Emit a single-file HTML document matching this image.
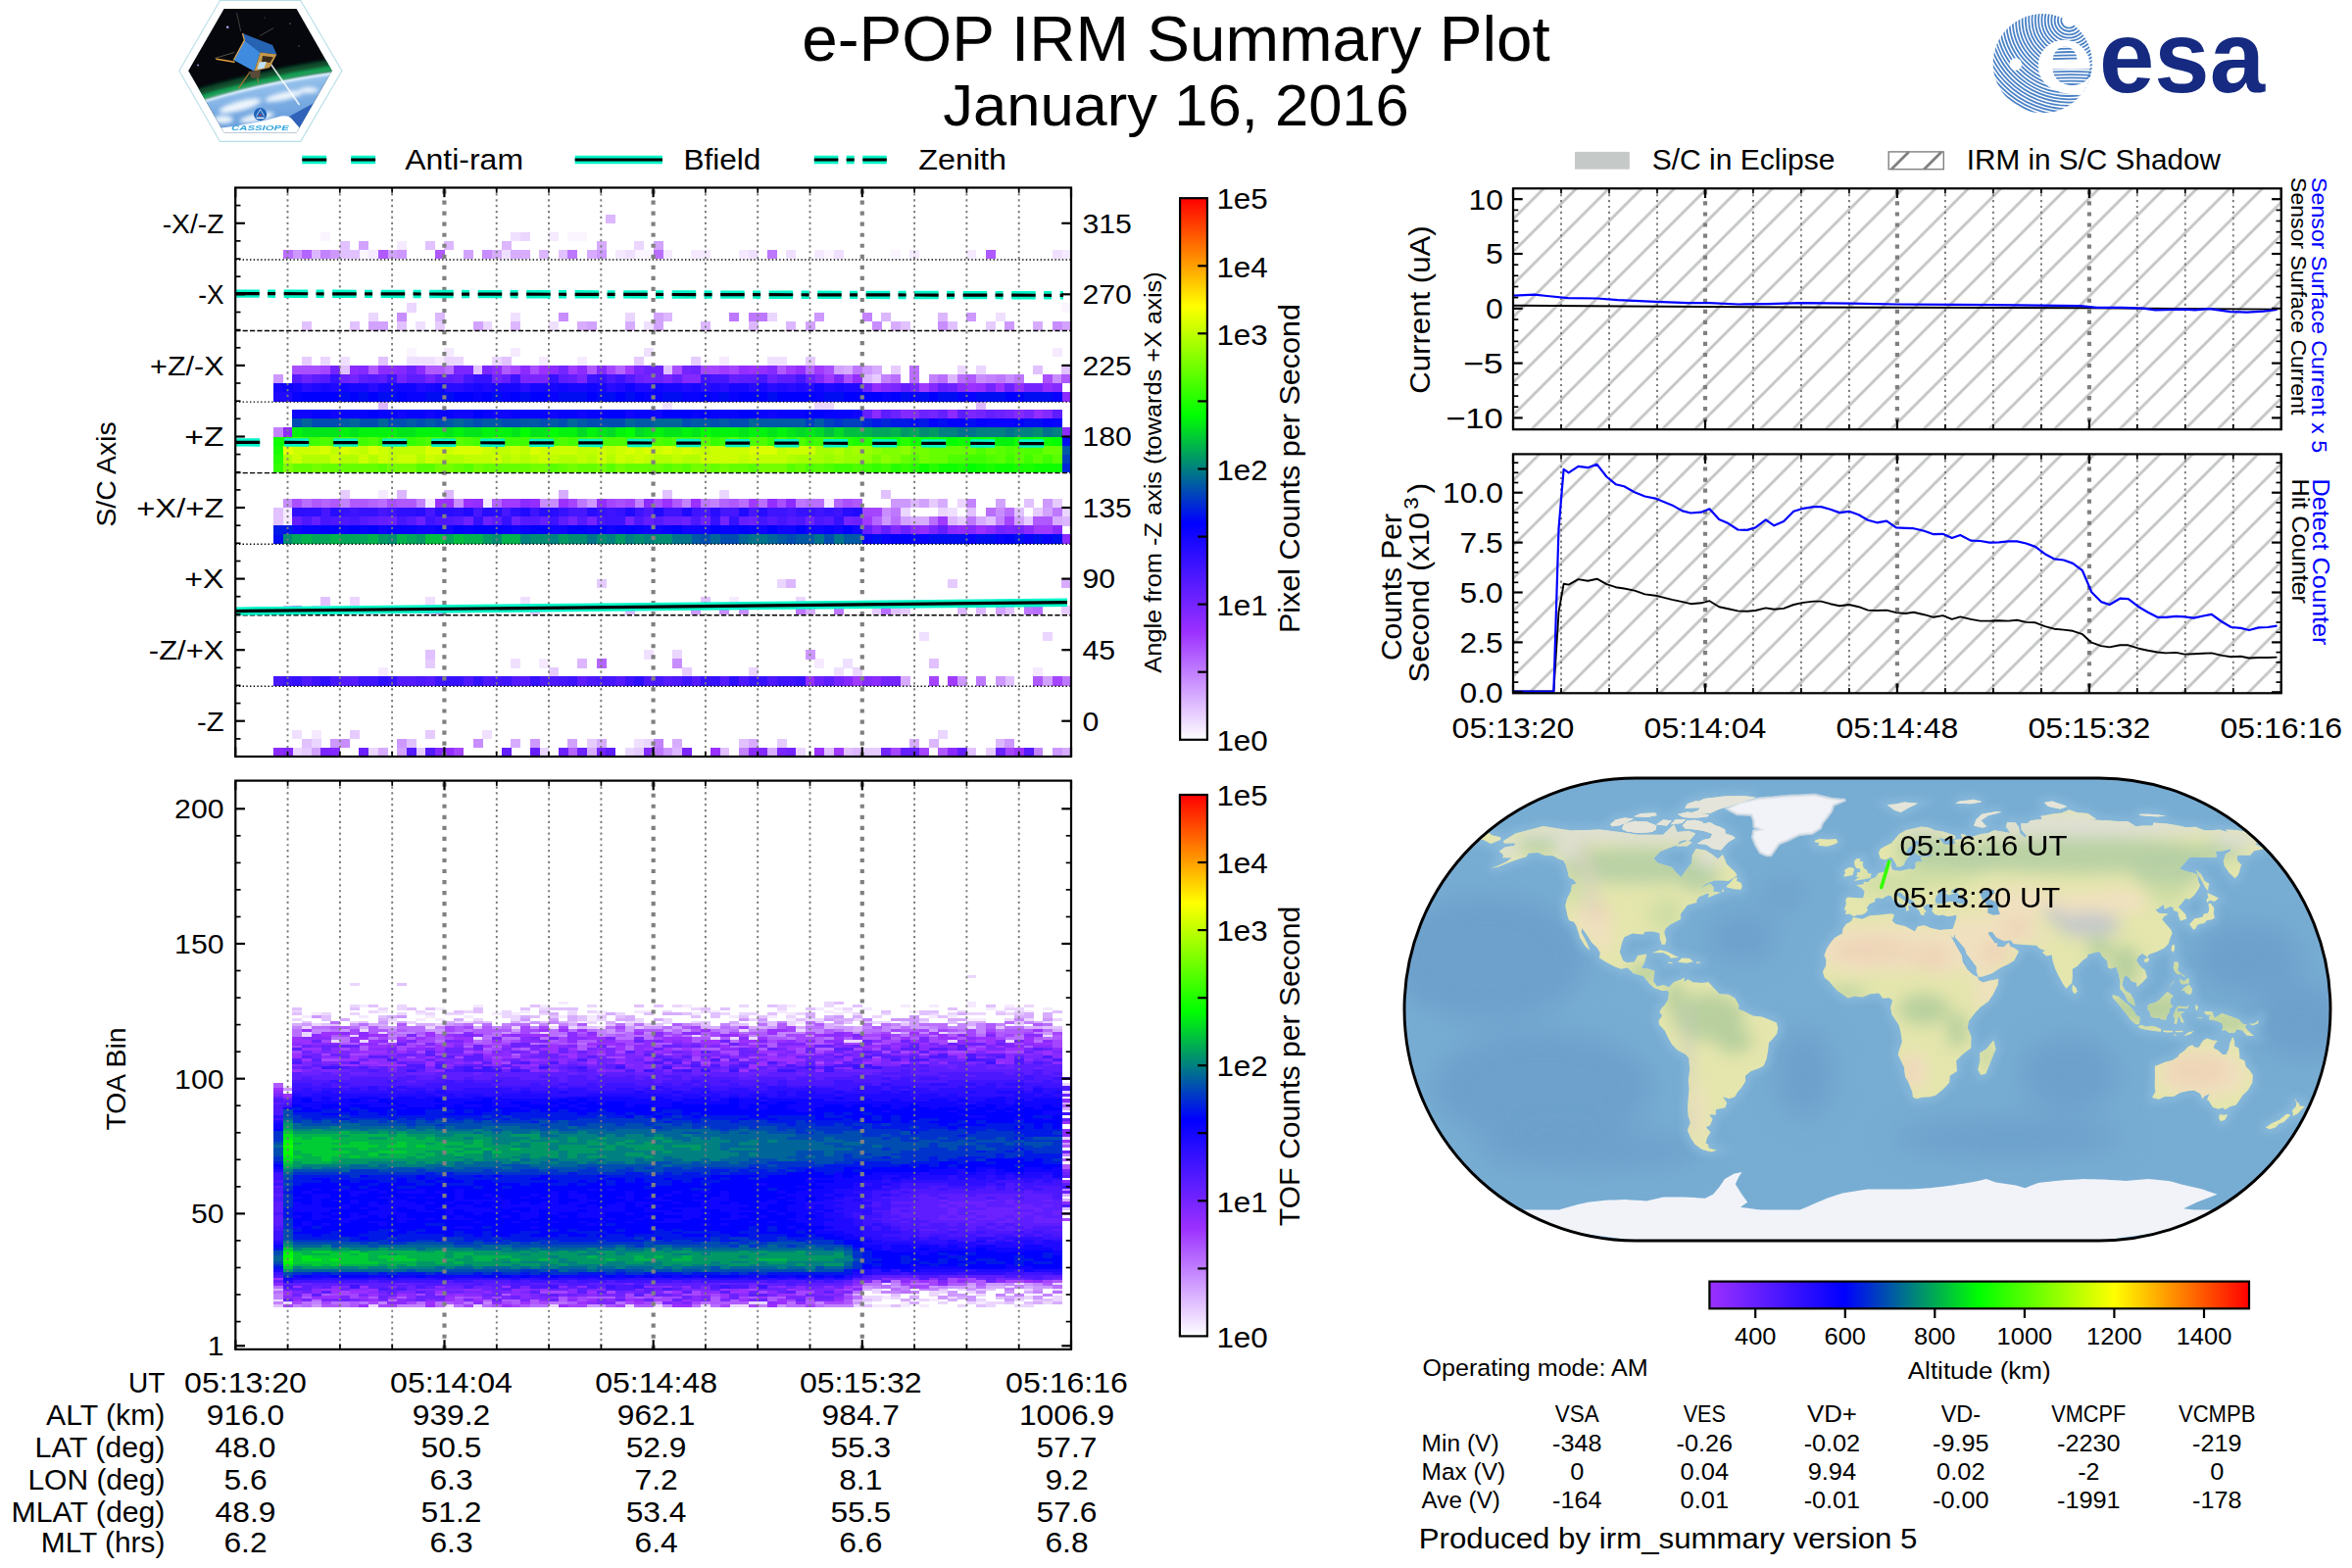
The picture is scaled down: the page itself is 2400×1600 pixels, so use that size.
<!DOCTYPE html>
<html><head><meta charset="utf-8"><title>e-POP IRM Summary Plot</title>
<style>html,body{margin:0;padding:0;background:#fff}svg{display:block}text{font-family:"Liberation Sans",sans-serif}</style>
</head><body>
<svg width="2400" height="1600" viewBox="0 0 2400 1600">
<rect width="2400" height="1600" fill="#fff"/>
<g shape-rendering="crispEdges"><path fill="#faf5ff" d="M414.6 354.8h10v9.4h-10zM1083.3 309.4h10v9.4h-10zM366.2 255h10v9.4h-10zM647.2 255h10v9.4h-10zM656.9 255h10v9.4h-10zM841 255h10v9.4h-10zM908.9 255h10v9.4h-10zM327.4 236.9h10v9.4h-10zM579.4 236.9h10v9.4h-10zM589.1 236.9h10v9.4h-10z"/><path fill="#f5eaff" d="M317.7 744.8h10v9.4h-10zM385.6 681.3h10v9.4h-10zM1054.2 681.3h10v9.4h-10zM550.3 672.2h10v9.4h-10zM831.3 672.2h10v9.4h-10zM744.1 608.7h10v9.4h-10zM288.7 527.1h10v9.4h-10zM288.7 518h10v9.4h-10zM434 509h10v9.4h-10zM492.2 509h10v9.4h-10zM841 509h10v9.4h-10zM385.6 499.9h10v9.4h-10zM443.7 363.8h10v9.4h-10zM550.3 363.8h10v9.4h-10zM589.1 363.8h10v9.4h-10zM734.4 363.8h10v9.4h-10zM453.4 354.8h10v9.4h-10zM521.2 354.8h10v9.4h-10zM1073.6 354.8h10v9.4h-10zM375.9 255h10v9.4h-10zM627.8 255h10v9.4h-10zM676.3 255h10v9.4h-10zM705.4 255h10v9.4h-10zM715.1 255h10v9.4h-10zM753.8 255h10v9.4h-10zM831.3 255h10v9.4h-10zM928.3 255h10v9.4h-10zM986.4 255h10v9.4h-10zM1083.3 255h10v9.4h-10zM404.9 245.9h10v9.4h-10zM560 236.9h10v9.4h-10z"/><path fill="#f0e0ff" d="M647.2 753.9h10v9.4h-10zM298.3 744.8h10v9.4h-10zM492.2 744.8h10v9.4h-10zM850.7 681.3h10v9.4h-10zM521.2 672.2h10v9.4h-10zM860.4 672.2h10v9.4h-10zM656.9 663.2h10v9.4h-10zM937.9 645h10v9.4h-10zM434 608.7h10v9.4h-10zM530.9 608.7h10v9.4h-10zM967 518h10v9.4h-10zM676.3 409.2h10v9.4h-10zM346.8 363.8h10v9.4h-10zM414.6 363.8h10v9.4h-10zM424.3 363.8h10v9.4h-10zM434 363.8h10v9.4h-10zM782.9 363.8h10v9.4h-10zM792.6 363.8h10v9.4h-10zM656.9 354.8h10v9.4h-10zM424.3 327.6h10v9.4h-10zM560 327.6h10v9.4h-10zM656.9 327.6h10v9.4h-10zM521.2 318.5h10v9.4h-10zM1015.5 318.5h10v9.4h-10zM511.5 255h10v9.4h-10zM637.5 255h10v9.4h-10zM763.5 255h10v9.4h-10zM802.3 255h10v9.4h-10zM850.7 255h10v9.4h-10zM1073.6 255h10v9.4h-10zM521.2 236.9h10v9.4h-10z"/><path fill="#ebd6ff" d="M298.3 762.9h10v9.4h-10zM375.9 762.9h10v9.4h-10zM550.3 762.9h10v9.4h-10zM637.5 762.9h10v9.4h-10zM812 762.9h10v9.4h-10zM317.7 753.9h10v9.4h-10zM656.9 753.9h10v9.4h-10zM957.3 744.8h10v9.4h-10zM763.5 681.3h10v9.4h-10zM870.1 681.3h10v9.4h-10zM686 663.2h10v9.4h-10zM1063.9 645h10v9.4h-10zM317.7 617.8h10v9.4h-10zM356.5 608.7h10v9.4h-10zM812 608.7h10v9.4h-10zM792.6 590.6h10v9.4h-10zM918.6 518h10v9.4h-10zM957.3 518h10v9.4h-10zM1083.3 518h10v9.4h-10zM976.7 509h10v9.4h-10zM734.4 499.9h10v9.4h-10zM831.3 409.2h10v9.4h-10zM841 409.2h10v9.4h-10zM976.7 372.9h10v9.4h-10zM996.1 372.9h10v9.4h-10zM327.4 363.8h10v9.4h-10zM453.4 363.8h10v9.4h-10zM463.1 363.8h10v9.4h-10zM501.9 363.8h10v9.4h-10zM492.2 327.6h10v9.4h-10zM375.9 318.5h10v9.4h-10zM637.5 318.5h10v9.4h-10zM782.9 318.5h10v9.4h-10zM414.6 309.4h10v9.4h-10zM647.2 245.9h10v9.4h-10zM530.9 236.9h10v9.4h-10z"/><path fill="#e6cbff" d="M308 762.9h10v9.4h-10zM424.3 762.9h10v9.4h-10zM647.2 762.9h10v9.4h-10zM879.8 762.9h10v9.4h-10zM889.5 762.9h10v9.4h-10zM1005.8 762.9h10v9.4h-10zM598.8 753.9h10v9.4h-10zM792.6 753.9h10v9.4h-10zM356.5 744.8h10v9.4h-10zM434 744.8h10v9.4h-10zM560 681.3h10v9.4h-10zM695.7 681.3h10v9.4h-10zM434 672.2h10v9.4h-10zM375.9 617.8h10v9.4h-10zM889.5 617.8h10v9.4h-10zM918.6 617.8h10v9.4h-10zM1083.3 617.8h10v9.4h-10zM608.5 590.6h10v9.4h-10zM967 590.6h10v9.4h-10zM976.7 527.1h10v9.4h-10zM1044.5 527.1h10v9.4h-10zM1054.2 518h10v9.4h-10zM947.6 509h10v9.4h-10zM1073.6 509h10v9.4h-10zM346.8 499.9h10v9.4h-10zM889.5 382h10v9.4h-10zM908.9 372.9h10v9.4h-10zM308 363.8h10v9.4h-10zM647.2 363.8h10v9.4h-10zM705.4 363.8h10v9.4h-10zM821.7 363.8h10v9.4h-10zM443.7 327.6h10v9.4h-10zM1005.8 327.6h10v9.4h-10z"/><path fill="#e1c1ff" d="M734.4 762.9h10v9.4h-10zM841 762.9h10v9.4h-10zM860.4 762.9h10v9.4h-10zM986.4 762.9h10v9.4h-10zM308 753.9h10v9.4h-10zM414.6 753.9h10v9.4h-10zM753.8 753.9h10v9.4h-10zM1025.2 690.4h10v9.4h-10zM947.6 672.2h10v9.4h-10zM434 663.2h10v9.4h-10zM434 617.8h10v9.4h-10zM540.6 617.8h10v9.4h-10zM908.9 617.8h10v9.4h-10zM1025.2 617.8h10v9.4h-10zM327.4 608.7h10v9.4h-10zM715.1 608.7h10v9.4h-10zM279 527.1h10v9.4h-10zM1005.8 527.1h10v9.4h-10zM279 518h10v9.4h-10zM986.4 518h10v9.4h-10zM1034.9 518h10v9.4h-10zM1044.5 509h10v9.4h-10zM676.3 499.9h10v9.4h-10zM899.2 499.9h10v9.4h-10zM346.8 372.9h10v9.4h-10zM482.5 372.9h10v9.4h-10zM676.3 372.9h10v9.4h-10zM1054.2 372.9h10v9.4h-10zM1083.3 372.9h10v9.4h-10zM385.6 363.8h10v9.4h-10zM511.5 363.8h10v9.4h-10zM308 327.6h10v9.4h-10zM356.5 327.6h10v9.4h-10zM404.9 327.6h10v9.4h-10zM918.6 327.6h10v9.4h-10zM967 327.6h10v9.4h-10zM346.8 255h10v9.4h-10zM356.5 255h10v9.4h-10zM569.7 255h10v9.4h-10zM346.8 245.9h10v9.4h-10zM434 245.9h10v9.4h-10z"/><path fill="#dcb7ff" d="M686 762.9h10v9.4h-10zM870.1 762.9h10v9.4h-10zM947.6 753.9h10v9.4h-10zM1015.5 753.9h10v9.4h-10zM589.1 672.2h10v9.4h-10zM288.7 617.8h10v9.4h-10zM637.5 617.8h10v9.4h-10zM976.7 617.8h10v9.4h-10zM996.1 617.8h10v9.4h-10zM802.3 590.6h10v9.4h-10zM967 527.1h10v9.4h-10zM1083.3 527.1h10v9.4h-10zM928.3 509h10v9.4h-10zM404.9 499.9h10v9.4h-10zM453.4 499.9h10v9.4h-10zM385.6 409.2h10v9.4h-10zM996.1 409.2h10v9.4h-10zM879.8 382h10v9.4h-10zM967 382h10v9.4h-10zM521.2 327.6h10v9.4h-10zM715.1 327.6h10v9.4h-10zM763.5 327.6h10v9.4h-10zM802.3 327.6h10v9.4h-10zM443.7 318.5h10v9.4h-10zM676.3 318.5h10v9.4h-10zM899.2 318.5h10v9.4h-10zM957.3 318.5h10v9.4h-10zM317.7 255h10v9.4h-10zM550.3 255h10v9.4h-10zM453.4 245.9h10v9.4h-10zM511.5 245.9h10v9.4h-10zM618.1 218.7h10v9.4h-10z"/><path fill="#d7acff" d="M385.6 762.9h10v9.4h-10zM598.8 762.9h10v9.4h-10zM782.9 762.9h10v9.4h-10zM1083.3 762.9h10v9.4h-10zM521.2 753.9h10v9.4h-10zM608.5 753.9h10v9.4h-10zM686 753.9h10v9.4h-10zM763.5 753.9h10v9.4h-10zM928.3 753.9h10v9.4h-10zM918.6 690.4h10v9.4h-10zM821.7 617.8h10v9.4h-10zM1083.3 590.6h10v9.4h-10zM928.3 527.1h10v9.4h-10zM937.9 527.1h10v9.4h-10zM996.1 527.1h10v9.4h-10zM1073.6 527.1h10v9.4h-10zM957.3 509h10v9.4h-10zM569.7 499.9h10v9.4h-10zM860.4 372.9h10v9.4h-10zM889.5 372.9h10v9.4h-10zM589.1 327.6h10v9.4h-10zM637.5 327.6h10v9.4h-10zM908.9 327.6h10v9.4h-10zM1054.2 327.6h10v9.4h-10zM501.9 255h10v9.4h-10zM521.2 255h10v9.4h-10zM530.9 255h10v9.4h-10zM598.8 255h10v9.4h-10zM608.5 245.9h10v9.4h-10z"/><path fill="#d2a2ff" d="M317.7 762.9h10v9.4h-10zM404.9 762.9h10v9.4h-10zM579.4 753.9h10v9.4h-10zM1063.9 690.4h10v9.4h-10zM1015.5 617.8h10v9.4h-10zM918.6 527.1h10v9.4h-10zM1034.9 527.1h10v9.4h-10zM1063.9 518h10v9.4h-10zM937.9 509h10v9.4h-10zM1015.5 509h10v9.4h-10zM850.7 372.9h10v9.4h-10zM375.9 327.6h10v9.4h-10zM385.6 327.6h10v9.4h-10zM482.5 327.6h10v9.4h-10zM598.8 327.6h10v9.4h-10zM666.6 327.6h10v9.4h-10zM821.7 327.6h10v9.4h-10zM1083.3 327.6h10v9.4h-10zM666.6 318.5h10v9.4h-10zM395.3 255h10v9.4h-10zM472.8 255h10v9.4h-10zM366.2 245.9h10v9.4h-10zM666.6 245.9h10v9.4h-10z"/><path fill="#cd98ff" d="M676.3 762.9h10v9.4h-10zM1073.6 762.9h10v9.4h-10zM337.1 753.9h10v9.4h-10zM404.9 753.9h10v9.4h-10zM540.6 753.9h10v9.4h-10zM1025.2 753.9h10v9.4h-10zM976.7 690.4h10v9.4h-10zM1015.5 690.4h10v9.4h-10zM821.7 663.2h10v9.4h-10zM443.7 617.8h10v9.4h-10zM705.4 617.8h10v9.4h-10zM899.2 527.1h10v9.4h-10zM598.8 509h10v9.4h-10zM908.9 509h10v9.4h-10zM918.6 509h10v9.4h-10zM1063.9 509h10v9.4h-10zM279 382h10v9.4h-10zM879.8 372.9h10v9.4h-10zM1025.2 327.6h10v9.4h-10zM831.3 318.5h10v9.4h-10zM986.4 318.5h10v9.4h-10zM298.3 255h10v9.4h-10zM337.1 255h10v9.4h-10zM404.9 255h10v9.4h-10zM608.5 255h10v9.4h-10z"/><path fill="#c88dff" d="M346.8 753.9h10v9.4h-10zM482.5 753.9h10v9.4h-10zM686 672.2h10v9.4h-10zM734.4 617.8h10v9.4h-10zM753.8 617.8h10v9.4h-10zM899.2 518h10v9.4h-10zM1015.5 518h10v9.4h-10zM288.7 509h10v9.4h-10zM463.1 509h10v9.4h-10zM550.3 509h10v9.4h-10zM560 509h10v9.4h-10zM996.1 382h10v9.4h-10zM1025.2 382h10v9.4h-10zM1073.6 382h10v9.4h-10zM889.5 327.6h10v9.4h-10zM957.3 327.6h10v9.4h-10zM1073.6 327.6h10v9.4h-10zM404.9 318.5h10v9.4h-10zM569.7 318.5h10v9.4h-10zM492.2 255h10v9.4h-10z"/><path fill="#c383ff" d="M753.8 762.9h10v9.4h-10zM1054.2 762.9h10v9.4h-10zM666.6 753.9h10v9.4h-10zM298.3 617.8h10v9.4h-10zM1015.5 527.1h10v9.4h-10zM346.8 509h10v9.4h-10zM424.3 509h10v9.4h-10zM647.2 509h10v9.4h-10zM695.7 509h10v9.4h-10zM724.7 509h10v9.4h-10zM986.4 509h10v9.4h-10zM279 436.4h10v9.4h-10zM899.2 382h10v9.4h-10zM947.6 382h10v9.4h-10zM1005.8 382h10v9.4h-10zM879.8 318.5h10v9.4h-10zM327.4 255h10v9.4h-10z"/><path fill="#be78ff" d="M666.6 762.9h10v9.4h-10zM996.1 690.4h10v9.4h-10zM1083.3 690.4h10v9.4h-10zM812 617.8h10v9.4h-10zM850.7 617.8h10v9.4h-10zM1044.5 617.8h10v9.4h-10zM986.4 527.1h10v9.4h-10zM908.9 518h10v9.4h-10zM1073.6 518h10v9.4h-10zM589.1 509h10v9.4h-10zM715.1 509h10v9.4h-10zM812 509h10v9.4h-10zM1015.5 382h10v9.4h-10zM1034.9 382h10v9.4h-10zM870.1 372.9h10v9.4h-10zM744.1 318.5h10v9.4h-10zM763.5 318.5h10v9.4h-10zM773.2 318.5h10v9.4h-10zM579.4 255h10v9.4h-10zM782.9 255h10v9.4h-10z"/><path fill="#b96eff" d="M899.2 617.8h10v9.4h-10zM1054.2 617.8h10v9.4h-10zM908.9 527.1h10v9.4h-10zM947.6 527.1h10v9.4h-10zM1005.8 518h10v9.4h-10zM1025.2 518h10v9.4h-10zM308 509h10v9.4h-10zM385.6 509h10v9.4h-10zM753.8 509h10v9.4h-10zM773.2 509h10v9.4h-10zM821.7 509h10v9.4h-10zM831.3 509h10v9.4h-10zM908.9 382h10v9.4h-10zM928.3 382h10v9.4h-10zM957.3 382h10v9.4h-10zM976.7 382h10v9.4h-10zM453.4 372.9h10v9.4h-10zM928.3 372.9h10v9.4h-10zM288.7 255h10v9.4h-10zM666.6 255h10v9.4h-10z"/><path fill="#b464ff" d="M579.4 762.9h10v9.4h-10zM608.5 672.2h10v9.4h-10zM889.5 527.1h10v9.4h-10zM327.4 509h10v9.4h-10zM375.9 509h10v9.4h-10zM501.9 509h10v9.4h-10zM734.4 509h10v9.4h-10zM850.7 509h10v9.4h-10zM627.8 372.9h10v9.4h-10zM821.7 372.9h10v9.4h-10zM308 255h10v9.4h-10z"/><path fill="#af59ff" d="M957.3 762.9h10v9.4h-10zM1054.2 690.4h10v9.4h-10zM1054.2 527.1h10v9.4h-10zM1063.9 527.1h10v9.4h-10zM317.7 509h10v9.4h-10zM337.1 509h10v9.4h-10zM356.5 509h10v9.4h-10zM366.2 509h10v9.4h-10zM404.9 509h10v9.4h-10zM414.6 509h10v9.4h-10zM686 509h10v9.4h-10zM744.1 509h10v9.4h-10zM870.1 509h10v9.4h-10zM986.4 382h10v9.4h-10zM1083.3 382h10v9.4h-10zM375.9 372.9h10v9.4h-10zM434 372.9h10v9.4h-10zM443.7 372.9h10v9.4h-10zM511.5 372.9h10v9.4h-10zM598.8 372.9h10v9.4h-10zM792.6 372.9h10v9.4h-10zM385.6 255h10v9.4h-10zM443.7 255h10v9.4h-10zM1005.8 255h10v9.4h-10z"/><path fill="#aa4fff" d="M298.3 509h10v9.4h-10zM395.3 509h10v9.4h-10zM627.8 509h10v9.4h-10zM666.6 509h10v9.4h-10zM792.6 509h10v9.4h-10zM860.4 509h10v9.4h-10zM860.4 382h10v9.4h-10zM1063.9 382h10v9.4h-10zM298.3 372.9h10v9.4h-10zM308 372.9h10v9.4h-10zM317.7 372.9h10v9.4h-10zM540.6 372.9h10v9.4h-10zM686 372.9h10v9.4h-10zM841 372.9h10v9.4h-10z"/><path fill="#a545ff" d="M463.1 762.9h10v9.4h-10zM908.9 762.9h10v9.4h-10zM937.9 762.9h10v9.4h-10zM1025.2 762.9h10v9.4h-10zM947.6 690.4h10v9.4h-10zM1073.6 690.4h10v9.4h-10zM1025.2 527.1h10v9.4h-10zM879.8 518h10v9.4h-10zM889.5 518h10v9.4h-10zM579.4 509h10v9.4h-10zM618.1 509h10v9.4h-10zM637.5 509h10v9.4h-10zM327.4 372.9h10v9.4h-10zM521.2 372.9h10v9.4h-10zM618.1 372.9h10v9.4h-10zM715.1 372.9h10v9.4h-10zM724.7 372.9h10v9.4h-10zM744.1 372.9h10v9.4h-10z"/><path fill="#a03aff" d="M850.7 762.9h10v9.4h-10zM870.1 690.4h10v9.4h-10zM967 690.4h10v9.4h-10zM1054.2 536.2h10v9.4h-10zM1063.9 536.2h10v9.4h-10zM879.8 527.1h10v9.4h-10zM957.3 527.1h10v9.4h-10zM511.5 509h10v9.4h-10zM521.2 509h10v9.4h-10zM763.5 509h10v9.4h-10zM937.9 391h10v9.4h-10zM841 382h10v9.4h-10zM579.4 372.9h10v9.4h-10zM637.5 372.9h10v9.4h-10zM734.4 372.9h10v9.4h-10zM802.3 372.9h10v9.4h-10zM831.3 372.9h10v9.4h-10z"/><path fill="#9b30ff" d="M724.7 762.9h10v9.4h-10zM831.3 762.9h10v9.4h-10zM1034.9 762.9h10v9.4h-10zM996.1 536.2h10v9.4h-10zM443.7 509h10v9.4h-10zM453.4 509h10v9.4h-10zM472.8 509h10v9.4h-10zM569.7 509h10v9.4h-10zM676.3 509h10v9.4h-10zM705.4 509h10v9.4h-10zM986.4 391h10v9.4h-10zM1015.5 391h10v9.4h-10zM550.3 372.9h10v9.4h-10zM763.5 372.9h10v9.4h-10z"/><path fill="#932eff" d="M453.4 762.9h10v9.4h-10zM821.7 690.4h10v9.4h-10zM937.9 536.2h10v9.4h-10zM976.7 536.2h10v9.4h-10zM482.5 509h10v9.4h-10zM540.6 509h10v9.4h-10zM608.5 509h10v9.4h-10zM782.9 509h10v9.4h-10zM1054.2 418.3h10v9.4h-10zM889.5 391h10v9.4h-10zM996.1 391h10v9.4h-10zM1034.9 391h10v9.4h-10zM1063.9 391h10v9.4h-10zM870.1 382h10v9.4h-10zM753.8 372.9h10v9.4h-10zM773.2 372.9h10v9.4h-10zM812 372.9h10v9.4h-10z"/><path fill="#8c2bff" d="M279 762.9h10v9.4h-10zM763.5 762.9h10v9.4h-10zM967 762.9h10v9.4h-10zM889.5 690.4h10v9.4h-10zM1083.3 545.2h10v9.4h-10zM928.3 536.2h10v9.4h-10zM967 536.2h10v9.4h-10zM1005.8 536.2h10v9.4h-10zM1044.5 536.2h10v9.4h-10zM1073.6 536.2h10v9.4h-10zM530.9 509h10v9.4h-10zM656.9 509h10v9.4h-10zM802.3 509h10v9.4h-10zM288.7 436.4h10v9.4h-10zM1083.3 436.4h10v9.4h-10zM889.5 418.3h10v9.4h-10zM967 418.3h10v9.4h-10zM1083.3 400.1h10v9.4h-10zM976.7 391h10v9.4h-10zM356.5 372.9h10v9.4h-10zM385.6 372.9h10v9.4h-10zM395.3 372.9h10v9.4h-10zM424.3 372.9h10v9.4h-10zM501.9 372.9h10v9.4h-10zM530.9 372.9h10v9.4h-10zM560 372.9h10v9.4h-10zM589.1 372.9h10v9.4h-10z"/><path fill="#8429ff" d="M288.7 762.9h10v9.4h-10zM337.1 762.9h10v9.4h-10zM443.7 762.9h10v9.4h-10zM656.9 762.9h10v9.4h-10zM773.2 762.9h10v9.4h-10zM860.4 690.4h10v9.4h-10zM879.8 690.4h10v9.4h-10zM889.5 536.2h10v9.4h-10zM908.9 536.2h10v9.4h-10zM986.4 536.2h10v9.4h-10zM918.6 418.3h10v9.4h-10zM928.3 418.3h10v9.4h-10zM1034.9 418.3h10v9.4h-10zM1063.9 418.3h10v9.4h-10zM899.2 391h10v9.4h-10zM947.6 391h10v9.4h-10zM1073.6 391h10v9.4h-10zM695.7 382h10v9.4h-10zM705.4 382h10v9.4h-10zM831.3 382h10v9.4h-10zM366.2 372.9h10v9.4h-10zM404.9 372.9h10v9.4h-10zM608.5 372.9h10v9.4h-10zM782.9 372.9h10v9.4h-10z"/><path fill="#7c26ff" d="M327.4 762.9h10v9.4h-10zM695.7 762.9h10v9.4h-10zM792.6 762.9h10v9.4h-10zM947.6 536.2h10v9.4h-10zM1025.2 536.2h10v9.4h-10zM986.4 418.3h10v9.4h-10zM908.9 391h10v9.4h-10zM530.9 382h10v9.4h-10zM540.6 382h10v9.4h-10zM550.3 382h10v9.4h-10zM589.1 382h10v9.4h-10zM676.3 382h10v9.4h-10zM850.7 382h10v9.4h-10zM463.1 372.9h10v9.4h-10zM472.8 372.9h10v9.4h-10zM492.2 372.9h10v9.4h-10zM647.2 372.9h10v9.4h-10z"/><path fill="#7424ff" d="M608.5 762.9h10v9.4h-10zM802.3 762.9h10v9.4h-10zM899.2 762.9h10v9.4h-10zM850.7 690.4h10v9.4h-10zM899.2 690.4h10v9.4h-10zM908.9 690.4h10v9.4h-10zM1015.5 536.2h10v9.4h-10zM1034.9 536.2h10v9.4h-10zM579.4 527.1h10v9.4h-10zM598.8 527.1h10v9.4h-10zM637.5 527.1h10v9.4h-10zM734.4 527.1h10v9.4h-10zM860.4 527.1h10v9.4h-10zM947.6 418.3h10v9.4h-10zM996.1 418.3h10v9.4h-10zM1025.2 418.3h10v9.4h-10zM1044.5 418.3h10v9.4h-10zM928.3 391h10v9.4h-10zM1005.8 391h10v9.4h-10zM1044.5 391h10v9.4h-10zM1054.2 391h10v9.4h-10zM356.5 382h10v9.4h-10zM404.9 382h10v9.4h-10zM434 382h10v9.4h-10zM501.9 382h10v9.4h-10zM656.9 382h10v9.4h-10zM337.1 372.9h10v9.4h-10zM569.7 372.9h10v9.4h-10zM695.7 372.9h10v9.4h-10z"/><path fill="#6c22ff" d="M366.2 762.9h10v9.4h-10zM569.7 762.9h10v9.4h-10zM589.1 762.9h10v9.4h-10zM1015.5 762.9h10v9.4h-10zM831.3 690.4h10v9.4h-10zM918.6 536.2h10v9.4h-10zM395.3 527.1h10v9.4h-10zM424.3 527.1h10v9.4h-10zM472.8 527.1h10v9.4h-10zM492.2 527.1h10v9.4h-10zM521.2 527.1h10v9.4h-10zM695.7 527.1h10v9.4h-10zM715.1 527.1h10v9.4h-10zM763.5 527.1h10v9.4h-10zM821.7 527.1h10v9.4h-10zM870.1 527.1h10v9.4h-10zM908.9 418.3h10v9.4h-10zM937.9 418.3h10v9.4h-10zM1015.5 418.3h10v9.4h-10zM879.8 391h10v9.4h-10zM967 391h10v9.4h-10zM1025.2 391h10v9.4h-10zM308 382h10v9.4h-10zM346.8 382h10v9.4h-10zM647.2 382h10v9.4h-10zM666.6 382h10v9.4h-10zM782.9 382h10v9.4h-10zM821.7 382h10v9.4h-10zM414.6 372.9h10v9.4h-10zM656.9 372.9h10v9.4h-10zM666.6 372.9h10v9.4h-10zM705.4 372.9h10v9.4h-10z"/><path fill="#651fff" d="M511.5 762.9h10v9.4h-10zM540.6 762.9h10v9.4h-10zM918.6 762.9h10v9.4h-10zM928.3 762.9h10v9.4h-10zM976.7 762.9h10v9.4h-10zM879.8 536.2h10v9.4h-10zM899.2 536.2h10v9.4h-10zM957.3 536.2h10v9.4h-10zM298.3 527.1h10v9.4h-10zM317.7 527.1h10v9.4h-10zM385.6 527.1h10v9.4h-10zM550.3 527.1h10v9.4h-10zM656.9 527.1h10v9.4h-10zM676.3 527.1h10v9.4h-10zM686 527.1h10v9.4h-10zM753.8 527.1h10v9.4h-10zM879.8 418.3h10v9.4h-10zM957.3 418.3h10v9.4h-10zM1005.8 418.3h10v9.4h-10zM918.6 391h10v9.4h-10zM957.3 391h10v9.4h-10zM463.1 382h10v9.4h-10zM511.5 382h10v9.4h-10zM579.4 382h10v9.4h-10zM686 382h10v9.4h-10zM744.1 382h10v9.4h-10z"/><path fill="#5d1dff" d="M618.1 762.9h10v9.4h-10zM589.1 690.4h10v9.4h-10zM841 690.4h10v9.4h-10zM375.9 527.1h10v9.4h-10zM501.9 527.1h10v9.4h-10zM569.7 527.1h10v9.4h-10zM899.2 418.3h10v9.4h-10zM976.7 418.3h10v9.4h-10zM1073.6 418.3h10v9.4h-10zM317.7 382h10v9.4h-10zM366.2 382h10v9.4h-10zM385.6 382h10v9.4h-10zM414.6 382h10v9.4h-10zM424.3 382h10v9.4h-10zM443.7 382h10v9.4h-10zM453.4 382h10v9.4h-10zM569.7 382h10v9.4h-10zM753.8 382h10v9.4h-10zM763.5 382h10v9.4h-10zM792.6 382h10v9.4h-10zM802.3 382h10v9.4h-10z"/><path fill="#551aff" d="M414.6 762.9h10v9.4h-10zM434 762.9h10v9.4h-10zM1044.5 762.9h10v9.4h-10zM346.8 690.4h10v9.4h-10zM356.5 690.4h10v9.4h-10zM404.9 690.4h10v9.4h-10zM414.6 690.4h10v9.4h-10zM434 690.4h10v9.4h-10zM521.2 690.4h10v9.4h-10zM530.9 690.4h10v9.4h-10zM627.8 690.4h10v9.4h-10zM676.3 690.4h10v9.4h-10zM705.4 690.4h10v9.4h-10zM734.4 690.4h10v9.4h-10zM366.2 527.1h10v9.4h-10zM414.6 527.1h10v9.4h-10zM463.1 527.1h10v9.4h-10zM530.9 527.1h10v9.4h-10zM540.6 527.1h10v9.4h-10zM589.1 527.1h10v9.4h-10zM666.6 527.1h10v9.4h-10zM782.9 527.1h10v9.4h-10zM802.3 527.1h10v9.4h-10zM841 527.1h10v9.4h-10zM298.3 382h10v9.4h-10zM327.4 382h10v9.4h-10zM375.9 382h10v9.4h-10zM637.5 382h10v9.4h-10z"/><path fill="#4e18ff" d="M308 690.4h10v9.4h-10zM424.3 690.4h10v9.4h-10zM472.8 690.4h10v9.4h-10zM492.2 690.4h10v9.4h-10zM550.3 690.4h10v9.4h-10zM560 690.4h10v9.4h-10zM598.8 690.4h10v9.4h-10zM656.9 690.4h10v9.4h-10zM686 690.4h10v9.4h-10zM753.8 690.4h10v9.4h-10zM782.9 690.4h10v9.4h-10zM308 527.1h10v9.4h-10zM337.1 527.1h10v9.4h-10zM346.8 527.1h10v9.4h-10zM443.7 527.1h10v9.4h-10zM453.4 527.1h10v9.4h-10zM647.2 527.1h10v9.4h-10zM705.4 527.1h10v9.4h-10zM812 527.1h10v9.4h-10zM831.3 527.1h10v9.4h-10zM656.9 518h10v9.4h-10zM618.1 382h10v9.4h-10z"/><path fill="#4616ff" d="M279 690.4h10v9.4h-10zM337.1 690.4h10v9.4h-10zM501.9 690.4h10v9.4h-10zM569.7 690.4h10v9.4h-10zM608.5 690.4h10v9.4h-10zM618.1 690.4h10v9.4h-10zM666.6 690.4h10v9.4h-10zM327.4 527.1h10v9.4h-10zM356.5 527.1h10v9.4h-10zM404.9 527.1h10v9.4h-10zM608.5 527.1h10v9.4h-10zM773.2 527.1h10v9.4h-10zM792.6 527.1h10v9.4h-10zM327.4 518h10v9.4h-10zM385.6 518h10v9.4h-10zM434 518h10v9.4h-10zM482.5 518h10v9.4h-10zM511.5 518h10v9.4h-10zM579.4 518h10v9.4h-10zM589.1 518h10v9.4h-10zM715.1 518h10v9.4h-10zM734.4 518h10v9.4h-10zM744.1 518h10v9.4h-10zM763.5 518h10v9.4h-10zM802.3 518h10v9.4h-10zM472.8 382h10v9.4h-10zM724.7 382h10v9.4h-10zM734.4 382h10v9.4h-10zM773.2 382h10v9.4h-10zM812 382h10v9.4h-10z"/><path fill="#3e13ff" d="M288.7 690.4h10v9.4h-10zM317.7 690.4h10v9.4h-10zM366.2 690.4h10v9.4h-10zM375.9 690.4h10v9.4h-10zM443.7 690.4h10v9.4h-10zM511.5 690.4h10v9.4h-10zM579.4 690.4h10v9.4h-10zM637.5 690.4h10v9.4h-10zM695.7 690.4h10v9.4h-10zM792.6 690.4h10v9.4h-10zM802.3 690.4h10v9.4h-10zM434 527.1h10v9.4h-10zM560 527.1h10v9.4h-10zM618.1 527.1h10v9.4h-10zM627.8 527.1h10v9.4h-10zM356.5 518h10v9.4h-10zM395.3 518h10v9.4h-10zM540.6 518h10v9.4h-10zM618.1 518h10v9.4h-10zM647.2 518h10v9.4h-10zM676.3 518h10v9.4h-10zM686 518h10v9.4h-10zM705.4 518h10v9.4h-10zM782.9 518h10v9.4h-10zM792.6 518h10v9.4h-10zM831.3 518h10v9.4h-10zM850.7 518h10v9.4h-10zM395.3 382h10v9.4h-10zM521.2 382h10v9.4h-10zM598.8 382h10v9.4h-10zM627.8 382h10v9.4h-10zM715.1 382h10v9.4h-10z"/><path fill="#3611ff" d="M298.3 690.4h10v9.4h-10zM395.3 690.4h10v9.4h-10zM453.4 690.4h10v9.4h-10zM463.1 690.4h10v9.4h-10zM482.5 690.4h10v9.4h-10zM540.6 690.4h10v9.4h-10zM715.1 690.4h10v9.4h-10zM724.7 690.4h10v9.4h-10zM763.5 690.4h10v9.4h-10zM773.2 690.4h10v9.4h-10zM812 690.4h10v9.4h-10zM482.5 527.1h10v9.4h-10zM511.5 527.1h10v9.4h-10zM724.7 527.1h10v9.4h-10zM744.1 527.1h10v9.4h-10zM850.7 527.1h10v9.4h-10zM346.8 518h10v9.4h-10zM366.2 518h10v9.4h-10zM375.9 518h10v9.4h-10zM569.7 518h10v9.4h-10zM608.5 518h10v9.4h-10zM627.8 518h10v9.4h-10zM812 518h10v9.4h-10zM821.7 518h10v9.4h-10zM841 518h10v9.4h-10zM337.1 382h10v9.4h-10zM482.5 382h10v9.4h-10zM492.2 382h10v9.4h-10zM560 382h10v9.4h-10zM608.5 382h10v9.4h-10z"/><path fill="#2e0eff" d="M327.4 690.4h10v9.4h-10zM385.6 690.4h10v9.4h-10zM647.2 690.4h10v9.4h-10zM744.1 690.4h10v9.4h-10zM298.3 518h10v9.4h-10zM308 518h10v9.4h-10zM317.7 518h10v9.4h-10zM404.9 518h10v9.4h-10zM414.6 518h10v9.4h-10zM463.1 518h10v9.4h-10zM521.2 518h10v9.4h-10z"/><path fill="#270cff" d="M337.1 518h10v9.4h-10zM424.3 518h10v9.4h-10zM443.7 518h10v9.4h-10zM453.4 518h10v9.4h-10zM492.2 518h10v9.4h-10zM501.9 518h10v9.4h-10zM550.3 518h10v9.4h-10zM560 518h10v9.4h-10zM598.8 518h10v9.4h-10zM724.7 518h10v9.4h-10zM773.2 518h10v9.4h-10zM860.4 518h10v9.4h-10zM308 391h10v9.4h-10zM375.9 391h10v9.4h-10zM453.4 391h10v9.4h-10zM463.1 391h10v9.4h-10zM530.9 391h10v9.4h-10zM618.1 391h10v9.4h-10zM715.1 391h10v9.4h-10zM734.4 391h10v9.4h-10zM763.5 391h10v9.4h-10zM782.9 391h10v9.4h-10zM802.3 391h10v9.4h-10zM821.7 391h10v9.4h-10z"/><path fill="#1f0aff" d="M472.8 518h10v9.4h-10zM530.9 518h10v9.4h-10zM637.5 518h10v9.4h-10zM666.6 518h10v9.4h-10zM695.7 518h10v9.4h-10zM753.8 518h10v9.4h-10zM870.1 518h10v9.4h-10zM279 400.1h10v9.4h-10zM288.7 400.1h10v9.4h-10zM317.7 391h10v9.4h-10zM337.1 391h10v9.4h-10zM424.3 391h10v9.4h-10zM472.8 391h10v9.4h-10zM492.2 391h10v9.4h-10zM627.8 391h10v9.4h-10zM647.2 391h10v9.4h-10zM656.9 391h10v9.4h-10zM695.7 391h10v9.4h-10zM724.7 391h10v9.4h-10zM792.6 391h10v9.4h-10zM812 391h10v9.4h-10zM841 391h10v9.4h-10zM860.4 391h10v9.4h-10zM870.1 391h10v9.4h-10z"/><path fill="#1707ff" d="M279 391h10v9.4h-10zM298.3 391h10v9.4h-10zM327.4 391h10v9.4h-10zM356.5 391h10v9.4h-10zM366.2 391h10v9.4h-10zM385.6 391h10v9.4h-10zM395.3 391h10v9.4h-10zM434 391h10v9.4h-10zM482.5 391h10v9.4h-10zM501.9 391h10v9.4h-10zM511.5 391h10v9.4h-10zM521.2 391h10v9.4h-10zM540.6 391h10v9.4h-10zM550.3 391h10v9.4h-10zM560 391h10v9.4h-10zM579.4 391h10v9.4h-10zM589.1 391h10v9.4h-10zM608.5 391h10v9.4h-10zM676.3 391h10v9.4h-10zM686 391h10v9.4h-10zM705.4 391h10v9.4h-10zM744.1 391h10v9.4h-10zM753.8 391h10v9.4h-10zM773.2 391h10v9.4h-10zM850.7 391h10v9.4h-10z"/><path fill="#1005ff" d="M298.3 536.2h10v9.4h-10zM385.6 536.2h10v9.4h-10zM424.3 536.2h10v9.4h-10zM434 536.2h10v9.4h-10zM453.4 536.2h10v9.4h-10zM521.2 536.2h10v9.4h-10zM560 536.2h10v9.4h-10zM569.7 536.2h10v9.4h-10zM618.1 536.2h10v9.4h-10zM656.9 536.2h10v9.4h-10zM666.6 536.2h10v9.4h-10zM695.7 536.2h10v9.4h-10zM705.4 536.2h10v9.4h-10zM715.1 536.2h10v9.4h-10zM773.2 536.2h10v9.4h-10zM792.6 536.2h10v9.4h-10zM802.3 536.2h10v9.4h-10zM821.7 536.2h10v9.4h-10zM831.3 536.2h10v9.4h-10zM850.7 536.2h10v9.4h-10zM870.1 536.2h10v9.4h-10zM298.3 418.3h10v9.4h-10zM308 418.3h10v9.4h-10zM337.1 418.3h10v9.4h-10zM404.9 418.3h10v9.4h-10zM434 418.3h10v9.4h-10zM463.1 418.3h10v9.4h-10zM472.8 418.3h10v9.4h-10zM501.9 418.3h10v9.4h-10zM511.5 418.3h10v9.4h-10zM560 418.3h10v9.4h-10zM589.1 418.3h10v9.4h-10zM637.5 418.3h10v9.4h-10zM666.6 418.3h10v9.4h-10zM782.9 418.3h10v9.4h-10zM870.1 418.3h10v9.4h-10zM288.7 391h10v9.4h-10zM346.8 391h10v9.4h-10zM404.9 391h10v9.4h-10zM414.6 391h10v9.4h-10zM443.7 391h10v9.4h-10zM569.7 391h10v9.4h-10zM598.8 391h10v9.4h-10zM637.5 391h10v9.4h-10zM666.6 391h10v9.4h-10zM831.3 391h10v9.4h-10z"/><path fill="#0802ff" d="M879.8 545.2h10v9.4h-10zM899.2 545.2h10v9.4h-10zM928.3 545.2h10v9.4h-10zM937.9 545.2h10v9.4h-10zM986.4 545.2h10v9.4h-10zM1015.5 545.2h10v9.4h-10zM1044.5 545.2h10v9.4h-10zM1063.9 545.2h10v9.4h-10zM308 536.2h10v9.4h-10zM317.7 536.2h10v9.4h-10zM346.8 536.2h10v9.4h-10zM366.2 536.2h10v9.4h-10zM395.3 536.2h10v9.4h-10zM404.9 536.2h10v9.4h-10zM414.6 536.2h10v9.4h-10zM443.7 536.2h10v9.4h-10zM472.8 536.2h10v9.4h-10zM511.5 536.2h10v9.4h-10zM530.9 536.2h10v9.4h-10zM598.8 536.2h10v9.4h-10zM627.8 536.2h10v9.4h-10zM647.2 536.2h10v9.4h-10zM676.3 536.2h10v9.4h-10zM734.4 536.2h10v9.4h-10zM744.1 536.2h10v9.4h-10zM763.5 536.2h10v9.4h-10zM841 536.2h10v9.4h-10zM1005.8 427.3h10v9.4h-10zM1015.5 427.3h10v9.4h-10zM1025.2 427.3h10v9.4h-10zM1073.6 427.3h10v9.4h-10zM317.7 418.3h10v9.4h-10zM327.4 418.3h10v9.4h-10zM346.8 418.3h10v9.4h-10zM356.5 418.3h10v9.4h-10zM366.2 418.3h10v9.4h-10zM385.6 418.3h10v9.4h-10zM395.3 418.3h10v9.4h-10zM414.6 418.3h10v9.4h-10zM424.3 418.3h10v9.4h-10zM443.7 418.3h10v9.4h-10zM453.4 418.3h10v9.4h-10zM492.2 418.3h10v9.4h-10zM521.2 418.3h10v9.4h-10zM530.9 418.3h10v9.4h-10zM540.6 418.3h10v9.4h-10zM550.3 418.3h10v9.4h-10zM569.7 418.3h10v9.4h-10zM579.4 418.3h10v9.4h-10zM598.8 418.3h10v9.4h-10zM608.5 418.3h10v9.4h-10zM647.2 418.3h10v9.4h-10zM656.9 418.3h10v9.4h-10zM705.4 418.3h10v9.4h-10zM724.7 418.3h10v9.4h-10zM734.4 418.3h10v9.4h-10zM744.1 418.3h10v9.4h-10zM773.2 418.3h10v9.4h-10zM792.6 418.3h10v9.4h-10zM802.3 418.3h10v9.4h-10zM812 418.3h10v9.4h-10zM841 418.3h10v9.4h-10zM850.7 418.3h10v9.4h-10zM860.4 418.3h10v9.4h-10zM298.3 400.1h10v9.4h-10zM414.6 400.1h10v9.4h-10zM424.3 400.1h10v9.4h-10zM482.5 400.1h10v9.4h-10zM511.5 400.1h10v9.4h-10zM560 400.1h10v9.4h-10zM656.9 400.1h10v9.4h-10zM666.6 400.1h10v9.4h-10zM695.7 400.1h10v9.4h-10zM705.4 400.1h10v9.4h-10zM724.7 400.1h10v9.4h-10zM744.1 400.1h10v9.4h-10zM831.3 400.1h10v9.4h-10zM899.2 400.1h10v9.4h-10zM928.3 400.1h10v9.4h-10zM976.7 400.1h10v9.4h-10zM986.4 400.1h10v9.4h-10zM1073.6 400.1h10v9.4h-10z"/><path fill="#0000ff" d="M908.9 545.2h10v9.4h-10zM918.6 545.2h10v9.4h-10zM1025.2 545.2h10v9.4h-10zM327.4 536.2h10v9.4h-10zM337.1 536.2h10v9.4h-10zM356.5 536.2h10v9.4h-10zM375.9 536.2h10v9.4h-10zM463.1 536.2h10v9.4h-10zM482.5 536.2h10v9.4h-10zM492.2 536.2h10v9.4h-10zM501.9 536.2h10v9.4h-10zM540.6 536.2h10v9.4h-10zM550.3 536.2h10v9.4h-10zM579.4 536.2h10v9.4h-10zM589.1 536.2h10v9.4h-10zM608.5 536.2h10v9.4h-10zM637.5 536.2h10v9.4h-10zM686 536.2h10v9.4h-10zM724.7 536.2h10v9.4h-10zM753.8 536.2h10v9.4h-10zM782.9 536.2h10v9.4h-10zM812 536.2h10v9.4h-10zM860.4 536.2h10v9.4h-10zM947.6 427.3h10v9.4h-10zM967 427.3h10v9.4h-10zM976.7 427.3h10v9.4h-10zM996.1 427.3h10v9.4h-10zM1034.9 427.3h10v9.4h-10zM1063.9 427.3h10v9.4h-10zM375.9 418.3h10v9.4h-10zM482.5 418.3h10v9.4h-10zM618.1 418.3h10v9.4h-10zM627.8 418.3h10v9.4h-10zM676.3 418.3h10v9.4h-10zM686 418.3h10v9.4h-10zM695.7 418.3h10v9.4h-10zM715.1 418.3h10v9.4h-10zM753.8 418.3h10v9.4h-10zM763.5 418.3h10v9.4h-10zM821.7 418.3h10v9.4h-10zM831.3 418.3h10v9.4h-10zM308 400.1h10v9.4h-10zM317.7 400.1h10v9.4h-10zM327.4 400.1h10v9.4h-10zM337.1 400.1h10v9.4h-10zM356.5 400.1h10v9.4h-10zM375.9 400.1h10v9.4h-10zM404.9 400.1h10v9.4h-10zM463.1 400.1h10v9.4h-10zM472.8 400.1h10v9.4h-10zM492.2 400.1h10v9.4h-10zM521.2 400.1h10v9.4h-10zM540.6 400.1h10v9.4h-10zM550.3 400.1h10v9.4h-10zM598.8 400.1h10v9.4h-10zM627.8 400.1h10v9.4h-10zM647.2 400.1h10v9.4h-10zM715.1 400.1h10v9.4h-10zM753.8 400.1h10v9.4h-10zM763.5 400.1h10v9.4h-10zM773.2 400.1h10v9.4h-10zM792.6 400.1h10v9.4h-10zM802.3 400.1h10v9.4h-10zM812 400.1h10v9.4h-10zM821.7 400.1h10v9.4h-10zM860.4 400.1h10v9.4h-10zM870.1 400.1h10v9.4h-10zM879.8 400.1h10v9.4h-10zM889.5 400.1h10v9.4h-10zM908.9 400.1h10v9.4h-10zM947.6 400.1h10v9.4h-10zM1025.2 400.1h10v9.4h-10zM1034.9 400.1h10v9.4h-10z"/><path fill="#000df2" d="M279 545.2h10v9.4h-10zM889.5 545.2h10v9.4h-10zM947.6 545.2h10v9.4h-10zM957.3 545.2h10v9.4h-10zM967 545.2h10v9.4h-10zM976.7 545.2h10v9.4h-10zM996.1 545.2h10v9.4h-10zM1005.8 545.2h10v9.4h-10zM1034.9 545.2h10v9.4h-10zM1054.2 545.2h10v9.4h-10zM1073.6 545.2h10v9.4h-10zM1083.3 445.5h10v9.4h-10zM928.3 427.3h10v9.4h-10zM957.3 427.3h10v9.4h-10zM986.4 427.3h10v9.4h-10zM1044.5 427.3h10v9.4h-10zM1054.2 427.3h10v9.4h-10zM346.8 400.1h10v9.4h-10zM366.2 400.1h10v9.4h-10zM385.6 400.1h10v9.4h-10zM395.3 400.1h10v9.4h-10zM434 400.1h10v9.4h-10zM443.7 400.1h10v9.4h-10zM453.4 400.1h10v9.4h-10zM501.9 400.1h10v9.4h-10zM530.9 400.1h10v9.4h-10zM569.7 400.1h10v9.4h-10zM579.4 400.1h10v9.4h-10zM589.1 400.1h10v9.4h-10zM608.5 400.1h10v9.4h-10zM618.1 400.1h10v9.4h-10zM637.5 400.1h10v9.4h-10zM676.3 400.1h10v9.4h-10zM686 400.1h10v9.4h-10zM734.4 400.1h10v9.4h-10zM782.9 400.1h10v9.4h-10zM841 400.1h10v9.4h-10zM850.7 400.1h10v9.4h-10zM918.6 400.1h10v9.4h-10zM937.9 400.1h10v9.4h-10zM957.3 400.1h10v9.4h-10zM967 400.1h10v9.4h-10zM996.1 400.1h10v9.4h-10zM1005.8 400.1h10v9.4h-10zM1015.5 400.1h10v9.4h-10zM1044.5 400.1h10v9.4h-10zM1054.2 400.1h10v9.4h-10zM1063.9 400.1h10v9.4h-10z"/><path fill="#0019e6" d="M279 536.2h10v9.4h-10zM288.7 536.2h10v9.4h-10zM889.5 427.3h10v9.4h-10zM908.9 427.3h10v9.4h-10zM918.6 427.3h10v9.4h-10zM937.9 427.3h10v9.4h-10z"/><path fill="#0026d9" d="M1083.3 472.7h10v9.4h-10zM879.8 427.3h10v9.4h-10zM899.2 427.3h10v9.4h-10z"/><path fill="#0033cc" d="M850.7 427.3h10v9.4h-10z"/><path fill="#0040bf" d="M1083.3 463.6h10v9.4h-10zM821.7 427.3h10v9.4h-10zM841 427.3h10v9.4h-10zM860.4 427.3h10v9.4h-10zM870.1 427.3h10v9.4h-10z"/><path fill="#004db2" d="M715.1 545.2h10v9.4h-10zM734.4 545.2h10v9.4h-10zM744.1 545.2h10v9.4h-10zM802.3 545.2h10v9.4h-10zM841 545.2h10v9.4h-10zM298.3 427.3h10v9.4h-10zM317.7 427.3h10v9.4h-10zM327.4 427.3h10v9.4h-10zM337.1 427.3h10v9.4h-10zM366.2 427.3h10v9.4h-10zM375.9 427.3h10v9.4h-10zM395.3 427.3h10v9.4h-10zM404.9 427.3h10v9.4h-10zM424.3 427.3h10v9.4h-10zM443.7 427.3h10v9.4h-10zM482.5 427.3h10v9.4h-10zM511.5 427.3h10v9.4h-10zM521.2 427.3h10v9.4h-10zM550.3 427.3h10v9.4h-10zM569.7 427.3h10v9.4h-10zM598.8 427.3h10v9.4h-10zM608.5 427.3h10v9.4h-10zM618.1 427.3h10v9.4h-10zM627.8 427.3h10v9.4h-10zM695.7 427.3h10v9.4h-10zM724.7 427.3h10v9.4h-10zM744.1 427.3h10v9.4h-10zM753.8 427.3h10v9.4h-10z"/><path fill="#0059a6" d="M705.4 545.2h10v9.4h-10zM792.6 545.2h10v9.4h-10zM812 545.2h10v9.4h-10zM821.7 545.2h10v9.4h-10zM860.4 545.2h10v9.4h-10zM870.1 545.2h10v9.4h-10zM1083.3 454.5h10v9.4h-10zM346.8 427.3h10v9.4h-10zM414.6 427.3h10v9.4h-10zM434 427.3h10v9.4h-10zM453.4 427.3h10v9.4h-10zM472.8 427.3h10v9.4h-10zM492.2 427.3h10v9.4h-10zM501.9 427.3h10v9.4h-10zM530.9 427.3h10v9.4h-10zM540.6 427.3h10v9.4h-10zM560 427.3h10v9.4h-10zM589.1 427.3h10v9.4h-10zM647.2 427.3h10v9.4h-10zM656.9 427.3h10v9.4h-10zM705.4 427.3h10v9.4h-10zM715.1 427.3h10v9.4h-10zM734.4 427.3h10v9.4h-10zM773.2 427.3h10v9.4h-10zM782.9 427.3h10v9.4h-10zM792.6 427.3h10v9.4h-10zM802.3 427.3h10v9.4h-10zM812 427.3h10v9.4h-10zM831.3 427.3h10v9.4h-10z"/><path fill="#006699" d="M724.7 545.2h10v9.4h-10zM753.8 545.2h10v9.4h-10zM782.9 545.2h10v9.4h-10zM308 427.3h10v9.4h-10zM356.5 427.3h10v9.4h-10zM385.6 427.3h10v9.4h-10zM463.1 427.3h10v9.4h-10zM579.4 427.3h10v9.4h-10zM637.5 427.3h10v9.4h-10zM666.6 427.3h10v9.4h-10zM676.3 427.3h10v9.4h-10zM686 427.3h10v9.4h-10zM763.5 427.3h10v9.4h-10z"/><path fill="#00738c" d="M598.8 545.2h10v9.4h-10zM686 545.2h10v9.4h-10zM695.7 545.2h10v9.4h-10zM763.5 545.2h10v9.4h-10zM773.2 545.2h10v9.4h-10zM831.3 545.2h10v9.4h-10zM850.7 545.2h10v9.4h-10zM976.7 436.4h10v9.4h-10zM986.4 436.4h10v9.4h-10zM1025.2 436.4h10v9.4h-10zM1063.9 436.4h10v9.4h-10z"/><path fill="#008080" d="M530.9 545.2h10v9.4h-10zM560 545.2h10v9.4h-10zM618.1 545.2h10v9.4h-10zM637.5 545.2h10v9.4h-10zM656.9 545.2h10v9.4h-10zM957.3 436.4h10v9.4h-10zM967 436.4h10v9.4h-10zM996.1 436.4h10v9.4h-10zM1005.8 436.4h10v9.4h-10zM1015.5 436.4h10v9.4h-10zM1034.9 436.4h10v9.4h-10zM1044.5 436.4h10v9.4h-10zM1073.6 436.4h10v9.4h-10z"/><path fill="#008c73" d="M288.7 545.2h10v9.4h-10zM395.3 545.2h10v9.4h-10zM501.9 545.2h10v9.4h-10zM540.6 545.2h10v9.4h-10zM550.3 545.2h10v9.4h-10zM579.4 545.2h10v9.4h-10zM589.1 545.2h10v9.4h-10zM608.5 545.2h10v9.4h-10zM647.2 545.2h10v9.4h-10zM666.6 545.2h10v9.4h-10zM676.3 545.2h10v9.4h-10zM937.9 436.4h10v9.4h-10zM1054.2 436.4h10v9.4h-10z"/><path fill="#009966" d="M385.6 545.2h10v9.4h-10zM424.3 545.2h10v9.4h-10zM492.2 545.2h10v9.4h-10zM569.7 545.2h10v9.4h-10zM627.8 545.2h10v9.4h-10zM918.6 436.4h10v9.4h-10zM947.6 436.4h10v9.4h-10z"/><path fill="#00a659" d="M298.3 545.2h10v9.4h-10zM317.7 545.2h10v9.4h-10zM327.4 545.2h10v9.4h-10zM346.8 545.2h10v9.4h-10zM356.5 545.2h10v9.4h-10zM366.2 545.2h10v9.4h-10zM414.6 545.2h10v9.4h-10zM453.4 545.2h10v9.4h-10zM889.5 436.4h10v9.4h-10zM899.2 436.4h10v9.4h-10zM928.3 436.4h10v9.4h-10z"/><path fill="#00b34c" d="M308 545.2h10v9.4h-10zM337.1 545.2h10v9.4h-10zM375.9 545.2h10v9.4h-10zM404.9 545.2h10v9.4h-10zM472.8 545.2h10v9.4h-10zM482.5 545.2h10v9.4h-10zM511.5 545.2h10v9.4h-10zM521.2 545.2h10v9.4h-10zM879.8 436.4h10v9.4h-10zM908.9 436.4h10v9.4h-10z"/><path fill="#00bf40" d="M434 545.2h10v9.4h-10zM443.7 545.2h10v9.4h-10zM463.1 545.2h10v9.4h-10zM841 436.4h10v9.4h-10zM860.4 436.4h10v9.4h-10zM870.1 436.4h10v9.4h-10z"/><path fill="#00d926" d="M589.1 436.4h10v9.4h-10zM618.1 436.4h10v9.4h-10zM647.2 436.4h10v9.4h-10zM812 436.4h10v9.4h-10zM831.3 436.4h10v9.4h-10zM850.7 436.4h10v9.4h-10z"/><path fill="#00e51a" d="M308 436.4h10v9.4h-10zM317.7 436.4h10v9.4h-10zM327.4 436.4h10v9.4h-10zM337.1 436.4h10v9.4h-10zM356.5 436.4h10v9.4h-10zM404.9 436.4h10v9.4h-10zM414.6 436.4h10v9.4h-10zM453.4 436.4h10v9.4h-10zM472.8 436.4h10v9.4h-10zM482.5 436.4h10v9.4h-10zM521.2 436.4h10v9.4h-10zM540.6 436.4h10v9.4h-10zM550.3 436.4h10v9.4h-10zM608.5 436.4h10v9.4h-10zM656.9 436.4h10v9.4h-10zM676.3 436.4h10v9.4h-10zM686 436.4h10v9.4h-10zM705.4 436.4h10v9.4h-10zM753.8 436.4h10v9.4h-10zM782.9 436.4h10v9.4h-10zM802.3 436.4h10v9.4h-10zM821.7 436.4h10v9.4h-10z"/><path fill="#00f20d" d="M1015.5 445.5h10v9.4h-10zM1025.2 445.5h10v9.4h-10zM298.3 436.4h10v9.4h-10zM346.8 436.4h10v9.4h-10zM366.2 436.4h10v9.4h-10zM375.9 436.4h10v9.4h-10zM385.6 436.4h10v9.4h-10zM395.3 436.4h10v9.4h-10zM424.3 436.4h10v9.4h-10zM434 436.4h10v9.4h-10zM443.7 436.4h10v9.4h-10zM463.1 436.4h10v9.4h-10zM492.2 436.4h10v9.4h-10zM501.9 436.4h10v9.4h-10zM511.5 436.4h10v9.4h-10zM569.7 436.4h10v9.4h-10zM579.4 436.4h10v9.4h-10zM598.8 436.4h10v9.4h-10zM627.8 436.4h10v9.4h-10zM666.6 436.4h10v9.4h-10zM695.7 436.4h10v9.4h-10zM724.7 436.4h10v9.4h-10zM734.4 436.4h10v9.4h-10zM744.1 436.4h10v9.4h-10zM763.5 436.4h10v9.4h-10zM773.2 436.4h10v9.4h-10zM792.6 436.4h10v9.4h-10z"/><path fill="#00ff00" d="M986.4 472.7h10v9.4h-10zM967 445.5h10v9.4h-10zM986.4 445.5h10v9.4h-10zM996.1 445.5h10v9.4h-10zM1044.5 445.5h10v9.4h-10zM1073.6 445.5h10v9.4h-10zM530.9 436.4h10v9.4h-10zM560 436.4h10v9.4h-10zM637.5 436.4h10v9.4h-10zM715.1 436.4h10v9.4h-10z"/><path fill="#0dff00" d="M937.9 472.7h10v9.4h-10zM957.3 472.7h10v9.4h-10zM967 472.7h10v9.4h-10zM996.1 472.7h10v9.4h-10zM1015.5 472.7h10v9.4h-10zM1025.2 472.7h10v9.4h-10zM1054.2 472.7h10v9.4h-10zM1063.9 472.7h10v9.4h-10zM1073.6 472.7h10v9.4h-10zM279 445.5h10v9.4h-10zM899.2 445.5h10v9.4h-10zM908.9 445.5h10v9.4h-10zM928.3 445.5h10v9.4h-10zM937.9 445.5h10v9.4h-10zM947.6 445.5h10v9.4h-10zM957.3 445.5h10v9.4h-10zM976.7 445.5h10v9.4h-10zM1005.8 445.5h10v9.4h-10zM1034.9 445.5h10v9.4h-10zM1054.2 445.5h10v9.4h-10zM1063.9 445.5h10v9.4h-10z"/><path fill="#1aff00" d="M976.7 472.7h10v9.4h-10zM1005.8 472.7h10v9.4h-10zM1034.9 472.7h10v9.4h-10zM1044.5 472.7h10v9.4h-10zM279 454.5h10v9.4h-10zM288.7 445.5h10v9.4h-10zM870.1 445.5h10v9.4h-10zM889.5 445.5h10v9.4h-10z"/><path fill="#26ff00" d="M908.9 472.7h10v9.4h-10zM928.3 472.7h10v9.4h-10zM947.6 472.7h10v9.4h-10zM279 463.6h10v9.4h-10zM850.7 445.5h10v9.4h-10zM860.4 445.5h10v9.4h-10zM879.8 445.5h10v9.4h-10zM918.6 445.5h10v9.4h-10z"/><path fill="#33ff00" d="M279 472.7h10v9.4h-10zM889.5 472.7h10v9.4h-10zM918.6 472.7h10v9.4h-10zM385.6 445.5h10v9.4h-10zM414.6 445.5h10v9.4h-10zM492.2 445.5h10v9.4h-10zM724.7 445.5h10v9.4h-10zM753.8 445.5h10v9.4h-10zM782.9 445.5h10v9.4h-10zM802.3 445.5h10v9.4h-10zM821.7 445.5h10v9.4h-10z"/><path fill="#40ff00" d="M850.7 472.7h10v9.4h-10zM860.4 472.7h10v9.4h-10zM879.8 472.7h10v9.4h-10zM899.2 472.7h10v9.4h-10zM986.4 463.6h10v9.4h-10zM996.1 463.6h10v9.4h-10zM1025.2 463.6h10v9.4h-10zM1044.5 463.6h10v9.4h-10zM1063.9 463.6h10v9.4h-10zM298.3 445.5h10v9.4h-10zM308 445.5h10v9.4h-10zM317.7 445.5h10v9.4h-10zM337.1 445.5h10v9.4h-10zM366.2 445.5h10v9.4h-10zM404.9 445.5h10v9.4h-10zM424.3 445.5h10v9.4h-10zM453.4 445.5h10v9.4h-10zM482.5 445.5h10v9.4h-10zM511.5 445.5h10v9.4h-10zM521.2 445.5h10v9.4h-10zM530.9 445.5h10v9.4h-10zM550.3 445.5h10v9.4h-10zM560 445.5h10v9.4h-10zM579.4 445.5h10v9.4h-10zM637.5 445.5h10v9.4h-10zM676.3 445.5h10v9.4h-10zM695.7 445.5h10v9.4h-10zM734.4 445.5h10v9.4h-10zM831.3 445.5h10v9.4h-10zM841 445.5h10v9.4h-10z"/><path fill="#4dff00" d="M821.7 472.7h10v9.4h-10zM841 472.7h10v9.4h-10zM870.1 472.7h10v9.4h-10zM967 463.6h10v9.4h-10zM976.7 463.6h10v9.4h-10zM1005.8 463.6h10v9.4h-10zM996.1 454.5h10v9.4h-10zM1025.2 454.5h10v9.4h-10zM1044.5 454.5h10v9.4h-10zM1054.2 454.5h10v9.4h-10zM327.4 445.5h10v9.4h-10zM346.8 445.5h10v9.4h-10zM356.5 445.5h10v9.4h-10zM375.9 445.5h10v9.4h-10zM395.3 445.5h10v9.4h-10zM434 445.5h10v9.4h-10zM443.7 445.5h10v9.4h-10zM472.8 445.5h10v9.4h-10zM540.6 445.5h10v9.4h-10zM569.7 445.5h10v9.4h-10zM589.1 445.5h10v9.4h-10zM608.5 445.5h10v9.4h-10zM618.1 445.5h10v9.4h-10zM627.8 445.5h10v9.4h-10zM647.2 445.5h10v9.4h-10zM656.9 445.5h10v9.4h-10zM666.6 445.5h10v9.4h-10zM686 445.5h10v9.4h-10zM705.4 445.5h10v9.4h-10zM763.5 445.5h10v9.4h-10zM773.2 445.5h10v9.4h-10zM792.6 445.5h10v9.4h-10zM812 445.5h10v9.4h-10z"/><path fill="#59ff00" d="M385.6 472.7h10v9.4h-10zM424.3 472.7h10v9.4h-10zM434 472.7h10v9.4h-10zM472.8 472.7h10v9.4h-10zM560 472.7h10v9.4h-10zM618.1 472.7h10v9.4h-10zM676.3 472.7h10v9.4h-10zM695.7 472.7h10v9.4h-10zM763.5 472.7h10v9.4h-10zM802.3 472.7h10v9.4h-10zM831.3 472.7h10v9.4h-10zM928.3 463.6h10v9.4h-10zM1015.5 463.6h10v9.4h-10zM1034.9 463.6h10v9.4h-10zM1054.2 463.6h10v9.4h-10zM1073.6 463.6h10v9.4h-10zM1015.5 454.5h10v9.4h-10zM1034.9 454.5h10v9.4h-10zM463.1 445.5h10v9.4h-10zM501.9 445.5h10v9.4h-10zM598.8 445.5h10v9.4h-10zM715.1 445.5h10v9.4h-10zM744.1 445.5h10v9.4h-10z"/><path fill="#66ff00" d="M298.3 472.7h10v9.4h-10zM308 472.7h10v9.4h-10zM327.4 472.7h10v9.4h-10zM337.1 472.7h10v9.4h-10zM346.8 472.7h10v9.4h-10zM356.5 472.7h10v9.4h-10zM366.2 472.7h10v9.4h-10zM375.9 472.7h10v9.4h-10zM463.1 472.7h10v9.4h-10zM492.2 472.7h10v9.4h-10zM501.9 472.7h10v9.4h-10zM511.5 472.7h10v9.4h-10zM521.2 472.7h10v9.4h-10zM530.9 472.7h10v9.4h-10zM569.7 472.7h10v9.4h-10zM589.1 472.7h10v9.4h-10zM598.8 472.7h10v9.4h-10zM637.5 472.7h10v9.4h-10zM647.2 472.7h10v9.4h-10zM656.9 472.7h10v9.4h-10zM666.6 472.7h10v9.4h-10zM686 472.7h10v9.4h-10zM724.7 472.7h10v9.4h-10zM744.1 472.7h10v9.4h-10zM753.8 472.7h10v9.4h-10zM812 472.7h10v9.4h-10zM918.6 463.6h10v9.4h-10zM947.6 463.6h10v9.4h-10zM957.3 463.6h10v9.4h-10zM947.6 454.5h10v9.4h-10zM957.3 454.5h10v9.4h-10zM967 454.5h10v9.4h-10zM976.7 454.5h10v9.4h-10zM986.4 454.5h10v9.4h-10zM1005.8 454.5h10v9.4h-10zM1063.9 454.5h10v9.4h-10zM1073.6 454.5h10v9.4h-10z"/><path fill="#73ff00" d="M317.7 472.7h10v9.4h-10zM395.3 472.7h10v9.4h-10zM404.9 472.7h10v9.4h-10zM414.6 472.7h10v9.4h-10zM443.7 472.7h10v9.4h-10zM453.4 472.7h10v9.4h-10zM482.5 472.7h10v9.4h-10zM540.6 472.7h10v9.4h-10zM550.3 472.7h10v9.4h-10zM579.4 472.7h10v9.4h-10zM608.5 472.7h10v9.4h-10zM627.8 472.7h10v9.4h-10zM705.4 472.7h10v9.4h-10zM715.1 472.7h10v9.4h-10zM734.4 472.7h10v9.4h-10zM773.2 472.7h10v9.4h-10zM782.9 472.7h10v9.4h-10zM792.6 472.7h10v9.4h-10zM889.5 463.6h10v9.4h-10zM937.9 463.6h10v9.4h-10zM928.3 454.5h10v9.4h-10zM937.9 454.5h10v9.4h-10z"/><path fill="#7fff00" d="M288.7 472.7h10v9.4h-10zM908.9 463.6h10v9.4h-10zM899.2 454.5h10v9.4h-10zM908.9 454.5h10v9.4h-10z"/><path fill="#8cff00" d="M879.8 463.6h10v9.4h-10zM899.2 463.6h10v9.4h-10zM889.5 454.5h10v9.4h-10zM918.6 454.5h10v9.4h-10z"/><path fill="#99ff00" d="M841 463.6h10v9.4h-10zM860.4 463.6h10v9.4h-10zM870.1 463.6h10v9.4h-10zM860.4 454.5h10v9.4h-10zM879.8 454.5h10v9.4h-10z"/><path fill="#a6ff00" d="M812 463.6h10v9.4h-10zM821.7 463.6h10v9.4h-10zM831.3 463.6h10v9.4h-10zM850.7 463.6h10v9.4h-10zM831.3 454.5h10v9.4h-10zM841 454.5h10v9.4h-10zM870.1 454.5h10v9.4h-10z"/><path fill="#b2ff00" d="M288.7 463.6h10v9.4h-10zM308 463.6h10v9.4h-10zM317.7 463.6h10v9.4h-10zM327.4 463.6h10v9.4h-10zM346.8 463.6h10v9.4h-10zM356.5 463.6h10v9.4h-10zM375.9 463.6h10v9.4h-10zM424.3 463.6h10v9.4h-10zM453.4 463.6h10v9.4h-10zM463.1 463.6h10v9.4h-10zM511.5 463.6h10v9.4h-10zM530.9 463.6h10v9.4h-10zM569.7 463.6h10v9.4h-10zM579.4 463.6h10v9.4h-10zM598.8 463.6h10v9.4h-10zM618.1 463.6h10v9.4h-10zM666.6 463.6h10v9.4h-10zM676.3 463.6h10v9.4h-10zM695.7 463.6h10v9.4h-10zM705.4 463.6h10v9.4h-10zM802.3 463.6h10v9.4h-10zM850.7 454.5h10v9.4h-10z"/><path fill="#bfff00" d="M395.3 463.6h10v9.4h-10zM443.7 463.6h10v9.4h-10zM472.8 463.6h10v9.4h-10zM482.5 463.6h10v9.4h-10zM492.2 463.6h10v9.4h-10zM521.2 463.6h10v9.4h-10zM540.6 463.6h10v9.4h-10zM560 463.6h10v9.4h-10zM589.1 463.6h10v9.4h-10zM637.5 463.6h10v9.4h-10zM656.9 463.6h10v9.4h-10zM686 463.6h10v9.4h-10zM753.8 463.6h10v9.4h-10zM773.2 463.6h10v9.4h-10zM782.9 463.6h10v9.4h-10zM792.6 463.6h10v9.4h-10zM337.1 454.5h10v9.4h-10zM366.2 454.5h10v9.4h-10zM395.3 454.5h10v9.4h-10zM404.9 454.5h10v9.4h-10zM414.6 454.5h10v9.4h-10zM424.3 454.5h10v9.4h-10zM501.9 454.5h10v9.4h-10zM511.5 454.5h10v9.4h-10zM530.9 454.5h10v9.4h-10zM589.1 454.5h10v9.4h-10zM598.8 454.5h10v9.4h-10zM618.1 454.5h10v9.4h-10zM715.1 454.5h10v9.4h-10zM792.6 454.5h10v9.4h-10z"/><path fill="#ccff00" d="M298.3 463.6h10v9.4h-10zM337.1 463.6h10v9.4h-10zM366.2 463.6h10v9.4h-10zM385.6 463.6h10v9.4h-10zM404.9 463.6h10v9.4h-10zM414.6 463.6h10v9.4h-10zM434 463.6h10v9.4h-10zM501.9 463.6h10v9.4h-10zM550.3 463.6h10v9.4h-10zM608.5 463.6h10v9.4h-10zM627.8 463.6h10v9.4h-10zM647.2 463.6h10v9.4h-10zM715.1 463.6h10v9.4h-10zM724.7 463.6h10v9.4h-10zM734.4 463.6h10v9.4h-10zM744.1 463.6h10v9.4h-10zM763.5 463.6h10v9.4h-10zM298.3 454.5h10v9.4h-10zM308 454.5h10v9.4h-10zM317.7 454.5h10v9.4h-10zM356.5 454.5h10v9.4h-10zM385.6 454.5h10v9.4h-10zM453.4 454.5h10v9.4h-10zM492.2 454.5h10v9.4h-10zM521.2 454.5h10v9.4h-10zM550.3 454.5h10v9.4h-10zM560 454.5h10v9.4h-10zM569.7 454.5h10v9.4h-10zM579.4 454.5h10v9.4h-10zM608.5 454.5h10v9.4h-10zM627.8 454.5h10v9.4h-10zM647.2 454.5h10v9.4h-10zM666.6 454.5h10v9.4h-10zM686 454.5h10v9.4h-10zM705.4 454.5h10v9.4h-10zM724.7 454.5h10v9.4h-10zM734.4 454.5h10v9.4h-10zM744.1 454.5h10v9.4h-10zM753.8 454.5h10v9.4h-10zM802.3 454.5h10v9.4h-10zM812 454.5h10v9.4h-10zM821.7 454.5h10v9.4h-10z"/><path fill="#d9ff00" d="M327.4 454.5h10v9.4h-10zM346.8 454.5h10v9.4h-10zM375.9 454.5h10v9.4h-10zM434 454.5h10v9.4h-10zM443.7 454.5h10v9.4h-10zM463.1 454.5h10v9.4h-10zM472.8 454.5h10v9.4h-10zM482.5 454.5h10v9.4h-10zM540.6 454.5h10v9.4h-10zM637.5 454.5h10v9.4h-10zM656.9 454.5h10v9.4h-10zM676.3 454.5h10v9.4h-10zM695.7 454.5h10v9.4h-10zM763.5 454.5h10v9.4h-10zM773.2 454.5h10v9.4h-10zM782.9 454.5h10v9.4h-10z"/><path fill="#e5ff00" d="M288.7 454.5h10v9.4h-10z"/></g><line x1="293.5" y1="191.5" x2="293.5" y2="772.0" stroke="#7a7a7a" stroke-width="1.9" stroke-dasharray="2.2 3.67"/><line x1="346.8" y1="191.5" x2="346.8" y2="772.0" stroke="#7a7a7a" stroke-width="1.9" stroke-dasharray="2.2 3.67"/><line x1="400.1" y1="191.5" x2="400.1" y2="772.0" stroke="#7a7a7a" stroke-width="1.9" stroke-dasharray="2.2 3.67"/><line x1="453.4" y1="191.5" x2="453.4" y2="772.0" stroke="#808080" stroke-width="4.17" stroke-dasharray="4.17 6.87" stroke-dashoffset="-2"/><line x1="506.7" y1="191.5" x2="506.7" y2="772.0" stroke="#7a7a7a" stroke-width="1.9" stroke-dasharray="2.2 3.67"/><line x1="560.0" y1="191.5" x2="560.0" y2="772.0" stroke="#7a7a7a" stroke-width="1.9" stroke-dasharray="2.2 3.67"/><line x1="613.3" y1="191.5" x2="613.3" y2="772.0" stroke="#7a7a7a" stroke-width="1.9" stroke-dasharray="2.2 3.67"/><line x1="666.6" y1="191.5" x2="666.6" y2="772.0" stroke="#808080" stroke-width="4.17" stroke-dasharray="4.17 6.87" stroke-dashoffset="-2"/><line x1="719.9" y1="191.5" x2="719.9" y2="772.0" stroke="#7a7a7a" stroke-width="1.9" stroke-dasharray="2.2 3.67"/><line x1="773.2" y1="191.5" x2="773.2" y2="772.0" stroke="#7a7a7a" stroke-width="1.9" stroke-dasharray="2.2 3.67"/><line x1="826.5" y1="191.5" x2="826.5" y2="772.0" stroke="#7a7a7a" stroke-width="1.9" stroke-dasharray="2.2 3.67"/><line x1="879.8" y1="191.5" x2="879.8" y2="772.0" stroke="#808080" stroke-width="4.17" stroke-dasharray="4.17 6.87" stroke-dashoffset="-2"/><line x1="933.1" y1="191.5" x2="933.1" y2="772.0" stroke="#7a7a7a" stroke-width="1.9" stroke-dasharray="2.2 3.67"/><line x1="986.4" y1="191.5" x2="986.4" y2="772.0" stroke="#7a7a7a" stroke-width="1.9" stroke-dasharray="2.2 3.67"/><line x1="1039.7" y1="191.5" x2="1039.7" y2="772.0" stroke="#7a7a7a" stroke-width="1.9" stroke-dasharray="2.2 3.67"/><line x1="240.2" y1="700.3" x2="1093.0" y2="700.3" stroke="#000" stroke-width="1.4" stroke-dasharray="1.4 2.3"/><line x1="240.2" y1="627.8" x2="1093.0" y2="627.8" stroke="#000" stroke-width="1.4" stroke-dasharray="5.2 2.2"/><line x1="240.2" y1="555.2" x2="1093.0" y2="555.2" stroke="#000" stroke-width="1.4" stroke-dasharray="1.4 2.3"/><line x1="240.2" y1="482.6" x2="1093.0" y2="482.6" stroke="#000" stroke-width="1.4" stroke-dasharray="5.2 2.2"/><line x1="240.2" y1="410.1" x2="1093.0" y2="410.1" stroke="#000" stroke-width="1.4" stroke-dasharray="1.4 2.3"/><line x1="240.2" y1="337.5" x2="1093.0" y2="337.5" stroke="#000" stroke-width="1.4" stroke-dasharray="5.2 2.2"/><line x1="240.2" y1="265.0" x2="1093.0" y2="265.0" stroke="#000" stroke-width="1.4" stroke-dasharray="1.4 2.3"/><line x1="240.2" y1="299.6" x2="1085.0" y2="301.3" stroke="#00f5c8" stroke-width="8.4" stroke-dasharray="24.5 8.4 8 8.6"/><line x1="240.2" y1="299.6" x2="1085.0" y2="301.3" stroke="#000" stroke-width="3.2" stroke-dasharray="24.5 8.4 8 8.6"/><line x1="240.2" y1="451.4" x2="1085.0" y2="452.6" stroke="#00f5c8" stroke-width="8.4" stroke-dasharray="25 25"/><line x1="240.2" y1="451.4" x2="1085.0" y2="452.6" stroke="#000" stroke-width="3.2" stroke-dasharray="25 25"/><line x1="240.2" y1="623.6" x2="1089.0" y2="614.7" stroke="#00f5c8" stroke-width="8.4"/><line x1="240.2" y1="623.6" x2="1089.0" y2="614.7" stroke="#000" stroke-width="3.2"/><line x1="240.2" y1="191.5" x2="240.2" y2="201.2" stroke="#000" stroke-width="2.2"/><line x1="240.2" y1="772.0" x2="240.2" y2="762.3" stroke="#000" stroke-width="2.2"/><line x1="293.5" y1="191.5" x2="293.5" y2="196.8" stroke="#000" stroke-width="1.7"/><line x1="293.5" y1="772.0" x2="293.5" y2="766.7" stroke="#000" stroke-width="1.7"/><line x1="346.8" y1="191.5" x2="346.8" y2="196.8" stroke="#000" stroke-width="1.7"/><line x1="346.8" y1="772.0" x2="346.8" y2="766.7" stroke="#000" stroke-width="1.7"/><line x1="400.1" y1="191.5" x2="400.1" y2="196.8" stroke="#000" stroke-width="1.7"/><line x1="400.1" y1="772.0" x2="400.1" y2="766.7" stroke="#000" stroke-width="1.7"/><line x1="453.4" y1="191.5" x2="453.4" y2="201.2" stroke="#000" stroke-width="2.2"/><line x1="453.4" y1="772.0" x2="453.4" y2="762.3" stroke="#000" stroke-width="2.2"/><line x1="506.7" y1="191.5" x2="506.7" y2="196.8" stroke="#000" stroke-width="1.7"/><line x1="506.7" y1="772.0" x2="506.7" y2="766.7" stroke="#000" stroke-width="1.7"/><line x1="560.0" y1="191.5" x2="560.0" y2="196.8" stroke="#000" stroke-width="1.7"/><line x1="560.0" y1="772.0" x2="560.0" y2="766.7" stroke="#000" stroke-width="1.7"/><line x1="613.3" y1="191.5" x2="613.3" y2="196.8" stroke="#000" stroke-width="1.7"/><line x1="613.3" y1="772.0" x2="613.3" y2="766.7" stroke="#000" stroke-width="1.7"/><line x1="666.6" y1="191.5" x2="666.6" y2="201.2" stroke="#000" stroke-width="2.2"/><line x1="666.6" y1="772.0" x2="666.6" y2="762.3" stroke="#000" stroke-width="2.2"/><line x1="719.9" y1="191.5" x2="719.9" y2="196.8" stroke="#000" stroke-width="1.7"/><line x1="719.9" y1="772.0" x2="719.9" y2="766.7" stroke="#000" stroke-width="1.7"/><line x1="773.2" y1="191.5" x2="773.2" y2="196.8" stroke="#000" stroke-width="1.7"/><line x1="773.2" y1="772.0" x2="773.2" y2="766.7" stroke="#000" stroke-width="1.7"/><line x1="826.5" y1="191.5" x2="826.5" y2="196.8" stroke="#000" stroke-width="1.7"/><line x1="826.5" y1="772.0" x2="826.5" y2="766.7" stroke="#000" stroke-width="1.7"/><line x1="879.8" y1="191.5" x2="879.8" y2="201.2" stroke="#000" stroke-width="2.2"/><line x1="879.8" y1="772.0" x2="879.8" y2="762.3" stroke="#000" stroke-width="2.2"/><line x1="933.1" y1="191.5" x2="933.1" y2="196.8" stroke="#000" stroke-width="1.7"/><line x1="933.1" y1="772.0" x2="933.1" y2="766.7" stroke="#000" stroke-width="1.7"/><line x1="986.4" y1="191.5" x2="986.4" y2="196.8" stroke="#000" stroke-width="1.7"/><line x1="986.4" y1="772.0" x2="986.4" y2="766.7" stroke="#000" stroke-width="1.7"/><line x1="1039.7" y1="191.5" x2="1039.7" y2="196.8" stroke="#000" stroke-width="1.7"/><line x1="1039.7" y1="772.0" x2="1039.7" y2="766.7" stroke="#000" stroke-width="1.7"/><line x1="1093.0" y1="191.5" x2="1093.0" y2="201.2" stroke="#000" stroke-width="2.2"/><line x1="1093.0" y1="772.0" x2="1093.0" y2="762.3" stroke="#000" stroke-width="2.2"/><line x1="1093.0" y1="735.7" x2="1083.3" y2="735.7" stroke="#000" stroke-width="2.2"/><line x1="1093.0" y1="663.2" x2="1083.3" y2="663.2" stroke="#000" stroke-width="2.2"/><line x1="1093.0" y1="590.6" x2="1083.3" y2="590.6" stroke="#000" stroke-width="2.2"/><line x1="1093.0" y1="518.0" x2="1083.3" y2="518.0" stroke="#000" stroke-width="2.2"/><line x1="1093.0" y1="445.5" x2="1083.3" y2="445.5" stroke="#000" stroke-width="2.2"/><line x1="1093.0" y1="372.9" x2="1083.3" y2="372.9" stroke="#000" stroke-width="2.2"/><line x1="1093.0" y1="300.3" x2="1083.3" y2="300.3" stroke="#000" stroke-width="2.2"/><line x1="1093.0" y1="227.8" x2="1083.3" y2="227.8" stroke="#000" stroke-width="2.2"/><line x1="240.2" y1="735.7" x2="249.9" y2="735.7" stroke="#000" stroke-width="2.2"/><line x1="240.2" y1="663.2" x2="249.9" y2="663.2" stroke="#000" stroke-width="2.2"/><line x1="240.2" y1="590.6" x2="249.9" y2="590.6" stroke="#000" stroke-width="2.2"/><line x1="240.2" y1="518.0" x2="249.9" y2="518.0" stroke="#000" stroke-width="2.2"/><line x1="240.2" y1="445.5" x2="249.9" y2="445.5" stroke="#000" stroke-width="2.2"/><line x1="240.2" y1="372.9" x2="249.9" y2="372.9" stroke="#000" stroke-width="2.2"/><line x1="240.2" y1="300.3" x2="249.9" y2="300.3" stroke="#000" stroke-width="2.2"/><line x1="240.2" y1="227.8" x2="249.9" y2="227.8" stroke="#000" stroke-width="2.2"/><line x1="240.2" y1="753.9" x2="245.5" y2="753.9" stroke="#000" stroke-width="1.7"/><line x1="240.2" y1="717.6" x2="245.5" y2="717.6" stroke="#000" stroke-width="1.7"/><line x1="240.2" y1="699.4" x2="245.5" y2="699.4" stroke="#000" stroke-width="1.7"/><line x1="240.2" y1="681.3" x2="245.5" y2="681.3" stroke="#000" stroke-width="1.7"/><line x1="240.2" y1="645.0" x2="245.5" y2="645.0" stroke="#000" stroke-width="1.7"/><line x1="240.2" y1="626.9" x2="245.5" y2="626.9" stroke="#000" stroke-width="1.7"/><line x1="240.2" y1="608.7" x2="245.5" y2="608.7" stroke="#000" stroke-width="1.7"/><line x1="240.2" y1="572.5" x2="245.5" y2="572.5" stroke="#000" stroke-width="1.7"/><line x1="240.2" y1="554.3" x2="245.5" y2="554.3" stroke="#000" stroke-width="1.7"/><line x1="240.2" y1="536.2" x2="245.5" y2="536.2" stroke="#000" stroke-width="1.7"/><line x1="240.2" y1="499.9" x2="245.5" y2="499.9" stroke="#000" stroke-width="1.7"/><line x1="240.2" y1="481.8" x2="245.5" y2="481.8" stroke="#000" stroke-width="1.7"/><line x1="240.2" y1="463.6" x2="245.5" y2="463.6" stroke="#000" stroke-width="1.7"/><line x1="240.2" y1="427.3" x2="245.5" y2="427.3" stroke="#000" stroke-width="1.7"/><line x1="240.2" y1="409.2" x2="245.5" y2="409.2" stroke="#000" stroke-width="1.7"/><line x1="240.2" y1="391.0" x2="245.5" y2="391.0" stroke="#000" stroke-width="1.7"/><line x1="240.2" y1="354.8" x2="245.5" y2="354.8" stroke="#000" stroke-width="1.7"/><line x1="240.2" y1="336.6" x2="245.5" y2="336.6" stroke="#000" stroke-width="1.7"/><line x1="240.2" y1="318.5" x2="245.5" y2="318.5" stroke="#000" stroke-width="1.7"/><line x1="240.2" y1="282.2" x2="245.5" y2="282.2" stroke="#000" stroke-width="1.7"/><line x1="240.2" y1="264.1" x2="245.5" y2="264.1" stroke="#000" stroke-width="1.7"/><line x1="240.2" y1="245.9" x2="245.5" y2="245.9" stroke="#000" stroke-width="1.7"/><line x1="240.2" y1="209.6" x2="245.5" y2="209.6" stroke="#000" stroke-width="1.7"/><rect x="240.2" y="191.5" width="852.8" height="580.5" fill="none" stroke="#000" stroke-width="2.2"/><text x="228.5" y="745.5" font-size="27.96" textLength="27.6" lengthAdjust="spacingAndGlyphs" text-anchor="end">-Z</text><text x="1104.5" y="745.5" font-size="27.96" textLength="16.8" lengthAdjust="spacingAndGlyphs">0</text><text x="228.5" y="673.0" font-size="27.96" textLength="76.7" lengthAdjust="spacingAndGlyphs" text-anchor="end">-Z/+X</text><text x="1104.5" y="673.0" font-size="27.96" textLength="33.6" lengthAdjust="spacingAndGlyphs">45</text><text x="228.5" y="600.4" font-size="27.96" textLength="40.2" lengthAdjust="spacingAndGlyphs" text-anchor="end">+X</text><text x="1104.5" y="600.4" font-size="27.96" textLength="33.6" lengthAdjust="spacingAndGlyphs">90</text><text x="228.5" y="527.8" font-size="27.96" textLength="89.3" lengthAdjust="spacingAndGlyphs" text-anchor="end">+X/+Z</text><text x="1104.5" y="527.8" font-size="27.96" textLength="50.4" lengthAdjust="spacingAndGlyphs">135</text><text x="228.5" y="455.3" font-size="27.96" textLength="40.2" lengthAdjust="spacingAndGlyphs" text-anchor="end">+Z</text><text x="1104.5" y="455.3" font-size="27.96" textLength="50.4" lengthAdjust="spacingAndGlyphs">180</text><text x="228.5" y="382.7" font-size="27.96" textLength="75.4" lengthAdjust="spacingAndGlyphs" text-anchor="end">+Z/-X</text><text x="1104.5" y="382.7" font-size="27.96" textLength="50.4" lengthAdjust="spacingAndGlyphs">225</text><text x="228.5" y="310.1" font-size="27.96" textLength="26.3" lengthAdjust="spacingAndGlyphs" text-anchor="end">-X</text><text x="1104.5" y="310.1" font-size="27.96" textLength="50.4" lengthAdjust="spacingAndGlyphs">270</text><text x="228.5" y="237.6" font-size="27.96" textLength="62.8" lengthAdjust="spacingAndGlyphs" text-anchor="end">-X/-Z</text><text x="1104.5" y="237.6" font-size="27.96" textLength="50.4" lengthAdjust="spacingAndGlyphs">315</text><text x="118.0" y="484.0" font-size="27.96" textLength="107.2" lengthAdjust="spacingAndGlyphs" text-anchor="middle" transform="rotate(-90 118.0 484.0)">S/C Axis</text><text x="1185.0" y="482.0" font-size="23.55" textLength="409.3" lengthAdjust="spacingAndGlyphs" text-anchor="middle" transform="rotate(-90 1185.0 482.0)">Angle from -Z axis (towards +X axis)</text><defs><linearGradient id="cbg1" x1="0" y1="0" x2="0" y2="1"><stop offset="0" stop-color="#ff0000"/><stop offset="0.2" stop-color="#ffff00"/><stop offset="0.4" stop-color="#00ff00"/><stop offset="0.6" stop-color="#0000ff"/><stop offset="0.8" stop-color="#9b30ff"/><stop offset="1" stop-color="#ffffff"/></linearGradient></defs><rect x="1204.1" y="202.2" width="27.8" height="552.6" fill="url(#cbg1)" stroke="#000" stroke-width="2.2"/><text x="1241.4" y="213.4" font-size="29.43" textLength="52.4" lengthAdjust="spacingAndGlyphs">1e5</text><line x1="1231.9" y1="271.3" x2="1222.2" y2="271.3" stroke="#000" stroke-width="2.2"/><text x="1241.4" y="282.5" font-size="29.43" textLength="52.4" lengthAdjust="spacingAndGlyphs">1e4</text><line x1="1231.9" y1="340.3" x2="1222.2" y2="340.3" stroke="#000" stroke-width="2.2"/><text x="1241.4" y="351.5" font-size="29.43" textLength="52.4" lengthAdjust="spacingAndGlyphs">1e3</text><line x1="1231.9" y1="409.4" x2="1222.2" y2="409.4" stroke="#000" stroke-width="2.2"/><line x1="1231.9" y1="478.5" x2="1222.2" y2="478.5" stroke="#000" stroke-width="2.2"/><text x="1241.4" y="489.7" font-size="29.43" textLength="52.4" lengthAdjust="spacingAndGlyphs">1e2</text><line x1="1231.9" y1="547.6" x2="1222.2" y2="547.6" stroke="#000" stroke-width="2.2"/><line x1="1231.9" y1="616.6" x2="1222.2" y2="616.6" stroke="#000" stroke-width="2.2"/><text x="1241.4" y="627.8" font-size="29.43" textLength="52.4" lengthAdjust="spacingAndGlyphs">1e1</text><line x1="1231.9" y1="685.7" x2="1222.2" y2="685.7" stroke="#000" stroke-width="2.2"/><text x="1241.4" y="766.0" font-size="29.43" textLength="52.4" lengthAdjust="spacingAndGlyphs">1e0</text><text x="1326.0" y="478.0" font-size="29.43" textLength="336.1" lengthAdjust="spacingAndGlyphs" text-anchor="middle" transform="rotate(-90 1326.0 478.0)">Pixel Counts per Second</text><line x1="308.3" y1="163.0" x2="383.2" y2="163.0" stroke="#00f5c8" stroke-width="8.4" stroke-dasharray="24.9 25"/><line x1="308.3" y1="163.0" x2="383.2" y2="163.0" stroke="#000" stroke-width="3.2" stroke-dasharray="24.9 25"/><text x="413.3" y="173.4" font-size="29.43" textLength="120.7" lengthAdjust="spacingAndGlyphs">Anti-ram</text><line x1="586.7" y1="163.0" x2="676.0" y2="163.0" stroke="#00f5c8" stroke-width="8.4"/><line x1="586.7" y1="163.0" x2="676.0" y2="163.0" stroke="#000" stroke-width="3.2"/><text x="697.4" y="173.4" font-size="29.43" textLength="79.0" lengthAdjust="spacingAndGlyphs">Bfield</text><line x1="830.8" y1="163.0" x2="905.6" y2="163.0" stroke="#00f5c8" stroke-width="8.4" stroke-dasharray="24.5 8.4 8 8.6"/><line x1="830.8" y1="163.0" x2="905.6" y2="163.0" stroke="#000" stroke-width="3.2" stroke-dasharray="24.5 8.4 8 8.6"/><text x="937.2" y="173.4" font-size="29.43" textLength="89.9" lengthAdjust="spacingAndGlyphs">Zenith</text><g shape-rendering="crispEdges"><path fill="#f5eaff" d="M889.5 1330.7h19.7v3.1h-19.7zM918.6 1330.7h10v3.1h-10zM938 1330.7h10v3.1h-10zM879.8 1327.9h10v3.1h-10zM918.6 1327.9h10v3.1h-10zM996.1 1327.9h10v3.1h-10zM947.7 1325.2h10v3.1h-10zM899.2 1322.4h10v3.1h-10zM928.3 1319.6h10v3.1h-10zM288.7 1107.6h10v3.1h-10zM395.3 1041.5h10v3.1h-10zM589.1 1041.5h10v3.1h-10zM812 1041.5h10v3.1h-10zM424.4 1038.7h10v3.1h-10zM443.8 1038.7h10v3.1h-10zM598.8 1038.7h10v3.1h-10zM802.3 1038.7h10v3.1h-10zM986.4 1038.7h19.7v3.1h-19.7zM308.1 1036h10v3.1h-10zM366.3 1036h10v3.1h-10zM434.1 1036h10v3.1h-10zM472.9 1036h10v3.1h-10zM569.8 1036h10v3.1h-10zM598.8 1036h10v3.1h-10zM744.2 1036h10v3.1h-10zM782.9 1036h10v3.1h-10zM947.7 1036h10v3.1h-10zM967 1036h10v3.1h-10zM317.8 1033.2h10v3.1h-10zM424.4 1033.2h10v3.1h-10zM501.9 1033.2h10v3.1h-10zM521.3 1033.2h10v3.1h-10zM608.5 1033.2h10v3.1h-10zM705.4 1033.2h10v3.1h-10zM802.3 1033.2h10v3.1h-10zM850.8 1033.2h10v3.1h-10zM385.6 1030.5h10v3.1h-10zM531 1030.5h10v3.1h-10zM608.5 1030.5h10v3.1h-10zM647.3 1030.5h19.7v3.1h-19.7zM724.8 1030.5h10v3.1h-10zM792.6 1030.5h10v3.1h-10zM841.1 1030.5h10v3.1h-10zM860.4 1030.5h10v3.1h-10zM928.3 1030.5h10v3.1h-10zM1044.6 1030.5h10v3.1h-10zM443.8 1027.7h10v3.1h-10zM831.4 1027.7h10v3.1h-10zM850.8 1027.7h10v3.1h-10zM879.8 1027.7h10v3.1h-10zM1005.8 1027.7h10v3.1h-10zM1063.9 1027.7h10v3.1h-10zM366.3 1025h10v3.1h-10zM482.5 1025h10v3.1h-10zM550.4 1025h10v3.1h-10zM695.7 1025h10v3.1h-10zM802.3 1025h10v3.1h-10zM918.6 1025h10v3.1h-10zM947.7 1025h10v3.1h-10zM986.4 1025h10v3.1h-10zM1025.2 1025h10v3.1h-10zM569.8 1022.2h10v3.1h-10zM986.4 1022.2h10v3.1h-10z"/><path fill="#ebd6ff" d="M376 1330.7h10v3.1h-10zM453.5 1330.7h10v3.1h-10zM482.5 1330.7h10v3.1h-10zM560.1 1330.7h10v3.1h-10zM637.6 1330.7h10v3.1h-10zM666.6 1330.7h10v3.1h-10zM715.1 1330.7h10v3.1h-10zM744.2 1330.7h19.7v3.1h-19.7zM870.1 1330.7h10v3.1h-10zM976.7 1330.7h10v3.1h-10zM1005.8 1330.7h10v3.1h-10zM1034.9 1330.7h19.7v3.1h-19.7zM288.7 1327.9h10v3.1h-10zM763.5 1327.9h19.7v3.1h-19.7zM957.3 1327.9h10v3.1h-10zM986.4 1327.9h10v3.1h-10zM1005.8 1327.9h19.7v3.1h-19.7zM1063.9 1327.9h10v3.1h-10zM279.1 1325.2h10v3.1h-10zM889.5 1325.2h10v3.1h-10zM938 1325.2h10v3.1h-10zM996.1 1325.2h10v3.1h-10zM1034.9 1325.2h10v3.1h-10zM1073.6 1325.2h10v3.1h-10zM879.8 1322.4h19.7v3.1h-19.7zM908.9 1322.4h10v3.1h-10zM967 1322.4h10v3.1h-10zM1044.6 1322.4h10v3.1h-10zM1073.6 1322.4h10v3.1h-10zM947.7 1319.6h10v3.1h-10zM996.1 1319.6h10v3.1h-10zM889.5 1316.9h10v3.1h-10zM947.7 1316.9h19.7v3.1h-19.7zM986.4 1316.9h10v3.1h-10zM889.5 1314.1h10v3.1h-10zM976.7 1314.1h10v3.1h-10zM1044.6 1314.1h10v3.1h-10zM1073.6 1314.1h10v3.1h-10zM1025.2 1311.4h10v3.1h-10zM899.2 1308.6h10v3.1h-10zM1034.9 1308.6h10v3.1h-10zM1073.6 1308.6h10v3.1h-10zM1083.3 1159.9h10v3.1h-10zM1083.3 1113.1h10v3.1h-10zM1083.3 1104.8h10v3.1h-10zM337.2 1060.8h10v3.1h-10zM366.3 1060.8h10v3.1h-10zM395.3 1060.8h10v3.1h-10zM860.4 1060.8h19.7v3.1h-19.7zM967 1060.8h10v3.1h-10zM1025.2 1060.8h10v3.1h-10zM482.5 1058h10v3.1h-10zM724.8 1058h10v3.1h-10zM744.2 1058h10v3.1h-10zM763.5 1058h10v3.1h-10zM308.1 1055.3h10v3.1h-10zM356.6 1055.3h10v3.1h-10zM705.4 1055.3h10v3.1h-10zM1063.9 1055.3h10v3.1h-10zM308.1 1052.5h10v3.1h-10zM385.6 1052.5h10v3.1h-10zM550.4 1052.5h10v3.1h-10zM908.9 1052.5h10v3.1h-10zM957.3 1052.5h10v3.1h-10zM366.3 1049.8h10v3.1h-10zM753.9 1049.8h10v3.1h-10zM812 1049.8h10v3.1h-10zM308.1 1047h10v3.1h-10zM434.1 1047h10v3.1h-10zM521.3 1047h10v3.1h-10zM560.1 1047h10v3.1h-10zM579.4 1047h10v3.1h-10zM608.5 1047h10v3.1h-10zM986.4 1047h10v3.1h-10zM317.8 1044.2h10v3.1h-10zM443.8 1044.2h10v3.1h-10zM802.3 1044.2h10v3.1h-10zM1034.9 1044.2h10v3.1h-10zM356.6 1041.5h10v3.1h-10zM414.7 1041.5h10v3.1h-10zM463.2 1041.5h19.7v3.1h-19.7zM531 1041.5h10v3.1h-10zM598.8 1041.5h10v3.1h-10zM637.6 1041.5h19.7v3.1h-19.7zM676.3 1041.5h10v3.1h-10zM705.4 1041.5h10v3.1h-10zM802.3 1041.5h10v3.1h-10zM889.5 1041.5h19.7v3.1h-19.7zM918.6 1041.5h10v3.1h-10zM938 1041.5h10v3.1h-10zM1063.9 1041.5h10v3.1h-10zM298.4 1038.7h10v3.1h-10zM395.3 1038.7h10v3.1h-10zM482.5 1038.7h10v3.1h-10zM521.3 1038.7h10v3.1h-10zM608.5 1038.7h10v3.1h-10zM647.3 1038.7h10v3.1h-10zM676.3 1038.7h10v3.1h-10zM763.5 1038.7h10v3.1h-10zM821.7 1038.7h19.7v3.1h-19.7zM870.1 1038.7h10v3.1h-10zM1025.2 1038.7h10v3.1h-10zM1044.6 1038.7h10v3.1h-10zM1073.6 1038.7h10v3.1h-10zM511.6 1036h19.7v3.1h-19.7zM802.3 1036h10v3.1h-10zM889.5 1036h10v3.1h-10zM327.5 1033.2h10v3.1h-10zM356.6 1033.2h10v3.1h-10zM405 1033.2h10v3.1h-10zM434.1 1033.2h10v3.1h-10zM453.5 1033.2h19.7v3.1h-19.7zM511.6 1033.2h10v3.1h-10zM550.4 1033.2h10v3.1h-10zM579.4 1033.2h10v3.1h-10zM627.9 1033.2h10v3.1h-10zM734.5 1033.2h10v3.1h-10zM753.9 1033.2h19.7v3.1h-19.7zM812 1033.2h10v3.1h-10zM870.1 1033.2h10v3.1h-10zM899.2 1033.2h10v3.1h-10zM947.7 1033.2h10v3.1h-10zM967 1033.2h10v3.1h-10zM986.4 1033.2h19.7v3.1h-19.7zM1025.2 1033.2h10v3.1h-10zM298.4 1030.5h10v3.1h-10zM376 1030.5h10v3.1h-10zM424.4 1030.5h10v3.1h-10zM472.9 1030.5h10v3.1h-10zM511.6 1030.5h10v3.1h-10zM579.4 1030.5h10v3.1h-10zM598.8 1030.5h10v3.1h-10zM676.3 1030.5h10v3.1h-10zM715.1 1030.5h10v3.1h-10zM976.7 1030.5h10v3.1h-10zM1015.5 1030.5h10v3.1h-10zM1034.9 1030.5h10v3.1h-10zM385.6 1027.7h10v3.1h-10zM405 1027.7h10v3.1h-10zM550.4 1027.7h10v3.1h-10zM705.4 1027.7h10v3.1h-10zM792.6 1027.7h10v3.1h-10zM860.4 1027.7h10v3.1h-10zM1025.2 1027.7h19.7v3.1h-19.7zM356.6 1025h10v3.1h-10zM405 1025h10v3.1h-10zM598.8 1025h10v3.1h-10zM686 1025h10v3.1h-10zM753.9 1025h10v3.1h-10zM792.6 1025h10v3.1h-10zM841.1 1025h10v3.1h-10zM1044.6 1025h10v3.1h-10zM841.1 1022.2h10v3.1h-10zM356.6 1002.9h10v3.1h-10zM986.4 994.7h10v3.1h-10z"/><path fill="#e1c1ff" d="M279.1 1330.7h10v3.1h-10zM879.8 1330.7h10v3.1h-10zM908.9 1330.7h10v3.1h-10zM996.1 1330.7h10v3.1h-10zM1025.2 1327.9h10v3.1h-10zM1044.6 1327.9h10v3.1h-10zM879.8 1325.2h10v3.1h-10zM1054.2 1325.2h19.7v3.1h-19.7zM1015.5 1322.4h10v3.1h-10zM1034.9 1322.4h10v3.1h-10zM908.9 1319.6h10v3.1h-10zM957.3 1314.1h10v3.1h-10zM996.1 1314.1h19.7v3.1h-19.7zM1083.3 1231.5h10v3.1h-10zM598.8 1047h10v3.1h-10zM647.3 1047h10v3.1h-10zM1015.5 1047h10v3.1h-10zM1063.9 1047h19.7v3.1h-19.7zM327.5 1044.2h19.7v3.1h-19.7zM618.2 1044.2h10v3.1h-10zM637.6 1044.2h10v3.1h-10zM657 1044.2h19.7v3.1h-19.7zM715.1 1044.2h10v3.1h-10zM744.2 1044.2h19.7v3.1h-19.7zM782.9 1044.2h10v3.1h-10zM850.8 1044.2h10v3.1h-10zM918.6 1044.2h10v3.1h-10zM308.1 1041.5h10v3.1h-10zM366.3 1041.5h10v3.1h-10zM492.2 1041.5h10v3.1h-10zM550.4 1041.5h10v3.1h-10zM579.4 1041.5h10v3.1h-10zM715.1 1041.5h10v3.1h-10zM782.9 1041.5h10v3.1h-10zM831.4 1041.5h10v3.1h-10zM860.4 1041.5h10v3.1h-10zM879.8 1041.5h10v3.1h-10zM967 1041.5h10v3.1h-10zM1034.9 1041.5h10v3.1h-10zM327.5 1038.7h10v3.1h-10zM589.1 1038.7h10v3.1h-10zM812 1038.7h10v3.1h-10zM938 1038.7h10v3.1h-10zM327.5 1036h10v3.1h-10zM385.6 1036h10v3.1h-10zM540.7 1036h10v3.1h-10zM560.1 1036h10v3.1h-10zM589.1 1036h10v3.1h-10zM608.5 1036h10v3.1h-10zM627.9 1036h10v3.1h-10zM705.4 1036h10v3.1h-10zM724.8 1036h10v3.1h-10zM753.9 1036h10v3.1h-10zM773.2 1036h10v3.1h-10zM957.3 1036h10v3.1h-10zM298.4 1033.2h10v3.1h-10zM657 1033.2h10v3.1h-10zM695.7 1033.2h10v3.1h-10zM724.8 1033.2h10v3.1h-10zM782.9 1033.2h10v3.1h-10zM938 1033.2h10v3.1h-10zM1015.5 1033.2h10v3.1h-10zM1034.9 1033.2h10v3.1h-10zM463.2 1030.5h10v3.1h-10zM482.5 1030.5h10v3.1h-10zM550.4 1030.5h10v3.1h-10zM899.2 1030.5h10v3.1h-10zM938 1030.5h19.7v3.1h-19.7zM1073.6 1030.5h10v3.1h-10zM298.4 1027.7h10v3.1h-10zM356.6 1027.7h10v3.1h-10zM414.7 1027.7h10v3.1h-10zM434.1 1027.7h10v3.1h-10zM482.5 1027.7h10v3.1h-10zM531 1027.7h10v3.1h-10zM560.1 1027.7h29.4v3.1h-29.4zM715.1 1027.7h10v3.1h-10zM734.5 1027.7h10v3.1h-10zM821.7 1027.7h10v3.1h-10zM967 1027.7h10v3.1h-10zM376 1025h10v3.1h-10zM540.7 1025h10v3.1h-10zM647.3 1025h10v3.1h-10zM666.6 1025h10v3.1h-10zM782.9 1025h10v3.1h-10zM870.1 1025h10v3.1h-10zM1005.8 1025h10v3.1h-10zM850.8 1022.2h10v3.1h-10zM405 1002.9h10v3.1h-10z"/><path fill="#d7acff" d="M928.3 1327.9h10v3.1h-10zM1054.2 1327.9h10v3.1h-10zM1073.6 1327.9h10v3.1h-10zM870.1 1325.2h10v3.1h-10zM918.6 1325.2h10v3.1h-10zM967 1325.2h10v3.1h-10zM928.3 1322.4h10v3.1h-10zM976.7 1322.4h10v3.1h-10zM1025.2 1322.4h10v3.1h-10zM870.1 1319.6h10v3.1h-10zM1044.6 1316.9h10v3.1h-10zM279.1 1314.1h10v3.1h-10zM879.8 1314.1h10v3.1h-10zM986.4 1311.4h10v3.1h-10zM1005.8 1311.4h19.7v3.1h-19.7zM1044.6 1311.4h10v3.1h-10zM1083.3 1223.3h10v3.1h-10zM1083.3 1217.7h10v3.1h-10zM1083.3 1129.6h10v3.1h-10zM1083.3 1124.1h10v3.1h-10zM870.1 1049.8h10v3.1h-10zM1073.6 1049.8h10v3.1h-10zM366.3 1047h10v3.1h-10zM482.5 1047h10v3.1h-10zM589.1 1047h10v3.1h-10zM715.1 1047h19.7v3.1h-19.7zM763.5 1047h19.7v3.1h-19.7zM812 1047h10v3.1h-10zM841.1 1047h10v3.1h-10zM870.1 1047h10v3.1h-10zM1044.6 1047h19.7v3.1h-19.7zM298.4 1044.2h10v3.1h-10zM376 1044.2h19.7v3.1h-19.7zM424.4 1044.2h19.7v3.1h-19.7zM579.4 1044.2h10v3.1h-10zM841.1 1044.2h10v3.1h-10zM986.4 1044.2h10v3.1h-10zM405 1041.5h10v3.1h-10zM453.5 1041.5h10v3.1h-10zM482.5 1041.5h10v3.1h-10zM521.3 1041.5h10v3.1h-10zM569.8 1041.5h10v3.1h-10zM618.2 1041.5h10v3.1h-10zM744.2 1041.5h10v3.1h-10zM773.2 1041.5h10v3.1h-10zM986.4 1041.5h19.7v3.1h-19.7zM1054.2 1041.5h10v3.1h-10zM346.9 1038.7h10v3.1h-10zM385.6 1038.7h10v3.1h-10zM463.2 1038.7h10v3.1h-10zM579.4 1038.7h10v3.1h-10zM627.9 1038.7h19.7v3.1h-19.7zM666.6 1038.7h10v3.1h-10zM850.8 1038.7h19.7v3.1h-19.7zM967 1038.7h19.7v3.1h-19.7zM395.3 1036h10v3.1h-10zM531 1036h10v3.1h-10zM579.4 1036h10v3.1h-10zM637.6 1036h10v3.1h-10zM821.7 1036h10v3.1h-10zM841.1 1036h10v3.1h-10zM870.1 1036h10v3.1h-10zM1034.9 1036h19.7v3.1h-19.7zM1063.9 1036h10v3.1h-10zM560.1 1033.2h10v3.1h-10zM618.2 1033.2h10v3.1h-10zM676.3 1033.2h19.7v3.1h-19.7zM821.7 1033.2h10v3.1h-10zM976.7 1033.2h10v3.1h-10zM1044.6 1033.2h10v3.1h-10zM1063.9 1033.2h10v3.1h-10z"/><path fill="#cd98ff" d="M317.8 1330.7h10v3.1h-10zM598.8 1330.7h19.7v3.1h-19.7zM792.6 1330.7h10v3.1h-10zM870.1 1327.9h10v3.1h-10zM986.4 1325.2h10v3.1h-10zM1025.2 1325.2h10v3.1h-10zM957.3 1322.4h10v3.1h-10zM986.4 1322.4h10v3.1h-10zM1054.2 1322.4h10v3.1h-10zM967 1319.6h19.7v3.1h-19.7zM967 1316.9h10v3.1h-10zM996.1 1316.9h10v3.1h-10zM1025.2 1316.9h10v3.1h-10zM986.4 1314.1h10v3.1h-10zM1054.2 1314.1h10v3.1h-10zM879.8 1311.4h10v3.1h-10zM908.9 1311.4h10v3.1h-10zM947.7 1311.4h10v3.1h-10zM967 1311.4h19.7v3.1h-19.7zM1054.2 1311.4h19.7v3.1h-19.7zM986.4 1308.6h10v3.1h-10zM1005.8 1308.6h19.7v3.1h-19.7zM1044.6 1308.6h10v3.1h-10zM1083.3 1165.4h10v3.1h-10zM288.7 1110.3h10v3.1h-10zM443.8 1052.5h10v3.1h-10zM511.6 1052.5h10v3.1h-10zM618.2 1052.5h10v3.1h-10zM918.6 1052.5h10v3.1h-10zM967 1052.5h19.7v3.1h-19.7zM1063.9 1052.5h10v3.1h-10zM346.9 1049.8h10v3.1h-10zM434.1 1049.8h19.7v3.1h-19.7zM521.3 1049.8h10v3.1h-10zM618.2 1049.8h10v3.1h-10zM637.6 1049.8h10v3.1h-10zM676.3 1049.8h10v3.1h-10zM695.7 1049.8h10v3.1h-10zM860.4 1049.8h10v3.1h-10zM947.7 1049.8h10v3.1h-10zM385.6 1047h19.7v3.1h-19.7zM637.6 1047h10v3.1h-10zM657 1047h19.7v3.1h-19.7zM686 1047h10v3.1h-10zM782.9 1047h10v3.1h-10zM850.8 1047h19.7v3.1h-19.7zM908.9 1047h10v3.1h-10zM928.3 1047h19.7v3.1h-19.7zM308.1 1044.2h10v3.1h-10zM356.6 1044.2h10v3.1h-10zM453.5 1044.2h10v3.1h-10zM705.4 1044.2h10v3.1h-10zM821.7 1044.2h10v3.1h-10zM928.3 1044.2h10v3.1h-10zM385.6 1041.5h10v3.1h-10zM540.7 1041.5h10v3.1h-10zM850.8 1041.5h10v3.1h-10zM928.3 1041.5h10v3.1h-10zM531 1038.7h10v3.1h-10zM560.1 1038.7h10v3.1h-10zM753.9 1038.7h10v3.1h-10zM773.2 1038.7h10v3.1h-10zM841.1 1038.7h10v3.1h-10zM908.9 1038.7h29.4v3.1h-29.4zM1063.9 1038.7h10v3.1h-10zM317.8 1036h10v3.1h-10zM405 1036h10v3.1h-10zM850.8 1036h10v3.1h-10zM928.3 1036h10v3.1h-10z"/><path fill="#c383ff" d="M298.4 1330.7h10v3.1h-10zM405 1330.7h29.4v3.1h-29.4zM676.3 1330.7h10v3.1h-10zM773.2 1330.7h10v3.1h-10zM841.1 1330.7h29.4v3.1h-29.4zM279.1 1327.9h10v3.1h-10zM317.8 1327.9h10v3.1h-10zM385.6 1327.9h10v3.1h-10zM492.2 1327.9h10v3.1h-10zM666.6 1327.9h10v3.1h-10zM831.4 1327.9h10v3.1h-10zM279.1 1322.4h10v3.1h-10zM279.1 1319.6h10v3.1h-10zM1015.5 1319.6h10v3.1h-10zM1034.9 1319.6h10v3.1h-10zM1063.9 1319.6h10v3.1h-10zM899.2 1316.9h19.7v3.1h-19.7zM928.3 1316.9h10v3.1h-10zM1054.2 1316.9h10v3.1h-10zM918.6 1314.1h10v3.1h-10zM938 1314.1h19.7v3.1h-19.7zM1025.2 1314.1h10v3.1h-10zM889.5 1311.4h10v3.1h-10zM918.6 1311.4h10v3.1h-10zM957.3 1311.4h10v3.1h-10zM1034.9 1311.4h10v3.1h-10zM908.9 1308.6h10v3.1h-10zM1025.2 1308.6h10v3.1h-10zM1054.2 1308.6h10v3.1h-10zM1083.3 1237h10v3.1h-10zM1083.3 1212.2h10v3.1h-10zM1083.3 1176.4h10v3.1h-10zM395.3 1055.3h10v3.1h-10zM569.8 1055.3h10v3.1h-10zM608.5 1055.3h10v3.1h-10zM763.5 1055.3h10v3.1h-10zM792.6 1055.3h10v3.1h-10zM821.7 1055.3h10v3.1h-10zM317.8 1052.5h10v3.1h-10zM405 1052.5h19.7v3.1h-19.7zM463.2 1052.5h10v3.1h-10zM540.7 1052.5h10v3.1h-10zM608.5 1052.5h10v3.1h-10zM627.9 1052.5h10v3.1h-10zM657 1052.5h10v3.1h-10zM734.5 1052.5h10v3.1h-10zM792.6 1052.5h29.4v3.1h-29.4zM831.4 1052.5h10v3.1h-10zM870.1 1052.5h10v3.1h-10zM938 1052.5h10v3.1h-10zM996.1 1052.5h10v3.1h-10zM1054.2 1052.5h10v3.1h-10zM317.8 1049.8h19.7v3.1h-19.7zM395.3 1049.8h10v3.1h-10zM608.5 1049.8h10v3.1h-10zM734.5 1049.8h10v3.1h-10zM763.5 1049.8h10v3.1h-10zM821.7 1049.8h19.7v3.1h-19.7zM899.2 1049.8h10v3.1h-10zM996.1 1049.8h10v3.1h-10zM298.4 1047h10v3.1h-10zM443.8 1047h10v3.1h-10zM501.9 1047h10v3.1h-10zM540.7 1047h10v3.1h-10zM744.2 1047h10v3.1h-10zM879.8 1047h10v3.1h-10zM899.2 1047h10v3.1h-10zM947.7 1047h10v3.1h-10zM967 1047h19.7v3.1h-19.7zM996.1 1047h10v3.1h-10zM463.2 1044.2h10v3.1h-10zM511.6 1044.2h10v3.1h-10zM550.4 1044.2h10v3.1h-10zM569.8 1044.2h10v3.1h-10zM695.7 1044.2h10v3.1h-10zM734.5 1044.2h10v3.1h-10zM908.9 1044.2h10v3.1h-10zM976.7 1044.2h10v3.1h-10zM996.1 1044.2h10v3.1h-10zM1015.5 1044.2h10v3.1h-10zM560.1 1041.5h10v3.1h-10zM792.6 1041.5h10v3.1h-10zM1044.6 1041.5h10v3.1h-10zM879.8 1038.7h10v3.1h-10zM1034.9 1038.7h10v3.1h-10z"/><path fill="#b96eff" d="M308.1 1330.7h10v3.1h-10zM346.9 1330.7h10v3.1h-10zM443.8 1330.7h10v3.1h-10zM463.2 1330.7h10v3.1h-10zM492.2 1330.7h10v3.1h-10zM540.7 1330.7h19.7v3.1h-19.7zM705.4 1330.7h10v3.1h-10zM724.8 1330.7h10v3.1h-10zM802.3 1330.7h19.7v3.1h-19.7zM831.4 1330.7h10v3.1h-10zM308.1 1327.9h10v3.1h-10zM337.2 1327.9h19.7v3.1h-19.7zM366.3 1327.9h10v3.1h-10zM424.4 1327.9h10v3.1h-10zM443.8 1327.9h10v3.1h-10zM472.9 1327.9h10v3.1h-10zM560.1 1327.9h19.7v3.1h-19.7zM627.9 1327.9h10v3.1h-10zM715.1 1327.9h10v3.1h-10zM802.3 1327.9h10v3.1h-10zM317.8 1325.2h10v3.1h-10zM395.3 1325.2h10v3.1h-10zM870.1 1322.4h10v3.1h-10zM279.1 1316.9h10v3.1h-10zM870.1 1316.9h10v3.1h-10zM918.6 1316.9h10v3.1h-10zM1073.6 1316.9h10v3.1h-10zM908.9 1314.1h10v3.1h-10zM279.1 1311.4h10v3.1h-10zM899.2 1311.4h10v3.1h-10zM996.1 1311.4h10v3.1h-10zM1073.6 1311.4h10v3.1h-10zM879.8 1308.6h19.7v3.1h-19.7zM928.3 1308.6h19.7v3.1h-19.7zM908.9 1305.9h10v3.1h-10zM540.7 1063.5h10v3.1h-10zM589.1 1063.5h10v3.1h-10zM346.9 1060.8h10v3.1h-10zM443.8 1060.8h10v3.1h-10zM482.5 1060.8h10v3.1h-10zM744.2 1060.8h10v3.1h-10zM1054.2 1060.8h10v3.1h-10zM337.2 1058h19.7v3.1h-19.7zM376 1058h10v3.1h-10zM395.3 1058h10v3.1h-10zM492.2 1058h10v3.1h-10zM511.6 1058h19.7v3.1h-19.7zM550.4 1058h10v3.1h-10zM627.9 1058h19.7v3.1h-19.7zM657 1058h10v3.1h-10zM802.3 1058h10v3.1h-10zM841.1 1058h10v3.1h-10zM1025.2 1058h19.7v3.1h-19.7zM1063.9 1058h10v3.1h-10zM298.4 1055.3h10v3.1h-10zM405 1055.3h10v3.1h-10zM424.4 1055.3h10v3.1h-10zM492.2 1055.3h19.7v3.1h-19.7zM560.1 1055.3h10v3.1h-10zM618.2 1055.3h10v3.1h-10zM637.6 1055.3h29.4v3.1h-29.4zM676.3 1055.3h10v3.1h-10zM695.7 1055.3h10v3.1h-10zM715.1 1055.3h10v3.1h-10zM782.9 1055.3h10v3.1h-10zM918.6 1055.3h10v3.1h-10zM947.7 1055.3h10v3.1h-10zM996.1 1055.3h10v3.1h-10zM1034.9 1055.3h10v3.1h-10zM298.4 1052.5h10v3.1h-10zM395.3 1052.5h10v3.1h-10zM453.5 1052.5h10v3.1h-10zM501.9 1052.5h10v3.1h-10zM521.3 1052.5h10v3.1h-10zM560.1 1052.5h19.7v3.1h-19.7zM637.6 1052.5h10v3.1h-10zM686 1052.5h10v3.1h-10zM753.9 1052.5h10v3.1h-10zM879.8 1052.5h10v3.1h-10zM298.4 1049.8h10v3.1h-10zM337.2 1049.8h10v3.1h-10zM414.7 1049.8h19.7v3.1h-19.7zM472.9 1049.8h10v3.1h-10zM560.1 1049.8h10v3.1h-10zM579.4 1049.8h10v3.1h-10zM598.8 1049.8h10v3.1h-10zM686 1049.8h10v3.1h-10zM724.8 1049.8h10v3.1h-10zM744.2 1049.8h10v3.1h-10zM773.2 1049.8h10v3.1h-10zM850.8 1049.8h10v3.1h-10zM879.8 1049.8h19.7v3.1h-19.7zM976.7 1049.8h10v3.1h-10zM1015.5 1049.8h10v3.1h-10zM1063.9 1049.8h10v3.1h-10zM317.8 1047h19.7v3.1h-19.7zM356.6 1047h10v3.1h-10zM405 1047h29.4v3.1h-29.4zM511.6 1047h10v3.1h-10zM618.2 1047h10v3.1h-10zM676.3 1047h10v3.1h-10zM734.5 1047h10v3.1h-10zM821.7 1047h19.7v3.1h-19.7zM918.6 1047h10v3.1h-10zM957.3 1047h10v3.1h-10zM1025.2 1047h19.7v3.1h-19.7zM366.3 1044.2h10v3.1h-10zM472.9 1044.2h10v3.1h-10zM492.2 1044.2h10v3.1h-10zM521.3 1044.2h19.7v3.1h-19.7zM627.9 1044.2h10v3.1h-10zM647.3 1044.2h10v3.1h-10zM773.2 1044.2h10v3.1h-10zM879.8 1044.2h10v3.1h-10zM899.2 1044.2h10v3.1h-10zM938 1044.2h29.4v3.1h-29.4zM1063.9 1044.2h10v3.1h-10zM337.2 1041.5h10v3.1h-10zM821.7 1041.5h10v3.1h-10zM1025.2 1041.5h10v3.1h-10z"/><path fill="#af59ff" d="M327.5 1330.7h19.7v3.1h-19.7zM356.6 1330.7h10v3.1h-10zM501.9 1330.7h10v3.1h-10zM531 1330.7h10v3.1h-10zM618.2 1330.7h10v3.1h-10zM647.3 1330.7h19.7v3.1h-19.7zM356.6 1327.9h10v3.1h-10zM453.5 1327.9h10v3.1h-10zM521.3 1327.9h10v3.1h-10zM540.7 1327.9h10v3.1h-10zM579.4 1327.9h10v3.1h-10zM724.8 1327.9h39.1v3.1h-39.1zM821.7 1327.9h10v3.1h-10zM860.4 1327.9h10v3.1h-10zM492.2 1325.2h10v3.1h-10zM511.6 1325.2h19.7v3.1h-19.7zM540.7 1325.2h10v3.1h-10zM569.8 1325.2h10v3.1h-10zM724.8 1325.2h10v3.1h-10zM744.2 1325.2h10v3.1h-10zM782.9 1325.2h10v3.1h-10zM821.7 1325.2h10v3.1h-10zM860.4 1325.2h10v3.1h-10zM308.1 1322.4h10v3.1h-10zM376 1322.4h10v3.1h-10zM405 1322.4h10v3.1h-10zM463.2 1322.4h10v3.1h-10zM569.8 1322.4h10v3.1h-10zM598.8 1322.4h29.4v3.1h-29.4zM647.3 1322.4h10v3.1h-10zM666.6 1322.4h10v3.1h-10zM724.8 1322.4h10v3.1h-10zM763.5 1322.4h10v3.1h-10zM782.9 1322.4h19.7v3.1h-19.7zM327.5 1319.6h10v3.1h-10zM511.6 1319.6h10v3.1h-10zM860.4 1319.6h10v3.1h-10zM967 1308.6h19.7v3.1h-19.7zM996.1 1308.6h10v3.1h-10zM1063.9 1308.6h10v3.1h-10zM889.5 1305.9h10v3.1h-10zM996.1 1305.9h10v3.1h-10zM1073.6 1305.9h10v3.1h-10zM1083.3 1190.2h10v3.1h-10zM1083.3 1187.5h10v3.1h-10zM1083.3 1181.9h10v3.1h-10zM1083.3 1168.2h10v3.1h-10zM1083.3 1126.9h10v3.1h-10zM279.1 1107.6h10v3.1h-10zM279.1 1104.8h10v3.1h-10zM521.3 1074.5h10v3.1h-10zM366.3 1069h10v3.1h-10zM492.2 1069h10v3.1h-10zM531 1069h10v3.1h-10zM589.1 1069h10v3.1h-10zM637.6 1069h10v3.1h-10zM715.1 1069h19.7v3.1h-19.7zM773.2 1069h10v3.1h-10zM831.4 1069h19.7v3.1h-19.7zM366.3 1066.3h10v3.1h-10zM472.9 1066.3h10v3.1h-10zM501.9 1066.3h10v3.1h-10zM589.1 1066.3h10v3.1h-10zM618.2 1066.3h10v3.1h-10zM637.6 1066.3h10v3.1h-10zM744.2 1066.3h10v3.1h-10zM782.9 1066.3h10v3.1h-10zM1044.6 1066.3h10v3.1h-10zM346.9 1063.5h19.7v3.1h-19.7zM385.6 1063.5h10v3.1h-10zM424.4 1063.5h10v3.1h-10zM482.5 1063.5h19.7v3.1h-19.7zM550.4 1063.5h10v3.1h-10zM569.8 1063.5h10v3.1h-10zM666.6 1063.5h19.7v3.1h-19.7zM734.5 1063.5h10v3.1h-10zM763.5 1063.5h10v3.1h-10zM782.9 1063.5h10v3.1h-10zM821.7 1063.5h19.7v3.1h-19.7zM889.5 1063.5h10v3.1h-10zM492.2 1060.8h10v3.1h-10zM511.6 1060.8h10v3.1h-10zM560.1 1060.8h10v3.1h-10zM589.1 1060.8h19.7v3.1h-19.7zM705.4 1060.8h10v3.1h-10zM831.4 1060.8h10v3.1h-10zM414.7 1058h10v3.1h-10zM443.8 1058h10v3.1h-10zM705.4 1058h19.7v3.1h-19.7zM734.5 1058h10v3.1h-10zM782.9 1058h19.7v3.1h-19.7zM831.4 1058h10v3.1h-10zM860.4 1058h10v3.1h-10zM879.8 1058h19.7v3.1h-19.7zM908.9 1058h10v3.1h-10zM928.3 1058h10v3.1h-10zM976.7 1058h10v3.1h-10zM1054.2 1058h10v3.1h-10zM1073.6 1058h10v3.1h-10zM337.2 1055.3h10v3.1h-10zM443.8 1055.3h10v3.1h-10zM627.9 1055.3h10v3.1h-10zM773.2 1055.3h10v3.1h-10zM967 1055.3h10v3.1h-10zM1015.5 1055.3h10v3.1h-10zM1073.6 1055.3h10v3.1h-10zM376 1052.5h10v3.1h-10zM424.4 1052.5h10v3.1h-10zM482.5 1052.5h19.7v3.1h-19.7zM589.1 1052.5h10v3.1h-10zM715.1 1052.5h10v3.1h-10zM763.5 1052.5h19.7v3.1h-19.7zM841.1 1052.5h10v3.1h-10zM889.5 1052.5h10v3.1h-10zM1015.5 1052.5h29.4v3.1h-29.4zM376 1049.8h19.7v3.1h-19.7zM405 1049.8h10v3.1h-10zM463.2 1049.8h10v3.1h-10zM482.5 1049.8h39.1v3.1h-39.1zM627.9 1049.8h10v3.1h-10zM657 1049.8h19.7v3.1h-19.7zM705.4 1049.8h10v3.1h-10zM841.1 1049.8h10v3.1h-10zM918.6 1049.8h19.7v3.1h-19.7zM967 1049.8h10v3.1h-10zM1025.2 1049.8h29.4v3.1h-29.4zM337.2 1047h19.7v3.1h-19.7zM376 1047h10v3.1h-10zM463.2 1047h10v3.1h-10zM492.2 1047h10v3.1h-10zM695.7 1047h10v3.1h-10zM792.6 1047h10v3.1h-10zM889.5 1047h10v3.1h-10zM1005.8 1047h10v3.1h-10zM405 1044.2h10v3.1h-10zM589.1 1044.2h10v3.1h-10zM686 1044.2h10v3.1h-10zM792.6 1044.2h10v3.1h-10zM831.4 1044.2h10v3.1h-10zM1005.8 1044.2h10v3.1h-10zM1054.2 1044.2h10v3.1h-10z"/><path fill="#a545ff" d="M288.7 1330.7h10v3.1h-10zM385.6 1330.7h19.7v3.1h-19.7zM472.9 1330.7h10v3.1h-10zM521.3 1330.7h10v3.1h-10zM579.4 1330.7h19.7v3.1h-19.7zM627.9 1330.7h10v3.1h-10zM734.5 1330.7h10v3.1h-10zM763.5 1330.7h10v3.1h-10zM821.7 1330.7h10v3.1h-10zM298.4 1327.9h10v3.1h-10zM327.5 1327.9h10v3.1h-10zM376 1327.9h10v3.1h-10zM414.7 1327.9h10v3.1h-10zM463.2 1327.9h10v3.1h-10zM511.6 1327.9h10v3.1h-10zM550.4 1327.9h10v3.1h-10zM637.6 1327.9h10v3.1h-10zM657 1327.9h10v3.1h-10zM705.4 1327.9h10v3.1h-10zM841.1 1327.9h19.7v3.1h-19.7zM463.2 1325.2h10v3.1h-10zM589.1 1325.2h10v3.1h-10zM666.6 1325.2h19.7v3.1h-19.7zM802.3 1325.2h10v3.1h-10zM356.6 1322.4h10v3.1h-10zM472.9 1322.4h19.7v3.1h-19.7zM501.9 1322.4h10v3.1h-10zM589.1 1322.4h10v3.1h-10zM637.6 1322.4h10v3.1h-10zM657 1322.4h10v3.1h-10zM676.3 1322.4h19.7v3.1h-19.7zM753.9 1322.4h10v3.1h-10zM821.7 1322.4h10v3.1h-10zM860.4 1322.4h10v3.1h-10zM308.1 1319.6h10v3.1h-10zM337.2 1319.6h29.4v3.1h-29.4zM424.4 1319.6h10v3.1h-10zM443.8 1319.6h10v3.1h-10zM637.6 1319.6h10v3.1h-10zM657 1319.6h10v3.1h-10zM695.7 1319.6h19.7v3.1h-19.7zM724.8 1319.6h10v3.1h-10zM812 1319.6h10v3.1h-10zM346.9 1316.9h10v3.1h-10zM550.4 1316.9h29.4v3.1h-29.4zM618.2 1316.9h10v3.1h-10zM676.3 1316.9h10v3.1h-10zM705.4 1316.9h10v3.1h-10zM773.2 1316.9h10v3.1h-10zM812 1316.9h19.7v3.1h-19.7zM763.5 1314.1h10v3.1h-10zM860.4 1314.1h10v3.1h-10zM870.1 1311.4h10v3.1h-10zM928.3 1311.4h19.7v3.1h-19.7zM918.6 1308.6h10v3.1h-10zM947.7 1308.6h10v3.1h-10zM928.3 1305.9h10v3.1h-10zM947.7 1305.9h10v3.1h-10zM967 1305.9h10v3.1h-10zM986.4 1305.9h10v3.1h-10zM1025.2 1305.9h19.7v3.1h-19.7zM1063.9 1305.9h10v3.1h-10zM967 1303.1h10v3.1h-10zM986.4 1303.1h10v3.1h-10zM1083.3 1242.5h10v3.1h-10zM511.6 1082.8h10v3.1h-10zM715.1 1082.8h10v3.1h-10zM831.4 1082.8h10v3.1h-10zM327.5 1080h19.7v3.1h-19.7zM705.4 1080h10v3.1h-10zM734.5 1080h10v3.1h-10zM753.9 1080h10v3.1h-10zM414.7 1077.3h10v3.1h-10zM463.2 1077.3h10v3.1h-10zM501.9 1077.3h10v3.1h-10zM521.3 1077.3h10v3.1h-10zM618.2 1077.3h19.7v3.1h-19.7zM705.4 1077.3h10v3.1h-10zM763.5 1077.3h10v3.1h-10zM889.5 1077.3h10v3.1h-10zM327.5 1074.5h10v3.1h-10zM356.6 1074.5h19.7v3.1h-19.7zM443.8 1074.5h10v3.1h-10zM608.5 1074.5h10v3.1h-10zM676.3 1074.5h10v3.1h-10zM744.2 1074.5h10v3.1h-10zM782.9 1074.5h10v3.1h-10zM821.7 1074.5h10v3.1h-10zM938 1074.5h10v3.1h-10zM298.4 1071.8h10v3.1h-10zM424.4 1071.8h10v3.1h-10zM472.9 1071.8h10v3.1h-10zM492.2 1071.8h10v3.1h-10zM540.7 1071.8h10v3.1h-10zM627.9 1071.8h10v3.1h-10zM734.5 1071.8h19.7v3.1h-19.7zM812 1071.8h10v3.1h-10zM831.4 1071.8h10v3.1h-10zM899.2 1071.8h10v3.1h-10zM918.6 1071.8h10v3.1h-10zM967 1071.8h19.7v3.1h-19.7zM1025.2 1071.8h19.7v3.1h-19.7zM346.9 1069h10v3.1h-10zM405 1069h10v3.1h-10zM501.9 1069h10v3.1h-10zM521.3 1069h10v3.1h-10zM686 1069h10v3.1h-10zM705.4 1069h10v3.1h-10zM812 1069h10v3.1h-10zM870.1 1069h10v3.1h-10zM889.5 1069h10v3.1h-10zM986.4 1069h10v3.1h-10zM298.4 1066.3h10v3.1h-10zM405 1066.3h19.7v3.1h-19.7zM434.1 1066.3h10v3.1h-10zM598.8 1066.3h10v3.1h-10zM666.6 1066.3h10v3.1h-10zM753.9 1066.3h10v3.1h-10zM996.1 1066.3h10v3.1h-10zM1073.6 1066.3h10v3.1h-10zM395.3 1063.5h10v3.1h-10zM414.7 1063.5h10v3.1h-10zM443.8 1063.5h10v3.1h-10zM472.9 1063.5h10v3.1h-10zM501.9 1063.5h19.7v3.1h-19.7zM560.1 1063.5h10v3.1h-10zM579.4 1063.5h10v3.1h-10zM637.6 1063.5h19.7v3.1h-19.7zM773.2 1063.5h10v3.1h-10zM841.1 1063.5h10v3.1h-10zM860.4 1063.5h19.7v3.1h-19.7zM899.2 1063.5h10v3.1h-10zM957.3 1063.5h10v3.1h-10zM1034.9 1063.5h10v3.1h-10zM1073.6 1063.5h10v3.1h-10zM327.5 1060.8h10v3.1h-10zM424.4 1060.8h19.7v3.1h-19.7zM521.3 1060.8h10v3.1h-10zM569.8 1060.8h10v3.1h-10zM627.9 1060.8h19.7v3.1h-19.7zM782.9 1060.8h10v3.1h-10zM812 1060.8h10v3.1h-10zM899.2 1060.8h19.7v3.1h-19.7zM947.7 1060.8h19.7v3.1h-19.7zM996.1 1060.8h10v3.1h-10zM1073.6 1060.8h10v3.1h-10zM385.6 1058h10v3.1h-10zM434.1 1058h10v3.1h-10zM453.5 1058h10v3.1h-10zM569.8 1058h10v3.1h-10zM666.6 1058h10v3.1h-10zM812 1058h19.7v3.1h-19.7zM947.7 1058h10v3.1h-10zM1015.5 1058h10v3.1h-10zM346.9 1055.3h10v3.1h-10zM589.1 1055.3h10v3.1h-10zM686 1055.3h10v3.1h-10zM724.8 1055.3h10v3.1h-10zM753.9 1055.3h10v3.1h-10zM802.3 1055.3h19.7v3.1h-19.7zM879.8 1055.3h19.7v3.1h-19.7zM908.9 1055.3h10v3.1h-10zM928.3 1055.3h19.7v3.1h-19.7zM986.4 1055.3h10v3.1h-10zM1025.2 1055.3h10v3.1h-10zM356.6 1052.5h10v3.1h-10zM531 1052.5h10v3.1h-10zM676.3 1052.5h10v3.1h-10zM724.8 1052.5h10v3.1h-10zM744.2 1052.5h10v3.1h-10zM821.7 1052.5h10v3.1h-10zM899.2 1052.5h10v3.1h-10zM986.4 1052.5h10v3.1h-10zM1044.6 1052.5h10v3.1h-10zM1073.6 1052.5h10v3.1h-10zM356.6 1049.8h10v3.1h-10zM453.5 1049.8h10v3.1h-10zM531 1049.8h19.7v3.1h-19.7zM647.3 1049.8h10v3.1h-10zM802.3 1049.8h10v3.1h-10zM908.9 1049.8h10v3.1h-10zM938 1049.8h10v3.1h-10zM957.3 1049.8h10v3.1h-10zM986.4 1049.8h10v3.1h-10zM1005.8 1049.8h10v3.1h-10zM453.5 1047h10v3.1h-10zM472.9 1047h10v3.1h-10zM531 1047h10v3.1h-10zM550.4 1047h10v3.1h-10zM569.8 1047h10v3.1h-10zM627.9 1047h10v3.1h-10zM705.4 1047h10v3.1h-10zM753.9 1047h10v3.1h-10zM802.3 1047h10v3.1h-10z"/><path fill="#9b30ff" d="M366.3 1330.7h10v3.1h-10zM434.1 1330.7h10v3.1h-10zM511.6 1330.7h10v3.1h-10zM569.8 1330.7h10v3.1h-10zM686 1330.7h19.7v3.1h-19.7zM782.9 1330.7h10v3.1h-10zM434.1 1327.9h10v3.1h-10zM531 1327.9h10v3.1h-10zM589.1 1327.9h10v3.1h-10zM647.3 1327.9h10v3.1h-10zM792.6 1327.9h10v3.1h-10zM298.4 1325.2h10v3.1h-10zM376 1325.2h10v3.1h-10zM453.5 1325.2h10v3.1h-10zM482.5 1325.2h10v3.1h-10zM598.8 1325.2h10v3.1h-10zM637.6 1325.2h10v3.1h-10zM695.7 1325.2h10v3.1h-10zM753.9 1325.2h10v3.1h-10zM792.6 1325.2h10v3.1h-10zM850.8 1325.2h10v3.1h-10zM317.8 1322.4h29.4v3.1h-29.4zM366.3 1322.4h10v3.1h-10zM395.3 1322.4h10v3.1h-10zM453.5 1322.4h10v3.1h-10zM579.4 1322.4h10v3.1h-10zM734.5 1322.4h10v3.1h-10zM773.2 1322.4h10v3.1h-10zM288.7 1319.6h10v3.1h-10zM376 1319.6h10v3.1h-10zM405 1319.6h10v3.1h-10zM463.2 1319.6h10v3.1h-10zM715.1 1319.6h10v3.1h-10zM734.5 1319.6h10v3.1h-10zM792.6 1319.6h19.7v3.1h-19.7zM288.7 1316.9h10v3.1h-10zM337.2 1316.9h10v3.1h-10zM356.6 1316.9h19.7v3.1h-19.7zM443.8 1316.9h10v3.1h-10zM598.8 1316.9h10v3.1h-10zM686 1316.9h10v3.1h-10zM744.2 1316.9h19.7v3.1h-19.7zM327.5 1314.1h19.7v3.1h-19.7zM376 1314.1h10v3.1h-10zM550.4 1314.1h10v3.1h-10zM734.5 1314.1h10v3.1h-10zM753.9 1314.1h10v3.1h-10zM802.3 1314.1h10v3.1h-10zM850.8 1314.1h10v3.1h-10zM298.4 1311.4h10v3.1h-10zM366.3 1311.4h10v3.1h-10zM511.6 1311.4h10v3.1h-10zM860.4 1311.4h10v3.1h-10zM938 1305.9h10v3.1h-10zM1044.6 1305.9h10v3.1h-10zM279.1 1303.1h10v3.1h-10zM976.7 1303.1h10v3.1h-10zM1083.3 1162.7h10v3.1h-10zM1083.3 1143.4h10v3.1h-10zM288.7 1115.8h10v3.1h-10zM279.1 1110.3h10v3.1h-10zM298.4 1091.1h10v3.1h-10zM753.9 1091.1h10v3.1h-10zM511.6 1088.3h10v3.1h-10zM686 1088.3h19.7v3.1h-19.7zM763.5 1088.3h10v3.1h-10zM346.9 1085.6h19.7v3.1h-19.7zM385.6 1085.6h29.4v3.1h-29.4zM434.1 1085.6h10v3.1h-10zM540.7 1085.6h10v3.1h-10zM715.1 1085.6h10v3.1h-10zM763.5 1085.6h19.7v3.1h-19.7zM366.3 1082.8h19.7v3.1h-19.7zM434.1 1082.8h10v3.1h-10zM482.5 1082.8h10v3.1h-10zM501.9 1082.8h10v3.1h-10zM598.8 1082.8h10v3.1h-10zM627.9 1082.8h10v3.1h-10zM695.7 1082.8h10v3.1h-10zM773.2 1082.8h10v3.1h-10zM802.3 1082.8h10v3.1h-10zM850.8 1082.8h10v3.1h-10zM879.8 1082.8h10v3.1h-10zM918.6 1082.8h10v3.1h-10zM1015.5 1082.8h10v3.1h-10zM308.1 1080h10v3.1h-10zM346.9 1080h19.7v3.1h-19.7zM501.9 1080h10v3.1h-10zM540.7 1080h10v3.1h-10zM657 1080h10v3.1h-10zM782.9 1080h39.1v3.1h-39.1zM860.4 1080h10v3.1h-10zM889.5 1080h10v3.1h-10zM298.4 1077.3h10v3.1h-10zM356.6 1077.3h10v3.1h-10zM434.1 1077.3h10v3.1h-10zM511.6 1077.3h10v3.1h-10zM579.4 1077.3h10v3.1h-10zM657 1077.3h10v3.1h-10zM724.8 1077.3h10v3.1h-10zM773.2 1077.3h19.7v3.1h-19.7zM802.3 1077.3h10v3.1h-10zM860.4 1077.3h10v3.1h-10zM976.7 1077.3h10v3.1h-10zM298.4 1074.5h10v3.1h-10zM492.2 1074.5h10v3.1h-10zM569.8 1074.5h19.7v3.1h-19.7zM705.4 1074.5h10v3.1h-10zM812 1074.5h10v3.1h-10zM850.8 1074.5h10v3.1h-10zM967 1074.5h19.7v3.1h-19.7zM1063.9 1074.5h10v3.1h-10zM366.3 1071.8h29.4v3.1h-29.4zM405 1071.8h10v3.1h-10zM482.5 1071.8h10v3.1h-10zM560.1 1071.8h10v3.1h-10zM608.5 1071.8h10v3.1h-10zM666.6 1071.8h10v3.1h-10zM705.4 1071.8h10v3.1h-10zM773.2 1071.8h19.7v3.1h-19.7zM928.3 1071.8h10v3.1h-10zM947.7 1071.8h10v3.1h-10zM986.4 1071.8h10v3.1h-10zM1005.8 1071.8h19.7v3.1h-19.7zM1063.9 1071.8h10v3.1h-10zM308.1 1069h19.7v3.1h-19.7zM443.8 1069h10v3.1h-10zM550.4 1069h19.7v3.1h-19.7zM579.4 1069h10v3.1h-10zM627.9 1069h10v3.1h-10zM657 1069h10v3.1h-10zM676.3 1069h10v3.1h-10zM695.7 1069h10v3.1h-10zM802.3 1069h10v3.1h-10zM996.1 1069h10v3.1h-10zM1025.2 1069h19.7v3.1h-19.7zM376 1066.3h19.7v3.1h-19.7zM424.4 1066.3h10v3.1h-10zM443.8 1066.3h19.7v3.1h-19.7zM492.2 1066.3h10v3.1h-10zM560.1 1066.3h10v3.1h-10zM627.9 1066.3h10v3.1h-10zM734.5 1066.3h10v3.1h-10zM763.5 1066.3h10v3.1h-10zM802.3 1066.3h29.4v3.1h-29.4zM879.8 1066.3h19.7v3.1h-19.7zM908.9 1066.3h10v3.1h-10zM986.4 1066.3h10v3.1h-10zM1015.5 1066.3h10v3.1h-10zM308.1 1063.5h10v3.1h-10zM366.3 1063.5h10v3.1h-10zM453.5 1063.5h10v3.1h-10zM598.8 1063.5h29.4v3.1h-29.4zM715.1 1063.5h19.7v3.1h-19.7zM938 1063.5h10v3.1h-10zM1005.8 1063.5h10v3.1h-10zM1054.2 1063.5h19.7v3.1h-19.7zM298.4 1060.8h19.7v3.1h-19.7zM376 1060.8h10v3.1h-10zM472.9 1060.8h10v3.1h-10zM501.9 1060.8h10v3.1h-10zM676.3 1060.8h10v3.1h-10zM695.7 1060.8h10v3.1h-10zM715.1 1060.8h19.7v3.1h-19.7zM753.9 1060.8h19.7v3.1h-19.7zM792.6 1060.8h10v3.1h-10zM928.3 1060.8h10v3.1h-10zM986.4 1060.8h10v3.1h-10zM1005.8 1060.8h10v3.1h-10zM1044.6 1060.8h10v3.1h-10zM298.4 1058h10v3.1h-10zM356.6 1058h19.7v3.1h-19.7zM405 1058h10v3.1h-10zM424.4 1058h10v3.1h-10zM463.2 1058h19.7v3.1h-19.7zM598.8 1058h19.7v3.1h-19.7zM676.3 1058h29.4v3.1h-29.4zM773.2 1058h10v3.1h-10zM850.8 1058h10v3.1h-10zM918.6 1058h10v3.1h-10zM957.3 1058h19.7v3.1h-19.7zM996.1 1058h19.7v3.1h-19.7zM1044.6 1058h10v3.1h-10zM327.5 1055.3h10v3.1h-10zM376 1055.3h19.7v3.1h-19.7zM434.1 1055.3h10v3.1h-10zM453.5 1055.3h10v3.1h-10zM511.6 1055.3h10v3.1h-10zM531 1055.3h29.4v3.1h-29.4zM598.8 1055.3h10v3.1h-10zM744.2 1055.3h10v3.1h-10zM831.4 1055.3h10v3.1h-10zM860.4 1055.3h10v3.1h-10zM899.2 1055.3h10v3.1h-10zM957.3 1055.3h10v3.1h-10zM327.5 1052.5h19.7v3.1h-19.7zM434.1 1052.5h10v3.1h-10zM647.3 1052.5h10v3.1h-10zM782.9 1052.5h10v3.1h-10zM860.4 1052.5h10v3.1h-10zM928.3 1052.5h10v3.1h-10zM947.7 1052.5h10v3.1h-10zM1005.8 1052.5h10v3.1h-10zM308.1 1049.8h10v3.1h-10zM550.4 1049.8h10v3.1h-10zM569.8 1049.8h10v3.1h-10zM589.1 1049.8h10v3.1h-10zM715.1 1049.8h10v3.1h-10zM782.9 1049.8h19.7v3.1h-19.7zM1054.2 1049.8h10v3.1h-10z"/><path fill="#8c2bff" d="M395.3 1327.9h19.7v3.1h-19.7zM482.5 1327.9h10v3.1h-10zM501.9 1327.9h10v3.1h-10zM598.8 1327.9h10v3.1h-10zM686 1327.9h10v3.1h-10zM782.9 1327.9h10v3.1h-10zM812 1327.9h10v3.1h-10zM366.3 1325.2h10v3.1h-10zM405 1325.2h10v3.1h-10zM434.1 1325.2h10v3.1h-10zM550.4 1325.2h10v3.1h-10zM579.4 1325.2h10v3.1h-10zM618.2 1325.2h10v3.1h-10zM647.3 1325.2h10v3.1h-10zM705.4 1325.2h10v3.1h-10zM288.7 1322.4h19.7v3.1h-19.7zM414.7 1322.4h10v3.1h-10zM531 1322.4h10v3.1h-10zM560.1 1322.4h10v3.1h-10zM705.4 1322.4h10v3.1h-10zM850.8 1322.4h10v3.1h-10zM414.7 1319.6h10v3.1h-10zM453.5 1319.6h10v3.1h-10zM472.9 1319.6h19.7v3.1h-19.7zM521.3 1319.6h19.7v3.1h-19.7zM598.8 1319.6h10v3.1h-10zM753.9 1319.6h10v3.1h-10zM841.1 1319.6h10v3.1h-10zM317.8 1316.9h10v3.1h-10zM376 1316.9h10v3.1h-10zM492.2 1316.9h10v3.1h-10zM521.3 1316.9h10v3.1h-10zM579.4 1316.9h10v3.1h-10zM715.1 1316.9h19.7v3.1h-19.7zM782.9 1316.9h10v3.1h-10zM850.8 1316.9h10v3.1h-10zM317.8 1314.1h10v3.1h-10zM356.6 1314.1h19.7v3.1h-19.7zM472.9 1314.1h19.7v3.1h-19.7zM521.3 1314.1h19.7v3.1h-19.7zM579.4 1314.1h10v3.1h-10zM608.5 1314.1h10v3.1h-10zM744.2 1314.1h10v3.1h-10zM812 1314.1h10v3.1h-10zM870.1 1314.1h10v3.1h-10zM337.2 1311.4h10v3.1h-10zM443.8 1311.4h10v3.1h-10zM569.8 1311.4h10v3.1h-10zM589.1 1311.4h10v3.1h-10zM657 1311.4h10v3.1h-10zM676.3 1311.4h10v3.1h-10zM695.7 1311.4h10v3.1h-10zM792.6 1311.4h10v3.1h-10zM812 1311.4h10v3.1h-10zM841.1 1311.4h10v3.1h-10zM279.1 1308.6h10v3.1h-10zM870.1 1308.6h10v3.1h-10zM957.3 1308.6h10v3.1h-10zM918.6 1305.9h10v3.1h-10zM976.7 1305.9h10v3.1h-10zM1015.5 1305.9h10v3.1h-10zM1054.2 1305.9h10v3.1h-10zM899.2 1303.1h10v3.1h-10zM918.6 1303.1h10v3.1h-10zM947.7 1303.1h10v3.1h-10zM1083.3 1226h10v3.1h-10zM1083.3 1204h10v3.1h-10zM1083.3 1157.2h10v3.1h-10zM1083.3 1154.4h10v3.1h-10zM1083.3 1151.6h10v3.1h-10zM1083.3 1121.4h10v3.1h-10zM288.7 1118.6h10v3.1h-10zM279.1 1113.1h10v3.1h-10zM443.8 1091.1h10v3.1h-10zM540.7 1091.1h10v3.1h-10zM560.1 1091.1h10v3.1h-10zM608.5 1091.1h10v3.1h-10zM831.4 1091.1h10v3.1h-10zM531 1088.3h10v3.1h-10zM657 1088.3h10v3.1h-10zM860.4 1088.3h10v3.1h-10zM298.4 1085.6h10v3.1h-10zM376 1085.6h10v3.1h-10zM453.5 1085.6h10v3.1h-10zM492.2 1085.6h19.7v3.1h-19.7zM521.3 1085.6h19.7v3.1h-19.7zM637.6 1085.6h10v3.1h-10zM657 1085.6h10v3.1h-10zM734.5 1085.6h10v3.1h-10zM792.6 1085.6h10v3.1h-10zM831.4 1085.6h10v3.1h-10zM385.6 1082.8h19.7v3.1h-19.7zM463.2 1082.8h10v3.1h-10zM569.8 1082.8h10v3.1h-10zM676.3 1082.8h10v3.1h-10zM734.5 1082.8h10v3.1h-10zM889.5 1082.8h10v3.1h-10zM908.9 1082.8h10v3.1h-10zM938 1082.8h10v3.1h-10zM957.3 1082.8h10v3.1h-10zM1025.2 1082.8h10v3.1h-10zM1073.6 1082.8h10v3.1h-10zM376 1080h19.7v3.1h-19.7zM405 1080h29.4v3.1h-29.4zM443.8 1080h10v3.1h-10zM531 1080h10v3.1h-10zM550.4 1080h10v3.1h-10zM569.8 1080h10v3.1h-10zM598.8 1080h10v3.1h-10zM627.9 1080h10v3.1h-10zM715.1 1080h10v3.1h-10zM1015.5 1080h19.7v3.1h-19.7zM1044.6 1080h10v3.1h-10zM327.5 1077.3h19.7v3.1h-19.7zM366.3 1077.3h10v3.1h-10zM492.2 1077.3h10v3.1h-10zM744.2 1077.3h10v3.1h-10zM792.6 1077.3h10v3.1h-10zM996.1 1077.3h10v3.1h-10zM1025.2 1077.3h10v3.1h-10zM1073.6 1077.3h10v3.1h-10zM376 1074.5h29.4v3.1h-29.4zM472.9 1074.5h10v3.1h-10zM501.9 1074.5h19.7v3.1h-19.7zM531 1074.5h10v3.1h-10zM598.8 1074.5h10v3.1h-10zM627.9 1074.5h10v3.1h-10zM647.3 1074.5h10v3.1h-10zM686 1074.5h10v3.1h-10zM715.1 1074.5h10v3.1h-10zM734.5 1074.5h10v3.1h-10zM802.3 1074.5h10v3.1h-10zM831.4 1074.5h10v3.1h-10zM908.9 1074.5h19.7v3.1h-19.7zM1025.2 1074.5h10v3.1h-10zM1044.6 1074.5h10v3.1h-10zM1073.6 1074.5h10v3.1h-10zM317.8 1071.8h10v3.1h-10zM337.2 1071.8h10v3.1h-10zM356.6 1071.8h10v3.1h-10zM443.8 1071.8h10v3.1h-10zM511.6 1071.8h10v3.1h-10zM579.4 1071.8h10v3.1h-10zM598.8 1071.8h10v3.1h-10zM647.3 1071.8h10v3.1h-10zM676.3 1071.8h10v3.1h-10zM792.6 1071.8h10v3.1h-10zM841.1 1071.8h10v3.1h-10zM860.4 1071.8h10v3.1h-10zM957.3 1071.8h10v3.1h-10zM1054.2 1071.8h10v3.1h-10zM337.2 1069h10v3.1h-10zM356.6 1069h10v3.1h-10zM376 1069h19.7v3.1h-19.7zM414.7 1069h19.7v3.1h-19.7zM472.9 1069h10v3.1h-10zM608.5 1069h10v3.1h-10zM647.3 1069h10v3.1h-10zM734.5 1069h19.7v3.1h-19.7zM879.8 1069h10v3.1h-10zM908.9 1069h10v3.1h-10zM938 1069h10v3.1h-10zM1073.6 1069h10v3.1h-10zM395.3 1066.3h10v3.1h-10zM511.6 1066.3h10v3.1h-10zM569.8 1066.3h10v3.1h-10zM647.3 1066.3h19.7v3.1h-19.7zM715.1 1066.3h10v3.1h-10zM792.6 1066.3h10v3.1h-10zM850.8 1066.3h10v3.1h-10zM938 1066.3h19.7v3.1h-19.7zM967 1066.3h10v3.1h-10zM1034.9 1066.3h10v3.1h-10zM1054.2 1066.3h19.7v3.1h-19.7zM298.4 1063.5h10v3.1h-10zM317.8 1063.5h29.4v3.1h-29.4zM376 1063.5h10v3.1h-10zM463.2 1063.5h10v3.1h-10zM627.9 1063.5h10v3.1h-10zM657 1063.5h10v3.1h-10zM695.7 1063.5h10v3.1h-10zM753.9 1063.5h10v3.1h-10zM908.9 1063.5h19.7v3.1h-19.7zM976.7 1063.5h10v3.1h-10zM1025.2 1063.5h10v3.1h-10zM1044.6 1063.5h10v3.1h-10zM356.6 1060.8h10v3.1h-10zM385.6 1060.8h10v3.1h-10zM405 1060.8h10v3.1h-10zM531 1060.8h19.7v3.1h-19.7zM579.4 1060.8h10v3.1h-10zM608.5 1060.8h19.7v3.1h-19.7zM657 1060.8h10v3.1h-10zM686 1060.8h10v3.1h-10zM802.3 1060.8h10v3.1h-10zM821.7 1060.8h10v3.1h-10zM841.1 1060.8h19.7v3.1h-19.7zM889.5 1060.8h10v3.1h-10zM976.7 1060.8h10v3.1h-10zM1063.9 1060.8h10v3.1h-10zM308.1 1058h29.4v3.1h-29.4zM531 1058h10v3.1h-10zM579.4 1058h19.7v3.1h-19.7zM753.9 1058h10v3.1h-10zM870.1 1058h10v3.1h-10zM899.2 1058h10v3.1h-10zM986.4 1058h10v3.1h-10zM317.8 1055.3h10v3.1h-10zM366.3 1055.3h10v3.1h-10zM463.2 1055.3h10v3.1h-10zM482.5 1055.3h10v3.1h-10zM521.3 1055.3h10v3.1h-10zM579.4 1055.3h10v3.1h-10zM666.6 1055.3h10v3.1h-10zM734.5 1055.3h10v3.1h-10zM841.1 1055.3h19.7v3.1h-19.7zM976.7 1055.3h10v3.1h-10zM1044.6 1055.3h19.7v3.1h-19.7zM346.9 1052.5h10v3.1h-10zM366.3 1052.5h10v3.1h-10zM472.9 1052.5h10v3.1h-10zM579.4 1052.5h10v3.1h-10zM598.8 1052.5h10v3.1h-10zM666.6 1052.5h10v3.1h-10zM695.7 1052.5h19.7v3.1h-19.7zM850.8 1052.5h10v3.1h-10z"/><path fill="#7c26ff" d="M608.5 1327.9h19.7v3.1h-19.7zM676.3 1327.9h10v3.1h-10zM695.7 1327.9h10v3.1h-10zM308.1 1325.2h10v3.1h-10zM327.5 1325.2h19.7v3.1h-19.7zM356.6 1325.2h10v3.1h-10zM385.6 1325.2h10v3.1h-10zM414.7 1325.2h10v3.1h-10zM443.8 1325.2h10v3.1h-10zM472.9 1325.2h10v3.1h-10zM531 1325.2h10v3.1h-10zM608.5 1325.2h10v3.1h-10zM715.1 1325.2h10v3.1h-10zM734.5 1325.2h10v3.1h-10zM763.5 1325.2h10v3.1h-10zM831.4 1325.2h19.7v3.1h-19.7zM346.9 1322.4h10v3.1h-10zM492.2 1322.4h10v3.1h-10zM511.6 1322.4h10v3.1h-10zM540.7 1322.4h19.7v3.1h-19.7zM627.9 1322.4h10v3.1h-10zM715.1 1322.4h10v3.1h-10zM802.3 1322.4h19.7v3.1h-19.7zM366.3 1319.6h10v3.1h-10zM385.6 1319.6h10v3.1h-10zM540.7 1319.6h10v3.1h-10zM569.8 1319.6h10v3.1h-10zM589.1 1319.6h10v3.1h-10zM608.5 1319.6h19.7v3.1h-19.7zM686 1319.6h10v3.1h-10zM782.9 1319.6h10v3.1h-10zM831.4 1319.6h10v3.1h-10zM850.8 1319.6h10v3.1h-10zM298.4 1316.9h10v3.1h-10zM405 1316.9h19.7v3.1h-19.7zM472.9 1316.9h19.7v3.1h-19.7zM511.6 1316.9h10v3.1h-10zM531 1316.9h10v3.1h-10zM637.6 1316.9h10v3.1h-10zM666.6 1316.9h10v3.1h-10zM831.4 1316.9h10v3.1h-10zM860.4 1316.9h10v3.1h-10zM424.4 1314.1h48.7v3.1h-48.7zM540.7 1314.1h10v3.1h-10zM598.8 1314.1h10v3.1h-10zM647.3 1314.1h10v3.1h-10zM695.7 1314.1h29.4v3.1h-29.4zM821.7 1314.1h29.4v3.1h-29.4zM346.9 1311.4h10v3.1h-10zM395.3 1311.4h10v3.1h-10zM531 1311.4h10v3.1h-10zM666.6 1311.4h10v3.1h-10zM715.1 1311.4h10v3.1h-10zM763.5 1311.4h10v3.1h-10zM782.9 1311.4h10v3.1h-10zM870.1 1305.9h19.7v3.1h-19.7zM957.3 1305.9h10v3.1h-10zM908.9 1303.1h10v3.1h-10zM928.3 1303.1h10v3.1h-10zM1015.5 1303.1h10v3.1h-10zM1083.3 1193h10v3.1h-10zM279.1 1115.8h10v3.1h-10zM308.1 1091.1h10v3.1h-10zM327.5 1091.1h19.7v3.1h-19.7zM395.3 1091.1h10v3.1h-10zM434.1 1091.1h10v3.1h-10zM550.4 1091.1h10v3.1h-10zM618.2 1091.1h19.7v3.1h-19.7zM647.3 1091.1h10v3.1h-10zM676.3 1091.1h10v3.1h-10zM734.5 1091.1h10v3.1h-10zM317.8 1088.3h10v3.1h-10zM395.3 1088.3h10v3.1h-10zM434.1 1088.3h10v3.1h-10zM453.5 1088.3h10v3.1h-10zM482.5 1088.3h10v3.1h-10zM540.7 1088.3h10v3.1h-10zM637.6 1088.3h19.7v3.1h-19.7zM782.9 1088.3h10v3.1h-10zM850.8 1088.3h10v3.1h-10zM308.1 1085.6h10v3.1h-10zM366.3 1085.6h10v3.1h-10zM560.1 1085.6h10v3.1h-10zM598.8 1085.6h10v3.1h-10zM647.3 1085.6h10v3.1h-10zM666.6 1085.6h10v3.1h-10zM686 1085.6h10v3.1h-10zM812 1085.6h10v3.1h-10zM889.5 1085.6h29.4v3.1h-29.4zM308.1 1082.8h10v3.1h-10zM327.5 1082.8h19.7v3.1h-19.7zM453.5 1082.8h10v3.1h-10zM472.9 1082.8h10v3.1h-10zM540.7 1082.8h19.7v3.1h-19.7zM589.1 1082.8h10v3.1h-10zM618.2 1082.8h10v3.1h-10zM637.6 1082.8h19.7v3.1h-19.7zM724.8 1082.8h10v3.1h-10zM744.2 1082.8h10v3.1h-10zM792.6 1082.8h10v3.1h-10zM812 1082.8h10v3.1h-10zM841.1 1082.8h10v3.1h-10zM899.2 1082.8h10v3.1h-10zM986.4 1082.8h10v3.1h-10zM453.5 1080h19.7v3.1h-19.7zM492.2 1080h10v3.1h-10zM511.6 1080h10v3.1h-10zM560.1 1080h10v3.1h-10zM579.4 1080h10v3.1h-10zM637.6 1080h10v3.1h-10zM666.6 1080h10v3.1h-10zM695.7 1080h10v3.1h-10zM763.5 1080h19.7v3.1h-19.7zM831.4 1080h10v3.1h-10zM850.8 1080h10v3.1h-10zM879.8 1080h10v3.1h-10zM899.2 1080h10v3.1h-10zM918.6 1080h10v3.1h-10zM947.7 1080h10v3.1h-10zM976.7 1080h10v3.1h-10zM1063.9 1080h10v3.1h-10zM395.3 1077.3h19.7v3.1h-19.7zM424.4 1077.3h10v3.1h-10zM531 1077.3h10v3.1h-10zM569.8 1077.3h10v3.1h-10zM589.1 1077.3h10v3.1h-10zM608.5 1077.3h10v3.1h-10zM637.6 1077.3h19.7v3.1h-19.7zM686 1077.3h10v3.1h-10zM753.9 1077.3h10v3.1h-10zM841.1 1077.3h10v3.1h-10zM870.1 1077.3h10v3.1h-10zM938 1077.3h10v3.1h-10zM1044.6 1077.3h19.7v3.1h-19.7zM308.1 1074.5h10v3.1h-10zM346.9 1074.5h10v3.1h-10zM424.4 1074.5h10v3.1h-10zM453.5 1074.5h19.7v3.1h-19.7zM540.7 1074.5h10v3.1h-10zM589.1 1074.5h10v3.1h-10zM618.2 1074.5h10v3.1h-10zM637.6 1074.5h10v3.1h-10zM666.6 1074.5h10v3.1h-10zM695.7 1074.5h10v3.1h-10zM724.8 1074.5h10v3.1h-10zM763.5 1074.5h19.7v3.1h-19.7zM792.6 1074.5h10v3.1h-10zM870.1 1074.5h19.7v3.1h-19.7zM947.7 1074.5h10v3.1h-10zM1034.9 1074.5h10v3.1h-10zM1054.2 1074.5h10v3.1h-10zM327.5 1071.8h10v3.1h-10zM346.9 1071.8h10v3.1h-10zM395.3 1071.8h10v3.1h-10zM414.7 1071.8h10v3.1h-10zM501.9 1071.8h10v3.1h-10zM531 1071.8h10v3.1h-10zM618.2 1071.8h10v3.1h-10zM695.7 1071.8h10v3.1h-10zM724.8 1071.8h10v3.1h-10zM802.3 1071.8h10v3.1h-10zM870.1 1071.8h10v3.1h-10zM996.1 1071.8h10v3.1h-10zM1073.6 1071.8h10v3.1h-10zM395.3 1069h10v3.1h-10zM434.1 1069h10v3.1h-10zM511.6 1069h10v3.1h-10zM540.7 1069h10v3.1h-10zM598.8 1069h10v3.1h-10zM618.2 1069h10v3.1h-10zM763.5 1069h10v3.1h-10zM792.6 1069h10v3.1h-10zM967 1069h10v3.1h-10zM1005.8 1069h19.7v3.1h-19.7zM1044.6 1069h10v3.1h-10zM317.8 1066.3h10v3.1h-10zM463.2 1066.3h10v3.1h-10zM531 1066.3h19.7v3.1h-19.7zM579.4 1066.3h10v3.1h-10zM695.7 1066.3h10v3.1h-10zM724.8 1066.3h10v3.1h-10zM773.2 1066.3h10v3.1h-10zM860.4 1066.3h10v3.1h-10zM899.2 1066.3h10v3.1h-10zM918.6 1066.3h10v3.1h-10zM957.3 1066.3h10v3.1h-10zM1005.8 1066.3h10v3.1h-10zM1025.2 1066.3h10v3.1h-10zM434.1 1063.5h10v3.1h-10zM686 1063.5h10v3.1h-10zM705.4 1063.5h10v3.1h-10zM792.6 1063.5h29.4v3.1h-29.4zM850.8 1063.5h10v3.1h-10zM879.8 1063.5h10v3.1h-10zM947.7 1063.5h10v3.1h-10zM414.7 1060.8h10v3.1h-10zM453.5 1060.8h19.7v3.1h-19.7zM550.4 1060.8h10v3.1h-10zM666.6 1060.8h10v3.1h-10zM773.2 1060.8h10v3.1h-10zM938 1060.8h10v3.1h-10zM1015.5 1060.8h10v3.1h-10zM1034.9 1060.8h10v3.1h-10zM501.9 1058h10v3.1h-10zM540.7 1058h10v3.1h-10zM560.1 1058h10v3.1h-10zM618.2 1058h10v3.1h-10zM647.3 1058h10v3.1h-10zM938 1058h10v3.1h-10zM414.7 1055.3h10v3.1h-10zM472.9 1055.3h10v3.1h-10zM870.1 1055.3h10v3.1h-10zM1005.8 1055.3h10v3.1h-10z"/><path fill="#6c22ff" d="M288.7 1325.2h10v3.1h-10zM346.9 1325.2h10v3.1h-10zM424.4 1325.2h10v3.1h-10zM501.9 1325.2h10v3.1h-10zM560.1 1325.2h10v3.1h-10zM627.9 1325.2h10v3.1h-10zM657 1325.2h10v3.1h-10zM686 1325.2h10v3.1h-10zM773.2 1325.2h10v3.1h-10zM812 1325.2h10v3.1h-10zM385.6 1322.4h10v3.1h-10zM424.4 1322.4h29.4v3.1h-29.4zM521.3 1322.4h10v3.1h-10zM695.7 1322.4h10v3.1h-10zM744.2 1322.4h10v3.1h-10zM831.4 1322.4h19.7v3.1h-19.7zM298.4 1319.6h10v3.1h-10zM395.3 1319.6h10v3.1h-10zM434.1 1319.6h10v3.1h-10zM492.2 1319.6h19.7v3.1h-19.7zM550.4 1319.6h10v3.1h-10zM579.4 1319.6h10v3.1h-10zM627.9 1319.6h10v3.1h-10zM666.6 1319.6h19.7v3.1h-19.7zM744.2 1319.6h10v3.1h-10zM821.7 1319.6h10v3.1h-10zM308.1 1316.9h10v3.1h-10zM385.6 1316.9h10v3.1h-10zM434.1 1316.9h10v3.1h-10zM453.5 1316.9h19.7v3.1h-19.7zM501.9 1316.9h10v3.1h-10zM627.9 1316.9h10v3.1h-10zM647.3 1316.9h10v3.1h-10zM763.5 1316.9h10v3.1h-10zM792.6 1316.9h10v3.1h-10zM288.7 1314.1h10v3.1h-10zM346.9 1314.1h10v3.1h-10zM414.7 1314.1h10v3.1h-10zM492.2 1314.1h19.7v3.1h-19.7zM560.1 1314.1h19.7v3.1h-19.7zM666.6 1314.1h10v3.1h-10zM773.2 1314.1h29.4v3.1h-29.4zM317.8 1311.4h10v3.1h-10zM414.7 1311.4h10v3.1h-10zM453.5 1311.4h19.7v3.1h-19.7zM482.5 1311.4h19.7v3.1h-19.7zM686 1311.4h10v3.1h-10zM802.3 1311.4h10v3.1h-10zM821.7 1311.4h19.7v3.1h-19.7zM850.8 1311.4h10v3.1h-10zM308.1 1308.6h10v3.1h-10zM405 1308.6h10v3.1h-10zM637.6 1308.6h10v3.1h-10zM734.5 1308.6h10v3.1h-10zM763.5 1308.6h19.7v3.1h-19.7zM860.4 1308.6h10v3.1h-10zM279.1 1305.9h10v3.1h-10zM899.2 1305.9h10v3.1h-10zM1005.8 1305.9h10v3.1h-10zM996.1 1303.1h10v3.1h-10zM1025.2 1303.1h19.7v3.1h-19.7zM1073.6 1303.1h10v3.1h-10zM986.4 1245.3h10v3.1h-10zM1015.5 1245.3h19.7v3.1h-19.7zM1054.2 1245.3h29.4v3.1h-29.4zM957.3 1242.5h29.4v3.1h-29.4zM996.1 1242.5h19.7v3.1h-19.7zM1025.2 1242.5h10v3.1h-10zM1054.2 1242.5h29.4v3.1h-29.4zM957.3 1239.8h10v3.1h-10zM976.7 1239.8h19.7v3.1h-19.7zM1005.8 1239.8h19.7v3.1h-19.7zM1034.9 1239.8h10v3.1h-10zM1054.2 1239.8h10v3.1h-10zM967 1237h10v3.1h-10zM996.1 1237h58.4v3.1h-58.4zM1073.6 1237h10v3.1h-10zM967 1234.3h10v3.1h-10zM986.4 1234.3h48.7v3.1h-48.7zM1054.2 1234.3h10v3.1h-10zM1073.6 1234.3h10v3.1h-10zM967 1231.5h10v3.1h-10zM1005.8 1231.5h58.4v3.1h-58.4zM957.3 1228.8h10v3.1h-10zM976.7 1228.8h10v3.1h-10zM996.1 1228.8h10v3.1h-10zM1034.9 1228.8h19.7v3.1h-19.7zM1063.9 1228.8h10v3.1h-10zM967 1226h39.1v3.1h-39.1zM1025.2 1226h10v3.1h-10zM957.3 1223.3h10v3.1h-10zM1005.8 1223.3h10v3.1h-10zM1025.2 1223.3h10v3.1h-10zM1063.9 1223.3h10v3.1h-10zM1083.3 1215h10v3.1h-10zM1083.3 1195.7h10v3.1h-10zM1083.3 1173.7h10v3.1h-10zM1083.3 1115.8h10v3.1h-10zM753.9 1096.6h10v3.1h-10zM308.1 1093.8h19.7v3.1h-19.7zM337.2 1093.8h10v3.1h-10zM356.6 1093.8h19.7v3.1h-19.7zM414.7 1093.8h29.4v3.1h-29.4zM482.5 1093.8h10v3.1h-10zM579.4 1093.8h10v3.1h-10zM608.5 1093.8h10v3.1h-10zM647.3 1093.8h19.7v3.1h-19.7zM676.3 1093.8h10v3.1h-10zM705.4 1093.8h19.7v3.1h-19.7zM753.9 1093.8h29.4v3.1h-29.4zM812 1093.8h10v3.1h-10zM879.8 1093.8h10v3.1h-10zM317.8 1091.1h10v3.1h-10zM346.9 1091.1h10v3.1h-10zM511.6 1091.1h10v3.1h-10zM569.8 1091.1h10v3.1h-10zM705.4 1091.1h10v3.1h-10zM724.8 1091.1h10v3.1h-10zM773.2 1091.1h19.7v3.1h-19.7zM860.4 1091.1h39.1v3.1h-39.1zM298.4 1088.3h10v3.1h-10zM376 1088.3h10v3.1h-10zM560.1 1088.3h10v3.1h-10zM598.8 1088.3h19.7v3.1h-19.7zM666.6 1088.3h10v3.1h-10zM705.4 1088.3h10v3.1h-10zM734.5 1088.3h10v3.1h-10zM753.9 1088.3h10v3.1h-10zM967 1088.3h10v3.1h-10zM1005.8 1088.3h29.4v3.1h-29.4zM1054.2 1088.3h10v3.1h-10zM327.5 1085.6h10v3.1h-10zM463.2 1085.6h10v3.1h-10zM569.8 1085.6h10v3.1h-10zM589.1 1085.6h10v3.1h-10zM608.5 1085.6h10v3.1h-10zM695.7 1085.6h10v3.1h-10zM782.9 1085.6h10v3.1h-10zM841.1 1085.6h10v3.1h-10zM947.7 1085.6h29.4v3.1h-29.4zM986.4 1085.6h10v3.1h-10zM1005.8 1085.6h10v3.1h-10zM1025.2 1085.6h10v3.1h-10zM1063.9 1085.6h10v3.1h-10zM317.8 1082.8h10v3.1h-10zM346.9 1082.8h10v3.1h-10zM414.7 1082.8h19.7v3.1h-19.7zM579.4 1082.8h10v3.1h-10zM608.5 1082.8h10v3.1h-10zM763.5 1082.8h10v3.1h-10zM870.1 1082.8h10v3.1h-10zM928.3 1082.8h10v3.1h-10zM947.7 1082.8h10v3.1h-10zM996.1 1082.8h10v3.1h-10zM1044.6 1082.8h10v3.1h-10zM366.3 1080h10v3.1h-10zM434.1 1080h10v3.1h-10zM521.3 1080h10v3.1h-10zM608.5 1080h19.7v3.1h-19.7zM647.3 1080h10v3.1h-10zM821.7 1080h10v3.1h-10zM841.1 1080h10v3.1h-10zM957.3 1080h19.7v3.1h-19.7zM1054.2 1080h10v3.1h-10zM317.8 1077.3h10v3.1h-10zM346.9 1077.3h10v3.1h-10zM443.8 1077.3h10v3.1h-10zM540.7 1077.3h29.4v3.1h-29.4zM676.3 1077.3h10v3.1h-10zM715.1 1077.3h10v3.1h-10zM734.5 1077.3h10v3.1h-10zM812 1077.3h29.4v3.1h-29.4zM918.6 1077.3h10v3.1h-10zM967 1077.3h10v3.1h-10zM1005.8 1077.3h10v3.1h-10zM317.8 1074.5h10v3.1h-10zM337.2 1074.5h10v3.1h-10zM405 1074.5h19.7v3.1h-19.7zM550.4 1074.5h19.7v3.1h-19.7zM753.9 1074.5h10v3.1h-10zM841.1 1074.5h10v3.1h-10zM860.4 1074.5h10v3.1h-10zM899.2 1074.5h10v3.1h-10zM928.3 1074.5h10v3.1h-10zM996.1 1074.5h10v3.1h-10zM308.1 1071.8h10v3.1h-10zM453.5 1071.8h19.7v3.1h-19.7zM521.3 1071.8h10v3.1h-10zM550.4 1071.8h10v3.1h-10zM569.8 1071.8h10v3.1h-10zM589.1 1071.8h10v3.1h-10zM657 1071.8h10v3.1h-10zM686 1071.8h10v3.1h-10zM753.9 1071.8h19.7v3.1h-19.7zM821.7 1071.8h10v3.1h-10zM850.8 1071.8h10v3.1h-10zM889.5 1071.8h10v3.1h-10zM908.9 1071.8h10v3.1h-10zM1044.6 1071.8h10v3.1h-10zM327.5 1069h10v3.1h-10zM453.5 1069h19.7v3.1h-19.7zM482.5 1069h10v3.1h-10zM569.8 1069h10v3.1h-10zM666.6 1069h10v3.1h-10zM753.9 1069h10v3.1h-10zM782.9 1069h10v3.1h-10zM821.7 1069h10v3.1h-10zM899.2 1069h10v3.1h-10zM1063.9 1069h10v3.1h-10zM308.1 1066.3h10v3.1h-10zM327.5 1066.3h39.1v3.1h-39.1zM482.5 1066.3h10v3.1h-10zM521.3 1066.3h10v3.1h-10zM550.4 1066.3h10v3.1h-10zM608.5 1066.3h10v3.1h-10zM676.3 1066.3h19.7v3.1h-19.7zM705.4 1066.3h10v3.1h-10zM831.4 1066.3h19.7v3.1h-19.7zM870.1 1066.3h10v3.1h-10zM405 1063.5h10v3.1h-10zM521.3 1063.5h19.7v3.1h-19.7zM744.2 1063.5h10v3.1h-10zM928.3 1063.5h10v3.1h-10zM967 1063.5h10v3.1h-10zM986.4 1063.5h19.7v3.1h-19.7zM1015.5 1063.5h10v3.1h-10zM317.8 1060.8h10v3.1h-10zM647.3 1060.8h10v3.1h-10zM734.5 1060.8h10v3.1h-10zM879.8 1060.8h10v3.1h-10zM918.6 1060.8h10v3.1h-10z"/><path fill="#5d1dff" d="M317.8 1319.6h10v3.1h-10zM560.1 1319.6h10v3.1h-10zM647.3 1319.6h10v3.1h-10zM763.5 1319.6h19.7v3.1h-19.7zM327.5 1316.9h10v3.1h-10zM395.3 1316.9h10v3.1h-10zM424.4 1316.9h10v3.1h-10zM540.7 1316.9h10v3.1h-10zM589.1 1316.9h10v3.1h-10zM608.5 1316.9h10v3.1h-10zM657 1316.9h10v3.1h-10zM695.7 1316.9h10v3.1h-10zM734.5 1316.9h10v3.1h-10zM802.3 1316.9h10v3.1h-10zM841.1 1316.9h10v3.1h-10zM298.4 1314.1h19.7v3.1h-19.7zM395.3 1314.1h10v3.1h-10zM511.6 1314.1h10v3.1h-10zM589.1 1314.1h10v3.1h-10zM657 1314.1h10v3.1h-10zM686 1314.1h10v3.1h-10zM724.8 1314.1h10v3.1h-10zM308.1 1311.4h10v3.1h-10zM327.5 1311.4h10v3.1h-10zM376 1311.4h19.7v3.1h-19.7zM405 1311.4h10v3.1h-10zM434.1 1311.4h10v3.1h-10zM501.9 1311.4h10v3.1h-10zM579.4 1311.4h10v3.1h-10zM608.5 1311.4h10v3.1h-10zM705.4 1311.4h10v3.1h-10zM288.7 1308.6h19.7v3.1h-19.7zM317.8 1308.6h87.5v3.1h-87.5zM414.7 1308.6h19.7v3.1h-19.7zM453.5 1308.6h29.4v3.1h-29.4zM492.2 1308.6h29.4v3.1h-29.4zM540.7 1308.6h39.1v3.1h-39.1zM598.8 1308.6h39.1v3.1h-39.1zM657 1308.6h77.8v3.1h-77.8zM744.2 1308.6h19.7v3.1h-19.7zM782.9 1308.6h19.7v3.1h-19.7zM812 1308.6h48.7v3.1h-48.7zM860.4 1305.9h10v3.1h-10zM870.1 1303.1h29.4v3.1h-29.4zM957.3 1303.1h10v3.1h-10zM1005.8 1303.1h10v3.1h-10zM1044.6 1303.1h10v3.1h-10zM1063.9 1303.1h10v3.1h-10zM889.5 1300.4h48.7v3.1h-48.7zM957.3 1300.4h68.1v3.1h-68.1zM1063.9 1300.4h19.7v3.1h-19.7zM938 1253.5h19.7v3.1h-19.7zM967 1253.5h10v3.1h-10zM986.4 1253.5h10v3.1h-10zM1015.5 1253.5h29.4v3.1h-29.4zM1073.6 1253.5h10v3.1h-10zM986.4 1250.8h10v3.1h-10zM1005.8 1250.8h10v3.1h-10zM1025.2 1250.8h10v3.1h-10zM1044.6 1250.8h10v3.1h-10zM279.1 1248h10v3.1h-10zM938 1248h10v3.1h-10zM967 1248h10v3.1h-10zM986.4 1248h19.7v3.1h-19.7zM1015.5 1248h10v3.1h-10zM1034.9 1248h48.7v3.1h-48.7zM279.1 1245.3h10v3.1h-10zM918.6 1245.3h10v3.1h-10zM947.7 1245.3h39.1v3.1h-39.1zM996.1 1245.3h19.7v3.1h-19.7zM1034.9 1245.3h19.7v3.1h-19.7zM279.1 1242.5h10v3.1h-10zM908.9 1242.5h10v3.1h-10zM938 1242.5h19.7v3.1h-19.7zM986.4 1242.5h10v3.1h-10zM1015.5 1242.5h10v3.1h-10zM1034.9 1242.5h19.7v3.1h-19.7zM279.1 1239.8h10v3.1h-10zM918.6 1239.8h39.1v3.1h-39.1zM967 1239.8h10v3.1h-10zM996.1 1239.8h10v3.1h-10zM1025.2 1239.8h10v3.1h-10zM1044.6 1239.8h10v3.1h-10zM1063.9 1239.8h19.7v3.1h-19.7zM908.9 1237h58.4v3.1h-58.4zM976.7 1237h19.7v3.1h-19.7zM1054.2 1237h19.7v3.1h-19.7zM279.1 1234.3h10v3.1h-10zM908.9 1234.3h10v3.1h-10zM928.3 1234.3h39.1v3.1h-39.1zM976.7 1234.3h10v3.1h-10zM1034.9 1234.3h19.7v3.1h-19.7zM1063.9 1234.3h10v3.1h-10zM279.1 1231.5h10v3.1h-10zM908.9 1231.5h58.4v3.1h-58.4zM976.7 1231.5h29.4v3.1h-29.4zM1063.9 1231.5h19.7v3.1h-19.7zM279.1 1228.8h10v3.1h-10zM928.3 1228.8h29.4v3.1h-29.4zM967 1228.8h10v3.1h-10zM986.4 1228.8h10v3.1h-10zM1005.8 1228.8h29.4v3.1h-29.4zM1054.2 1228.8h10v3.1h-10zM1073.6 1228.8h10v3.1h-10zM279.1 1226h10v3.1h-10zM908.9 1226h58.4v3.1h-58.4zM1005.8 1226h19.7v3.1h-19.7zM1034.9 1226h48.7v3.1h-48.7zM938 1223.3h19.7v3.1h-19.7zM967 1223.3h39.1v3.1h-39.1zM1015.5 1223.3h10v3.1h-10zM1034.9 1223.3h29.4v3.1h-29.4zM1073.6 1223.3h10v3.1h-10zM928.3 1220.5h29.4v3.1h-29.4zM967 1220.5h39.1v3.1h-39.1zM1015.5 1220.5h19.7v3.1h-19.7zM1044.6 1220.5h29.4v3.1h-29.4zM279.1 1217.7h10v3.1h-10zM938 1217.7h10v3.1h-10zM957.3 1217.7h29.4v3.1h-29.4zM996.1 1217.7h77.8v3.1h-77.8zM1044.6 1215h10v3.1h-10zM279.1 1209.5h10v3.1h-10zM1083.3 1206.7h10v3.1h-10zM1083.3 1198.5h10v3.1h-10zM1083.3 1140.6h10v3.1h-10zM279.1 1124.1h10v3.1h-10zM288.7 1121.4h10v3.1h-10zM279.1 1118.6h10v3.1h-10zM414.7 1102.1h10v3.1h-10zM569.8 1102.1h10v3.1h-10zM666.6 1102.1h10v3.1h-10zM298.4 1099.3h10v3.1h-10zM317.8 1099.3h39.1v3.1h-39.1zM395.3 1099.3h10v3.1h-10zM424.4 1099.3h19.7v3.1h-19.7zM453.5 1099.3h19.7v3.1h-19.7zM482.5 1099.3h19.7v3.1h-19.7zM531 1099.3h29.4v3.1h-29.4zM569.8 1099.3h10v3.1h-10zM598.8 1099.3h10v3.1h-10zM647.3 1099.3h10v3.1h-10zM666.6 1099.3h19.7v3.1h-19.7zM695.7 1099.3h10v3.1h-10zM753.9 1099.3h19.7v3.1h-19.7zM802.3 1099.3h10v3.1h-10zM831.4 1099.3h10v3.1h-10zM1083.3 1099.3h10v3.1h-10zM298.4 1096.6h116.6v3.1h-116.6zM424.4 1096.6h126.3v3.1h-126.3zM560.1 1096.6h19.7v3.1h-19.7zM598.8 1096.6h10v3.1h-10zM618.2 1096.6h19.7v3.1h-19.7zM647.3 1096.6h29.4v3.1h-29.4zM695.7 1096.6h19.7v3.1h-19.7zM724.8 1096.6h29.4v3.1h-29.4zM763.5 1096.6h106.9v3.1h-106.9zM899.2 1096.6h19.7v3.1h-19.7zM957.3 1096.6h10v3.1h-10zM986.4 1096.6h10v3.1h-10zM1073.6 1096.6h10v3.1h-10zM298.4 1093.8h10v3.1h-10zM327.5 1093.8h10v3.1h-10zM346.9 1093.8h10v3.1h-10zM376 1093.8h39.1v3.1h-39.1zM443.8 1093.8h39.1v3.1h-39.1zM492.2 1093.8h87.5v3.1h-87.5zM589.1 1093.8h19.7v3.1h-19.7zM618.2 1093.8h29.4v3.1h-29.4zM666.6 1093.8h10v3.1h-10zM686 1093.8h19.7v3.1h-19.7zM724.8 1093.8h29.4v3.1h-29.4zM782.9 1093.8h29.4v3.1h-29.4zM821.7 1093.8h58.4v3.1h-58.4zM889.5 1093.8h10v3.1h-10zM928.3 1093.8h29.4v3.1h-29.4zM1025.2 1093.8h10v3.1h-10zM1044.6 1093.8h10v3.1h-10zM1063.9 1093.8h10v3.1h-10zM356.6 1091.1h19.7v3.1h-19.7zM385.6 1091.1h10v3.1h-10zM405 1091.1h10v3.1h-10zM424.4 1091.1h10v3.1h-10zM579.4 1091.1h10v3.1h-10zM598.8 1091.1h10v3.1h-10zM666.6 1091.1h10v3.1h-10zM763.5 1091.1h10v3.1h-10zM812 1091.1h19.7v3.1h-19.7zM850.8 1091.1h10v3.1h-10zM899.2 1091.1h19.7v3.1h-19.7zM928.3 1091.1h10v3.1h-10zM947.7 1091.1h106.9v3.1h-106.9zM1063.9 1091.1h19.7v3.1h-19.7zM308.1 1088.3h10v3.1h-10zM356.6 1088.3h10v3.1h-10zM385.6 1088.3h10v3.1h-10zM405 1088.3h19.7v3.1h-19.7zM501.9 1088.3h10v3.1h-10zM521.3 1088.3h10v3.1h-10zM569.8 1088.3h10v3.1h-10zM618.2 1088.3h10v3.1h-10zM715.1 1088.3h19.7v3.1h-19.7zM773.2 1088.3h10v3.1h-10zM792.6 1088.3h19.7v3.1h-19.7zM831.4 1088.3h10v3.1h-10zM899.2 1088.3h68.1v3.1h-68.1zM976.7 1088.3h29.4v3.1h-29.4zM1034.9 1088.3h19.7v3.1h-19.7zM1063.9 1088.3h19.7v3.1h-19.7zM317.8 1085.6h10v3.1h-10zM337.2 1085.6h10v3.1h-10zM472.9 1085.6h19.7v3.1h-19.7zM511.6 1085.6h10v3.1h-10zM550.4 1085.6h10v3.1h-10zM579.4 1085.6h10v3.1h-10zM618.2 1085.6h10v3.1h-10zM676.3 1085.6h10v3.1h-10zM744.2 1085.6h10v3.1h-10zM821.7 1085.6h10v3.1h-10zM928.3 1085.6h10v3.1h-10zM976.7 1085.6h10v3.1h-10zM996.1 1085.6h10v3.1h-10zM1015.5 1085.6h10v3.1h-10zM1034.9 1085.6h29.4v3.1h-29.4zM1073.6 1085.6h10v3.1h-10zM405 1082.8h10v3.1h-10zM443.8 1082.8h10v3.1h-10zM492.2 1082.8h10v3.1h-10zM521.3 1082.8h10v3.1h-10zM657 1082.8h10v3.1h-10zM705.4 1082.8h10v3.1h-10zM753.9 1082.8h10v3.1h-10zM821.7 1082.8h10v3.1h-10zM860.4 1082.8h10v3.1h-10zM967 1082.8h19.7v3.1h-19.7zM1063.9 1082.8h10v3.1h-10zM298.4 1080h10v3.1h-10zM317.8 1080h10v3.1h-10zM472.9 1080h19.7v3.1h-19.7zM686 1080h10v3.1h-10zM744.2 1080h10v3.1h-10zM870.1 1080h10v3.1h-10zM308.1 1077.3h10v3.1h-10zM376 1077.3h19.7v3.1h-19.7zM453.5 1077.3h10v3.1h-10zM472.9 1077.3h19.7v3.1h-19.7zM598.8 1077.3h10v3.1h-10zM666.6 1077.3h10v3.1h-10zM695.7 1077.3h10v3.1h-10zM850.8 1077.3h10v3.1h-10zM899.2 1077.3h19.7v3.1h-19.7zM928.3 1077.3h10v3.1h-10zM1034.9 1077.3h10v3.1h-10zM434.1 1074.5h10v3.1h-10zM482.5 1074.5h10v3.1h-10zM657 1074.5h10v3.1h-10zM889.5 1074.5h10v3.1h-10zM1005.8 1074.5h19.7v3.1h-19.7zM434.1 1071.8h10v3.1h-10zM637.6 1071.8h10v3.1h-10zM715.1 1071.8h10v3.1h-10zM879.8 1071.8h10v3.1h-10zM938 1071.8h10v3.1h-10zM298.4 1069h10v3.1h-10zM850.8 1069h19.7v3.1h-19.7zM918.6 1069h19.7v3.1h-19.7zM947.7 1069h19.7v3.1h-19.7zM976.7 1069h10v3.1h-10zM1054.2 1069h10v3.1h-10zM928.3 1066.3h10v3.1h-10zM976.7 1066.3h10v3.1h-10z"/><path fill="#4e18ff" d="M385.6 1314.1h10v3.1h-10zM405 1314.1h10v3.1h-10zM618.2 1314.1h29.4v3.1h-29.4zM676.3 1314.1h10v3.1h-10zM288.7 1311.4h10v3.1h-10zM424.4 1311.4h10v3.1h-10zM472.9 1311.4h10v3.1h-10zM521.3 1311.4h10v3.1h-10zM540.7 1311.4h19.7v3.1h-19.7zM598.8 1311.4h10v3.1h-10zM627.9 1311.4h19.7v3.1h-19.7zM724.8 1311.4h10v3.1h-10zM744.2 1311.4h19.7v3.1h-19.7zM434.1 1308.6h19.7v3.1h-19.7zM482.5 1308.6h10v3.1h-10zM521.3 1308.6h19.7v3.1h-19.7zM579.4 1308.6h19.7v3.1h-19.7zM647.3 1308.6h10v3.1h-10zM802.3 1308.6h10v3.1h-10zM376 1305.9h10v3.1h-10zM453.5 1305.9h10v3.1h-10zM482.5 1305.9h39.1v3.1h-39.1zM531 1305.9h10v3.1h-10zM560.1 1305.9h10v3.1h-10zM579.4 1305.9h10v3.1h-10zM618.2 1305.9h10v3.1h-10zM686 1305.9h10v3.1h-10zM705.4 1305.9h10v3.1h-10zM773.2 1305.9h10v3.1h-10zM792.6 1305.9h29.4v3.1h-29.4zM831.4 1305.9h10v3.1h-10zM850.8 1305.9h10v3.1h-10zM938 1303.1h10v3.1h-10zM1054.2 1303.1h10v3.1h-10zM279.1 1300.4h10v3.1h-10zM879.8 1300.4h10v3.1h-10zM938 1300.4h19.7v3.1h-19.7zM1025.2 1300.4h39.1v3.1h-39.1zM938 1259.1h10v3.1h-10zM967 1259.1h19.7v3.1h-19.7zM996.1 1259.1h19.7v3.1h-19.7zM1034.9 1259.1h10v3.1h-10zM1054.2 1259.1h10v3.1h-10zM1073.6 1259.1h10v3.1h-10zM938 1256.3h29.4v3.1h-29.4zM976.7 1256.3h19.7v3.1h-19.7zM1005.8 1256.3h29.4v3.1h-29.4zM1044.6 1256.3h10v3.1h-10zM1063.9 1256.3h19.7v3.1h-19.7zM279.1 1253.5h10v3.1h-10zM918.6 1253.5h10v3.1h-10zM957.3 1253.5h10v3.1h-10zM976.7 1253.5h10v3.1h-10zM996.1 1253.5h19.7v3.1h-19.7zM1044.6 1253.5h29.4v3.1h-29.4zM279.1 1250.8h10v3.1h-10zM918.6 1250.8h68.1v3.1h-68.1zM996.1 1250.8h10v3.1h-10zM1015.5 1250.8h10v3.1h-10zM1034.9 1250.8h10v3.1h-10zM1054.2 1250.8h29.4v3.1h-29.4zM908.9 1248h29.4v3.1h-29.4zM947.7 1248h19.7v3.1h-19.7zM976.7 1248h10v3.1h-10zM1005.8 1248h10v3.1h-10zM1025.2 1248h10v3.1h-10zM899.2 1245.3h19.7v3.1h-19.7zM928.3 1245.3h19.7v3.1h-19.7zM889.5 1242.5h19.7v3.1h-19.7zM918.6 1242.5h19.7v3.1h-19.7zM899.2 1239.8h19.7v3.1h-19.7zM279.1 1237h10v3.1h-10zM899.2 1237h10v3.1h-10zM889.5 1234.3h19.7v3.1h-19.7zM918.6 1234.3h10v3.1h-10zM889.5 1228.8h10v3.1h-10zM908.9 1228.8h19.7v3.1h-19.7zM1083.3 1228.8h10v3.1h-10zM889.5 1226h10v3.1h-10zM279.1 1223.3h10v3.1h-10zM908.9 1223.3h29.4v3.1h-29.4zM279.1 1220.5h10v3.1h-10zM899.2 1220.5h29.4v3.1h-29.4zM957.3 1220.5h10v3.1h-10zM1005.8 1220.5h10v3.1h-10zM1034.9 1220.5h10v3.1h-10zM1073.6 1220.5h10v3.1h-10zM918.6 1217.7h19.7v3.1h-19.7zM947.7 1217.7h10v3.1h-10zM986.4 1217.7h10v3.1h-10zM1073.6 1217.7h10v3.1h-10zM279.1 1215h10v3.1h-10zM908.9 1215h10v3.1h-10zM928.3 1215h116.6v3.1h-116.6zM1054.2 1215h29.4v3.1h-29.4zM279.1 1212.2h10v3.1h-10zM918.6 1212.2h39.1v3.1h-39.1zM967 1212.2h19.7v3.1h-19.7zM996.1 1212.2h19.7v3.1h-19.7zM1025.2 1212.2h10v3.1h-10zM1044.6 1212.2h10v3.1h-10zM1063.9 1212.2h19.7v3.1h-19.7zM947.7 1209.5h19.7v3.1h-19.7zM1005.8 1209.5h10v3.1h-10zM1025.2 1209.5h19.7v3.1h-19.7zM1054.2 1209.5h29.4v3.1h-29.4zM1025.2 1206.7h10v3.1h-10zM279.1 1204h10v3.1h-10zM279.1 1135.1h10v3.1h-10zM279.1 1132.4h10v3.1h-10zM279.1 1129.6h10v3.1h-10zM279.1 1126.9h10v3.1h-10zM288.7 1124.1h10v3.1h-10zM279.1 1121.4h10v3.1h-10zM1083.3 1110.3h10v3.1h-10zM337.2 1107.6h19.7v3.1h-19.7zM569.8 1107.6h10v3.1h-10zM1083.3 1107.6h10v3.1h-10zM317.8 1104.8h10v3.1h-10zM337.2 1104.8h10v3.1h-10zM356.6 1104.8h77.8v3.1h-77.8zM501.9 1104.8h39.1v3.1h-39.1zM550.4 1104.8h19.7v3.1h-19.7zM579.4 1104.8h19.7v3.1h-19.7zM608.5 1104.8h10v3.1h-10zM647.3 1104.8h29.4v3.1h-29.4zM686 1104.8h10v3.1h-10zM705.4 1104.8h10v3.1h-10zM724.8 1104.8h19.7v3.1h-19.7zM753.9 1104.8h19.7v3.1h-19.7zM782.9 1104.8h10v3.1h-10zM802.3 1104.8h48.7v3.1h-48.7zM889.5 1104.8h10v3.1h-10zM298.4 1102.1h39.1v3.1h-39.1zM346.9 1102.1h48.7v3.1h-48.7zM405 1102.1h10v3.1h-10zM424.4 1102.1h29.4v3.1h-29.4zM463.2 1102.1h10v3.1h-10zM482.5 1102.1h19.7v3.1h-19.7zM511.6 1102.1h58.4v3.1h-58.4zM579.4 1102.1h87.5v3.1h-87.5zM676.3 1102.1h29.4v3.1h-29.4zM715.1 1102.1h19.7v3.1h-19.7zM744.2 1102.1h48.7v3.1h-48.7zM802.3 1102.1h48.7v3.1h-48.7zM870.1 1102.1h39.1v3.1h-39.1zM928.3 1102.1h39.1v3.1h-39.1zM1044.6 1102.1h19.7v3.1h-19.7zM1073.6 1102.1h10v3.1h-10zM308.1 1099.3h10v3.1h-10zM356.6 1099.3h39.1v3.1h-39.1zM405 1099.3h19.7v3.1h-19.7zM443.8 1099.3h10v3.1h-10zM472.9 1099.3h10v3.1h-10zM501.9 1099.3h29.4v3.1h-29.4zM560.1 1099.3h10v3.1h-10zM579.4 1099.3h19.7v3.1h-19.7zM608.5 1099.3h39.1v3.1h-39.1zM657 1099.3h10v3.1h-10zM686 1099.3h10v3.1h-10zM705.4 1099.3h48.7v3.1h-48.7zM773.2 1099.3h29.4v3.1h-29.4zM812 1099.3h19.7v3.1h-19.7zM841.1 1099.3h58.4v3.1h-58.4zM908.9 1099.3h10v3.1h-10zM928.3 1099.3h10v3.1h-10zM957.3 1099.3h87.5v3.1h-87.5zM1054.2 1099.3h19.7v3.1h-19.7zM414.7 1096.6h10v3.1h-10zM550.4 1096.6h10v3.1h-10zM579.4 1096.6h19.7v3.1h-19.7zM608.5 1096.6h10v3.1h-10zM637.6 1096.6h10v3.1h-10zM676.3 1096.6h19.7v3.1h-19.7zM715.1 1096.6h10v3.1h-10zM870.1 1096.6h29.4v3.1h-29.4zM918.6 1096.6h39.1v3.1h-39.1zM967 1096.6h19.7v3.1h-19.7zM996.1 1096.6h48.7v3.1h-48.7zM1054.2 1096.6h19.7v3.1h-19.7zM899.2 1093.8h29.4v3.1h-29.4zM957.3 1093.8h68.1v3.1h-68.1zM1034.9 1093.8h10v3.1h-10zM1054.2 1093.8h10v3.1h-10zM1073.6 1093.8h10v3.1h-10zM376 1091.1h10v3.1h-10zM453.5 1091.1h19.7v3.1h-19.7zM531 1091.1h10v3.1h-10zM589.1 1091.1h10v3.1h-10zM637.6 1091.1h10v3.1h-10zM686 1091.1h10v3.1h-10zM918.6 1091.1h10v3.1h-10zM938 1091.1h10v3.1h-10zM1054.2 1091.1h10v3.1h-10zM346.9 1088.3h10v3.1h-10zM366.3 1088.3h10v3.1h-10zM424.4 1088.3h10v3.1h-10zM443.8 1088.3h10v3.1h-10zM463.2 1088.3h10v3.1h-10zM579.4 1088.3h10v3.1h-10zM744.2 1088.3h10v3.1h-10zM812 1088.3h10v3.1h-10zM879.8 1088.3h10v3.1h-10zM414.7 1085.6h19.7v3.1h-19.7zM443.8 1085.6h10v3.1h-10zM627.9 1085.6h10v3.1h-10zM705.4 1085.6h10v3.1h-10zM724.8 1085.6h10v3.1h-10zM753.9 1085.6h10v3.1h-10zM802.3 1085.6h10v3.1h-10zM850.8 1085.6h19.7v3.1h-19.7zM918.6 1085.6h10v3.1h-10zM938 1085.6h10v3.1h-10zM298.4 1082.8h10v3.1h-10zM356.6 1082.8h10v3.1h-10zM531 1082.8h10v3.1h-10zM560.1 1082.8h10v3.1h-10zM666.6 1082.8h10v3.1h-10zM686 1082.8h10v3.1h-10zM782.9 1082.8h10v3.1h-10zM1034.9 1082.8h10v3.1h-10zM1054.2 1082.8h10v3.1h-10zM395.3 1080h10v3.1h-10zM589.1 1080h10v3.1h-10zM676.3 1080h10v3.1h-10zM724.8 1080h10v3.1h-10zM908.9 1080h10v3.1h-10zM928.3 1080h19.7v3.1h-19.7zM996.1 1080h19.7v3.1h-19.7zM1034.9 1080h10v3.1h-10zM1073.6 1080h10v3.1h-10zM879.8 1077.3h10v3.1h-10zM947.7 1077.3h19.7v3.1h-19.7zM986.4 1077.3h10v3.1h-10zM1015.5 1077.3h10v3.1h-10zM1063.9 1077.3h10v3.1h-10zM957.3 1074.5h10v3.1h-10zM986.4 1074.5h10v3.1h-10z"/><path fill="#3e13ff" d="M356.6 1311.4h10v3.1h-10zM560.1 1311.4h10v3.1h-10zM618.2 1311.4h10v3.1h-10zM647.3 1311.4h10v3.1h-10zM734.5 1311.4h10v3.1h-10zM773.2 1311.4h10v3.1h-10zM298.4 1305.9h77.8v3.1h-77.8zM385.6 1305.9h68.1v3.1h-68.1zM463.2 1305.9h19.7v3.1h-19.7zM521.3 1305.9h10v3.1h-10zM540.7 1305.9h19.7v3.1h-19.7zM569.8 1305.9h10v3.1h-10zM589.1 1305.9h29.4v3.1h-29.4zM627.9 1305.9h58.4v3.1h-58.4zM695.7 1305.9h10v3.1h-10zM715.1 1305.9h58.4v3.1h-58.4zM782.9 1305.9h10v3.1h-10zM821.7 1305.9h10v3.1h-10zM841.1 1305.9h10v3.1h-10zM279.1 1297.6h10v3.1h-10zM918.6 1297.6h10v3.1h-10zM976.7 1297.6h10v3.1h-10zM1025.2 1297.6h48.7v3.1h-48.7zM976.7 1264.6h19.7v3.1h-19.7zM1005.8 1264.6h10v3.1h-10zM1025.2 1264.6h10v3.1h-10zM279.1 1261.8h10v3.1h-10zM918.6 1261.8h10v3.1h-10zM938 1261.8h10v3.1h-10zM957.3 1261.8h39.1v3.1h-39.1zM1015.5 1261.8h10v3.1h-10zM1063.9 1261.8h19.7v3.1h-19.7zM279.1 1259.1h10v3.1h-10zM899.2 1259.1h39.1v3.1h-39.1zM947.7 1259.1h19.7v3.1h-19.7zM986.4 1259.1h10v3.1h-10zM1015.5 1259.1h19.7v3.1h-19.7zM1044.6 1259.1h10v3.1h-10zM1063.9 1259.1h10v3.1h-10zM279.1 1256.3h10v3.1h-10zM918.6 1256.3h19.7v3.1h-19.7zM967 1256.3h10v3.1h-10zM996.1 1256.3h10v3.1h-10zM1034.9 1256.3h10v3.1h-10zM1054.2 1256.3h10v3.1h-10zM889.5 1253.5h10v3.1h-10zM908.9 1253.5h10v3.1h-10zM928.3 1253.5h10v3.1h-10zM889.5 1250.8h10v3.1h-10zM908.9 1250.8h10v3.1h-10zM879.8 1248h10v3.1h-10zM899.2 1248h10v3.1h-10zM879.8 1245.3h19.7v3.1h-19.7zM879.8 1242.5h10v3.1h-10zM870.1 1239.8h29.4v3.1h-29.4zM870.1 1237h10v3.1h-10zM889.5 1237h10v3.1h-10zM889.5 1231.5h19.7v3.1h-19.7zM879.8 1228.8h10v3.1h-10zM899.2 1228.8h10v3.1h-10zM899.2 1226h10v3.1h-10zM879.8 1223.3h29.4v3.1h-29.4zM889.5 1220.5h10v3.1h-10zM889.5 1217.7h10v3.1h-10zM908.9 1217.7h10v3.1h-10zM889.5 1215h19.7v3.1h-19.7zM918.6 1215h10v3.1h-10zM908.9 1212.2h10v3.1h-10zM957.3 1212.2h10v3.1h-10zM986.4 1212.2h10v3.1h-10zM1015.5 1212.2h10v3.1h-10zM1034.9 1212.2h10v3.1h-10zM1054.2 1212.2h10v3.1h-10zM899.2 1209.5h10v3.1h-10zM918.6 1209.5h29.4v3.1h-29.4zM967 1209.5h39.1v3.1h-39.1zM1015.5 1209.5h10v3.1h-10zM1044.6 1209.5h10v3.1h-10zM1083.3 1209.5h10v3.1h-10zM279.1 1206.7h10v3.1h-10zM918.6 1206.7h48.7v3.1h-48.7zM1005.8 1206.7h10v3.1h-10zM1034.9 1206.7h48.7v3.1h-48.7zM1015.5 1204h29.4v3.1h-29.4zM1054.2 1204h10v3.1h-10zM1073.6 1204h10v3.1h-10zM279.1 1201.2h10v3.1h-10zM279.1 1198.5h10v3.1h-10zM279.1 1195.7h10v3.1h-10zM279.1 1140.6h10v3.1h-10zM1083.3 1135.1h10v3.1h-10zM288.7 1126.9h10v3.1h-10zM298.4 1110.3h10v3.1h-10zM317.8 1110.3h10v3.1h-10zM346.9 1110.3h10v3.1h-10zM366.3 1110.3h10v3.1h-10zM385.6 1110.3h10v3.1h-10zM405 1110.3h10v3.1h-10zM434.1 1110.3h10v3.1h-10zM453.5 1110.3h19.7v3.1h-19.7zM521.3 1110.3h10v3.1h-10zM540.7 1110.3h19.7v3.1h-19.7zM569.8 1110.3h10v3.1h-10zM598.8 1110.3h29.4v3.1h-29.4zM647.3 1110.3h10v3.1h-10zM666.6 1110.3h10v3.1h-10zM686 1110.3h19.7v3.1h-19.7zM724.8 1110.3h19.7v3.1h-19.7zM763.5 1110.3h19.7v3.1h-19.7zM850.8 1110.3h19.7v3.1h-19.7zM899.2 1110.3h10v3.1h-10zM918.6 1110.3h10v3.1h-10zM947.7 1110.3h10v3.1h-10zM1044.6 1110.3h10v3.1h-10zM298.4 1107.6h39.1v3.1h-39.1zM356.6 1107.6h19.7v3.1h-19.7zM385.6 1107.6h19.7v3.1h-19.7zM414.7 1107.6h155.3v3.1h-155.3zM579.4 1107.6h87.5v3.1h-87.5zM676.3 1107.6h106.9v3.1h-106.9zM802.3 1107.6h19.7v3.1h-19.7zM831.4 1107.6h48.7v3.1h-48.7zM899.2 1107.6h10v3.1h-10zM928.3 1107.6h48.7v3.1h-48.7zM986.4 1107.6h10v3.1h-10zM1015.5 1107.6h39.1v3.1h-39.1zM1063.9 1107.6h19.7v3.1h-19.7zM298.4 1104.8h19.7v3.1h-19.7zM327.5 1104.8h10v3.1h-10zM346.9 1104.8h10v3.1h-10zM434.1 1104.8h68.1v3.1h-68.1zM540.7 1104.8h10v3.1h-10zM569.8 1104.8h10v3.1h-10zM598.8 1104.8h10v3.1h-10zM618.2 1104.8h29.4v3.1h-29.4zM676.3 1104.8h10v3.1h-10zM695.7 1104.8h10v3.1h-10zM715.1 1104.8h10v3.1h-10zM744.2 1104.8h10v3.1h-10zM773.2 1104.8h10v3.1h-10zM792.6 1104.8h10v3.1h-10zM850.8 1104.8h39.1v3.1h-39.1zM908.9 1104.8h39.1v3.1h-39.1zM967 1104.8h19.7v3.1h-19.7zM996.1 1104.8h10v3.1h-10zM1015.5 1104.8h10v3.1h-10zM1044.6 1104.8h39.1v3.1h-39.1zM337.2 1102.1h10v3.1h-10zM395.3 1102.1h10v3.1h-10zM453.5 1102.1h10v3.1h-10zM472.9 1102.1h10v3.1h-10zM501.9 1102.1h10v3.1h-10zM705.4 1102.1h10v3.1h-10zM734.5 1102.1h10v3.1h-10zM792.6 1102.1h10v3.1h-10zM850.8 1102.1h19.7v3.1h-19.7zM908.9 1102.1h19.7v3.1h-19.7zM967 1102.1h77.8v3.1h-77.8zM1063.9 1102.1h10v3.1h-10zM899.2 1099.3h10v3.1h-10zM918.6 1099.3h10v3.1h-10zM938 1099.3h19.7v3.1h-19.7zM1044.6 1099.3h10v3.1h-10zM1073.6 1099.3h10v3.1h-10zM1044.6 1096.6h10v3.1h-10zM414.7 1091.1h10v3.1h-10zM472.9 1091.1h39.1v3.1h-39.1zM521.3 1091.1h10v3.1h-10zM657 1091.1h10v3.1h-10zM695.7 1091.1h10v3.1h-10zM715.1 1091.1h10v3.1h-10zM744.2 1091.1h10v3.1h-10zM792.6 1091.1h19.7v3.1h-19.7zM841.1 1091.1h10v3.1h-10zM327.5 1088.3h19.7v3.1h-19.7zM472.9 1088.3h10v3.1h-10zM492.2 1088.3h10v3.1h-10zM550.4 1088.3h10v3.1h-10zM589.1 1088.3h10v3.1h-10zM627.9 1088.3h10v3.1h-10zM676.3 1088.3h10v3.1h-10zM821.7 1088.3h10v3.1h-10zM841.1 1088.3h10v3.1h-10zM870.1 1088.3h10v3.1h-10zM889.5 1088.3h10v3.1h-10zM870.1 1085.6h19.7v3.1h-19.7zM1005.8 1082.8h10v3.1h-10zM986.4 1080h10v3.1h-10z"/><path fill="#2e0eff" d="M327.5 1303.1h19.7v3.1h-19.7zM376 1303.1h19.7v3.1h-19.7zM405 1303.1h39.1v3.1h-39.1zM463.2 1303.1h58.4v3.1h-58.4zM531 1303.1h19.7v3.1h-19.7zM569.8 1303.1h19.7v3.1h-19.7zM598.8 1303.1h10v3.1h-10zM637.6 1303.1h48.7v3.1h-48.7zM695.7 1303.1h29.4v3.1h-29.4zM753.9 1303.1h10v3.1h-10zM782.9 1303.1h10v3.1h-10zM802.3 1303.1h10v3.1h-10zM821.7 1303.1h10v3.1h-10zM841.1 1303.1h10v3.1h-10zM860.4 1303.1h10v3.1h-10zM870.1 1300.4h10v3.1h-10zM889.5 1297.6h29.4v3.1h-29.4zM928.3 1297.6h48.7v3.1h-48.7zM986.4 1297.6h39.1v3.1h-39.1zM1073.6 1297.6h10v3.1h-10zM889.5 1294.9h10v3.1h-10zM908.9 1294.9h10v3.1h-10zM986.4 1294.9h10v3.1h-10zM1034.9 1294.9h10v3.1h-10zM947.7 1267.3h19.7v3.1h-19.7zM996.1 1267.3h19.7v3.1h-19.7zM1034.9 1267.3h10v3.1h-10zM1054.2 1267.3h10v3.1h-10zM279.1 1264.6h10v3.1h-10zM899.2 1264.6h68.1v3.1h-68.1zM1015.5 1264.6h10v3.1h-10zM1054.2 1264.6h10v3.1h-10zM1073.6 1264.6h10v3.1h-10zM889.5 1261.8h29.4v3.1h-29.4zM928.3 1261.8h10v3.1h-10zM947.7 1261.8h10v3.1h-10zM996.1 1261.8h19.7v3.1h-19.7zM1025.2 1261.8h39.1v3.1h-39.1zM879.8 1259.1h19.7v3.1h-19.7zM879.8 1256.3h39.1v3.1h-39.1zM879.8 1253.5h10v3.1h-10zM899.2 1253.5h10v3.1h-10zM879.8 1250.8h10v3.1h-10zM899.2 1250.8h10v3.1h-10zM870.1 1248h10v3.1h-10zM889.5 1248h10v3.1h-10zM870.1 1245.3h10v3.1h-10zM870.1 1242.5h10v3.1h-10zM860.4 1239.8h10v3.1h-10zM860.4 1237h10v3.1h-10zM879.8 1237h10v3.1h-10zM850.8 1234.3h39.1v3.1h-39.1zM860.4 1231.5h29.4v3.1h-29.4zM850.8 1228.8h29.4v3.1h-29.4zM860.4 1226h29.4v3.1h-29.4zM850.8 1223.3h19.7v3.1h-19.7zM860.4 1220.5h29.4v3.1h-29.4zM879.8 1217.7h10v3.1h-10zM899.2 1217.7h10v3.1h-10zM870.1 1215h19.7v3.1h-19.7zM889.5 1212.2h19.7v3.1h-19.7zM908.9 1209.5h10v3.1h-10zM879.8 1206.7h10v3.1h-10zM908.9 1206.7h10v3.1h-10zM967 1206.7h39.1v3.1h-39.1zM1015.5 1206.7h10v3.1h-10zM899.2 1204h10v3.1h-10zM918.6 1204h97.2v3.1h-97.2zM1044.6 1204h10v3.1h-10zM1063.9 1204h10v3.1h-10zM967 1201.2h10v3.1h-10zM986.4 1201.2h10v3.1h-10zM1005.8 1201.2h10v3.1h-10zM1025.2 1201.2h58.4v3.1h-58.4zM967 1198.5h10v3.1h-10zM1005.8 1198.5h10v3.1h-10zM1025.2 1198.5h10v3.1h-10zM1063.9 1198.5h10v3.1h-10zM279.1 1137.9h10v3.1h-10zM308.1 1115.8h10v3.1h-10zM395.3 1115.8h10v3.1h-10zM443.8 1115.8h10v3.1h-10zM463.2 1115.8h10v3.1h-10zM492.2 1115.8h19.7v3.1h-19.7zM560.1 1115.8h39.1v3.1h-39.1zM686 1115.8h10v3.1h-10zM715.1 1115.8h10v3.1h-10zM734.5 1115.8h10v3.1h-10zM753.9 1115.8h10v3.1h-10zM782.9 1115.8h10v3.1h-10zM802.3 1115.8h10v3.1h-10zM850.8 1115.8h10v3.1h-10zM928.3 1115.8h10v3.1h-10zM957.3 1115.8h10v3.1h-10zM976.7 1115.8h58.4v3.1h-58.4zM1054.2 1115.8h10v3.1h-10zM1073.6 1115.8h10v3.1h-10zM298.4 1113.1h29.4v3.1h-29.4zM337.2 1113.1h87.5v3.1h-87.5zM434.1 1113.1h10v3.1h-10zM453.5 1113.1h77.8v3.1h-77.8zM540.7 1113.1h29.4v3.1h-29.4zM579.4 1113.1h68.1v3.1h-68.1zM657 1113.1h29.4v3.1h-29.4zM695.7 1113.1h19.7v3.1h-19.7zM724.8 1113.1h68.1v3.1h-68.1zM802.3 1113.1h10v3.1h-10zM831.4 1113.1h19.7v3.1h-19.7zM860.4 1113.1h39.1v3.1h-39.1zM908.9 1113.1h10v3.1h-10zM928.3 1113.1h58.4v3.1h-58.4zM996.1 1113.1h19.7v3.1h-19.7zM1044.6 1113.1h10v3.1h-10zM1063.9 1113.1h10v3.1h-10zM308.1 1110.3h10v3.1h-10zM327.5 1110.3h19.7v3.1h-19.7zM356.6 1110.3h10v3.1h-10zM376 1110.3h10v3.1h-10zM395.3 1110.3h10v3.1h-10zM414.7 1110.3h19.7v3.1h-19.7zM443.8 1110.3h10v3.1h-10zM472.9 1110.3h48.7v3.1h-48.7zM531 1110.3h10v3.1h-10zM560.1 1110.3h10v3.1h-10zM579.4 1110.3h19.7v3.1h-19.7zM627.9 1110.3h19.7v3.1h-19.7zM657 1110.3h10v3.1h-10zM676.3 1110.3h10v3.1h-10zM705.4 1110.3h19.7v3.1h-19.7zM744.2 1110.3h19.7v3.1h-19.7zM782.9 1110.3h68.1v3.1h-68.1zM870.1 1110.3h29.4v3.1h-29.4zM908.9 1110.3h10v3.1h-10zM928.3 1110.3h19.7v3.1h-19.7zM957.3 1110.3h87.5v3.1h-87.5zM1063.9 1110.3h19.7v3.1h-19.7zM376 1107.6h10v3.1h-10zM405 1107.6h10v3.1h-10zM666.6 1107.6h10v3.1h-10zM782.9 1107.6h19.7v3.1h-19.7zM821.7 1107.6h10v3.1h-10zM879.8 1107.6h19.7v3.1h-19.7zM908.9 1107.6h19.7v3.1h-19.7zM976.7 1107.6h10v3.1h-10zM996.1 1107.6h19.7v3.1h-19.7zM1054.2 1107.6h10v3.1h-10zM899.2 1104.8h10v3.1h-10zM947.7 1104.8h19.7v3.1h-19.7zM986.4 1104.8h10v3.1h-10zM1005.8 1104.8h10v3.1h-10zM1025.2 1104.8h19.7v3.1h-19.7z"/><path fill="#1f0aff" d="M288.7 1305.9h10v3.1h-10zM298.4 1303.1h29.4v3.1h-29.4zM346.9 1303.1h29.4v3.1h-29.4zM395.3 1303.1h10v3.1h-10zM443.8 1303.1h19.7v3.1h-19.7zM521.3 1303.1h10v3.1h-10zM550.4 1303.1h19.7v3.1h-19.7zM589.1 1303.1h10v3.1h-10zM608.5 1303.1h29.4v3.1h-29.4zM686 1303.1h10v3.1h-10zM724.8 1303.1h29.4v3.1h-29.4zM763.5 1303.1h19.7v3.1h-19.7zM792.6 1303.1h10v3.1h-10zM812 1303.1h10v3.1h-10zM831.4 1303.1h10v3.1h-10zM850.8 1303.1h10v3.1h-10zM860.4 1300.4h10v3.1h-10zM870.1 1297.6h19.7v3.1h-19.7zM279.1 1294.9h10v3.1h-10zM879.8 1294.9h10v3.1h-10zM938 1294.9h48.7v3.1h-48.7zM996.1 1294.9h39.1v3.1h-39.1zM1054.2 1294.9h29.4v3.1h-29.4zM899.2 1272.8h10v3.1h-10zM1073.6 1272.8h10v3.1h-10zM899.2 1270.1h10v3.1h-10zM928.3 1270.1h10v3.1h-10zM957.3 1270.1h10v3.1h-10zM976.7 1270.1h19.7v3.1h-19.7zM1015.5 1270.1h29.4v3.1h-29.4zM1063.9 1270.1h19.7v3.1h-19.7zM279.1 1267.3h10v3.1h-10zM879.8 1267.3h68.1v3.1h-68.1zM967 1267.3h29.4v3.1h-29.4zM1015.5 1267.3h19.7v3.1h-19.7zM1044.6 1267.3h10v3.1h-10zM1063.9 1267.3h19.7v3.1h-19.7zM889.5 1264.6h10v3.1h-10zM967 1264.6h10v3.1h-10zM996.1 1264.6h10v3.1h-10zM1034.9 1264.6h19.7v3.1h-19.7zM1063.9 1264.6h10v3.1h-10zM879.8 1261.8h10v3.1h-10zM870.1 1259.1h10v3.1h-10zM860.4 1256.3h19.7v3.1h-19.7zM841.1 1253.5h39.1v3.1h-39.1zM850.8 1250.8h29.4v3.1h-29.4zM841.1 1248h29.4v3.1h-29.4zM841.1 1245.3h29.4v3.1h-29.4zM850.8 1242.5h19.7v3.1h-19.7zM841.1 1239.8h19.7v3.1h-19.7zM841.1 1237h19.7v3.1h-19.7zM831.4 1234.3h10v3.1h-10zM821.7 1231.5h10v3.1h-10zM841.1 1231.5h19.7v3.1h-19.7zM821.7 1228.8h10v3.1h-10zM841.1 1228.8h10v3.1h-10zM821.7 1226h39.1v3.1h-39.1zM841.1 1223.3h10v3.1h-10zM870.1 1223.3h10v3.1h-10zM850.8 1220.5h10v3.1h-10zM841.1 1217.7h10v3.1h-10zM860.4 1217.7h19.7v3.1h-19.7zM850.8 1215h19.7v3.1h-19.7zM850.8 1212.2h39.1v3.1h-39.1zM870.1 1209.5h29.4v3.1h-29.4zM870.1 1206.7h10v3.1h-10zM889.5 1206.7h19.7v3.1h-19.7zM879.8 1204h19.7v3.1h-19.7zM908.9 1204h10v3.1h-10zM899.2 1201.2h10v3.1h-10zM918.6 1201.2h48.7v3.1h-48.7zM976.7 1201.2h10v3.1h-10zM996.1 1201.2h10v3.1h-10zM1015.5 1201.2h10v3.1h-10zM899.2 1198.5h19.7v3.1h-19.7zM928.3 1198.5h39.1v3.1h-39.1zM976.7 1198.5h29.4v3.1h-29.4zM1015.5 1198.5h10v3.1h-10zM1034.9 1198.5h29.4v3.1h-29.4zM938 1195.7h10v3.1h-10zM976.7 1195.7h10v3.1h-10zM996.1 1195.7h19.7v3.1h-19.7zM1025.2 1195.7h10v3.1h-10zM1044.6 1195.7h29.4v3.1h-29.4zM279.1 1193h10v3.1h-10zM976.7 1193h10v3.1h-10zM1005.8 1193h10v3.1h-10zM279.1 1143.4h10v3.1h-10zM976.7 1124.1h19.7v3.1h-19.7zM1025.2 1124.1h10v3.1h-10zM317.8 1121.4h10v3.1h-10zM337.2 1121.4h10v3.1h-10zM376 1121.4h10v3.1h-10zM501.9 1121.4h10v3.1h-10zM686 1121.4h10v3.1h-10zM724.8 1121.4h10v3.1h-10zM773.2 1121.4h10v3.1h-10zM841.1 1121.4h39.1v3.1h-39.1zM889.5 1121.4h19.7v3.1h-19.7zM918.6 1121.4h29.4v3.1h-29.4zM967 1121.4h10v3.1h-10zM986.4 1121.4h19.7v3.1h-19.7zM1025.2 1121.4h10v3.1h-10zM1044.6 1121.4h10v3.1h-10zM317.8 1118.6h10v3.1h-10zM337.2 1118.6h29.4v3.1h-29.4zM385.6 1118.6h19.7v3.1h-19.7zM424.4 1118.6h10v3.1h-10zM453.5 1118.6h29.4v3.1h-29.4zM511.6 1118.6h68.1v3.1h-68.1zM647.3 1118.6h19.7v3.1h-19.7zM676.3 1118.6h39.1v3.1h-39.1zM724.8 1118.6h19.7v3.1h-19.7zM753.9 1118.6h19.7v3.1h-19.7zM782.9 1118.6h68.1v3.1h-68.1zM860.4 1118.6h155.3v3.1h-155.3zM1025.2 1118.6h58.4v3.1h-58.4zM298.4 1115.8h10v3.1h-10zM317.8 1115.8h77.8v3.1h-77.8zM405 1115.8h39.1v3.1h-39.1zM453.5 1115.8h10v3.1h-10zM472.9 1115.8h19.7v3.1h-19.7zM511.6 1115.8h48.7v3.1h-48.7zM598.8 1115.8h87.5v3.1h-87.5zM695.7 1115.8h19.7v3.1h-19.7zM724.8 1115.8h10v3.1h-10zM744.2 1115.8h10v3.1h-10zM763.5 1115.8h19.7v3.1h-19.7zM792.6 1115.8h10v3.1h-10zM812 1115.8h39.1v3.1h-39.1zM860.4 1115.8h68.1v3.1h-68.1zM938 1115.8h19.7v3.1h-19.7zM967 1115.8h10v3.1h-10zM1034.9 1115.8h19.7v3.1h-19.7zM1063.9 1115.8h10v3.1h-10zM327.5 1113.1h10v3.1h-10zM424.4 1113.1h10v3.1h-10zM443.8 1113.1h10v3.1h-10zM531 1113.1h10v3.1h-10zM569.8 1113.1h10v3.1h-10zM647.3 1113.1h10v3.1h-10zM686 1113.1h10v3.1h-10zM715.1 1113.1h10v3.1h-10zM792.6 1113.1h10v3.1h-10zM812 1113.1h19.7v3.1h-19.7zM850.8 1113.1h10v3.1h-10zM899.2 1113.1h10v3.1h-10zM918.6 1113.1h10v3.1h-10zM986.4 1113.1h10v3.1h-10zM1015.5 1113.1h29.4v3.1h-29.4zM1054.2 1113.1h10v3.1h-10zM1073.6 1113.1h10v3.1h-10zM1054.2 1110.3h10v3.1h-10z"/><path fill="#1005ff" d="M288.7 1303.1h10v3.1h-10zM298.4 1300.4h10v3.1h-10zM317.8 1300.4h19.7v3.1h-19.7zM376 1300.4h19.7v3.1h-19.7zM405 1300.4h19.7v3.1h-19.7zM434.1 1300.4h58.4v3.1h-58.4zM521.3 1300.4h10v3.1h-10zM540.7 1300.4h19.7v3.1h-19.7zM569.8 1300.4h48.7v3.1h-48.7zM627.9 1300.4h10v3.1h-10zM647.3 1300.4h10v3.1h-10zM666.6 1300.4h10v3.1h-10zM686 1300.4h10v3.1h-10zM705.4 1300.4h10v3.1h-10zM753.9 1300.4h29.4v3.1h-29.4zM792.6 1300.4h19.7v3.1h-19.7zM821.7 1300.4h10v3.1h-10zM841.1 1300.4h10v3.1h-10zM870.1 1294.9h10v3.1h-10zM899.2 1294.9h10v3.1h-10zM918.6 1294.9h19.7v3.1h-19.7zM1044.6 1294.9h10v3.1h-10zM889.5 1292.1h10v3.1h-10zM928.3 1292.1h58.4v3.1h-58.4zM1025.2 1292.1h29.4v3.1h-29.4zM928.3 1289.3h10v3.1h-10zM1025.2 1289.3h10v3.1h-10zM938 1278.3h10v3.1h-10zM967 1278.3h10v3.1h-10zM1073.6 1278.3h10v3.1h-10zM908.9 1275.6h48.7v3.1h-48.7zM986.4 1275.6h10v3.1h-10zM1015.5 1275.6h29.4v3.1h-29.4zM1073.6 1275.6h10v3.1h-10zM889.5 1272.8h10v3.1h-10zM908.9 1272.8h29.4v3.1h-29.4zM947.7 1272.8h48.7v3.1h-48.7zM1005.8 1272.8h68.1v3.1h-68.1zM279.1 1270.1h10v3.1h-10zM879.8 1270.1h19.7v3.1h-19.7zM908.9 1270.1h19.7v3.1h-19.7zM938 1270.1h19.7v3.1h-19.7zM967 1270.1h10v3.1h-10zM996.1 1270.1h19.7v3.1h-19.7zM1044.6 1270.1h19.7v3.1h-19.7zM879.8 1264.6h10v3.1h-10zM860.4 1261.8h19.7v3.1h-19.7zM850.8 1259.1h19.7v3.1h-19.7zM831.4 1256.3h29.4v3.1h-29.4zM812 1253.5h10v3.1h-10zM831.4 1253.5h10v3.1h-10zM298.4 1250.8h10v3.1h-10zM463.2 1250.8h19.7v3.1h-19.7zM540.7 1250.8h10v3.1h-10zM802.3 1250.8h10v3.1h-10zM841.1 1250.8h10v3.1h-10zM308.1 1248h10v3.1h-10zM327.5 1248h10v3.1h-10zM385.6 1248h10v3.1h-10zM598.8 1248h10v3.1h-10zM715.1 1248h10v3.1h-10zM734.5 1248h10v3.1h-10zM821.7 1248h19.7v3.1h-19.7zM308.1 1245.3h10v3.1h-10zM346.9 1245.3h10v3.1h-10zM376 1245.3h19.7v3.1h-19.7zM405 1245.3h10v3.1h-10zM482.5 1245.3h10v3.1h-10zM521.3 1245.3h10v3.1h-10zM540.7 1245.3h10v3.1h-10zM560.1 1245.3h10v3.1h-10zM589.1 1245.3h10v3.1h-10zM608.5 1245.3h10v3.1h-10zM637.6 1245.3h10v3.1h-10zM666.6 1245.3h29.4v3.1h-29.4zM763.5 1245.3h10v3.1h-10zM782.9 1245.3h10v3.1h-10zM812 1245.3h29.4v3.1h-29.4zM317.8 1242.5h10v3.1h-10zM337.2 1242.5h29.4v3.1h-29.4zM405 1242.5h19.7v3.1h-19.7zM434.1 1242.5h10v3.1h-10zM453.5 1242.5h29.4v3.1h-29.4zM531 1242.5h10v3.1h-10zM618.2 1242.5h10v3.1h-10zM647.3 1242.5h10v3.1h-10zM676.3 1242.5h29.4v3.1h-29.4zM715.1 1242.5h10v3.1h-10zM734.5 1242.5h19.7v3.1h-19.7zM802.3 1242.5h48.7v3.1h-48.7zM298.4 1239.8h10v3.1h-10zM317.8 1239.8h19.7v3.1h-19.7zM356.6 1239.8h19.7v3.1h-19.7zM385.6 1239.8h10v3.1h-10zM405 1239.8h10v3.1h-10zM463.2 1239.8h10v3.1h-10zM511.6 1239.8h10v3.1h-10zM531 1239.8h19.7v3.1h-19.7zM569.8 1239.8h10v3.1h-10zM589.1 1239.8h29.4v3.1h-29.4zM657 1239.8h10v3.1h-10zM695.7 1239.8h19.7v3.1h-19.7zM744.2 1239.8h19.7v3.1h-19.7zM773.2 1239.8h10v3.1h-10zM812 1239.8h10v3.1h-10zM831.4 1239.8h10v3.1h-10zM317.8 1237h10v3.1h-10zM337.2 1237h10v3.1h-10zM356.6 1237h10v3.1h-10zM376 1237h39.1v3.1h-39.1zM453.5 1237h10v3.1h-10zM482.5 1237h10v3.1h-10zM531 1237h19.7v3.1h-19.7zM560.1 1237h10v3.1h-10zM589.1 1237h29.4v3.1h-29.4zM637.6 1237h10v3.1h-10zM676.3 1237h48.7v3.1h-48.7zM744.2 1237h10v3.1h-10zM792.6 1237h10v3.1h-10zM812 1237h29.4v3.1h-29.4zM298.4 1234.3h39.1v3.1h-39.1zM376 1234.3h29.4v3.1h-29.4zM424.4 1234.3h19.7v3.1h-19.7zM453.5 1234.3h10v3.1h-10zM472.9 1234.3h39.1v3.1h-39.1zM521.3 1234.3h10v3.1h-10zM540.7 1234.3h10v3.1h-10zM560.1 1234.3h29.4v3.1h-29.4zM598.8 1234.3h39.1v3.1h-39.1zM657 1234.3h29.4v3.1h-29.4zM695.7 1234.3h19.7v3.1h-19.7zM734.5 1234.3h39.1v3.1h-39.1zM782.9 1234.3h10v3.1h-10zM802.3 1234.3h29.4v3.1h-29.4zM841.1 1234.3h10v3.1h-10zM298.4 1231.5h58.4v3.1h-58.4zM366.3 1231.5h10v3.1h-10zM385.6 1231.5h19.7v3.1h-19.7zM414.7 1231.5h19.7v3.1h-19.7zM443.8 1231.5h58.4v3.1h-58.4zM511.6 1231.5h10v3.1h-10zM540.7 1231.5h97.2v3.1h-97.2zM657 1231.5h10v3.1h-10zM686 1231.5h68.1v3.1h-68.1zM773.2 1231.5h10v3.1h-10zM802.3 1231.5h19.7v3.1h-19.7zM831.4 1231.5h10v3.1h-10zM298.4 1228.8h29.4v3.1h-29.4zM346.9 1228.8h10v3.1h-10zM376 1228.8h58.4v3.1h-58.4zM463.2 1228.8h19.7v3.1h-19.7zM501.9 1228.8h87.5v3.1h-87.5zM598.8 1228.8h10v3.1h-10zM618.2 1228.8h19.7v3.1h-19.7zM647.3 1228.8h10v3.1h-10zM666.6 1228.8h10v3.1h-10zM715.1 1228.8h48.7v3.1h-48.7zM773.2 1228.8h10v3.1h-10zM802.3 1228.8h19.7v3.1h-19.7zM831.4 1228.8h10v3.1h-10zM298.4 1226h10v3.1h-10zM317.8 1226h10v3.1h-10zM356.6 1226h10v3.1h-10zM376 1226h10v3.1h-10zM395.3 1226h29.4v3.1h-29.4zM434.1 1226h10v3.1h-10zM453.5 1226h10v3.1h-10zM482.5 1226h10v3.1h-10zM511.6 1226h10v3.1h-10zM531 1226h10v3.1h-10zM550.4 1226h19.7v3.1h-19.7zM579.4 1226h19.7v3.1h-19.7zM627.9 1226h10v3.1h-10zM647.3 1226h19.7v3.1h-19.7zM686 1226h10v3.1h-10zM715.1 1226h19.7v3.1h-19.7zM744.2 1226h10v3.1h-10zM773.2 1226h19.7v3.1h-19.7zM812 1226h10v3.1h-10zM317.8 1223.3h10v3.1h-10zM337.2 1223.3h10v3.1h-10zM356.6 1223.3h10v3.1h-10zM395.3 1223.3h19.7v3.1h-19.7zM463.2 1223.3h58.4v3.1h-58.4zM560.1 1223.3h10v3.1h-10zM589.1 1223.3h19.7v3.1h-19.7zM637.6 1223.3h10v3.1h-10zM666.6 1223.3h19.7v3.1h-19.7zM705.4 1223.3h39.1v3.1h-39.1zM782.9 1223.3h10v3.1h-10zM802.3 1223.3h19.7v3.1h-19.7zM831.4 1223.3h10v3.1h-10zM298.4 1220.5h10v3.1h-10zM317.8 1220.5h19.7v3.1h-19.7zM385.6 1220.5h19.7v3.1h-19.7zM414.7 1220.5h10v3.1h-10zM434.1 1220.5h10v3.1h-10zM463.2 1220.5h10v3.1h-10zM501.9 1220.5h10v3.1h-10zM531 1220.5h10v3.1h-10zM550.4 1220.5h19.7v3.1h-19.7zM579.4 1220.5h19.7v3.1h-19.7zM627.9 1220.5h19.7v3.1h-19.7zM657 1220.5h19.7v3.1h-19.7zM724.8 1220.5h19.7v3.1h-19.7zM792.6 1220.5h10v3.1h-10zM812 1220.5h10v3.1h-10zM831.4 1220.5h19.7v3.1h-19.7zM317.8 1217.7h19.7v3.1h-19.7zM356.6 1217.7h10v3.1h-10zM463.2 1217.7h10v3.1h-10zM492.2 1217.7h10v3.1h-10zM540.7 1217.7h10v3.1h-10zM560.1 1217.7h10v3.1h-10zM579.4 1217.7h19.7v3.1h-19.7zM637.6 1217.7h10v3.1h-10zM676.3 1217.7h10v3.1h-10zM705.4 1217.7h10v3.1h-10zM734.5 1217.7h10v3.1h-10zM802.3 1217.7h39.1v3.1h-39.1zM850.8 1217.7h10v3.1h-10zM308.1 1215h10v3.1h-10zM356.6 1215h19.7v3.1h-19.7zM385.6 1215h10v3.1h-10zM405 1215h29.4v3.1h-29.4zM443.8 1215h10v3.1h-10zM463.2 1215h10v3.1h-10zM560.1 1215h10v3.1h-10zM579.4 1215h10v3.1h-10zM637.6 1215h10v3.1h-10zM686 1215h10v3.1h-10zM715.1 1215h10v3.1h-10zM734.5 1215h10v3.1h-10zM792.6 1215h10v3.1h-10zM812 1215h39.1v3.1h-39.1zM317.8 1212.2h10v3.1h-10zM337.2 1212.2h19.7v3.1h-19.7zM376 1212.2h10v3.1h-10zM424.4 1212.2h10v3.1h-10zM463.2 1212.2h10v3.1h-10zM598.8 1212.2h10v3.1h-10zM618.2 1212.2h10v3.1h-10zM821.7 1212.2h29.4v3.1h-29.4zM812 1209.5h10v3.1h-10zM841.1 1209.5h29.4v3.1h-29.4zM773.2 1206.7h10v3.1h-10zM831.4 1206.7h39.1v3.1h-39.1zM821.7 1204h10v3.1h-10zM850.8 1204h29.4v3.1h-29.4zM821.7 1201.2h77.8v3.1h-77.8zM908.9 1201.2h10v3.1h-10zM850.8 1198.5h10v3.1h-10zM870.1 1198.5h29.4v3.1h-29.4zM918.6 1198.5h10v3.1h-10zM1073.6 1198.5h10v3.1h-10zM850.8 1195.7h10v3.1h-10zM889.5 1195.7h48.7v3.1h-48.7zM947.7 1195.7h29.4v3.1h-29.4zM986.4 1195.7h10v3.1h-10zM1015.5 1195.7h10v3.1h-10zM1034.9 1195.7h10v3.1h-10zM1073.6 1195.7h10v3.1h-10zM947.7 1193h29.4v3.1h-29.4zM996.1 1193h10v3.1h-10zM1015.5 1193h10v3.1h-10zM1044.6 1193h39.1v3.1h-39.1zM279.1 1190.2h10v3.1h-10zM967 1190.2h10v3.1h-10zM996.1 1190.2h19.7v3.1h-19.7zM1044.6 1190.2h19.7v3.1h-19.7zM1073.6 1190.2h10v3.1h-10zM279.1 1148.9h10v3.1h-10zM279.1 1146.1h10v3.1h-10zM1034.9 1140.6h10v3.1h-10zM1063.9 1140.6h10v3.1h-10zM986.4 1137.9h19.7v3.1h-19.7zM976.7 1135.1h10v3.1h-10zM1063.9 1135.1h19.7v3.1h-19.7zM812 1132.4h19.7v3.1h-19.7zM899.2 1132.4h10v3.1h-10zM967 1132.4h10v3.1h-10zM1005.8 1132.4h10v3.1h-10zM1025.2 1132.4h10v3.1h-10zM1063.9 1132.4h19.7v3.1h-19.7zM288.7 1129.6h10v3.1h-10zM317.8 1129.6h10v3.1h-10zM337.2 1129.6h10v3.1h-10zM405 1129.6h10v3.1h-10zM531 1129.6h10v3.1h-10zM589.1 1129.6h10v3.1h-10zM753.9 1129.6h10v3.1h-10zM773.2 1129.6h10v3.1h-10zM802.3 1129.6h29.4v3.1h-29.4zM908.9 1129.6h10v3.1h-10zM947.7 1129.6h10v3.1h-10zM976.7 1129.6h19.7v3.1h-19.7zM1015.5 1129.6h10v3.1h-10zM1034.9 1129.6h10v3.1h-10zM1054.2 1129.6h10v3.1h-10zM308.1 1126.9h19.7v3.1h-19.7zM346.9 1126.9h10v3.1h-10zM376 1126.9h29.4v3.1h-29.4zM414.7 1126.9h29.4v3.1h-29.4zM453.5 1126.9h10v3.1h-10zM472.9 1126.9h19.7v3.1h-19.7zM501.9 1126.9h29.4v3.1h-29.4zM560.1 1126.9h10v3.1h-10zM579.4 1126.9h10v3.1h-10zM637.6 1126.9h10v3.1h-10zM666.6 1126.9h19.7v3.1h-19.7zM753.9 1126.9h10v3.1h-10zM773.2 1126.9h10v3.1h-10zM802.3 1126.9h39.1v3.1h-39.1zM860.4 1126.9h10v3.1h-10zM889.5 1126.9h10v3.1h-10zM908.9 1126.9h19.7v3.1h-19.7zM938 1126.9h48.7v3.1h-48.7zM996.1 1126.9h10v3.1h-10zM1015.5 1126.9h19.7v3.1h-19.7zM1044.6 1126.9h19.7v3.1h-19.7zM1073.6 1126.9h10v3.1h-10zM298.4 1124.1h97.2v3.1h-97.2zM405 1124.1h68.1v3.1h-68.1zM501.9 1124.1h19.7v3.1h-19.7zM540.7 1124.1h19.7v3.1h-19.7zM569.8 1124.1h10v3.1h-10zM589.1 1124.1h10v3.1h-10zM608.5 1124.1h10v3.1h-10zM637.6 1124.1h48.7v3.1h-48.7zM695.7 1124.1h48.7v3.1h-48.7zM753.9 1124.1h19.7v3.1h-19.7zM782.9 1124.1h10v3.1h-10zM812 1124.1h165v3.1h-165zM996.1 1124.1h29.4v3.1h-29.4zM1034.9 1124.1h48.7v3.1h-48.7zM298.4 1121.4h10v3.1h-10zM327.5 1121.4h10v3.1h-10zM346.9 1121.4h10v3.1h-10zM366.3 1121.4h10v3.1h-10zM395.3 1121.4h48.7v3.1h-48.7zM453.5 1121.4h39.1v3.1h-39.1zM511.6 1121.4h58.4v3.1h-58.4zM579.4 1121.4h10v3.1h-10zM598.8 1121.4h87.5v3.1h-87.5zM695.7 1121.4h29.4v3.1h-29.4zM734.5 1121.4h10v3.1h-10zM753.9 1121.4h19.7v3.1h-19.7zM782.9 1121.4h58.4v3.1h-58.4zM879.8 1121.4h10v3.1h-10zM908.9 1121.4h10v3.1h-10zM947.7 1121.4h19.7v3.1h-19.7zM976.7 1121.4h10v3.1h-10zM1005.8 1121.4h19.7v3.1h-19.7zM1034.9 1121.4h10v3.1h-10zM1054.2 1121.4h29.4v3.1h-29.4zM298.4 1118.6h19.7v3.1h-19.7zM327.5 1118.6h10v3.1h-10zM366.3 1118.6h19.7v3.1h-19.7zM405 1118.6h19.7v3.1h-19.7zM434.1 1118.6h19.7v3.1h-19.7zM482.5 1118.6h29.4v3.1h-29.4zM579.4 1118.6h68.1v3.1h-68.1zM666.6 1118.6h10v3.1h-10zM715.1 1118.6h10v3.1h-10zM744.2 1118.6h10v3.1h-10zM773.2 1118.6h10v3.1h-10zM850.8 1118.6h10v3.1h-10zM1015.5 1118.6h10v3.1h-10z"/><path fill="#0000ff" d="M308.1 1300.4h10v3.1h-10zM337.2 1300.4h39.1v3.1h-39.1zM395.3 1300.4h10v3.1h-10zM424.4 1300.4h10v3.1h-10zM492.2 1300.4h29.4v3.1h-29.4zM531 1300.4h10v3.1h-10zM560.1 1300.4h10v3.1h-10zM618.2 1300.4h10v3.1h-10zM637.6 1300.4h10v3.1h-10zM657 1300.4h10v3.1h-10zM676.3 1300.4h10v3.1h-10zM695.7 1300.4h10v3.1h-10zM715.1 1300.4h39.1v3.1h-39.1zM782.9 1300.4h10v3.1h-10zM812 1300.4h10v3.1h-10zM831.4 1300.4h10v3.1h-10zM850.8 1300.4h10v3.1h-10zM879.8 1292.1h10v3.1h-10zM899.2 1292.1h29.4v3.1h-29.4zM986.4 1292.1h39.1v3.1h-39.1zM1054.2 1292.1h29.4v3.1h-29.4zM879.8 1289.3h10v3.1h-10zM899.2 1289.3h29.4v3.1h-29.4zM938 1289.3h10v3.1h-10zM957.3 1289.3h19.7v3.1h-19.7zM986.4 1289.3h39.1v3.1h-39.1zM1044.6 1289.3h39.1v3.1h-39.1zM889.5 1286.6h29.4v3.1h-29.4zM928.3 1286.6h10v3.1h-10zM947.7 1286.6h10v3.1h-10zM967 1286.6h19.7v3.1h-19.7zM996.1 1286.6h10v3.1h-10zM1025.2 1286.6h10v3.1h-10zM1044.6 1286.6h10v3.1h-10zM1073.6 1286.6h10v3.1h-10zM899.2 1283.8h19.7v3.1h-19.7zM938 1283.8h19.7v3.1h-19.7zM967 1283.8h10v3.1h-10zM986.4 1283.8h10v3.1h-10zM1015.5 1283.8h19.7v3.1h-19.7zM1054.2 1283.8h29.4v3.1h-29.4zM889.5 1281.1h29.4v3.1h-29.4zM928.3 1281.1h39.1v3.1h-39.1zM986.4 1281.1h48.7v3.1h-48.7zM1044.6 1281.1h19.7v3.1h-19.7zM1073.6 1281.1h10v3.1h-10zM889.5 1278.3h48.7v3.1h-48.7zM947.7 1278.3h10v3.1h-10zM976.7 1278.3h10v3.1h-10zM996.1 1278.3h68.1v3.1h-68.1zM889.5 1275.6h19.7v3.1h-19.7zM957.3 1275.6h29.4v3.1h-29.4zM996.1 1275.6h19.7v3.1h-19.7zM1044.6 1275.6h29.4v3.1h-29.4zM879.8 1272.8h10v3.1h-10zM938 1272.8h10v3.1h-10zM996.1 1272.8h10v3.1h-10zM870.1 1270.1h10v3.1h-10zM860.4 1267.3h19.7v3.1h-19.7zM860.4 1264.6h19.7v3.1h-19.7zM366.3 1261.8h10v3.1h-10zM666.6 1261.8h10v3.1h-10zM841.1 1261.8h19.7v3.1h-19.7zM317.8 1259.1h10v3.1h-10zM346.9 1259.1h19.7v3.1h-19.7zM395.3 1259.1h10v3.1h-10zM453.5 1259.1h10v3.1h-10zM482.5 1259.1h10v3.1h-10zM501.9 1259.1h19.7v3.1h-19.7zM540.7 1259.1h29.4v3.1h-29.4zM579.4 1259.1h19.7v3.1h-19.7zM608.5 1259.1h10v3.1h-10zM637.6 1259.1h10v3.1h-10zM695.7 1259.1h29.4v3.1h-29.4zM744.2 1259.1h19.7v3.1h-19.7zM802.3 1259.1h19.7v3.1h-19.7zM831.4 1259.1h19.7v3.1h-19.7zM298.4 1256.3h39.1v3.1h-39.1zM346.9 1256.3h29.4v3.1h-29.4zM395.3 1256.3h19.7v3.1h-19.7zM424.4 1256.3h39.1v3.1h-39.1zM472.9 1256.3h19.7v3.1h-19.7zM501.9 1256.3h29.4v3.1h-29.4zM550.4 1256.3h39.1v3.1h-39.1zM618.2 1256.3h48.7v3.1h-48.7zM686 1256.3h10v3.1h-10zM734.5 1256.3h19.7v3.1h-19.7zM773.2 1256.3h39.1v3.1h-39.1zM821.7 1256.3h10v3.1h-10zM308.1 1253.5h77.8v3.1h-77.8zM405 1253.5h19.7v3.1h-19.7zM434.1 1253.5h126.3v3.1h-126.3zM569.8 1253.5h10v3.1h-10zM589.1 1253.5h39.1v3.1h-39.1zM637.6 1253.5h29.4v3.1h-29.4zM676.3 1253.5h10v3.1h-10zM695.7 1253.5h68.1v3.1h-68.1zM773.2 1253.5h10v3.1h-10zM792.6 1253.5h19.7v3.1h-19.7zM821.7 1253.5h10v3.1h-10zM308.1 1250.8h10v3.1h-10zM327.5 1250.8h136v3.1h-136zM482.5 1250.8h10v3.1h-10zM501.9 1250.8h39.1v3.1h-39.1zM550.4 1250.8h213.5v3.1h-213.5zM773.2 1250.8h10v3.1h-10zM792.6 1250.8h10v3.1h-10zM812 1250.8h29.4v3.1h-29.4zM298.4 1248h10v3.1h-10zM317.8 1248h10v3.1h-10zM337.2 1248h48.7v3.1h-48.7zM395.3 1248h39.1v3.1h-39.1zM453.5 1248h145.6v3.1h-145.6zM608.5 1248h10v3.1h-10zM627.9 1248h87.5v3.1h-87.5zM724.8 1248h10v3.1h-10zM744.2 1248h77.8v3.1h-77.8zM298.4 1245.3h10v3.1h-10zM317.8 1245.3h29.4v3.1h-29.4zM356.6 1245.3h19.7v3.1h-19.7zM395.3 1245.3h10v3.1h-10zM414.7 1245.3h68.1v3.1h-68.1zM492.2 1245.3h29.4v3.1h-29.4zM531 1245.3h10v3.1h-10zM550.4 1245.3h10v3.1h-10zM569.8 1245.3h19.7v3.1h-19.7zM598.8 1245.3h10v3.1h-10zM618.2 1245.3h19.7v3.1h-19.7zM647.3 1245.3h19.7v3.1h-19.7zM695.7 1245.3h68.1v3.1h-68.1zM773.2 1245.3h10v3.1h-10zM792.6 1245.3h19.7v3.1h-19.7zM298.4 1242.5h19.7v3.1h-19.7zM327.5 1242.5h10v3.1h-10zM366.3 1242.5h39.1v3.1h-39.1zM424.4 1242.5h10v3.1h-10zM443.8 1242.5h10v3.1h-10zM482.5 1242.5h48.7v3.1h-48.7zM540.7 1242.5h77.8v3.1h-77.8zM627.9 1242.5h19.7v3.1h-19.7zM657 1242.5h19.7v3.1h-19.7zM705.4 1242.5h10v3.1h-10zM724.8 1242.5h10v3.1h-10zM753.9 1242.5h48.7v3.1h-48.7zM308.1 1239.8h10v3.1h-10zM337.2 1239.8h19.7v3.1h-19.7zM376 1239.8h10v3.1h-10zM395.3 1239.8h10v3.1h-10zM414.7 1239.8h48.7v3.1h-48.7zM472.9 1239.8h39.1v3.1h-39.1zM521.3 1239.8h10v3.1h-10zM550.4 1239.8h19.7v3.1h-19.7zM579.4 1239.8h10v3.1h-10zM618.2 1239.8h39.1v3.1h-39.1zM666.6 1239.8h29.4v3.1h-29.4zM715.1 1239.8h29.4v3.1h-29.4zM763.5 1239.8h10v3.1h-10zM782.9 1239.8h29.4v3.1h-29.4zM821.7 1239.8h10v3.1h-10zM298.4 1237h19.7v3.1h-19.7zM327.5 1237h10v3.1h-10zM346.9 1237h10v3.1h-10zM366.3 1237h10v3.1h-10zM414.7 1237h39.1v3.1h-39.1zM463.2 1237h19.7v3.1h-19.7zM492.2 1237h39.1v3.1h-39.1zM550.4 1237h10v3.1h-10zM569.8 1237h19.7v3.1h-19.7zM618.2 1237h19.7v3.1h-19.7zM647.3 1237h29.4v3.1h-29.4zM724.8 1237h19.7v3.1h-19.7zM753.9 1237h39.1v3.1h-39.1zM802.3 1237h10v3.1h-10zM337.2 1234.3h39.1v3.1h-39.1zM405 1234.3h19.7v3.1h-19.7zM443.8 1234.3h10v3.1h-10zM463.2 1234.3h10v3.1h-10zM511.6 1234.3h10v3.1h-10zM531 1234.3h10v3.1h-10zM550.4 1234.3h10v3.1h-10zM589.1 1234.3h10v3.1h-10zM637.6 1234.3h19.7v3.1h-19.7zM686 1234.3h10v3.1h-10zM715.1 1234.3h19.7v3.1h-19.7zM773.2 1234.3h10v3.1h-10zM792.6 1234.3h10v3.1h-10zM356.6 1231.5h10v3.1h-10zM376 1231.5h10v3.1h-10zM405 1231.5h10v3.1h-10zM434.1 1231.5h10v3.1h-10zM501.9 1231.5h10v3.1h-10zM521.3 1231.5h19.7v3.1h-19.7zM637.6 1231.5h19.7v3.1h-19.7zM666.6 1231.5h19.7v3.1h-19.7zM753.9 1231.5h19.7v3.1h-19.7zM782.9 1231.5h19.7v3.1h-19.7zM327.5 1228.8h19.7v3.1h-19.7zM356.6 1228.8h19.7v3.1h-19.7zM434.1 1228.8h29.4v3.1h-29.4zM482.5 1228.8h19.7v3.1h-19.7zM589.1 1228.8h10v3.1h-10zM608.5 1228.8h10v3.1h-10zM637.6 1228.8h10v3.1h-10zM657 1228.8h10v3.1h-10zM676.3 1228.8h39.1v3.1h-39.1zM763.5 1228.8h10v3.1h-10zM782.9 1228.8h19.7v3.1h-19.7zM308.1 1226h10v3.1h-10zM327.5 1226h29.4v3.1h-29.4zM366.3 1226h10v3.1h-10zM385.6 1226h10v3.1h-10zM424.4 1226h10v3.1h-10zM443.8 1226h10v3.1h-10zM463.2 1226h19.7v3.1h-19.7zM492.2 1226h19.7v3.1h-19.7zM521.3 1226h10v3.1h-10zM540.7 1226h10v3.1h-10zM569.8 1226h10v3.1h-10zM598.8 1226h29.4v3.1h-29.4zM637.6 1226h10v3.1h-10zM666.6 1226h19.7v3.1h-19.7zM695.7 1226h19.7v3.1h-19.7zM734.5 1226h10v3.1h-10zM753.9 1226h19.7v3.1h-19.7zM792.6 1226h19.7v3.1h-19.7zM298.4 1223.3h19.7v3.1h-19.7zM327.5 1223.3h10v3.1h-10zM346.9 1223.3h10v3.1h-10zM366.3 1223.3h29.4v3.1h-29.4zM414.7 1223.3h48.7v3.1h-48.7zM521.3 1223.3h39.1v3.1h-39.1zM569.8 1223.3h19.7v3.1h-19.7zM608.5 1223.3h29.4v3.1h-29.4zM647.3 1223.3h19.7v3.1h-19.7zM686 1223.3h19.7v3.1h-19.7zM744.2 1223.3h39.1v3.1h-39.1zM792.6 1223.3h10v3.1h-10zM821.7 1223.3h10v3.1h-10zM308.1 1220.5h10v3.1h-10zM337.2 1220.5h48.7v3.1h-48.7zM405 1220.5h10v3.1h-10zM424.4 1220.5h10v3.1h-10zM443.8 1220.5h19.7v3.1h-19.7zM472.9 1220.5h29.4v3.1h-29.4zM511.6 1220.5h19.7v3.1h-19.7zM540.7 1220.5h10v3.1h-10zM569.8 1220.5h10v3.1h-10zM598.8 1220.5h29.4v3.1h-29.4zM647.3 1220.5h10v3.1h-10zM676.3 1220.5h48.7v3.1h-48.7zM744.2 1220.5h48.7v3.1h-48.7zM802.3 1220.5h10v3.1h-10zM821.7 1220.5h10v3.1h-10zM298.4 1217.7h19.7v3.1h-19.7zM337.2 1217.7h19.7v3.1h-19.7zM366.3 1217.7h97.2v3.1h-97.2zM472.9 1217.7h19.7v3.1h-19.7zM501.9 1217.7h39.1v3.1h-39.1zM550.4 1217.7h10v3.1h-10zM569.8 1217.7h10v3.1h-10zM598.8 1217.7h39.1v3.1h-39.1zM647.3 1217.7h29.4v3.1h-29.4zM686 1217.7h19.7v3.1h-19.7zM715.1 1217.7h19.7v3.1h-19.7zM744.2 1217.7h58.4v3.1h-58.4zM298.4 1215h10v3.1h-10zM317.8 1215h39.1v3.1h-39.1zM376 1215h10v3.1h-10zM395.3 1215h10v3.1h-10zM434.1 1215h10v3.1h-10zM453.5 1215h10v3.1h-10zM472.9 1215h87.5v3.1h-87.5zM569.8 1215h10v3.1h-10zM589.1 1215h48.7v3.1h-48.7zM647.3 1215h39.1v3.1h-39.1zM695.7 1215h19.7v3.1h-19.7zM724.8 1215h10v3.1h-10zM744.2 1215h48.7v3.1h-48.7zM802.3 1215h10v3.1h-10zM298.4 1212.2h19.7v3.1h-19.7zM327.5 1212.2h10v3.1h-10zM356.6 1212.2h19.7v3.1h-19.7zM385.6 1212.2h39.1v3.1h-39.1zM434.1 1212.2h29.4v3.1h-29.4zM472.9 1212.2h126.3v3.1h-126.3zM608.5 1212.2h10v3.1h-10zM627.9 1212.2h77.8v3.1h-77.8zM724.8 1212.2h58.4v3.1h-58.4zM792.6 1212.2h29.4v3.1h-29.4zM298.4 1209.5h48.7v3.1h-48.7zM356.6 1209.5h10v3.1h-10zM376 1209.5h29.4v3.1h-29.4zM424.4 1209.5h58.4v3.1h-58.4zM492.2 1209.5h19.7v3.1h-19.7zM521.3 1209.5h136v3.1h-136zM666.6 1209.5h145.6v3.1h-145.6zM821.7 1209.5h19.7v3.1h-19.7zM308.1 1206.7h68.1v3.1h-68.1zM385.6 1206.7h39.1v3.1h-39.1zM443.8 1206.7h10v3.1h-10zM482.5 1206.7h48.7v3.1h-48.7zM540.7 1206.7h19.7v3.1h-19.7zM579.4 1206.7h10v3.1h-10zM598.8 1206.7h19.7v3.1h-19.7zM627.9 1206.7h39.1v3.1h-39.1zM686 1206.7h29.4v3.1h-29.4zM724.8 1206.7h48.7v3.1h-48.7zM782.9 1206.7h48.7v3.1h-48.7zM327.5 1204h10v3.1h-10zM346.9 1204h10v3.1h-10zM366.3 1204h19.7v3.1h-19.7zM405 1204h10v3.1h-10zM434.1 1204h10v3.1h-10zM453.5 1204h19.7v3.1h-19.7zM482.5 1204h19.7v3.1h-19.7zM560.1 1204h10v3.1h-10zM589.1 1204h10v3.1h-10zM608.5 1204h10v3.1h-10zM627.9 1204h10v3.1h-10zM647.3 1204h10v3.1h-10zM686 1204h10v3.1h-10zM705.4 1204h10v3.1h-10zM734.5 1204h87.5v3.1h-87.5zM831.4 1204h19.7v3.1h-19.7zM317.8 1201.2h19.7v3.1h-19.7zM405 1201.2h10v3.1h-10zM424.4 1201.2h10v3.1h-10zM443.8 1201.2h19.7v3.1h-19.7zM540.7 1201.2h19.7v3.1h-19.7zM618.2 1201.2h19.7v3.1h-19.7zM647.3 1201.2h10v3.1h-10zM676.3 1201.2h10v3.1h-10zM705.4 1201.2h29.4v3.1h-29.4zM744.2 1201.2h19.7v3.1h-19.7zM773.2 1201.2h48.7v3.1h-48.7zM366.3 1198.5h10v3.1h-10zM424.4 1198.5h10v3.1h-10zM482.5 1198.5h10v3.1h-10zM501.9 1198.5h10v3.1h-10zM550.4 1198.5h10v3.1h-10zM608.5 1198.5h10v3.1h-10zM724.8 1198.5h48.7v3.1h-48.7zM782.9 1198.5h68.1v3.1h-68.1zM860.4 1198.5h10v3.1h-10zM802.3 1195.7h39.1v3.1h-39.1zM860.4 1195.7h29.4v3.1h-29.4zM821.7 1193h10v3.1h-10zM860.4 1193h10v3.1h-10zM879.8 1193h68.1v3.1h-68.1zM986.4 1193h10v3.1h-10zM1025.2 1193h19.7v3.1h-19.7zM860.4 1190.2h19.7v3.1h-19.7zM889.5 1190.2h77.8v3.1h-77.8zM976.7 1190.2h19.7v3.1h-19.7zM1015.5 1190.2h29.4v3.1h-29.4zM1063.9 1190.2h10v3.1h-10zM279.1 1187.5h10v3.1h-10zM918.6 1187.5h10v3.1h-10zM938 1187.5h10v3.1h-10zM957.3 1187.5h10v3.1h-10zM976.7 1187.5h58.4v3.1h-58.4zM1044.6 1187.5h39.1v3.1h-39.1zM957.3 1184.7h19.7v3.1h-19.7zM986.4 1184.7h19.7v3.1h-19.7zM1015.5 1184.7h48.7v3.1h-48.7zM1005.8 1181.9h39.1v3.1h-39.1zM1054.2 1181.9h10v3.1h-10zM279.1 1151.6h10v3.1h-10zM967 1148.9h10v3.1h-10zM1034.9 1148.9h10v3.1h-10zM1054.2 1148.9h10v3.1h-10zM1073.6 1148.9h10v3.1h-10zM957.3 1146.1h10v3.1h-10zM976.7 1146.1h29.4v3.1h-29.4zM1054.2 1146.1h10v3.1h-10zM1073.6 1146.1h10v3.1h-10zM879.8 1143.4h29.4v3.1h-29.4zM918.6 1143.4h10v3.1h-10zM947.7 1143.4h29.4v3.1h-29.4zM986.4 1143.4h10v3.1h-10zM1005.8 1143.4h29.4v3.1h-29.4zM1044.6 1143.4h39.1v3.1h-39.1zM753.9 1140.6h10v3.1h-10zM782.9 1140.6h10v3.1h-10zM831.4 1140.6h29.4v3.1h-29.4zM870.1 1140.6h19.7v3.1h-19.7zM899.2 1140.6h10v3.1h-10zM918.6 1140.6h19.7v3.1h-19.7zM957.3 1140.6h77.8v3.1h-77.8zM1044.6 1140.6h19.7v3.1h-19.7zM1073.6 1140.6h10v3.1h-10zM637.6 1137.9h10v3.1h-10zM666.6 1137.9h10v3.1h-10zM705.4 1137.9h10v3.1h-10zM763.5 1137.9h19.7v3.1h-19.7zM831.4 1137.9h10v3.1h-10zM860.4 1137.9h29.4v3.1h-29.4zM899.2 1137.9h10v3.1h-10zM918.6 1137.9h68.1v3.1h-68.1zM1005.8 1137.9h48.7v3.1h-48.7zM1073.6 1137.9h10v3.1h-10zM327.5 1135.1h19.7v3.1h-19.7zM356.6 1135.1h10v3.1h-10zM385.6 1135.1h10v3.1h-10zM405 1135.1h29.4v3.1h-29.4zM453.5 1135.1h39.1v3.1h-39.1zM511.6 1135.1h10v3.1h-10zM589.1 1135.1h10v3.1h-10zM627.9 1135.1h10v3.1h-10zM647.3 1135.1h19.7v3.1h-19.7zM676.3 1135.1h10v3.1h-10zM695.7 1135.1h10v3.1h-10zM715.1 1135.1h126.3v3.1h-126.3zM850.8 1135.1h10v3.1h-10zM870.1 1135.1h10v3.1h-10zM889.5 1135.1h87.5v3.1h-87.5zM986.4 1135.1h77.8v3.1h-77.8zM298.4 1132.4h29.4v3.1h-29.4zM346.9 1132.4h19.7v3.1h-19.7zM376 1132.4h19.7v3.1h-19.7zM405 1132.4h29.4v3.1h-29.4zM463.2 1132.4h10v3.1h-10zM482.5 1132.4h19.7v3.1h-19.7zM511.6 1132.4h29.4v3.1h-29.4zM550.4 1132.4h19.7v3.1h-19.7zM579.4 1132.4h29.4v3.1h-29.4zM618.2 1132.4h58.4v3.1h-58.4zM695.7 1132.4h116.6v3.1h-116.6zM831.4 1132.4h68.1v3.1h-68.1zM908.9 1132.4h58.4v3.1h-58.4zM976.7 1132.4h29.4v3.1h-29.4zM1015.5 1132.4h10v3.1h-10zM1034.9 1132.4h29.4v3.1h-29.4zM308.1 1129.6h10v3.1h-10zM327.5 1129.6h10v3.1h-10zM346.9 1129.6h10v3.1h-10zM366.3 1129.6h39.1v3.1h-39.1zM414.7 1129.6h116.6v3.1h-116.6zM540.7 1129.6h48.7v3.1h-48.7zM598.8 1129.6h155.3v3.1h-155.3zM763.5 1129.6h10v3.1h-10zM782.9 1129.6h19.7v3.1h-19.7zM831.4 1129.6h77.8v3.1h-77.8zM918.6 1129.6h29.4v3.1h-29.4zM957.3 1129.6h19.7v3.1h-19.7zM996.1 1129.6h19.7v3.1h-19.7zM1025.2 1129.6h10v3.1h-10zM1044.6 1129.6h10v3.1h-10zM1063.9 1129.6h19.7v3.1h-19.7zM298.4 1126.9h10v3.1h-10zM327.5 1126.9h19.7v3.1h-19.7zM356.6 1126.9h19.7v3.1h-19.7zM405 1126.9h10v3.1h-10zM443.8 1126.9h10v3.1h-10zM463.2 1126.9h10v3.1h-10zM492.2 1126.9h10v3.1h-10zM531 1126.9h29.4v3.1h-29.4zM569.8 1126.9h10v3.1h-10zM589.1 1126.9h48.7v3.1h-48.7zM647.3 1126.9h19.7v3.1h-19.7zM686 1126.9h68.1v3.1h-68.1zM763.5 1126.9h10v3.1h-10zM782.9 1126.9h19.7v3.1h-19.7zM841.1 1126.9h19.7v3.1h-19.7zM870.1 1126.9h19.7v3.1h-19.7zM899.2 1126.9h10v3.1h-10zM928.3 1126.9h10v3.1h-10zM986.4 1126.9h10v3.1h-10zM1005.8 1126.9h10v3.1h-10zM1034.9 1126.9h10v3.1h-10zM1063.9 1126.9h10v3.1h-10zM395.3 1124.1h10v3.1h-10zM472.9 1124.1h29.4v3.1h-29.4zM521.3 1124.1h19.7v3.1h-19.7zM560.1 1124.1h10v3.1h-10zM579.4 1124.1h10v3.1h-10zM598.8 1124.1h10v3.1h-10zM618.2 1124.1h19.7v3.1h-19.7zM686 1124.1h10v3.1h-10zM744.2 1124.1h10v3.1h-10zM773.2 1124.1h10v3.1h-10zM792.6 1124.1h19.7v3.1h-19.7zM308.1 1121.4h10v3.1h-10zM356.6 1121.4h10v3.1h-10zM385.6 1121.4h10v3.1h-10zM443.8 1121.4h10v3.1h-10zM492.2 1121.4h10v3.1h-10zM569.8 1121.4h10v3.1h-10zM589.1 1121.4h10v3.1h-10zM744.2 1121.4h10v3.1h-10z"/><path fill="#0019e6" d="M317.8 1297.6h19.7v3.1h-19.7zM346.9 1297.6h29.4v3.1h-29.4zM385.6 1297.6h10v3.1h-10zM405 1297.6h29.4v3.1h-29.4zM443.8 1297.6h10v3.1h-10zM482.5 1297.6h10v3.1h-10zM501.9 1297.6h10v3.1h-10zM531 1297.6h10v3.1h-10zM550.4 1297.6h10v3.1h-10zM589.1 1297.6h29.4v3.1h-29.4zM627.9 1297.6h10v3.1h-10zM657 1297.6h39.1v3.1h-39.1zM705.4 1297.6h29.4v3.1h-29.4zM744.2 1297.6h10v3.1h-10zM763.5 1297.6h10v3.1h-10zM782.9 1297.6h87.5v3.1h-87.5zM860.4 1294.9h10v3.1h-10zM279.1 1292.1h10v3.1h-10zM889.5 1289.3h10v3.1h-10zM947.7 1289.3h10v3.1h-10zM976.7 1289.3h10v3.1h-10zM1034.9 1289.3h10v3.1h-10zM879.8 1286.6h10v3.1h-10zM918.6 1286.6h10v3.1h-10zM938 1286.6h10v3.1h-10zM957.3 1286.6h10v3.1h-10zM986.4 1286.6h10v3.1h-10zM1005.8 1286.6h19.7v3.1h-19.7zM1034.9 1286.6h10v3.1h-10zM1054.2 1286.6h19.7v3.1h-19.7zM879.8 1283.8h19.7v3.1h-19.7zM918.6 1283.8h19.7v3.1h-19.7zM957.3 1283.8h10v3.1h-10zM976.7 1283.8h10v3.1h-10zM996.1 1283.8h19.7v3.1h-19.7zM1034.9 1283.8h19.7v3.1h-19.7zM879.8 1281.1h10v3.1h-10zM918.6 1281.1h10v3.1h-10zM967 1281.1h19.7v3.1h-19.7zM1034.9 1281.1h10v3.1h-10zM1063.9 1281.1h10v3.1h-10zM879.8 1278.3h10v3.1h-10zM957.3 1278.3h10v3.1h-10zM986.4 1278.3h10v3.1h-10zM1063.9 1278.3h10v3.1h-10zM879.8 1275.6h10v3.1h-10zM279.1 1272.8h10v3.1h-10zM870.1 1272.8h10v3.1h-10zM850.8 1267.3h10v3.1h-10zM356.6 1264.6h29.4v3.1h-29.4zM395.3 1264.6h29.4v3.1h-29.4zM443.8 1264.6h10v3.1h-10zM472.9 1264.6h10v3.1h-10zM492.2 1264.6h19.7v3.1h-19.7zM521.3 1264.6h29.4v3.1h-29.4zM569.8 1264.6h39.1v3.1h-39.1zM618.2 1264.6h39.1v3.1h-39.1zM676.3 1264.6h10v3.1h-10zM705.4 1264.6h19.7v3.1h-19.7zM734.5 1264.6h19.7v3.1h-19.7zM773.2 1264.6h19.7v3.1h-19.7zM812 1264.6h10v3.1h-10zM850.8 1264.6h10v3.1h-10zM298.4 1261.8h48.7v3.1h-48.7zM356.6 1261.8h10v3.1h-10zM376 1261.8h19.7v3.1h-19.7zM405 1261.8h48.7v3.1h-48.7zM472.9 1261.8h29.4v3.1h-29.4zM511.6 1261.8h136v3.1h-136zM657 1261.8h10v3.1h-10zM676.3 1261.8h48.7v3.1h-48.7zM734.5 1261.8h10v3.1h-10zM763.5 1261.8h29.4v3.1h-29.4zM802.3 1261.8h39.1v3.1h-39.1zM298.4 1259.1h19.7v3.1h-19.7zM327.5 1259.1h19.7v3.1h-19.7zM366.3 1259.1h29.4v3.1h-29.4zM405 1259.1h48.7v3.1h-48.7zM463.2 1259.1h19.7v3.1h-19.7zM492.2 1259.1h10v3.1h-10zM521.3 1259.1h19.7v3.1h-19.7zM569.8 1259.1h10v3.1h-10zM598.8 1259.1h10v3.1h-10zM618.2 1259.1h19.7v3.1h-19.7zM647.3 1259.1h48.7v3.1h-48.7zM724.8 1259.1h19.7v3.1h-19.7zM763.5 1259.1h39.1v3.1h-39.1zM821.7 1259.1h10v3.1h-10zM337.2 1256.3h10v3.1h-10zM376 1256.3h19.7v3.1h-19.7zM414.7 1256.3h10v3.1h-10zM463.2 1256.3h10v3.1h-10zM492.2 1256.3h10v3.1h-10zM531 1256.3h19.7v3.1h-19.7zM589.1 1256.3h29.4v3.1h-29.4zM666.6 1256.3h19.7v3.1h-19.7zM695.7 1256.3h39.1v3.1h-39.1zM753.9 1256.3h19.7v3.1h-19.7zM812 1256.3h10v3.1h-10zM298.4 1253.5h10v3.1h-10zM385.6 1253.5h19.7v3.1h-19.7zM424.4 1253.5h10v3.1h-10zM560.1 1253.5h10v3.1h-10zM579.4 1253.5h10v3.1h-10zM627.9 1253.5h10v3.1h-10zM666.6 1253.5h10v3.1h-10zM686 1253.5h10v3.1h-10zM763.5 1253.5h10v3.1h-10zM782.9 1253.5h10v3.1h-10zM317.8 1250.8h10v3.1h-10zM492.2 1250.8h10v3.1h-10zM763.5 1250.8h10v3.1h-10zM782.9 1250.8h10v3.1h-10zM434.1 1248h19.7v3.1h-19.7zM618.2 1248h10v3.1h-10zM288.7 1239.8h10v3.1h-10zM288.7 1237h10v3.1h-10zM288.7 1234.3h10v3.1h-10zM288.7 1231.5h10v3.1h-10zM288.7 1215h10v3.1h-10zM705.4 1212.2h19.7v3.1h-19.7zM782.9 1212.2h10v3.1h-10zM346.9 1209.5h10v3.1h-10zM366.3 1209.5h10v3.1h-10zM405 1209.5h19.7v3.1h-19.7zM482.5 1209.5h10v3.1h-10zM511.6 1209.5h10v3.1h-10zM657 1209.5h10v3.1h-10zM298.4 1206.7h10v3.1h-10zM376 1206.7h10v3.1h-10zM424.4 1206.7h19.7v3.1h-19.7zM453.5 1206.7h29.4v3.1h-29.4zM531 1206.7h10v3.1h-10zM560.1 1206.7h19.7v3.1h-19.7zM589.1 1206.7h10v3.1h-10zM618.2 1206.7h10v3.1h-10zM666.6 1206.7h19.7v3.1h-19.7zM715.1 1206.7h10v3.1h-10zM298.4 1204h29.4v3.1h-29.4zM337.2 1204h10v3.1h-10zM356.6 1204h10v3.1h-10zM385.6 1204h19.7v3.1h-19.7zM414.7 1204h19.7v3.1h-19.7zM443.8 1204h10v3.1h-10zM472.9 1204h10v3.1h-10zM501.9 1204h58.4v3.1h-58.4zM569.8 1204h19.7v3.1h-19.7zM598.8 1204h10v3.1h-10zM618.2 1204h10v3.1h-10zM637.6 1204h10v3.1h-10zM657 1204h29.4v3.1h-29.4zM695.7 1204h10v3.1h-10zM715.1 1204h19.7v3.1h-19.7zM298.4 1201.2h19.7v3.1h-19.7zM337.2 1201.2h68.1v3.1h-68.1zM414.7 1201.2h10v3.1h-10zM434.1 1201.2h10v3.1h-10zM463.2 1201.2h77.8v3.1h-77.8zM560.1 1201.2h58.4v3.1h-58.4zM637.6 1201.2h10v3.1h-10zM657 1201.2h19.7v3.1h-19.7zM686 1201.2h19.7v3.1h-19.7zM734.5 1201.2h10v3.1h-10zM763.5 1201.2h10v3.1h-10zM298.4 1198.5h58.4v3.1h-58.4zM376 1198.5h48.7v3.1h-48.7zM434.1 1198.5h48.7v3.1h-48.7zM492.2 1198.5h10v3.1h-10zM511.6 1198.5h39.1v3.1h-39.1zM560.1 1198.5h48.7v3.1h-48.7zM618.2 1198.5h106.9v3.1h-106.9zM773.2 1198.5h10v3.1h-10zM434.1 1195.7h10v3.1h-10zM453.5 1195.7h10v3.1h-10zM579.4 1195.7h10v3.1h-10zM637.6 1195.7h19.7v3.1h-19.7zM676.3 1195.7h10v3.1h-10zM695.7 1195.7h19.7v3.1h-19.7zM724.8 1195.7h10v3.1h-10zM744.2 1195.7h58.4v3.1h-58.4zM841.1 1195.7h10v3.1h-10zM724.8 1193h19.7v3.1h-19.7zM753.9 1193h10v3.1h-10zM773.2 1193h10v3.1h-10zM792.6 1193h10v3.1h-10zM812 1193h10v3.1h-10zM831.4 1193h29.4v3.1h-29.4zM870.1 1193h10v3.1h-10zM763.5 1190.2h10v3.1h-10zM802.3 1190.2h58.4v3.1h-58.4zM879.8 1190.2h10v3.1h-10zM841.1 1187.5h77.8v3.1h-77.8zM928.3 1187.5h10v3.1h-10zM947.7 1187.5h10v3.1h-10zM967 1187.5h10v3.1h-10zM1034.9 1187.5h10v3.1h-10zM279.1 1184.7h10v3.1h-10zM870.1 1184.7h39.1v3.1h-39.1zM928.3 1184.7h29.4v3.1h-29.4zM976.7 1184.7h10v3.1h-10zM1005.8 1184.7h10v3.1h-10zM1063.9 1184.7h19.7v3.1h-19.7zM947.7 1181.9h10v3.1h-10zM967 1181.9h29.4v3.1h-29.4zM1044.6 1181.9h10v3.1h-10zM1063.9 1181.9h10v3.1h-10zM899.2 1179.2h10v3.1h-10zM947.7 1179.2h10v3.1h-10zM976.7 1179.2h29.4v3.1h-29.4zM1015.5 1179.2h10v3.1h-10zM1034.9 1179.2h48.7v3.1h-48.7zM1015.5 1176.4h10v3.1h-10zM1044.6 1176.4h39.1v3.1h-39.1zM996.1 1173.7h10v3.1h-10zM1025.2 1173.7h10v3.1h-10zM1044.6 1173.7h10v3.1h-10zM1034.9 1170.9h10v3.1h-10zM1034.9 1159.9h10v3.1h-10zM976.7 1157.2h10v3.1h-10zM1044.6 1157.2h39.1v3.1h-39.1zM928.3 1154.4h10v3.1h-10zM986.4 1154.4h10v3.1h-10zM1034.9 1154.4h39.1v3.1h-39.1zM918.6 1151.6h29.4v3.1h-29.4zM967 1151.6h10v3.1h-10zM986.4 1151.6h19.7v3.1h-19.7zM1015.5 1151.6h68.1v3.1h-68.1zM870.1 1148.9h10v3.1h-10zM889.5 1148.9h39.1v3.1h-39.1zM938 1148.9h29.4v3.1h-29.4zM976.7 1148.9h58.4v3.1h-58.4zM1044.6 1148.9h10v3.1h-10zM1063.9 1148.9h10v3.1h-10zM802.3 1146.1h10v3.1h-10zM831.4 1146.1h19.7v3.1h-19.7zM860.4 1146.1h10v3.1h-10zM889.5 1146.1h10v3.1h-10zM908.9 1146.1h48.7v3.1h-48.7zM967 1146.1h10v3.1h-10zM1005.8 1146.1h48.7v3.1h-48.7zM1063.9 1146.1h10v3.1h-10zM540.7 1143.4h10v3.1h-10zM676.3 1143.4h10v3.1h-10zM705.4 1143.4h10v3.1h-10zM744.2 1143.4h10v3.1h-10zM782.9 1143.4h29.4v3.1h-29.4zM821.7 1143.4h58.4v3.1h-58.4zM908.9 1143.4h10v3.1h-10zM928.3 1143.4h19.7v3.1h-19.7zM976.7 1143.4h10v3.1h-10zM996.1 1143.4h10v3.1h-10zM1034.9 1143.4h10v3.1h-10zM317.8 1140.6h10v3.1h-10zM346.9 1140.6h10v3.1h-10zM395.3 1140.6h10v3.1h-10zM414.7 1140.6h10v3.1h-10zM434.1 1140.6h10v3.1h-10zM463.2 1140.6h10v3.1h-10zM482.5 1140.6h19.7v3.1h-19.7zM511.6 1140.6h10v3.1h-10zM531 1140.6h10v3.1h-10zM560.1 1140.6h29.4v3.1h-29.4zM666.6 1140.6h10v3.1h-10zM686 1140.6h29.4v3.1h-29.4zM724.8 1140.6h29.4v3.1h-29.4zM763.5 1140.6h19.7v3.1h-19.7zM792.6 1140.6h39.1v3.1h-39.1zM860.4 1140.6h10v3.1h-10zM889.5 1140.6h10v3.1h-10zM908.9 1140.6h10v3.1h-10zM938 1140.6h19.7v3.1h-19.7zM308.1 1137.9h39.1v3.1h-39.1zM356.6 1137.9h136v3.1h-136zM501.9 1137.9h10v3.1h-10zM521.3 1137.9h87.5v3.1h-87.5zM618.2 1137.9h19.7v3.1h-19.7zM657 1137.9h10v3.1h-10zM676.3 1137.9h10v3.1h-10zM695.7 1137.9h10v3.1h-10zM715.1 1137.9h48.7v3.1h-48.7zM782.9 1137.9h48.7v3.1h-48.7zM841.1 1137.9h19.7v3.1h-19.7zM889.5 1137.9h10v3.1h-10zM908.9 1137.9h10v3.1h-10zM1054.2 1137.9h19.7v3.1h-19.7zM298.4 1135.1h29.4v3.1h-29.4zM346.9 1135.1h10v3.1h-10zM366.3 1135.1h19.7v3.1h-19.7zM395.3 1135.1h10v3.1h-10zM434.1 1135.1h19.7v3.1h-19.7zM492.2 1135.1h19.7v3.1h-19.7zM521.3 1135.1h68.1v3.1h-68.1zM598.8 1135.1h29.4v3.1h-29.4zM637.6 1135.1h10v3.1h-10zM666.6 1135.1h10v3.1h-10zM686 1135.1h10v3.1h-10zM705.4 1135.1h10v3.1h-10zM841.1 1135.1h10v3.1h-10zM860.4 1135.1h10v3.1h-10zM879.8 1135.1h10v3.1h-10zM327.5 1132.4h19.7v3.1h-19.7zM366.3 1132.4h10v3.1h-10zM395.3 1132.4h10v3.1h-10zM434.1 1132.4h29.4v3.1h-29.4zM472.9 1132.4h10v3.1h-10zM501.9 1132.4h10v3.1h-10zM540.7 1132.4h10v3.1h-10zM569.8 1132.4h10v3.1h-10zM608.5 1132.4h10v3.1h-10zM676.3 1132.4h19.7v3.1h-19.7zM298.4 1129.6h10v3.1h-10zM356.6 1129.6h10v3.1h-10z"/><path fill="#0033cc" d="M288.7 1300.4h10v3.1h-10zM298.4 1297.6h19.7v3.1h-19.7zM337.2 1297.6h10v3.1h-10zM376 1297.6h10v3.1h-10zM395.3 1297.6h10v3.1h-10zM434.1 1297.6h10v3.1h-10zM453.5 1297.6h29.4v3.1h-29.4zM492.2 1297.6h10v3.1h-10zM511.6 1297.6h19.7v3.1h-19.7zM540.7 1297.6h10v3.1h-10zM560.1 1297.6h29.4v3.1h-29.4zM618.2 1297.6h10v3.1h-10zM637.6 1297.6h19.7v3.1h-19.7zM695.7 1297.6h10v3.1h-10zM734.5 1297.6h10v3.1h-10zM753.9 1297.6h10v3.1h-10zM773.2 1297.6h10v3.1h-10zM531 1294.9h19.7v3.1h-19.7zM560.1 1294.9h10v3.1h-10zM627.9 1294.9h10v3.1h-10zM870.1 1292.1h10v3.1h-10zM279.1 1289.3h10v3.1h-10zM870.1 1289.3h10v3.1h-10zM870.1 1286.6h10v3.1h-10zM870.1 1281.1h10v3.1h-10zM870.1 1278.3h10v3.1h-10zM870.1 1275.6h10v3.1h-10zM647.3 1270.1h10v3.1h-10zM744.2 1270.1h10v3.1h-10zM763.5 1270.1h10v3.1h-10zM802.3 1270.1h10v3.1h-10zM860.4 1270.1h10v3.1h-10zM366.3 1267.3h10v3.1h-10zM385.6 1267.3h29.4v3.1h-29.4zM463.2 1267.3h19.7v3.1h-19.7zM492.2 1267.3h29.4v3.1h-29.4zM531 1267.3h10v3.1h-10zM550.4 1267.3h106.9v3.1h-106.9zM666.6 1267.3h48.7v3.1h-48.7zM734.5 1267.3h10v3.1h-10zM753.9 1267.3h10v3.1h-10zM773.2 1267.3h10v3.1h-10zM821.7 1267.3h29.4v3.1h-29.4zM298.4 1264.6h58.4v3.1h-58.4zM385.6 1264.6h10v3.1h-10zM424.4 1264.6h19.7v3.1h-19.7zM453.5 1264.6h19.7v3.1h-19.7zM482.5 1264.6h10v3.1h-10zM511.6 1264.6h10v3.1h-10zM550.4 1264.6h19.7v3.1h-19.7zM608.5 1264.6h10v3.1h-10zM657 1264.6h19.7v3.1h-19.7zM686 1264.6h19.7v3.1h-19.7zM724.8 1264.6h10v3.1h-10zM753.9 1264.6h19.7v3.1h-19.7zM792.6 1264.6h19.7v3.1h-19.7zM821.7 1264.6h29.4v3.1h-29.4zM346.9 1261.8h10v3.1h-10zM395.3 1261.8h10v3.1h-10zM453.5 1261.8h19.7v3.1h-19.7zM501.9 1261.8h10v3.1h-10zM647.3 1261.8h10v3.1h-10zM724.8 1261.8h10v3.1h-10zM744.2 1261.8h19.7v3.1h-19.7zM792.6 1261.8h10v3.1h-10zM288.7 1250.8h10v3.1h-10zM288.7 1248h10v3.1h-10zM288.7 1245.3h10v3.1h-10zM288.7 1242.5h10v3.1h-10zM288.7 1228.8h10v3.1h-10zM288.7 1226h10v3.1h-10zM288.7 1223.3h10v3.1h-10zM288.7 1220.5h10v3.1h-10zM288.7 1217.7h10v3.1h-10zM288.7 1212.2h10v3.1h-10zM288.7 1209.5h10v3.1h-10zM288.7 1204h10v3.1h-10zM356.6 1198.5h10v3.1h-10zM298.4 1195.7h136v3.1h-136zM443.8 1195.7h10v3.1h-10zM463.2 1195.7h116.6v3.1h-116.6zM589.1 1195.7h48.7v3.1h-48.7zM657 1195.7h19.7v3.1h-19.7zM686 1195.7h10v3.1h-10zM715.1 1195.7h10v3.1h-10zM734.5 1195.7h10v3.1h-10zM356.6 1193h29.4v3.1h-29.4zM424.4 1193h10v3.1h-10zM492.2 1193h10v3.1h-10zM531 1193h19.7v3.1h-19.7zM560.1 1193h10v3.1h-10zM589.1 1193h19.7v3.1h-19.7zM627.9 1193h19.7v3.1h-19.7zM676.3 1193h48.7v3.1h-48.7zM744.2 1193h10v3.1h-10zM763.5 1193h10v3.1h-10zM782.9 1193h10v3.1h-10zM802.3 1193h10v3.1h-10zM598.8 1190.2h10v3.1h-10zM637.6 1190.2h10v3.1h-10zM657 1190.2h10v3.1h-10zM676.3 1190.2h19.7v3.1h-19.7zM705.4 1190.2h58.4v3.1h-58.4zM773.2 1190.2h29.4v3.1h-29.4zM763.5 1187.5h19.7v3.1h-19.7zM792.6 1187.5h48.7v3.1h-48.7zM782.9 1184.7h48.7v3.1h-48.7zM850.8 1184.7h19.7v3.1h-19.7zM908.9 1184.7h19.7v3.1h-19.7zM279.1 1181.9h10v3.1h-10zM860.4 1181.9h87.5v3.1h-87.5zM957.3 1181.9h10v3.1h-10zM996.1 1181.9h10v3.1h-10zM1073.6 1181.9h10v3.1h-10zM279.1 1179.2h10v3.1h-10zM860.4 1179.2h10v3.1h-10zM889.5 1179.2h10v3.1h-10zM918.6 1179.2h29.4v3.1h-29.4zM957.3 1179.2h19.7v3.1h-19.7zM1005.8 1179.2h10v3.1h-10zM1025.2 1179.2h10v3.1h-10zM860.4 1176.4h10v3.1h-10zM879.8 1176.4h10v3.1h-10zM908.9 1176.4h106.9v3.1h-106.9zM1025.2 1176.4h19.7v3.1h-19.7zM918.6 1173.7h77.8v3.1h-77.8zM1005.8 1173.7h19.7v3.1h-19.7zM1034.9 1173.7h10v3.1h-10zM1054.2 1173.7h29.4v3.1h-29.4zM899.2 1170.9h10v3.1h-10zM938 1170.9h29.4v3.1h-29.4zM976.7 1170.9h19.7v3.1h-19.7zM1015.5 1170.9h19.7v3.1h-19.7zM1044.6 1170.9h39.1v3.1h-39.1zM947.7 1168.2h10v3.1h-10zM976.7 1168.2h19.7v3.1h-19.7zM1005.8 1168.2h48.7v3.1h-48.7zM1063.9 1168.2h19.7v3.1h-19.7zM947.7 1165.4h10v3.1h-10zM996.1 1165.4h29.4v3.1h-29.4zM1034.9 1165.4h10v3.1h-10zM1073.6 1165.4h10v3.1h-10zM279.1 1162.7h10v3.1h-10zM918.6 1162.7h19.7v3.1h-19.7zM957.3 1162.7h19.7v3.1h-19.7zM986.4 1162.7h10v3.1h-10zM1025.2 1162.7h10v3.1h-10zM1044.6 1162.7h39.1v3.1h-39.1zM279.1 1159.9h10v3.1h-10zM899.2 1159.9h10v3.1h-10zM918.6 1159.9h10v3.1h-10zM938 1159.9h19.7v3.1h-19.7zM967 1159.9h19.7v3.1h-19.7zM996.1 1159.9h19.7v3.1h-19.7zM1025.2 1159.9h10v3.1h-10zM1044.6 1159.9h10v3.1h-10zM279.1 1157.2h10v3.1h-10zM879.8 1157.2h19.7v3.1h-19.7zM908.9 1157.2h68.1v3.1h-68.1zM986.4 1157.2h58.4v3.1h-58.4zM279.1 1154.4h10v3.1h-10zM812 1154.4h19.7v3.1h-19.7zM841.1 1154.4h19.7v3.1h-19.7zM879.8 1154.4h39.1v3.1h-39.1zM938 1154.4h48.7v3.1h-48.7zM996.1 1154.4h39.1v3.1h-39.1zM1073.6 1154.4h10v3.1h-10zM734.5 1151.6h10v3.1h-10zM792.6 1151.6h10v3.1h-10zM812 1151.6h10v3.1h-10zM831.4 1151.6h87.5v3.1h-87.5zM947.7 1151.6h19.7v3.1h-19.7zM976.7 1151.6h10v3.1h-10zM1005.8 1151.6h10v3.1h-10zM666.6 1148.9h10v3.1h-10zM705.4 1148.9h10v3.1h-10zM724.8 1148.9h29.4v3.1h-29.4zM763.5 1148.9h10v3.1h-10zM792.6 1148.9h77.8v3.1h-77.8zM879.8 1148.9h10v3.1h-10zM928.3 1148.9h10v3.1h-10zM414.7 1146.1h10v3.1h-10zM443.8 1146.1h10v3.1h-10zM550.4 1146.1h10v3.1h-10zM579.4 1146.1h19.7v3.1h-19.7zM627.9 1146.1h10v3.1h-10zM657 1146.1h10v3.1h-10zM686 1146.1h10v3.1h-10zM705.4 1146.1h97.2v3.1h-97.2zM812 1146.1h19.7v3.1h-19.7zM850.8 1146.1h10v3.1h-10zM870.1 1146.1h19.7v3.1h-19.7zM899.2 1146.1h10v3.1h-10zM298.4 1143.4h10v3.1h-10zM317.8 1143.4h10v3.1h-10zM337.2 1143.4h10v3.1h-10zM356.6 1143.4h10v3.1h-10zM385.6 1143.4h10v3.1h-10zM405 1143.4h19.7v3.1h-19.7zM434.1 1143.4h10v3.1h-10zM453.5 1143.4h19.7v3.1h-19.7zM482.5 1143.4h10v3.1h-10zM501.9 1143.4h39.1v3.1h-39.1zM560.1 1143.4h10v3.1h-10zM579.4 1143.4h97.2v3.1h-97.2zM686 1143.4h19.7v3.1h-19.7zM715.1 1143.4h29.4v3.1h-29.4zM753.9 1143.4h29.4v3.1h-29.4zM812 1143.4h10v3.1h-10zM298.4 1140.6h19.7v3.1h-19.7zM327.5 1140.6h19.7v3.1h-19.7zM356.6 1140.6h39.1v3.1h-39.1zM405 1140.6h10v3.1h-10zM424.4 1140.6h10v3.1h-10zM443.8 1140.6h19.7v3.1h-19.7zM472.9 1140.6h10v3.1h-10zM501.9 1140.6h10v3.1h-10zM521.3 1140.6h10v3.1h-10zM540.7 1140.6h19.7v3.1h-19.7zM589.1 1140.6h77.8v3.1h-77.8zM676.3 1140.6h10v3.1h-10zM715.1 1140.6h10v3.1h-10zM298.4 1137.9h10v3.1h-10zM346.9 1137.9h10v3.1h-10zM492.2 1137.9h10v3.1h-10zM511.6 1137.9h10v3.1h-10zM608.5 1137.9h10v3.1h-10zM647.3 1137.9h10v3.1h-10zM686 1137.9h10v3.1h-10z"/><path fill="#004db2" d="M288.7 1297.6h10v3.1h-10zM414.7 1294.9h10v3.1h-10zM453.5 1294.9h77.8v3.1h-77.8zM550.4 1294.9h10v3.1h-10zM579.4 1294.9h19.7v3.1h-19.7zM608.5 1294.9h19.7v3.1h-19.7zM637.6 1294.9h19.7v3.1h-19.7zM666.6 1294.9h19.7v3.1h-19.7zM695.7 1294.9h19.7v3.1h-19.7zM724.8 1294.9h97.2v3.1h-97.2zM831.4 1294.9h29.4v3.1h-29.4zM724.8 1292.1h10v3.1h-10zM831.4 1292.1h10v3.1h-10zM860.4 1292.1h10v3.1h-10zM279.1 1286.6h10v3.1h-10zM870.1 1283.8h10v3.1h-10zM279.1 1278.3h10v3.1h-10zM279.1 1275.6h10v3.1h-10zM841.1 1272.8h10v3.1h-10zM860.4 1272.8h10v3.1h-10zM337.2 1270.1h10v3.1h-10zM376 1270.1h10v3.1h-10zM463.2 1270.1h29.4v3.1h-29.4zM521.3 1270.1h106.9v3.1h-106.9zM637.6 1270.1h10v3.1h-10zM657 1270.1h10v3.1h-10zM686 1270.1h58.4v3.1h-58.4zM773.2 1270.1h10v3.1h-10zM792.6 1270.1h10v3.1h-10zM812 1270.1h10v3.1h-10zM831.4 1270.1h29.4v3.1h-29.4zM298.4 1267.3h68.1v3.1h-68.1zM376 1267.3h10v3.1h-10zM414.7 1267.3h48.7v3.1h-48.7zM482.5 1267.3h10v3.1h-10zM521.3 1267.3h10v3.1h-10zM540.7 1267.3h10v3.1h-10zM657 1267.3h10v3.1h-10zM715.1 1267.3h19.7v3.1h-19.7zM744.2 1267.3h10v3.1h-10zM763.5 1267.3h10v3.1h-10zM782.9 1267.3h39.1v3.1h-39.1zM288.7 1261.8h10v3.1h-10zM288.7 1259.1h10v3.1h-10zM288.7 1256.3h10v3.1h-10zM288.7 1253.5h10v3.1h-10zM288.7 1206.7h10v3.1h-10zM288.7 1201.2h10v3.1h-10zM288.7 1198.5h10v3.1h-10zM298.4 1193h48.7v3.1h-48.7zM385.6 1193h39.1v3.1h-39.1zM434.1 1193h58.4v3.1h-58.4zM501.9 1193h29.4v3.1h-29.4zM550.4 1193h10v3.1h-10zM569.8 1193h19.7v3.1h-19.7zM608.5 1193h19.7v3.1h-19.7zM647.3 1193h29.4v3.1h-29.4zM395.3 1190.2h39.1v3.1h-39.1zM443.8 1190.2h19.7v3.1h-19.7zM472.9 1190.2h39.1v3.1h-39.1zM521.3 1190.2h29.4v3.1h-29.4zM560.1 1190.2h39.1v3.1h-39.1zM608.5 1190.2h29.4v3.1h-29.4zM647.3 1190.2h10v3.1h-10zM666.6 1190.2h10v3.1h-10zM695.7 1190.2h10v3.1h-10zM511.6 1187.5h29.4v3.1h-29.4zM589.1 1187.5h87.5v3.1h-87.5zM686 1187.5h77.8v3.1h-77.8zM782.9 1187.5h10v3.1h-10zM666.6 1184.7h19.7v3.1h-19.7zM705.4 1184.7h10v3.1h-10zM724.8 1184.7h19.7v3.1h-19.7zM753.9 1184.7h29.4v3.1h-29.4zM831.4 1184.7h19.7v3.1h-19.7zM763.5 1181.9h29.4v3.1h-29.4zM812 1181.9h48.7v3.1h-48.7zM802.3 1179.2h19.7v3.1h-19.7zM831.4 1179.2h29.4v3.1h-29.4zM870.1 1179.2h19.7v3.1h-19.7zM908.9 1179.2h10v3.1h-10zM279.1 1176.4h10v3.1h-10zM812 1176.4h29.4v3.1h-29.4zM850.8 1176.4h10v3.1h-10zM870.1 1176.4h10v3.1h-10zM889.5 1176.4h19.7v3.1h-19.7zM279.1 1173.7h10v3.1h-10zM812 1173.7h29.4v3.1h-29.4zM850.8 1173.7h68.1v3.1h-68.1zM279.1 1170.9h10v3.1h-10zM870.1 1170.9h29.4v3.1h-29.4zM908.9 1170.9h29.4v3.1h-29.4zM967 1170.9h10v3.1h-10zM996.1 1170.9h19.7v3.1h-19.7zM850.8 1168.2h39.1v3.1h-39.1zM899.2 1168.2h48.7v3.1h-48.7zM957.3 1168.2h19.7v3.1h-19.7zM996.1 1168.2h10v3.1h-10zM1054.2 1168.2h10v3.1h-10zM279.1 1165.4h10v3.1h-10zM841.1 1165.4h19.7v3.1h-19.7zM879.8 1165.4h68.1v3.1h-68.1zM957.3 1165.4h39.1v3.1h-39.1zM1025.2 1165.4h10v3.1h-10zM1044.6 1165.4h29.4v3.1h-29.4zM831.4 1162.7h10v3.1h-10zM860.4 1162.7h58.4v3.1h-58.4zM938 1162.7h19.7v3.1h-19.7zM976.7 1162.7h10v3.1h-10zM996.1 1162.7h29.4v3.1h-29.4zM1034.9 1162.7h10v3.1h-10zM802.3 1159.9h39.1v3.1h-39.1zM850.8 1159.9h48.7v3.1h-48.7zM908.9 1159.9h10v3.1h-10zM928.3 1159.9h10v3.1h-10zM957.3 1159.9h10v3.1h-10zM986.4 1159.9h10v3.1h-10zM1015.5 1159.9h10v3.1h-10zM1054.2 1159.9h29.4v3.1h-29.4zM812 1157.2h68.1v3.1h-68.1zM899.2 1157.2h10v3.1h-10zM695.7 1154.4h19.7v3.1h-19.7zM734.5 1154.4h10v3.1h-10zM753.9 1154.4h10v3.1h-10zM782.9 1154.4h29.4v3.1h-29.4zM831.4 1154.4h10v3.1h-10zM860.4 1154.4h19.7v3.1h-19.7zM918.6 1154.4h10v3.1h-10zM501.9 1151.6h10v3.1h-10zM550.4 1151.6h10v3.1h-10zM569.8 1151.6h19.7v3.1h-19.7zM618.2 1151.6h10v3.1h-10zM666.6 1151.6h19.7v3.1h-19.7zM724.8 1151.6h10v3.1h-10zM744.2 1151.6h10v3.1h-10zM763.5 1151.6h29.4v3.1h-29.4zM802.3 1151.6h10v3.1h-10zM821.7 1151.6h10v3.1h-10zM414.7 1148.9h10v3.1h-10zM443.8 1148.9h10v3.1h-10zM463.2 1148.9h29.4v3.1h-29.4zM531 1148.9h48.7v3.1h-48.7zM589.1 1148.9h77.8v3.1h-77.8zM676.3 1148.9h29.4v3.1h-29.4zM715.1 1148.9h10v3.1h-10zM753.9 1148.9h10v3.1h-10zM773.2 1148.9h19.7v3.1h-19.7zM308.1 1146.1h39.1v3.1h-39.1zM366.3 1146.1h48.7v3.1h-48.7zM424.4 1146.1h19.7v3.1h-19.7zM453.5 1146.1h97.2v3.1h-97.2zM560.1 1146.1h19.7v3.1h-19.7zM598.8 1146.1h29.4v3.1h-29.4zM637.6 1146.1h19.7v3.1h-19.7zM666.6 1146.1h19.7v3.1h-19.7zM695.7 1146.1h10v3.1h-10zM308.1 1143.4h10v3.1h-10zM327.5 1143.4h10v3.1h-10zM346.9 1143.4h10v3.1h-10zM366.3 1143.4h19.7v3.1h-19.7zM395.3 1143.4h10v3.1h-10zM424.4 1143.4h10v3.1h-10zM443.8 1143.4h10v3.1h-10zM472.9 1143.4h10v3.1h-10zM492.2 1143.4h10v3.1h-10zM550.4 1143.4h10v3.1h-10zM569.8 1143.4h10v3.1h-10zM288.7 1137.9h10v3.1h-10zM288.7 1135.1h10v3.1h-10zM288.7 1132.4h10v3.1h-10z"/><path fill="#006699" d="M298.4 1294.9h116.6v3.1h-116.6zM424.4 1294.9h29.4v3.1h-29.4zM569.8 1294.9h10v3.1h-10zM598.8 1294.9h10v3.1h-10zM657 1294.9h10v3.1h-10zM686 1294.9h10v3.1h-10zM715.1 1294.9h10v3.1h-10zM821.7 1294.9h10v3.1h-10zM443.8 1292.1h10v3.1h-10zM463.2 1292.1h19.7v3.1h-19.7zM492.2 1292.1h29.4v3.1h-29.4zM531 1292.1h10v3.1h-10zM550.4 1292.1h10v3.1h-10zM569.8 1292.1h29.4v3.1h-29.4zM608.5 1292.1h19.7v3.1h-19.7zM637.6 1292.1h29.4v3.1h-29.4zM676.3 1292.1h10v3.1h-10zM695.7 1292.1h29.4v3.1h-29.4zM744.2 1292.1h48.7v3.1h-48.7zM802.3 1292.1h19.7v3.1h-19.7zM841.1 1292.1h19.7v3.1h-19.7zM860.4 1289.3h10v3.1h-10zM860.4 1286.6h10v3.1h-10zM279.1 1283.8h10v3.1h-10zM279.1 1281.1h10v3.1h-10zM860.4 1278.3h10v3.1h-10zM860.4 1275.6h10v3.1h-10zM424.4 1272.8h10v3.1h-10zM482.5 1272.8h29.4v3.1h-29.4zM521.3 1272.8h19.7v3.1h-19.7zM550.4 1272.8h48.7v3.1h-48.7zM608.5 1272.8h19.7v3.1h-19.7zM637.6 1272.8h19.7v3.1h-19.7zM666.6 1272.8h10v3.1h-10zM686 1272.8h10v3.1h-10zM705.4 1272.8h136v3.1h-136zM850.8 1272.8h10v3.1h-10zM298.4 1270.1h29.4v3.1h-29.4zM346.9 1270.1h29.4v3.1h-29.4zM385.6 1270.1h77.8v3.1h-77.8zM492.2 1270.1h29.4v3.1h-29.4zM627.9 1270.1h10v3.1h-10zM666.6 1270.1h19.7v3.1h-19.7zM753.9 1270.1h10v3.1h-10zM782.9 1270.1h10v3.1h-10zM821.7 1270.1h10v3.1h-10zM288.7 1264.6h10v3.1h-10zM288.7 1195.7h10v3.1h-10zM346.9 1193h10v3.1h-10zM308.1 1190.2h10v3.1h-10zM327.5 1190.2h68.1v3.1h-68.1zM434.1 1190.2h10v3.1h-10zM463.2 1190.2h10v3.1h-10zM511.6 1190.2h10v3.1h-10zM550.4 1190.2h10v3.1h-10zM356.6 1187.5h19.7v3.1h-19.7zM385.6 1187.5h10v3.1h-10zM434.1 1187.5h19.7v3.1h-19.7zM463.2 1187.5h48.7v3.1h-48.7zM540.7 1187.5h48.7v3.1h-48.7zM676.3 1187.5h10v3.1h-10zM463.2 1184.7h10v3.1h-10zM482.5 1184.7h29.4v3.1h-29.4zM521.3 1184.7h10v3.1h-10zM550.4 1184.7h10v3.1h-10zM569.8 1184.7h19.7v3.1h-19.7zM598.8 1184.7h10v3.1h-10zM618.2 1184.7h19.7v3.1h-19.7zM647.3 1184.7h19.7v3.1h-19.7zM686 1184.7h19.7v3.1h-19.7zM715.1 1184.7h10v3.1h-10zM744.2 1184.7h10v3.1h-10zM531 1181.9h10v3.1h-10zM560.1 1181.9h10v3.1h-10zM608.5 1181.9h10v3.1h-10zM647.3 1181.9h10v3.1h-10zM676.3 1181.9h19.7v3.1h-19.7zM715.1 1181.9h10v3.1h-10zM734.5 1181.9h29.4v3.1h-29.4zM792.6 1181.9h19.7v3.1h-19.7zM676.3 1179.2h10v3.1h-10zM744.2 1179.2h58.4v3.1h-58.4zM821.7 1179.2h10v3.1h-10zM753.9 1176.4h10v3.1h-10zM773.2 1176.4h39.1v3.1h-39.1zM841.1 1176.4h10v3.1h-10zM744.2 1173.7h68.1v3.1h-68.1zM841.1 1173.7h10v3.1h-10zM734.5 1170.9h10v3.1h-10zM773.2 1170.9h97.2v3.1h-97.2zM279.1 1168.2h10v3.1h-10zM734.5 1168.2h116.6v3.1h-116.6zM889.5 1168.2h10v3.1h-10zM734.5 1165.4h19.7v3.1h-19.7zM773.2 1165.4h68.1v3.1h-68.1zM860.4 1165.4h19.7v3.1h-19.7zM695.7 1162.7h10v3.1h-10zM744.2 1162.7h19.7v3.1h-19.7zM773.2 1162.7h10v3.1h-10zM792.6 1162.7h39.1v3.1h-39.1zM841.1 1162.7h19.7v3.1h-19.7zM686 1159.9h19.7v3.1h-19.7zM715.1 1159.9h10v3.1h-10zM734.5 1159.9h68.1v3.1h-68.1zM841.1 1159.9h10v3.1h-10zM550.4 1157.2h19.7v3.1h-19.7zM608.5 1157.2h10v3.1h-10zM627.9 1157.2h10v3.1h-10zM657 1157.2h10v3.1h-10zM676.3 1157.2h19.7v3.1h-19.7zM705.4 1157.2h106.9v3.1h-106.9zM482.5 1154.4h10v3.1h-10zM501.9 1154.4h10v3.1h-10zM521.3 1154.4h19.7v3.1h-19.7zM550.4 1154.4h10v3.1h-10zM569.8 1154.4h19.7v3.1h-19.7zM598.8 1154.4h97.2v3.1h-97.2zM715.1 1154.4h19.7v3.1h-19.7zM744.2 1154.4h10v3.1h-10zM763.5 1154.4h19.7v3.1h-19.7zM366.3 1151.6h10v3.1h-10zM405 1151.6h10v3.1h-10zM424.4 1151.6h10v3.1h-10zM443.8 1151.6h39.1v3.1h-39.1zM492.2 1151.6h10v3.1h-10zM511.6 1151.6h39.1v3.1h-39.1zM560.1 1151.6h10v3.1h-10zM589.1 1151.6h29.4v3.1h-29.4zM627.9 1151.6h39.1v3.1h-39.1zM686 1151.6h39.1v3.1h-39.1zM753.9 1151.6h10v3.1h-10zM298.4 1148.9h39.1v3.1h-39.1zM346.9 1148.9h68.1v3.1h-68.1zM424.4 1148.9h19.7v3.1h-19.7zM453.5 1148.9h10v3.1h-10zM492.2 1148.9h39.1v3.1h-39.1zM579.4 1148.9h10v3.1h-10zM298.4 1146.1h10v3.1h-10zM346.9 1146.1h19.7v3.1h-19.7zM288.7 1140.6h10v3.1h-10z"/><path fill="#008080" d="M298.4 1292.1h10v3.1h-10zM346.9 1292.1h19.7v3.1h-19.7zM376 1292.1h19.7v3.1h-19.7zM405 1292.1h39.1v3.1h-39.1zM453.5 1292.1h10v3.1h-10zM482.5 1292.1h10v3.1h-10zM521.3 1292.1h10v3.1h-10zM540.7 1292.1h10v3.1h-10zM560.1 1292.1h10v3.1h-10zM598.8 1292.1h10v3.1h-10zM627.9 1292.1h10v3.1h-10zM666.6 1292.1h10v3.1h-10zM686 1292.1h10v3.1h-10zM734.5 1292.1h10v3.1h-10zM792.6 1292.1h10v3.1h-10zM821.7 1292.1h10v3.1h-10zM472.9 1289.3h10v3.1h-10zM521.3 1289.3h10v3.1h-10zM550.4 1289.3h19.7v3.1h-19.7zM579.4 1289.3h97.2v3.1h-97.2zM686 1289.3h10v3.1h-10zM705.4 1289.3h39.1v3.1h-39.1zM763.5 1289.3h48.7v3.1h-48.7zM821.7 1289.3h19.7v3.1h-19.7zM511.6 1286.6h10v3.1h-10zM531 1286.6h29.4v3.1h-29.4zM569.8 1286.6h19.7v3.1h-19.7zM618.2 1286.6h19.7v3.1h-19.7zM657 1286.6h19.7v3.1h-19.7zM724.8 1286.6h10v3.1h-10zM744.2 1286.6h19.7v3.1h-19.7zM773.2 1286.6h10v3.1h-10zM802.3 1286.6h58.4v3.1h-58.4zM569.8 1283.8h10v3.1h-10zM850.8 1283.8h19.7v3.1h-19.7zM560.1 1281.1h10v3.1h-10zM753.9 1281.1h10v3.1h-10zM860.4 1281.1h10v3.1h-10zM531 1278.3h10v3.1h-10zM589.1 1278.3h29.4v3.1h-29.4zM627.9 1278.3h10v3.1h-10zM686 1278.3h19.7v3.1h-19.7zM715.1 1278.3h10v3.1h-10zM773.2 1278.3h10v3.1h-10zM821.7 1278.3h29.4v3.1h-29.4zM511.6 1275.6h19.7v3.1h-19.7zM540.7 1275.6h10v3.1h-10zM560.1 1275.6h10v3.1h-10zM579.4 1275.6h10v3.1h-10zM598.8 1275.6h10v3.1h-10zM627.9 1275.6h29.4v3.1h-29.4zM676.3 1275.6h10v3.1h-10zM705.4 1275.6h48.7v3.1h-48.7zM763.5 1275.6h10v3.1h-10zM782.9 1275.6h29.4v3.1h-29.4zM821.7 1275.6h39.1v3.1h-39.1zM298.4 1272.8h10v3.1h-10zM337.2 1272.8h10v3.1h-10zM356.6 1272.8h29.4v3.1h-29.4zM395.3 1272.8h29.4v3.1h-29.4zM434.1 1272.8h48.7v3.1h-48.7zM511.6 1272.8h10v3.1h-10zM540.7 1272.8h10v3.1h-10zM598.8 1272.8h10v3.1h-10zM627.9 1272.8h10v3.1h-10zM657 1272.8h10v3.1h-10zM676.3 1272.8h10v3.1h-10zM695.7 1272.8h10v3.1h-10zM327.5 1270.1h10v3.1h-10zM288.7 1267.3h10v3.1h-10zM288.7 1193h10v3.1h-10zM298.4 1190.2h10v3.1h-10zM317.8 1190.2h10v3.1h-10zM308.1 1187.5h48.7v3.1h-48.7zM376 1187.5h10v3.1h-10zM395.3 1187.5h39.1v3.1h-39.1zM453.5 1187.5h10v3.1h-10zM376 1184.7h39.1v3.1h-39.1zM424.4 1184.7h10v3.1h-10zM443.8 1184.7h19.7v3.1h-19.7zM472.9 1184.7h10v3.1h-10zM511.6 1184.7h10v3.1h-10zM531 1184.7h19.7v3.1h-19.7zM560.1 1184.7h10v3.1h-10zM589.1 1184.7h10v3.1h-10zM608.5 1184.7h10v3.1h-10zM637.6 1184.7h10v3.1h-10zM472.9 1181.9h10v3.1h-10zM492.2 1181.9h29.4v3.1h-29.4zM540.7 1181.9h19.7v3.1h-19.7zM569.8 1181.9h39.1v3.1h-39.1zM618.2 1181.9h29.4v3.1h-29.4zM657 1181.9h19.7v3.1h-19.7zM695.7 1181.9h19.7v3.1h-19.7zM724.8 1181.9h10v3.1h-10zM463.2 1179.2h10v3.1h-10zM492.2 1179.2h10v3.1h-10zM521.3 1179.2h19.7v3.1h-19.7zM550.4 1179.2h10v3.1h-10zM569.8 1179.2h10v3.1h-10zM589.1 1179.2h10v3.1h-10zM618.2 1179.2h39.1v3.1h-39.1zM666.6 1179.2h10v3.1h-10zM686 1179.2h58.4v3.1h-58.4zM492.2 1176.4h10v3.1h-10zM531 1176.4h10v3.1h-10zM569.8 1176.4h10v3.1h-10zM589.1 1176.4h48.7v3.1h-48.7zM657 1176.4h97.2v3.1h-97.2zM763.5 1176.4h10v3.1h-10zM492.2 1173.7h10v3.1h-10zM569.8 1173.7h10v3.1h-10zM608.5 1173.7h68.1v3.1h-68.1zM686 1173.7h58.4v3.1h-58.4zM560.1 1170.9h10v3.1h-10zM627.9 1170.9h19.7v3.1h-19.7zM676.3 1170.9h29.4v3.1h-29.4zM715.1 1170.9h19.7v3.1h-19.7zM744.2 1170.9h29.4v3.1h-29.4zM521.3 1168.2h19.7v3.1h-19.7zM560.1 1168.2h10v3.1h-10zM598.8 1168.2h19.7v3.1h-19.7zM627.9 1168.2h10v3.1h-10zM676.3 1168.2h10v3.1h-10zM715.1 1168.2h19.7v3.1h-19.7zM501.9 1165.4h19.7v3.1h-19.7zM531 1165.4h10v3.1h-10zM560.1 1165.4h39.1v3.1h-39.1zM618.2 1165.4h10v3.1h-10zM637.6 1165.4h19.7v3.1h-19.7zM666.6 1165.4h68.1v3.1h-68.1zM753.9 1165.4h19.7v3.1h-19.7zM501.9 1162.7h29.4v3.1h-29.4zM540.7 1162.7h19.7v3.1h-19.7zM569.8 1162.7h10v3.1h-10zM589.1 1162.7h10v3.1h-10zM608.5 1162.7h29.4v3.1h-29.4zM647.3 1162.7h29.4v3.1h-29.4zM686 1162.7h10v3.1h-10zM705.4 1162.7h39.1v3.1h-39.1zM763.5 1162.7h10v3.1h-10zM782.9 1162.7h10v3.1h-10zM472.9 1159.9h10v3.1h-10zM501.9 1159.9h39.1v3.1h-39.1zM550.4 1159.9h29.4v3.1h-29.4zM589.1 1159.9h19.7v3.1h-19.7zM618.2 1159.9h48.7v3.1h-48.7zM676.3 1159.9h10v3.1h-10zM705.4 1159.9h10v3.1h-10zM724.8 1159.9h10v3.1h-10zM443.8 1157.2h19.7v3.1h-19.7zM492.2 1157.2h29.4v3.1h-29.4zM569.8 1157.2h39.1v3.1h-39.1zM618.2 1157.2h10v3.1h-10zM637.6 1157.2h19.7v3.1h-19.7zM666.6 1157.2h10v3.1h-10zM695.7 1157.2h10v3.1h-10zM376 1154.4h10v3.1h-10zM395.3 1154.4h10v3.1h-10zM414.7 1154.4h68.1v3.1h-68.1zM492.2 1154.4h10v3.1h-10zM511.6 1154.4h10v3.1h-10zM540.7 1154.4h10v3.1h-10zM560.1 1154.4h10v3.1h-10zM589.1 1154.4h10v3.1h-10zM298.4 1151.6h19.7v3.1h-19.7zM327.5 1151.6h39.1v3.1h-39.1zM376 1151.6h29.4v3.1h-29.4zM414.7 1151.6h10v3.1h-10zM434.1 1151.6h10v3.1h-10zM482.5 1151.6h10v3.1h-10zM337.2 1148.9h10v3.1h-10zM288.7 1143.4h10v3.1h-10z"/><path fill="#009966" d="M288.7 1294.9h10v3.1h-10zM308.1 1292.1h39.1v3.1h-39.1zM366.3 1292.1h10v3.1h-10zM395.3 1292.1h10v3.1h-10zM385.6 1289.3h10v3.1h-10zM405 1289.3h10v3.1h-10zM424.4 1289.3h48.7v3.1h-48.7zM482.5 1289.3h39.1v3.1h-39.1zM531 1289.3h19.7v3.1h-19.7zM569.8 1289.3h10v3.1h-10zM676.3 1289.3h10v3.1h-10zM695.7 1289.3h10v3.1h-10zM744.2 1289.3h19.7v3.1h-19.7zM812 1289.3h10v3.1h-10zM841.1 1289.3h19.7v3.1h-19.7zM424.4 1286.6h19.7v3.1h-19.7zM453.5 1286.6h10v3.1h-10zM472.9 1286.6h39.1v3.1h-39.1zM521.3 1286.6h10v3.1h-10zM560.1 1286.6h10v3.1h-10zM589.1 1286.6h29.4v3.1h-29.4zM637.6 1286.6h19.7v3.1h-19.7zM676.3 1286.6h48.7v3.1h-48.7zM734.5 1286.6h10v3.1h-10zM763.5 1286.6h10v3.1h-10zM782.9 1286.6h19.7v3.1h-19.7zM463.2 1283.8h19.7v3.1h-19.7zM501.9 1283.8h19.7v3.1h-19.7zM531 1283.8h19.7v3.1h-19.7zM560.1 1283.8h10v3.1h-10zM579.4 1283.8h39.1v3.1h-39.1zM627.9 1283.8h19.7v3.1h-19.7zM666.6 1283.8h19.7v3.1h-19.7zM705.4 1283.8h68.1v3.1h-68.1zM802.3 1283.8h48.7v3.1h-48.7zM453.5 1281.1h10v3.1h-10zM472.9 1281.1h10v3.1h-10zM521.3 1281.1h39.1v3.1h-39.1zM569.8 1281.1h29.4v3.1h-29.4zM608.5 1281.1h39.1v3.1h-39.1zM657 1281.1h10v3.1h-10zM676.3 1281.1h19.7v3.1h-19.7zM705.4 1281.1h48.7v3.1h-48.7zM763.5 1281.1h97.2v3.1h-97.2zM395.3 1278.3h10v3.1h-10zM453.5 1278.3h10v3.1h-10zM482.5 1278.3h48.7v3.1h-48.7zM540.7 1278.3h48.7v3.1h-48.7zM618.2 1278.3h10v3.1h-10zM637.6 1278.3h48.7v3.1h-48.7zM705.4 1278.3h10v3.1h-10zM724.8 1278.3h48.7v3.1h-48.7zM782.9 1278.3h39.1v3.1h-39.1zM850.8 1278.3h10v3.1h-10zM366.3 1275.6h10v3.1h-10zM424.4 1275.6h19.7v3.1h-19.7zM453.5 1275.6h58.4v3.1h-58.4zM531 1275.6h10v3.1h-10zM550.4 1275.6h10v3.1h-10zM569.8 1275.6h10v3.1h-10zM589.1 1275.6h10v3.1h-10zM608.5 1275.6h19.7v3.1h-19.7zM657 1275.6h19.7v3.1h-19.7zM686 1275.6h19.7v3.1h-19.7zM753.9 1275.6h10v3.1h-10zM773.2 1275.6h10v3.1h-10zM812 1275.6h10v3.1h-10zM308.1 1272.8h29.4v3.1h-29.4zM346.9 1272.8h10v3.1h-10zM385.6 1272.8h10v3.1h-10zM288.7 1270.1h10v3.1h-10zM288.7 1190.2h10v3.1h-10zM298.4 1187.5h10v3.1h-10zM298.4 1184.7h10v3.1h-10zM337.2 1184.7h39.1v3.1h-39.1zM414.7 1184.7h10v3.1h-10zM434.1 1184.7h10v3.1h-10zM346.9 1181.9h126.3v3.1h-126.3zM482.5 1181.9h10v3.1h-10zM521.3 1181.9h10v3.1h-10zM414.7 1179.2h10v3.1h-10zM434.1 1179.2h29.4v3.1h-29.4zM472.9 1179.2h19.7v3.1h-19.7zM501.9 1179.2h19.7v3.1h-19.7zM540.7 1179.2h10v3.1h-10zM560.1 1179.2h10v3.1h-10zM579.4 1179.2h10v3.1h-10zM598.8 1179.2h19.7v3.1h-19.7zM657 1179.2h10v3.1h-10zM385.6 1176.4h10v3.1h-10zM424.4 1176.4h10v3.1h-10zM443.8 1176.4h19.7v3.1h-19.7zM472.9 1176.4h19.7v3.1h-19.7zM501.9 1176.4h29.4v3.1h-29.4zM540.7 1176.4h29.4v3.1h-29.4zM579.4 1176.4h10v3.1h-10zM637.6 1176.4h19.7v3.1h-19.7zM434.1 1173.7h19.7v3.1h-19.7zM463.2 1173.7h10v3.1h-10zM511.6 1173.7h58.4v3.1h-58.4zM579.4 1173.7h29.4v3.1h-29.4zM676.3 1173.7h10v3.1h-10zM472.9 1170.9h19.7v3.1h-19.7zM501.9 1170.9h19.7v3.1h-19.7zM531 1170.9h29.4v3.1h-29.4zM569.8 1170.9h58.4v3.1h-58.4zM647.3 1170.9h29.4v3.1h-29.4zM705.4 1170.9h10v3.1h-10zM453.5 1168.2h19.7v3.1h-19.7zM492.2 1168.2h29.4v3.1h-29.4zM540.7 1168.2h19.7v3.1h-19.7zM569.8 1168.2h29.4v3.1h-29.4zM618.2 1168.2h10v3.1h-10zM637.6 1168.2h39.1v3.1h-39.1zM686 1168.2h29.4v3.1h-29.4zM434.1 1165.4h10v3.1h-10zM472.9 1165.4h10v3.1h-10zM492.2 1165.4h10v3.1h-10zM521.3 1165.4h10v3.1h-10zM540.7 1165.4h19.7v3.1h-19.7zM598.8 1165.4h19.7v3.1h-19.7zM627.9 1165.4h10v3.1h-10zM657 1165.4h10v3.1h-10zM443.8 1162.7h39.1v3.1h-39.1zM492.2 1162.7h10v3.1h-10zM531 1162.7h10v3.1h-10zM560.1 1162.7h10v3.1h-10zM579.4 1162.7h10v3.1h-10zM598.8 1162.7h10v3.1h-10zM637.6 1162.7h10v3.1h-10zM676.3 1162.7h10v3.1h-10zM376 1159.9h19.7v3.1h-19.7zM424.4 1159.9h10v3.1h-10zM443.8 1159.9h29.4v3.1h-29.4zM482.5 1159.9h19.7v3.1h-19.7zM540.7 1159.9h10v3.1h-10zM579.4 1159.9h10v3.1h-10zM608.5 1159.9h10v3.1h-10zM666.6 1159.9h10v3.1h-10zM346.9 1157.2h10v3.1h-10zM395.3 1157.2h10v3.1h-10zM414.7 1157.2h29.4v3.1h-29.4zM463.2 1157.2h29.4v3.1h-29.4zM521.3 1157.2h29.4v3.1h-29.4zM298.4 1154.4h48.7v3.1h-48.7zM356.6 1154.4h19.7v3.1h-19.7zM385.6 1154.4h10v3.1h-10zM405 1154.4h10v3.1h-10zM317.8 1151.6h10v3.1h-10zM288.7 1148.9h10v3.1h-10zM288.7 1146.1h10v3.1h-10z"/><path fill="#00b34c" d="M298.4 1289.3h19.7v3.1h-19.7zM327.5 1289.3h10v3.1h-10zM346.9 1289.3h39.1v3.1h-39.1zM395.3 1289.3h10v3.1h-10zM414.7 1289.3h10v3.1h-10zM385.6 1286.6h39.1v3.1h-39.1zM443.8 1286.6h10v3.1h-10zM463.2 1286.6h10v3.1h-10zM376 1283.8h19.7v3.1h-19.7zM424.4 1283.8h39.1v3.1h-39.1zM482.5 1283.8h19.7v3.1h-19.7zM521.3 1283.8h10v3.1h-10zM550.4 1283.8h10v3.1h-10zM618.2 1283.8h10v3.1h-10zM647.3 1283.8h19.7v3.1h-19.7zM686 1283.8h19.7v3.1h-19.7zM773.2 1283.8h29.4v3.1h-29.4zM376 1281.1h10v3.1h-10zM414.7 1281.1h39.1v3.1h-39.1zM463.2 1281.1h10v3.1h-10zM482.5 1281.1h39.1v3.1h-39.1zM598.8 1281.1h10v3.1h-10zM647.3 1281.1h10v3.1h-10zM666.6 1281.1h10v3.1h-10zM695.7 1281.1h10v3.1h-10zM308.1 1278.3h29.4v3.1h-29.4zM356.6 1278.3h10v3.1h-10zM376 1278.3h19.7v3.1h-19.7zM405 1278.3h48.7v3.1h-48.7zM463.2 1278.3h19.7v3.1h-19.7zM298.4 1275.6h19.7v3.1h-19.7zM337.2 1275.6h19.7v3.1h-19.7zM376 1275.6h48.7v3.1h-48.7zM443.8 1275.6h10v3.1h-10zM288.7 1187.5h10v3.1h-10zM308.1 1184.7h29.4v3.1h-29.4zM298.4 1181.9h29.4v3.1h-29.4zM337.2 1181.9h10v3.1h-10zM308.1 1179.2h19.7v3.1h-19.7zM337.2 1179.2h19.7v3.1h-19.7zM366.3 1179.2h48.7v3.1h-48.7zM424.4 1179.2h10v3.1h-10zM298.4 1176.4h19.7v3.1h-19.7zM346.9 1176.4h29.4v3.1h-29.4zM395.3 1176.4h29.4v3.1h-29.4zM434.1 1176.4h10v3.1h-10zM463.2 1176.4h10v3.1h-10zM298.4 1173.7h10v3.1h-10zM356.6 1173.7h29.4v3.1h-29.4zM414.7 1173.7h19.7v3.1h-19.7zM453.5 1173.7h10v3.1h-10zM472.9 1173.7h19.7v3.1h-19.7zM501.9 1173.7h10v3.1h-10zM337.2 1170.9h29.4v3.1h-29.4zM376 1170.9h97.2v3.1h-97.2zM492.2 1170.9h10v3.1h-10zM521.3 1170.9h10v3.1h-10zM385.6 1168.2h10v3.1h-10zM414.7 1168.2h10v3.1h-10zM434.1 1168.2h19.7v3.1h-19.7zM472.9 1168.2h19.7v3.1h-19.7zM298.4 1165.4h10v3.1h-10zM337.2 1165.4h19.7v3.1h-19.7zM376 1165.4h29.4v3.1h-29.4zM414.7 1165.4h19.7v3.1h-19.7zM443.8 1165.4h29.4v3.1h-29.4zM482.5 1165.4h10v3.1h-10zM346.9 1162.7h97.2v3.1h-97.2zM482.5 1162.7h10v3.1h-10zM308.1 1159.9h10v3.1h-10zM337.2 1159.9h39.1v3.1h-39.1zM395.3 1159.9h29.4v3.1h-29.4zM434.1 1159.9h10v3.1h-10zM298.4 1157.2h48.7v3.1h-48.7zM356.6 1157.2h39.1v3.1h-39.1zM405 1157.2h10v3.1h-10zM346.9 1154.4h10v3.1h-10zM288.7 1151.6h10v3.1h-10z"/><path fill="#00cc33" d="M288.7 1292.1h10v3.1h-10zM317.8 1289.3h10v3.1h-10zM337.2 1289.3h10v3.1h-10zM298.4 1286.6h87.5v3.1h-87.5zM298.4 1283.8h10v3.1h-10zM327.5 1283.8h10v3.1h-10zM346.9 1283.8h29.4v3.1h-29.4zM395.3 1283.8h29.4v3.1h-29.4zM298.4 1281.1h10v3.1h-10zM317.8 1281.1h58.4v3.1h-58.4zM385.6 1281.1h29.4v3.1h-29.4zM298.4 1278.3h10v3.1h-10zM337.2 1278.3h19.7v3.1h-19.7zM366.3 1278.3h10v3.1h-10zM317.8 1275.6h19.7v3.1h-19.7zM356.6 1275.6h10v3.1h-10zM288.7 1272.8h10v3.1h-10zM288.7 1184.7h10v3.1h-10zM327.5 1181.9h10v3.1h-10zM298.4 1179.2h10v3.1h-10zM327.5 1179.2h10v3.1h-10zM356.6 1179.2h10v3.1h-10zM317.8 1176.4h29.4v3.1h-29.4zM376 1176.4h10v3.1h-10zM308.1 1173.7h48.7v3.1h-48.7zM385.6 1173.7h29.4v3.1h-29.4zM298.4 1170.9h39.1v3.1h-39.1zM366.3 1170.9h10v3.1h-10zM298.4 1168.2h87.5v3.1h-87.5zM395.3 1168.2h19.7v3.1h-19.7zM424.4 1168.2h10v3.1h-10zM308.1 1165.4h29.4v3.1h-29.4zM356.6 1165.4h19.7v3.1h-19.7zM405 1165.4h10v3.1h-10zM298.4 1162.7h48.7v3.1h-48.7zM298.4 1159.9h10v3.1h-10zM317.8 1159.9h19.7v3.1h-19.7zM288.7 1154.4h10v3.1h-10z"/><path fill="#00e51a" d="M288.7 1289.3h10v3.1h-10zM308.1 1283.8h19.7v3.1h-19.7zM337.2 1283.8h10v3.1h-10zM308.1 1281.1h10v3.1h-10zM288.7 1275.6h10v3.1h-10zM288.7 1181.9h10v3.1h-10zM288.7 1179.2h10v3.1h-10zM288.7 1159.9h10v3.1h-10zM288.7 1157.2h10v3.1h-10z"/><path fill="#00ff00" d="M288.7 1286.6h10v3.1h-10zM288.7 1281.1h10v3.1h-10zM288.7 1278.3h10v3.1h-10zM288.7 1176.4h10v3.1h-10zM288.7 1173.7h10v3.1h-10zM288.7 1170.9h10v3.1h-10zM288.7 1165.4h10v3.1h-10zM288.7 1162.7h10v3.1h-10z"/><path fill="#1aff00" d="M288.7 1283.8h10v3.1h-10zM288.7 1168.2h10v3.1h-10z"/></g><line x1="293.6" y1="796.6" x2="293.6" y2="1376.9" stroke="#7a7a7a" stroke-width="1.9" stroke-dasharray="2.2 3.67"/><line x1="346.9" y1="796.6" x2="346.9" y2="1376.9" stroke="#7a7a7a" stroke-width="1.9" stroke-dasharray="2.2 3.67"/><line x1="400.2" y1="796.6" x2="400.2" y2="1376.9" stroke="#7a7a7a" stroke-width="1.9" stroke-dasharray="2.2 3.67"/><line x1="453.5" y1="796.6" x2="453.5" y2="1376.9" stroke="#808080" stroke-width="4.17" stroke-dasharray="4.17 6.87" stroke-dashoffset="-2"/><line x1="506.8" y1="796.6" x2="506.8" y2="1376.9" stroke="#7a7a7a" stroke-width="1.9" stroke-dasharray="2.2 3.67"/><line x1="560.1" y1="796.6" x2="560.1" y2="1376.9" stroke="#7a7a7a" stroke-width="1.9" stroke-dasharray="2.2 3.67"/><line x1="613.4" y1="796.6" x2="613.4" y2="1376.9" stroke="#7a7a7a" stroke-width="1.9" stroke-dasharray="2.2 3.67"/><line x1="666.7" y1="796.6" x2="666.7" y2="1376.9" stroke="#808080" stroke-width="4.17" stroke-dasharray="4.17 6.87" stroke-dashoffset="-2"/><line x1="719.9" y1="796.6" x2="719.9" y2="1376.9" stroke="#7a7a7a" stroke-width="1.9" stroke-dasharray="2.2 3.67"/><line x1="773.2" y1="796.6" x2="773.2" y2="1376.9" stroke="#7a7a7a" stroke-width="1.9" stroke-dasharray="2.2 3.67"/><line x1="826.5" y1="796.6" x2="826.5" y2="1376.9" stroke="#7a7a7a" stroke-width="1.9" stroke-dasharray="2.2 3.67"/><line x1="879.8" y1="796.6" x2="879.8" y2="1376.9" stroke="#808080" stroke-width="4.17" stroke-dasharray="4.17 6.87" stroke-dashoffset="-2"/><line x1="933.1" y1="796.6" x2="933.1" y2="1376.9" stroke="#7a7a7a" stroke-width="1.9" stroke-dasharray="2.2 3.67"/><line x1="986.4" y1="796.6" x2="986.4" y2="1376.9" stroke="#7a7a7a" stroke-width="1.9" stroke-dasharray="2.2 3.67"/><line x1="1039.7" y1="796.6" x2="1039.7" y2="1376.9" stroke="#7a7a7a" stroke-width="1.9" stroke-dasharray="2.2 3.67"/><line x1="240.3" y1="796.6" x2="240.3" y2="806.3" stroke="#000" stroke-width="2.2"/><line x1="240.3" y1="1376.9" x2="240.3" y2="1367.2" stroke="#000" stroke-width="2.2"/><line x1="293.6" y1="796.6" x2="293.6" y2="801.9" stroke="#000" stroke-width="1.7"/><line x1="293.6" y1="1376.9" x2="293.6" y2="1371.6" stroke="#000" stroke-width="1.7"/><line x1="346.9" y1="796.6" x2="346.9" y2="801.9" stroke="#000" stroke-width="1.7"/><line x1="346.9" y1="1376.9" x2="346.9" y2="1371.6" stroke="#000" stroke-width="1.7"/><line x1="400.2" y1="796.6" x2="400.2" y2="801.9" stroke="#000" stroke-width="1.7"/><line x1="400.2" y1="1376.9" x2="400.2" y2="1371.6" stroke="#000" stroke-width="1.7"/><line x1="453.5" y1="796.6" x2="453.5" y2="806.3" stroke="#000" stroke-width="2.2"/><line x1="453.5" y1="1376.9" x2="453.5" y2="1367.2" stroke="#000" stroke-width="2.2"/><line x1="506.8" y1="796.6" x2="506.8" y2="801.9" stroke="#000" stroke-width="1.7"/><line x1="506.8" y1="1376.9" x2="506.8" y2="1371.6" stroke="#000" stroke-width="1.7"/><line x1="560.1" y1="796.6" x2="560.1" y2="801.9" stroke="#000" stroke-width="1.7"/><line x1="560.1" y1="1376.9" x2="560.1" y2="1371.6" stroke="#000" stroke-width="1.7"/><line x1="613.4" y1="796.6" x2="613.4" y2="801.9" stroke="#000" stroke-width="1.7"/><line x1="613.4" y1="1376.9" x2="613.4" y2="1371.6" stroke="#000" stroke-width="1.7"/><line x1="666.7" y1="796.6" x2="666.7" y2="806.3" stroke="#000" stroke-width="2.2"/><line x1="666.7" y1="1376.9" x2="666.7" y2="1367.2" stroke="#000" stroke-width="2.2"/><line x1="719.9" y1="796.6" x2="719.9" y2="801.9" stroke="#000" stroke-width="1.7"/><line x1="719.9" y1="1376.9" x2="719.9" y2="1371.6" stroke="#000" stroke-width="1.7"/><line x1="773.2" y1="796.6" x2="773.2" y2="801.9" stroke="#000" stroke-width="1.7"/><line x1="773.2" y1="1376.9" x2="773.2" y2="1371.6" stroke="#000" stroke-width="1.7"/><line x1="826.5" y1="796.6" x2="826.5" y2="801.9" stroke="#000" stroke-width="1.7"/><line x1="826.5" y1="1376.9" x2="826.5" y2="1371.6" stroke="#000" stroke-width="1.7"/><line x1="879.8" y1="796.6" x2="879.8" y2="806.3" stroke="#000" stroke-width="2.2"/><line x1="879.8" y1="1376.9" x2="879.8" y2="1367.2" stroke="#000" stroke-width="2.2"/><line x1="933.1" y1="796.6" x2="933.1" y2="801.9" stroke="#000" stroke-width="1.7"/><line x1="933.1" y1="1376.9" x2="933.1" y2="1371.6" stroke="#000" stroke-width="1.7"/><line x1="986.4" y1="796.6" x2="986.4" y2="801.9" stroke="#000" stroke-width="1.7"/><line x1="986.4" y1="1376.9" x2="986.4" y2="1371.6" stroke="#000" stroke-width="1.7"/><line x1="1039.7" y1="796.6" x2="1039.7" y2="801.9" stroke="#000" stroke-width="1.7"/><line x1="1039.7" y1="1376.9" x2="1039.7" y2="1371.6" stroke="#000" stroke-width="1.7"/><line x1="1093.0" y1="796.6" x2="1093.0" y2="806.3" stroke="#000" stroke-width="2.2"/><line x1="1093.0" y1="1376.9" x2="1093.0" y2="1367.2" stroke="#000" stroke-width="2.2"/><line x1="240.3" y1="1373.3" x2="250.0" y2="1373.3" stroke="#000" stroke-width="2.2"/><line x1="1093.0" y1="1373.3" x2="1083.3" y2="1373.3" stroke="#000" stroke-width="2.2"/><line x1="240.3" y1="1238.4" x2="250.0" y2="1238.4" stroke="#000" stroke-width="2.2"/><line x1="1093.0" y1="1238.4" x2="1083.3" y2="1238.4" stroke="#000" stroke-width="2.2"/><line x1="240.3" y1="1100.7" x2="250.0" y2="1100.7" stroke="#000" stroke-width="2.2"/><line x1="1093.0" y1="1100.7" x2="1083.3" y2="1100.7" stroke="#000" stroke-width="2.2"/><line x1="240.3" y1="963.0" x2="250.0" y2="963.0" stroke="#000" stroke-width="2.2"/><line x1="1093.0" y1="963.0" x2="1083.3" y2="963.0" stroke="#000" stroke-width="2.2"/><line x1="240.3" y1="825.3" x2="250.0" y2="825.3" stroke="#000" stroke-width="2.2"/><line x1="1093.0" y1="825.3" x2="1083.3" y2="825.3" stroke="#000" stroke-width="2.2"/><line x1="240.3" y1="1348.6" x2="245.6" y2="1348.6" stroke="#000" stroke-width="1.7"/><line x1="1093.0" y1="1348.6" x2="1087.7" y2="1348.6" stroke="#000" stroke-width="1.7"/><line x1="240.3" y1="1321.0" x2="245.6" y2="1321.0" stroke="#000" stroke-width="1.7"/><line x1="1093.0" y1="1321.0" x2="1087.7" y2="1321.0" stroke="#000" stroke-width="1.7"/><line x1="240.3" y1="1293.5" x2="245.6" y2="1293.5" stroke="#000" stroke-width="1.7"/><line x1="1093.0" y1="1293.5" x2="1087.7" y2="1293.5" stroke="#000" stroke-width="1.7"/><line x1="240.3" y1="1265.9" x2="245.6" y2="1265.9" stroke="#000" stroke-width="1.7"/><line x1="1093.0" y1="1265.9" x2="1087.7" y2="1265.9" stroke="#000" stroke-width="1.7"/><line x1="240.3" y1="1210.9" x2="245.6" y2="1210.9" stroke="#000" stroke-width="1.7"/><line x1="1093.0" y1="1210.9" x2="1087.7" y2="1210.9" stroke="#000" stroke-width="1.7"/><line x1="240.3" y1="1183.3" x2="245.6" y2="1183.3" stroke="#000" stroke-width="1.7"/><line x1="1093.0" y1="1183.3" x2="1087.7" y2="1183.3" stroke="#000" stroke-width="1.7"/><line x1="240.3" y1="1155.8" x2="245.6" y2="1155.8" stroke="#000" stroke-width="1.7"/><line x1="1093.0" y1="1155.8" x2="1087.7" y2="1155.8" stroke="#000" stroke-width="1.7"/><line x1="240.3" y1="1128.2" x2="245.6" y2="1128.2" stroke="#000" stroke-width="1.7"/><line x1="1093.0" y1="1128.2" x2="1087.7" y2="1128.2" stroke="#000" stroke-width="1.7"/><line x1="240.3" y1="1073.2" x2="245.6" y2="1073.2" stroke="#000" stroke-width="1.7"/><line x1="1093.0" y1="1073.2" x2="1087.7" y2="1073.2" stroke="#000" stroke-width="1.7"/><line x1="240.3" y1="1045.6" x2="245.6" y2="1045.6" stroke="#000" stroke-width="1.7"/><line x1="1093.0" y1="1045.6" x2="1087.7" y2="1045.6" stroke="#000" stroke-width="1.7"/><line x1="240.3" y1="1018.1" x2="245.6" y2="1018.1" stroke="#000" stroke-width="1.7"/><line x1="1093.0" y1="1018.1" x2="1087.7" y2="1018.1" stroke="#000" stroke-width="1.7"/><line x1="240.3" y1="990.5" x2="245.6" y2="990.5" stroke="#000" stroke-width="1.7"/><line x1="1093.0" y1="990.5" x2="1087.7" y2="990.5" stroke="#000" stroke-width="1.7"/><line x1="240.3" y1="935.5" x2="245.6" y2="935.5" stroke="#000" stroke-width="1.7"/><line x1="1093.0" y1="935.5" x2="1087.7" y2="935.5" stroke="#000" stroke-width="1.7"/><line x1="240.3" y1="907.9" x2="245.6" y2="907.9" stroke="#000" stroke-width="1.7"/><line x1="1093.0" y1="907.9" x2="1087.7" y2="907.9" stroke="#000" stroke-width="1.7"/><line x1="240.3" y1="880.4" x2="245.6" y2="880.4" stroke="#000" stroke-width="1.7"/><line x1="1093.0" y1="880.4" x2="1087.7" y2="880.4" stroke="#000" stroke-width="1.7"/><line x1="240.3" y1="852.8" x2="245.6" y2="852.8" stroke="#000" stroke-width="1.7"/><line x1="1093.0" y1="852.8" x2="1087.7" y2="852.8" stroke="#000" stroke-width="1.7"/><rect x="240.3" y="796.6" width="852.7" height="580.3" fill="none" stroke="#000" stroke-width="2.2"/><text x="228.5" y="1383.1" font-size="27.96" textLength="16.8" lengthAdjust="spacingAndGlyphs" text-anchor="end">1</text><text x="228.5" y="1248.2" font-size="27.96" textLength="33.6" lengthAdjust="spacingAndGlyphs" text-anchor="end">50</text><text x="228.5" y="1110.5" font-size="27.96" textLength="50.4" lengthAdjust="spacingAndGlyphs" text-anchor="end">100</text><text x="228.5" y="972.8" font-size="27.96" textLength="50.4" lengthAdjust="spacingAndGlyphs" text-anchor="end">150</text><text x="228.5" y="835.1" font-size="27.96" textLength="50.4" lengthAdjust="spacingAndGlyphs" text-anchor="end">200</text><text x="128.0" y="1101.0" font-size="27.96" textLength="105.0" lengthAdjust="spacingAndGlyphs" text-anchor="middle" transform="rotate(-90 128.0 1101.0)">TOA Bin</text><defs><linearGradient id="cbg2" x1="0" y1="0" x2="0" y2="1"><stop offset="0" stop-color="#ff0000"/><stop offset="0.2" stop-color="#ffff00"/><stop offset="0.4" stop-color="#00ff00"/><stop offset="0.6" stop-color="#0000ff"/><stop offset="0.8" stop-color="#9b30ff"/><stop offset="1" stop-color="#ffffff"/></linearGradient></defs><rect x="1203.9" y="811.0" width="28.0" height="552.4" fill="url(#cbg2)" stroke="#000" stroke-width="2.2"/><text x="1241.4" y="822.2" font-size="29.43" textLength="52.4" lengthAdjust="spacingAndGlyphs">1e5</text><line x1="1231.9" y1="880.0" x2="1222.2" y2="880.0" stroke="#000" stroke-width="2.2"/><text x="1241.4" y="891.2" font-size="29.43" textLength="52.4" lengthAdjust="spacingAndGlyphs">1e4</text><line x1="1231.9" y1="949.1" x2="1222.2" y2="949.1" stroke="#000" stroke-width="2.2"/><text x="1241.4" y="960.3" font-size="29.43" textLength="52.4" lengthAdjust="spacingAndGlyphs">1e3</text><line x1="1231.9" y1="1018.2" x2="1222.2" y2="1018.2" stroke="#000" stroke-width="2.2"/><line x1="1231.9" y1="1087.2" x2="1222.2" y2="1087.2" stroke="#000" stroke-width="2.2"/><text x="1241.4" y="1098.4" font-size="29.43" textLength="52.4" lengthAdjust="spacingAndGlyphs">1e2</text><line x1="1231.9" y1="1156.2" x2="1222.2" y2="1156.2" stroke="#000" stroke-width="2.2"/><line x1="1231.9" y1="1225.3" x2="1222.2" y2="1225.3" stroke="#000" stroke-width="2.2"/><text x="1241.4" y="1236.5" font-size="29.43" textLength="52.4" lengthAdjust="spacingAndGlyphs">1e1</text><line x1="1231.9" y1="1294.4" x2="1222.2" y2="1294.4" stroke="#000" stroke-width="2.2"/><text x="1241.4" y="1374.6" font-size="29.43" textLength="52.4" lengthAdjust="spacingAndGlyphs">1e0</text><text x="1326.0" y="1088.0" font-size="29.43" textLength="326.6" lengthAdjust="spacingAndGlyphs" text-anchor="middle" transform="rotate(-90 1326.0 1088.0)">TOF Counts per Second</text><text x="168.4" y="1421.0" font-size="29.43" textLength="37.3" lengthAdjust="spacingAndGlyphs" text-anchor="end">UT</text><text x="250.5" y="1421.0" font-size="29.43" textLength="124.8" lengthAdjust="spacingAndGlyphs" text-anchor="middle">05:13:20</text><text x="460.5" y="1421.0" font-size="29.43" textLength="124.8" lengthAdjust="spacingAndGlyphs" text-anchor="middle">05:14:04</text><text x="669.6" y="1421.0" font-size="29.43" textLength="124.8" lengthAdjust="spacingAndGlyphs" text-anchor="middle">05:14:48</text><text x="878.3" y="1421.0" font-size="29.43" textLength="124.8" lengthAdjust="spacingAndGlyphs" text-anchor="middle">05:15:32</text><text x="1088.5" y="1421.0" font-size="29.43" textLength="124.8" lengthAdjust="spacingAndGlyphs" text-anchor="middle">05:16:16</text><text x="168.4" y="1454.2" font-size="29.43" textLength="121.3" lengthAdjust="spacingAndGlyphs" text-anchor="end">ALT (km)</text><text x="250.5" y="1454.2" font-size="29.43" textLength="79.5" lengthAdjust="spacingAndGlyphs" text-anchor="middle">916.0</text><text x="460.5" y="1454.2" font-size="29.43" textLength="79.5" lengthAdjust="spacingAndGlyphs" text-anchor="middle">939.2</text><text x="669.6" y="1454.2" font-size="29.43" textLength="79.5" lengthAdjust="spacingAndGlyphs" text-anchor="middle">962.1</text><text x="878.3" y="1454.2" font-size="29.43" textLength="79.5" lengthAdjust="spacingAndGlyphs" text-anchor="middle">984.7</text><text x="1088.5" y="1454.2" font-size="29.43" textLength="97.2" lengthAdjust="spacingAndGlyphs" text-anchor="middle">1006.9</text><text x="168.4" y="1487.3" font-size="29.43" textLength="132.8" lengthAdjust="spacingAndGlyphs" text-anchor="end">LAT (deg)</text><text x="250.5" y="1487.3" font-size="29.43" textLength="61.8" lengthAdjust="spacingAndGlyphs" text-anchor="middle">48.0</text><text x="460.5" y="1487.3" font-size="29.43" textLength="61.8" lengthAdjust="spacingAndGlyphs" text-anchor="middle">50.5</text><text x="669.6" y="1487.3" font-size="29.43" textLength="61.8" lengthAdjust="spacingAndGlyphs" text-anchor="middle">52.9</text><text x="878.3" y="1487.3" font-size="29.43" textLength="61.8" lengthAdjust="spacingAndGlyphs" text-anchor="middle">55.3</text><text x="1088.5" y="1487.3" font-size="29.43" textLength="61.8" lengthAdjust="spacingAndGlyphs" text-anchor="middle">57.7</text><text x="168.4" y="1519.5" font-size="29.43" textLength="140.0" lengthAdjust="spacingAndGlyphs" text-anchor="end">LON (deg)</text><text x="250.5" y="1519.5" font-size="29.43" textLength="44.2" lengthAdjust="spacingAndGlyphs" text-anchor="middle">5.6</text><text x="460.5" y="1519.5" font-size="29.43" textLength="44.2" lengthAdjust="spacingAndGlyphs" text-anchor="middle">6.3</text><text x="669.6" y="1519.5" font-size="29.43" textLength="44.2" lengthAdjust="spacingAndGlyphs" text-anchor="middle">7.2</text><text x="878.3" y="1519.5" font-size="29.43" textLength="44.2" lengthAdjust="spacingAndGlyphs" text-anchor="middle">8.1</text><text x="1088.5" y="1519.5" font-size="29.43" textLength="44.2" lengthAdjust="spacingAndGlyphs" text-anchor="middle">9.2</text><text x="168.4" y="1552.7" font-size="29.43" textLength="156.8" lengthAdjust="spacingAndGlyphs" text-anchor="end">MLAT (deg)</text><text x="250.5" y="1552.7" font-size="29.43" textLength="61.8" lengthAdjust="spacingAndGlyphs" text-anchor="middle">48.9</text><text x="460.5" y="1552.7" font-size="29.43" textLength="61.8" lengthAdjust="spacingAndGlyphs" text-anchor="middle">51.2</text><text x="669.6" y="1552.7" font-size="29.43" textLength="61.8" lengthAdjust="spacingAndGlyphs" text-anchor="middle">53.4</text><text x="878.3" y="1552.7" font-size="29.43" textLength="61.8" lengthAdjust="spacingAndGlyphs" text-anchor="middle">55.5</text><text x="1088.5" y="1552.7" font-size="29.43" textLength="61.8" lengthAdjust="spacingAndGlyphs" text-anchor="middle">57.6</text><text x="168.4" y="1584.3" font-size="29.43" textLength="126.6" lengthAdjust="spacingAndGlyphs" text-anchor="end">MLT (hrs)</text><text x="250.5" y="1584.3" font-size="29.43" textLength="44.2" lengthAdjust="spacingAndGlyphs" text-anchor="middle">6.2</text><text x="460.5" y="1584.3" font-size="29.43" textLength="44.2" lengthAdjust="spacingAndGlyphs" text-anchor="middle">6.3</text><text x="669.6" y="1584.3" font-size="29.43" textLength="44.2" lengthAdjust="spacingAndGlyphs" text-anchor="middle">6.4</text><text x="878.3" y="1584.3" font-size="29.43" textLength="44.2" lengthAdjust="spacingAndGlyphs" text-anchor="middle">6.6</text><text x="1088.5" y="1584.3" font-size="29.43" textLength="44.2" lengthAdjust="spacingAndGlyphs" text-anchor="middle">6.8</text>
<defs><pattern id="hatch" width="33.333" height="33.333" patternUnits="userSpaceOnUse" x="0" y="0.9"><path d="M-2 35.333L35.333 -2M-35.333 35.333L2 -2M31.333 35.333L68.666 -2" stroke="#c2c5c3" stroke-width="2.8" fill="none"/></pattern><clipPath id="cr1"><rect x="1544" y="192.3" width="783.8" height="245.9"/></clipPath><clipPath id="cr2"><rect x="1544" y="463.4" width="783.8" height="243.9"/></clipPath></defs><rect x="1544.0" y="192.3" width="783.8" height="245.9" fill="url(#hatch)"/><line x1="1593.0" y1="192.3" x2="1593.0" y2="438.2" stroke="#7a7a7a" stroke-width="1.9" stroke-dasharray="2.2 3.67"/><line x1="1642.0" y1="192.3" x2="1642.0" y2="438.2" stroke="#7a7a7a" stroke-width="1.9" stroke-dasharray="2.2 3.67"/><line x1="1691.0" y1="192.3" x2="1691.0" y2="438.2" stroke="#7a7a7a" stroke-width="1.9" stroke-dasharray="2.2 3.67"/><line x1="1740.0" y1="192.3" x2="1740.0" y2="438.2" stroke="#808080" stroke-width="4.17" stroke-dasharray="4.17 6.87" stroke-dashoffset="-2"/><line x1="1788.9" y1="192.3" x2="1788.9" y2="438.2" stroke="#7a7a7a" stroke-width="1.9" stroke-dasharray="2.2 3.67"/><line x1="1837.9" y1="192.3" x2="1837.9" y2="438.2" stroke="#7a7a7a" stroke-width="1.9" stroke-dasharray="2.2 3.67"/><line x1="1886.9" y1="192.3" x2="1886.9" y2="438.2" stroke="#7a7a7a" stroke-width="1.9" stroke-dasharray="2.2 3.67"/><line x1="1935.9" y1="192.3" x2="1935.9" y2="438.2" stroke="#808080" stroke-width="4.17" stroke-dasharray="4.17 6.87" stroke-dashoffset="-2"/><line x1="1984.9" y1="192.3" x2="1984.9" y2="438.2" stroke="#7a7a7a" stroke-width="1.9" stroke-dasharray="2.2 3.67"/><line x1="2033.9" y1="192.3" x2="2033.9" y2="438.2" stroke="#7a7a7a" stroke-width="1.9" stroke-dasharray="2.2 3.67"/><line x1="2082.9" y1="192.3" x2="2082.9" y2="438.2" stroke="#7a7a7a" stroke-width="1.9" stroke-dasharray="2.2 3.67"/><line x1="2131.9" y1="192.3" x2="2131.9" y2="438.2" stroke="#808080" stroke-width="4.17" stroke-dasharray="4.17 6.87" stroke-dashoffset="-2"/><line x1="2180.8" y1="192.3" x2="2180.8" y2="438.2" stroke="#7a7a7a" stroke-width="1.9" stroke-dasharray="2.2 3.67"/><line x1="2229.8" y1="192.3" x2="2229.8" y2="438.2" stroke="#7a7a7a" stroke-width="1.9" stroke-dasharray="2.2 3.67"/><line x1="2278.8" y1="192.3" x2="2278.8" y2="438.2" stroke="#7a7a7a" stroke-width="1.9" stroke-dasharray="2.2 3.67"/><g clip-path="url(#cr1)"><polyline fill="none" stroke="#000" stroke-width="1.9" stroke-linejoin="round" points="1544.6,311.8 1825.2,313.5 2122.8,314.3 2323.5,315.6"/><polyline fill="none" stroke="#0000ff" stroke-width="2.2" stroke-linejoin="round" points="1544.6,301.6 1565.8,300.7 1578.6,302.0 1599.8,304.1 1629.6,304.5 1650.9,306.2 1689.1,307.9 1723.1,309.2 1744.4,309.2 1774.1,310.5 1803.9,310.1 1837.9,309.2 1888.9,309.6 1935.7,310.5 1995.2,310.9 2059.0,311.3 2122.8,312.2 2139.8,313.9 2165.3,313.9 2186.6,314.7 2199.3,316.4 2229.1,315.6 2239.7,316.4 2254.6,315.2 2275.9,318.1 2292.9,318.6 2309.9,317.7 2323.5,316.0"/></g><line x1="1544.0" y1="192.3" x2="1544.0" y2="202.0" stroke="#000" stroke-width="2.2"/><line x1="1544.0" y1="438.2" x2="1544.0" y2="428.5" stroke="#000" stroke-width="2.2"/><line x1="1593.0" y1="192.3" x2="1593.0" y2="197.6" stroke="#000" stroke-width="1.7"/><line x1="1593.0" y1="438.2" x2="1593.0" y2="432.9" stroke="#000" stroke-width="1.7"/><line x1="1642.0" y1="192.3" x2="1642.0" y2="197.6" stroke="#000" stroke-width="1.7"/><line x1="1642.0" y1="438.2" x2="1642.0" y2="432.9" stroke="#000" stroke-width="1.7"/><line x1="1691.0" y1="192.3" x2="1691.0" y2="197.6" stroke="#000" stroke-width="1.7"/><line x1="1691.0" y1="438.2" x2="1691.0" y2="432.9" stroke="#000" stroke-width="1.7"/><line x1="1740.0" y1="192.3" x2="1740.0" y2="202.0" stroke="#000" stroke-width="2.2"/><line x1="1740.0" y1="438.2" x2="1740.0" y2="428.5" stroke="#000" stroke-width="2.2"/><line x1="1788.9" y1="192.3" x2="1788.9" y2="197.6" stroke="#000" stroke-width="1.7"/><line x1="1788.9" y1="438.2" x2="1788.9" y2="432.9" stroke="#000" stroke-width="1.7"/><line x1="1837.9" y1="192.3" x2="1837.9" y2="197.6" stroke="#000" stroke-width="1.7"/><line x1="1837.9" y1="438.2" x2="1837.9" y2="432.9" stroke="#000" stroke-width="1.7"/><line x1="1886.9" y1="192.3" x2="1886.9" y2="197.6" stroke="#000" stroke-width="1.7"/><line x1="1886.9" y1="438.2" x2="1886.9" y2="432.9" stroke="#000" stroke-width="1.7"/><line x1="1935.9" y1="192.3" x2="1935.9" y2="202.0" stroke="#000" stroke-width="2.2"/><line x1="1935.9" y1="438.2" x2="1935.9" y2="428.5" stroke="#000" stroke-width="2.2"/><line x1="1984.9" y1="192.3" x2="1984.9" y2="197.6" stroke="#000" stroke-width="1.7"/><line x1="1984.9" y1="438.2" x2="1984.9" y2="432.9" stroke="#000" stroke-width="1.7"/><line x1="2033.9" y1="192.3" x2="2033.9" y2="197.6" stroke="#000" stroke-width="1.7"/><line x1="2033.9" y1="438.2" x2="2033.9" y2="432.9" stroke="#000" stroke-width="1.7"/><line x1="2082.9" y1="192.3" x2="2082.9" y2="197.6" stroke="#000" stroke-width="1.7"/><line x1="2082.9" y1="438.2" x2="2082.9" y2="432.9" stroke="#000" stroke-width="1.7"/><line x1="2131.9" y1="192.3" x2="2131.9" y2="202.0" stroke="#000" stroke-width="2.2"/><line x1="2131.9" y1="438.2" x2="2131.9" y2="428.5" stroke="#000" stroke-width="2.2"/><line x1="2180.8" y1="192.3" x2="2180.8" y2="197.6" stroke="#000" stroke-width="1.7"/><line x1="2180.8" y1="438.2" x2="2180.8" y2="432.9" stroke="#000" stroke-width="1.7"/><line x1="2229.8" y1="192.3" x2="2229.8" y2="197.6" stroke="#000" stroke-width="1.7"/><line x1="2229.8" y1="438.2" x2="2229.8" y2="432.9" stroke="#000" stroke-width="1.7"/><line x1="2278.8" y1="192.3" x2="2278.8" y2="197.6" stroke="#000" stroke-width="1.7"/><line x1="2278.8" y1="438.2" x2="2278.8" y2="432.9" stroke="#000" stroke-width="1.7"/><line x1="2327.8" y1="192.3" x2="2327.8" y2="202.0" stroke="#000" stroke-width="2.2"/><line x1="2327.8" y1="438.2" x2="2327.8" y2="428.5" stroke="#000" stroke-width="2.2"/><line x1="1544.0" y1="426.4" x2="1553.7" y2="426.4" stroke="#000" stroke-width="2.2"/><line x1="2327.8" y1="426.4" x2="2318.1" y2="426.4" stroke="#000" stroke-width="2.2"/><line x1="1544.0" y1="370.6" x2="1553.7" y2="370.6" stroke="#000" stroke-width="2.2"/><line x1="2327.8" y1="370.6" x2="2318.1" y2="370.6" stroke="#000" stroke-width="2.2"/><line x1="1544.0" y1="314.8" x2="1553.7" y2="314.8" stroke="#000" stroke-width="2.2"/><line x1="2327.8" y1="314.8" x2="2318.1" y2="314.8" stroke="#000" stroke-width="2.2"/><line x1="1544.0" y1="259.0" x2="1553.7" y2="259.0" stroke="#000" stroke-width="2.2"/><line x1="2327.8" y1="259.0" x2="2318.1" y2="259.0" stroke="#000" stroke-width="2.2"/><line x1="1544.0" y1="203.2" x2="1553.7" y2="203.2" stroke="#000" stroke-width="2.2"/><line x1="2327.8" y1="203.2" x2="2318.1" y2="203.2" stroke="#000" stroke-width="2.2"/><line x1="1544.0" y1="415.2" x2="1549.3" y2="415.2" stroke="#000" stroke-width="1.7"/><line x1="2327.8" y1="415.2" x2="2322.5" y2="415.2" stroke="#000" stroke-width="1.7"/><line x1="1544.0" y1="404.1" x2="1549.3" y2="404.1" stroke="#000" stroke-width="1.7"/><line x1="2327.8" y1="404.1" x2="2322.5" y2="404.1" stroke="#000" stroke-width="1.7"/><line x1="1544.0" y1="392.9" x2="1549.3" y2="392.9" stroke="#000" stroke-width="1.7"/><line x1="2327.8" y1="392.9" x2="2322.5" y2="392.9" stroke="#000" stroke-width="1.7"/><line x1="1544.0" y1="381.8" x2="1549.3" y2="381.8" stroke="#000" stroke-width="1.7"/><line x1="2327.8" y1="381.8" x2="2322.5" y2="381.8" stroke="#000" stroke-width="1.7"/><line x1="1544.0" y1="359.4" x2="1549.3" y2="359.4" stroke="#000" stroke-width="1.7"/><line x1="2327.8" y1="359.4" x2="2322.5" y2="359.4" stroke="#000" stroke-width="1.7"/><line x1="1544.0" y1="348.3" x2="1549.3" y2="348.3" stroke="#000" stroke-width="1.7"/><line x1="2327.8" y1="348.3" x2="2322.5" y2="348.3" stroke="#000" stroke-width="1.7"/><line x1="1544.0" y1="337.1" x2="1549.3" y2="337.1" stroke="#000" stroke-width="1.7"/><line x1="2327.8" y1="337.1" x2="2322.5" y2="337.1" stroke="#000" stroke-width="1.7"/><line x1="1544.0" y1="326.0" x2="1549.3" y2="326.0" stroke="#000" stroke-width="1.7"/><line x1="2327.8" y1="326.0" x2="2322.5" y2="326.0" stroke="#000" stroke-width="1.7"/><line x1="1544.0" y1="303.6" x2="1549.3" y2="303.6" stroke="#000" stroke-width="1.7"/><line x1="2327.8" y1="303.6" x2="2322.5" y2="303.6" stroke="#000" stroke-width="1.7"/><line x1="1544.0" y1="292.5" x2="1549.3" y2="292.5" stroke="#000" stroke-width="1.7"/><line x1="2327.8" y1="292.5" x2="2322.5" y2="292.5" stroke="#000" stroke-width="1.7"/><line x1="1544.0" y1="281.3" x2="1549.3" y2="281.3" stroke="#000" stroke-width="1.7"/><line x1="2327.8" y1="281.3" x2="2322.5" y2="281.3" stroke="#000" stroke-width="1.7"/><line x1="1544.0" y1="270.2" x2="1549.3" y2="270.2" stroke="#000" stroke-width="1.7"/><line x1="2327.8" y1="270.2" x2="2322.5" y2="270.2" stroke="#000" stroke-width="1.7"/><line x1="1544.0" y1="247.8" x2="1549.3" y2="247.8" stroke="#000" stroke-width="1.7"/><line x1="2327.8" y1="247.8" x2="2322.5" y2="247.8" stroke="#000" stroke-width="1.7"/><line x1="1544.0" y1="236.7" x2="1549.3" y2="236.7" stroke="#000" stroke-width="1.7"/><line x1="2327.8" y1="236.7" x2="2322.5" y2="236.7" stroke="#000" stroke-width="1.7"/><line x1="1544.0" y1="225.5" x2="1549.3" y2="225.5" stroke="#000" stroke-width="1.7"/><line x1="2327.8" y1="225.5" x2="2322.5" y2="225.5" stroke="#000" stroke-width="1.7"/><line x1="1544.0" y1="214.4" x2="1549.3" y2="214.4" stroke="#000" stroke-width="1.7"/><line x1="2327.8" y1="214.4" x2="2322.5" y2="214.4" stroke="#000" stroke-width="1.7"/><rect x="1544.0" y="192.3" width="783.8" height="245.9" fill="none" stroke="#000" stroke-width="2.2"/><text x="1533.8" y="436.7" font-size="29.43" textLength="58.6" lengthAdjust="spacingAndGlyphs" text-anchor="end">−10</text><text x="1533.8" y="380.9" font-size="29.43" textLength="40.9" lengthAdjust="spacingAndGlyphs" text-anchor="end">−5</text><text x="1533.8" y="325.1" font-size="29.43" textLength="17.7" lengthAdjust="spacingAndGlyphs" text-anchor="end">0</text><text x="1533.8" y="269.3" font-size="29.43" textLength="17.7" lengthAdjust="spacingAndGlyphs" text-anchor="end">5</text><text x="1533.8" y="213.5" font-size="29.43" textLength="35.3" lengthAdjust="spacingAndGlyphs" text-anchor="end">10</text><text x="1458.5" y="316.0" font-size="29.43" textLength="171.4" lengthAdjust="spacingAndGlyphs" text-anchor="middle" transform="rotate(-90 1458.5 316.0)">Current (uA)</text><text x="2337.5" y="181.0" font-size="22.07" textLength="242.3" lengthAdjust="spacingAndGlyphs" transform="rotate(90 2337.5 181.0)">Sensor Surface Current</text><text x="2358.5" y="181.0" font-size="22.07" textLength="281.1" lengthAdjust="spacingAndGlyphs" fill="#0000ff" transform="rotate(90 2358.5 181.0)">Sensor Surface Current x 5</text><rect x="1544.0" y="463.4" width="783.8" height="243.9" fill="url(#hatch)"/><line x1="1593.0" y1="463.4" x2="1593.0" y2="707.3" stroke="#7a7a7a" stroke-width="1.9" stroke-dasharray="2.2 3.67"/><line x1="1642.0" y1="463.4" x2="1642.0" y2="707.3" stroke="#7a7a7a" stroke-width="1.9" stroke-dasharray="2.2 3.67"/><line x1="1691.0" y1="463.4" x2="1691.0" y2="707.3" stroke="#7a7a7a" stroke-width="1.9" stroke-dasharray="2.2 3.67"/><line x1="1740.0" y1="463.4" x2="1740.0" y2="707.3" stroke="#808080" stroke-width="4.17" stroke-dasharray="4.17 6.87" stroke-dashoffset="-2"/><line x1="1788.9" y1="463.4" x2="1788.9" y2="707.3" stroke="#7a7a7a" stroke-width="1.9" stroke-dasharray="2.2 3.67"/><line x1="1837.9" y1="463.4" x2="1837.9" y2="707.3" stroke="#7a7a7a" stroke-width="1.9" stroke-dasharray="2.2 3.67"/><line x1="1886.9" y1="463.4" x2="1886.9" y2="707.3" stroke="#7a7a7a" stroke-width="1.9" stroke-dasharray="2.2 3.67"/><line x1="1935.9" y1="463.4" x2="1935.9" y2="707.3" stroke="#808080" stroke-width="4.17" stroke-dasharray="4.17 6.87" stroke-dashoffset="-2"/><line x1="1984.9" y1="463.4" x2="1984.9" y2="707.3" stroke="#7a7a7a" stroke-width="1.9" stroke-dasharray="2.2 3.67"/><line x1="2033.9" y1="463.4" x2="2033.9" y2="707.3" stroke="#7a7a7a" stroke-width="1.9" stroke-dasharray="2.2 3.67"/><line x1="2082.9" y1="463.4" x2="2082.9" y2="707.3" stroke="#7a7a7a" stroke-width="1.9" stroke-dasharray="2.2 3.67"/><line x1="2131.9" y1="463.4" x2="2131.9" y2="707.3" stroke="#808080" stroke-width="4.17" stroke-dasharray="4.17 6.87" stroke-dashoffset="-2"/><line x1="2180.8" y1="463.4" x2="2180.8" y2="707.3" stroke="#7a7a7a" stroke-width="1.9" stroke-dasharray="2.2 3.67"/><line x1="2229.8" y1="463.4" x2="2229.8" y2="707.3" stroke="#7a7a7a" stroke-width="1.9" stroke-dasharray="2.2 3.67"/><line x1="2278.8" y1="463.4" x2="2278.8" y2="707.3" stroke="#7a7a7a" stroke-width="1.9" stroke-dasharray="2.2 3.67"/><g clip-path="url(#cr2)"><polyline fill="none" stroke="#000" stroke-width="1.9" stroke-linejoin="round" points="1544.6,705.5 1585.4,705.5 1590.5,624.7 1595.6,595.8 1600.7,596.6 1610.5,591.1 1620.2,592.8 1629.6,590.7 1639.4,596.2 1648.7,599.2 1657.2,600.5 1667.9,602.6 1678.5,606.4 1689.1,607.7 1706.1,611.9 1716.8,614.1 1725.3,616.2 1735.9,615.3 1744.4,613.2 1754.2,619.2 1763.5,621.3 1773.3,623.4 1782.7,623.8 1791.2,623.0 1801.8,620.4 1810.3,621.7 1820.1,620.9 1830.3,617.0 1840.1,614.9 1850.7,613.6 1858.3,613.6 1867.7,616.2 1877.0,618.3 1886.8,617.0 1896.6,619.2 1906.0,622.6 1915.3,623.0 1925.1,622.6 1934.9,625.1 1944.2,626.0 1952.7,624.7 1963.4,627.2 1973.1,629.8 1982.5,628.1 1991.8,631.9 2000.3,629.4 2011.0,631.9 2020.7,633.6 2030.1,633.6 2039.9,633.2 2049.2,633.6 2058.2,632.8 2067.5,634.9 2076.9,635.3 2086.6,639.1 2096.0,641.7 2105.8,642.6 2115.1,643.8 2124.9,647.2 2134.3,655.7 2144.0,659.1 2152.6,660.4 2163.2,658.3 2171.7,658.3 2182.3,661.7 2191.7,663.8 2201.4,665.5 2209.9,666.4 2220.6,665.9 2229.1,667.6 2238.4,667.2 2248.2,666.8 2256.7,666.4 2267.3,668.9 2276.7,670.2 2286.5,669.8 2295.0,671.5 2304.8,671.0 2314.1,671.0 2323.5,670.6"/><polyline fill="none" stroke="#0000ff" stroke-width="2.2" stroke-linejoin="round" points="1544.6,705.5 1585.4,705.5 1590.5,539.7 1595.6,478.9 1600.7,482.3 1610.5,475.9 1620.2,477.2 1629.6,473.8 1639.4,486.5 1648.7,494.2 1657.2,496.3 1667.9,502.2 1678.5,506.5 1689.1,508.6 1706.1,515.4 1716.8,521.4 1725.3,523.5 1735.9,522.7 1744.4,519.3 1754.2,529.9 1763.5,534.1 1773.3,540.5 1782.7,540.9 1791.2,538.4 1801.8,530.3 1810.3,536.3 1820.1,532.0 1830.3,521.8 1840.1,518.8 1850.7,517.1 1858.3,517.1 1867.7,519.7 1877.0,523.1 1886.8,521.8 1896.6,525.2 1906.0,530.7 1915.3,533.3 1925.1,531.6 1934.9,538.4 1944.2,538.8 1952.7,539.2 1963.4,541.8 1973.1,545.2 1982.5,544.8 1991.8,549.0 2000.3,546.0 2011.0,551.6 2020.7,552.0 2030.1,553.7 2039.9,553.3 2049.2,552.4 2058.2,552.4 2067.5,554.5 2076.9,557.9 2086.6,565.2 2096.0,570.3 2105.8,571.5 2115.1,574.9 2124.9,582.2 2134.3,604.3 2144.0,614.1 2152.6,617.0 2163.2,610.7 2171.7,611.1 2182.3,619.2 2191.7,624.7 2201.4,629.8 2209.9,629.8 2220.6,628.9 2229.1,629.4 2238.4,630.6 2248.2,628.5 2256.7,626.8 2267.3,634.5 2276.7,640.0 2286.5,640.9 2295.0,643.0 2304.8,640.4 2314.1,640.0 2323.5,638.7"/></g><line x1="1544.0" y1="463.4" x2="1544.0" y2="473.1" stroke="#000" stroke-width="2.2"/><line x1="1544.0" y1="707.3" x2="1544.0" y2="697.6" stroke="#000" stroke-width="2.2"/><line x1="1593.0" y1="463.4" x2="1593.0" y2="468.7" stroke="#000" stroke-width="1.7"/><line x1="1593.0" y1="707.3" x2="1593.0" y2="702.0" stroke="#000" stroke-width="1.7"/><line x1="1642.0" y1="463.4" x2="1642.0" y2="468.7" stroke="#000" stroke-width="1.7"/><line x1="1642.0" y1="707.3" x2="1642.0" y2="702.0" stroke="#000" stroke-width="1.7"/><line x1="1691.0" y1="463.4" x2="1691.0" y2="468.7" stroke="#000" stroke-width="1.7"/><line x1="1691.0" y1="707.3" x2="1691.0" y2="702.0" stroke="#000" stroke-width="1.7"/><line x1="1740.0" y1="463.4" x2="1740.0" y2="473.1" stroke="#000" stroke-width="2.2"/><line x1="1740.0" y1="707.3" x2="1740.0" y2="697.6" stroke="#000" stroke-width="2.2"/><line x1="1788.9" y1="463.4" x2="1788.9" y2="468.7" stroke="#000" stroke-width="1.7"/><line x1="1788.9" y1="707.3" x2="1788.9" y2="702.0" stroke="#000" stroke-width="1.7"/><line x1="1837.9" y1="463.4" x2="1837.9" y2="468.7" stroke="#000" stroke-width="1.7"/><line x1="1837.9" y1="707.3" x2="1837.9" y2="702.0" stroke="#000" stroke-width="1.7"/><line x1="1886.9" y1="463.4" x2="1886.9" y2="468.7" stroke="#000" stroke-width="1.7"/><line x1="1886.9" y1="707.3" x2="1886.9" y2="702.0" stroke="#000" stroke-width="1.7"/><line x1="1935.9" y1="463.4" x2="1935.9" y2="473.1" stroke="#000" stroke-width="2.2"/><line x1="1935.9" y1="707.3" x2="1935.9" y2="697.6" stroke="#000" stroke-width="2.2"/><line x1="1984.9" y1="463.4" x2="1984.9" y2="468.7" stroke="#000" stroke-width="1.7"/><line x1="1984.9" y1="707.3" x2="1984.9" y2="702.0" stroke="#000" stroke-width="1.7"/><line x1="2033.9" y1="463.4" x2="2033.9" y2="468.7" stroke="#000" stroke-width="1.7"/><line x1="2033.9" y1="707.3" x2="2033.9" y2="702.0" stroke="#000" stroke-width="1.7"/><line x1="2082.9" y1="463.4" x2="2082.9" y2="468.7" stroke="#000" stroke-width="1.7"/><line x1="2082.9" y1="707.3" x2="2082.9" y2="702.0" stroke="#000" stroke-width="1.7"/><line x1="2131.9" y1="463.4" x2="2131.9" y2="473.1" stroke="#000" stroke-width="2.2"/><line x1="2131.9" y1="707.3" x2="2131.9" y2="697.6" stroke="#000" stroke-width="2.2"/><line x1="2180.8" y1="463.4" x2="2180.8" y2="468.7" stroke="#000" stroke-width="1.7"/><line x1="2180.8" y1="707.3" x2="2180.8" y2="702.0" stroke="#000" stroke-width="1.7"/><line x1="2229.8" y1="463.4" x2="2229.8" y2="468.7" stroke="#000" stroke-width="1.7"/><line x1="2229.8" y1="707.3" x2="2229.8" y2="702.0" stroke="#000" stroke-width="1.7"/><line x1="2278.8" y1="463.4" x2="2278.8" y2="468.7" stroke="#000" stroke-width="1.7"/><line x1="2278.8" y1="707.3" x2="2278.8" y2="702.0" stroke="#000" stroke-width="1.7"/><line x1="2327.8" y1="463.4" x2="2327.8" y2="473.1" stroke="#000" stroke-width="2.2"/><line x1="2327.8" y1="707.3" x2="2327.8" y2="697.6" stroke="#000" stroke-width="2.2"/><line x1="1544.0" y1="706.3" x2="1553.7" y2="706.3" stroke="#000" stroke-width="2.2"/><line x1="2327.8" y1="706.3" x2="2318.1" y2="706.3" stroke="#000" stroke-width="2.2"/><line x1="1544.0" y1="655.4" x2="1553.7" y2="655.4" stroke="#000" stroke-width="2.2"/><line x1="2327.8" y1="655.4" x2="2318.1" y2="655.4" stroke="#000" stroke-width="2.2"/><line x1="1544.0" y1="604.5" x2="1553.7" y2="604.5" stroke="#000" stroke-width="2.2"/><line x1="2327.8" y1="604.5" x2="2318.1" y2="604.5" stroke="#000" stroke-width="2.2"/><line x1="1544.0" y1="553.6" x2="1553.7" y2="553.6" stroke="#000" stroke-width="2.2"/><line x1="2327.8" y1="553.6" x2="2318.1" y2="553.6" stroke="#000" stroke-width="2.2"/><line x1="1544.0" y1="502.7" x2="1553.7" y2="502.7" stroke="#000" stroke-width="2.2"/><line x1="2327.8" y1="502.7" x2="2318.1" y2="502.7" stroke="#000" stroke-width="2.2"/><line x1="1544.0" y1="696.1" x2="1549.3" y2="696.1" stroke="#000" stroke-width="1.7"/><line x1="2327.8" y1="696.1" x2="2322.5" y2="696.1" stroke="#000" stroke-width="1.7"/><line x1="1544.0" y1="685.9" x2="1549.3" y2="685.9" stroke="#000" stroke-width="1.7"/><line x1="2327.8" y1="685.9" x2="2322.5" y2="685.9" stroke="#000" stroke-width="1.7"/><line x1="1544.0" y1="675.8" x2="1549.3" y2="675.8" stroke="#000" stroke-width="1.7"/><line x1="2327.8" y1="675.8" x2="2322.5" y2="675.8" stroke="#000" stroke-width="1.7"/><line x1="1544.0" y1="665.6" x2="1549.3" y2="665.6" stroke="#000" stroke-width="1.7"/><line x1="2327.8" y1="665.6" x2="2322.5" y2="665.6" stroke="#000" stroke-width="1.7"/><line x1="1544.0" y1="645.2" x2="1549.3" y2="645.2" stroke="#000" stroke-width="1.7"/><line x1="2327.8" y1="645.2" x2="2322.5" y2="645.2" stroke="#000" stroke-width="1.7"/><line x1="1544.0" y1="635.0" x2="1549.3" y2="635.0" stroke="#000" stroke-width="1.7"/><line x1="2327.8" y1="635.0" x2="2322.5" y2="635.0" stroke="#000" stroke-width="1.7"/><line x1="1544.0" y1="624.9" x2="1549.3" y2="624.9" stroke="#000" stroke-width="1.7"/><line x1="2327.8" y1="624.9" x2="2322.5" y2="624.9" stroke="#000" stroke-width="1.7"/><line x1="1544.0" y1="614.7" x2="1549.3" y2="614.7" stroke="#000" stroke-width="1.7"/><line x1="2327.8" y1="614.7" x2="2322.5" y2="614.7" stroke="#000" stroke-width="1.7"/><line x1="1544.0" y1="594.3" x2="1549.3" y2="594.3" stroke="#000" stroke-width="1.7"/><line x1="2327.8" y1="594.3" x2="2322.5" y2="594.3" stroke="#000" stroke-width="1.7"/><line x1="1544.0" y1="584.1" x2="1549.3" y2="584.1" stroke="#000" stroke-width="1.7"/><line x1="2327.8" y1="584.1" x2="2322.5" y2="584.1" stroke="#000" stroke-width="1.7"/><line x1="1544.0" y1="574.0" x2="1549.3" y2="574.0" stroke="#000" stroke-width="1.7"/><line x1="2327.8" y1="574.0" x2="2322.5" y2="574.0" stroke="#000" stroke-width="1.7"/><line x1="1544.0" y1="563.8" x2="1549.3" y2="563.8" stroke="#000" stroke-width="1.7"/><line x1="2327.8" y1="563.8" x2="2322.5" y2="563.8" stroke="#000" stroke-width="1.7"/><line x1="1544.0" y1="543.4" x2="1549.3" y2="543.4" stroke="#000" stroke-width="1.7"/><line x1="2327.8" y1="543.4" x2="2322.5" y2="543.4" stroke="#000" stroke-width="1.7"/><line x1="1544.0" y1="533.2" x2="1549.3" y2="533.2" stroke="#000" stroke-width="1.7"/><line x1="2327.8" y1="533.2" x2="2322.5" y2="533.2" stroke="#000" stroke-width="1.7"/><line x1="1544.0" y1="523.1" x2="1549.3" y2="523.1" stroke="#000" stroke-width="1.7"/><line x1="2327.8" y1="523.1" x2="2322.5" y2="523.1" stroke="#000" stroke-width="1.7"/><line x1="1544.0" y1="512.9" x2="1549.3" y2="512.9" stroke="#000" stroke-width="1.7"/><line x1="2327.8" y1="512.9" x2="2322.5" y2="512.9" stroke="#000" stroke-width="1.7"/><line x1="1544.0" y1="492.5" x2="1549.3" y2="492.5" stroke="#000" stroke-width="1.7"/><line x1="2327.8" y1="492.5" x2="2322.5" y2="492.5" stroke="#000" stroke-width="1.7"/><line x1="1544.0" y1="482.3" x2="1549.3" y2="482.3" stroke="#000" stroke-width="1.7"/><line x1="2327.8" y1="482.3" x2="2322.5" y2="482.3" stroke="#000" stroke-width="1.7"/><line x1="1544.0" y1="472.2" x2="1549.3" y2="472.2" stroke="#000" stroke-width="1.7"/><line x1="2327.8" y1="472.2" x2="2322.5" y2="472.2" stroke="#000" stroke-width="1.7"/><rect x="1544.0" y="463.4" width="783.8" height="243.9" fill="none" stroke="#000" stroke-width="2.2"/><text x="1533.8" y="716.6" font-size="29.43" textLength="44.2" lengthAdjust="spacingAndGlyphs" text-anchor="end">0.0</text><text x="1533.8" y="665.7" font-size="29.43" textLength="44.2" lengthAdjust="spacingAndGlyphs" text-anchor="end">2.5</text><text x="1533.8" y="614.8" font-size="29.43" textLength="44.2" lengthAdjust="spacingAndGlyphs" text-anchor="end">5.0</text><text x="1533.8" y="563.9" font-size="29.43" textLength="44.2" lengthAdjust="spacingAndGlyphs" text-anchor="end">7.5</text><text x="1533.8" y="513.0" font-size="29.43" textLength="61.8" lengthAdjust="spacingAndGlyphs" text-anchor="end">10.0</text><text x="1430.0" y="599.0" font-size="29.43" textLength="150.1" lengthAdjust="spacingAndGlyphs" text-anchor="middle" transform="rotate(-90 1430.0 599.0)">Counts Per</text><text x="1458.0" y="696.5" font-size="29.43" textLength="173.7" lengthAdjust="spacingAndGlyphs" transform="rotate(-90 1458.0 696.5)">Second (x10</text><text x="1447.0" y="519.8" font-size="20.60" textLength="12.4" lengthAdjust="spacingAndGlyphs" transform="rotate(-90 1447.0 519.8)">3</text><text x="1458.0" y="503.4" font-size="29.43" textLength="10.8" lengthAdjust="spacingAndGlyphs" transform="rotate(-90 1458.0 503.4)">)</text><text x="2338.5" y="488.5" font-size="23.55" textLength="127.5" lengthAdjust="spacingAndGlyphs" transform="rotate(90 2338.5 488.5)">Hit Counter</text><text x="2360.0" y="488.5" font-size="23.55" textLength="170.0" lengthAdjust="spacingAndGlyphs" fill="#0000ff" transform="rotate(90 2360.0 488.5)">Detect Counter</text><text x="1544.0" y="752.5" font-size="29.43" textLength="124.8" lengthAdjust="spacingAndGlyphs" text-anchor="middle">05:13:20</text><text x="1740.0" y="752.5" font-size="29.43" textLength="124.8" lengthAdjust="spacingAndGlyphs" text-anchor="middle">05:14:04</text><text x="1935.9" y="752.5" font-size="29.43" textLength="124.8" lengthAdjust="spacingAndGlyphs" text-anchor="middle">05:14:48</text><text x="2131.9" y="752.5" font-size="29.43" textLength="124.8" lengthAdjust="spacingAndGlyphs" text-anchor="middle">05:15:32</text><text x="2327.8" y="752.5" font-size="29.43" textLength="124.8" lengthAdjust="spacingAndGlyphs" text-anchor="middle">05:16:16</text><rect x="1607" y="154.9" width="55.8" height="17.8" fill="#c5c9c7"/><text x="1685.7" y="173.3" font-size="29.43" textLength="186.8" lengthAdjust="spacingAndGlyphs">S/C in Eclipse</text><rect x="1927.2" y="154.9" width="56.1" height="17.8" fill="#fff" stroke="#808080" stroke-width="1.4"/><path d="M1930 172.7L1947.8 154.9M1963.3 172.7L1981.1 154.9" stroke="#808080" stroke-width="2.8"/><text x="2006.7" y="173.3" font-size="29.43" textLength="259.3" lengthAdjust="spacingAndGlyphs">IRM in S/C Shadow</text>
<defs><linearGradient id="cbalt" x1="0" y1="0" x2="1" y2="0"><stop offset="0" stop-color="#9b30ff"/><stop offset="0.25" stop-color="#0000ff"/><stop offset="0.5" stop-color="#00ff00"/><stop offset="0.75" stop-color="#ffff00"/><stop offset="1" stop-color="#ff0000"/></linearGradient></defs><rect x="1744.4" y="1307.6" width="550.6" height="27.7" fill="url(#cbalt)" stroke="#000" stroke-width="2.2"/><line x1="1791.2" y1="1335.3" x2="1791.2" y2="1345.0" stroke="#000" stroke-width="2.2"/><text x="1791.2" y="1372.4" font-size="23.55" textLength="42.4" lengthAdjust="spacingAndGlyphs" text-anchor="middle">400</text><line x1="1882.8" y1="1335.3" x2="1882.8" y2="1345.0" stroke="#000" stroke-width="2.2"/><text x="1882.8" y="1372.4" font-size="23.55" textLength="42.4" lengthAdjust="spacingAndGlyphs" text-anchor="middle">600</text><line x1="1974.3" y1="1335.3" x2="1974.3" y2="1345.0" stroke="#000" stroke-width="2.2"/><text x="1974.3" y="1372.4" font-size="23.55" textLength="42.4" lengthAdjust="spacingAndGlyphs" text-anchor="middle">800</text><line x1="2065.9" y1="1335.3" x2="2065.9" y2="1345.0" stroke="#000" stroke-width="2.2"/><text x="2065.9" y="1372.4" font-size="23.55" textLength="56.6" lengthAdjust="spacingAndGlyphs" text-anchor="middle">1000</text><line x1="2157.4" y1="1335.3" x2="2157.4" y2="1345.0" stroke="#000" stroke-width="2.2"/><text x="2157.4" y="1372.4" font-size="23.55" textLength="56.6" lengthAdjust="spacingAndGlyphs" text-anchor="middle">1200</text><line x1="2249.0" y1="1335.3" x2="2249.0" y2="1345.0" stroke="#000" stroke-width="2.2"/><text x="2249.0" y="1372.4" font-size="23.55" textLength="56.6" lengthAdjust="spacingAndGlyphs" text-anchor="middle">1400</text><text x="2019.7" y="1406.7" font-size="23.55" textLength="145.8" lengthAdjust="spacingAndGlyphs" text-anchor="middle">Altitude (km)</text><text x="1451.6" y="1404.1" font-size="23.55" textLength="230.1" lengthAdjust="spacingAndGlyphs">Operating mode: AM</text><text x="1609.2" y="1451.3" font-size="23.55" textLength="44.9" lengthAdjust="spacingAndGlyphs" text-anchor="middle">VSA</text><text x="1739.3" y="1451.3" font-size="23.55" textLength="43.3" lengthAdjust="spacingAndGlyphs" text-anchor="middle">VES</text><text x="1869.4" y="1451.3" font-size="23.55" textLength="50.9" lengthAdjust="spacingAndGlyphs" text-anchor="middle">VD+</text><text x="2000.8" y="1451.3" font-size="23.55" textLength="40.3" lengthAdjust="spacingAndGlyphs" text-anchor="middle">VD-</text><text x="2131.3" y="1451.3" font-size="23.55" textLength="76.1" lengthAdjust="spacingAndGlyphs" text-anchor="middle">VMCPF</text><text x="2262.2" y="1451.3" font-size="23.55" textLength="78.5" lengthAdjust="spacingAndGlyphs" text-anchor="middle">VCMPB</text><text x="1450.6" y="1480.7" font-size="23.55" textLength="79.0" lengthAdjust="spacingAndGlyphs">Min (V)</text><text x="1609.2" y="1480.7" font-size="23.55" textLength="50.4" lengthAdjust="spacingAndGlyphs" text-anchor="middle">-348</text><text x="1739.3" y="1480.7" font-size="23.55" textLength="57.5" lengthAdjust="spacingAndGlyphs" text-anchor="middle">-0.26</text><text x="1869.4" y="1480.7" font-size="23.55" textLength="57.5" lengthAdjust="spacingAndGlyphs" text-anchor="middle">-0.02</text><text x="2000.8" y="1480.7" font-size="23.55" textLength="57.5" lengthAdjust="spacingAndGlyphs" text-anchor="middle">-9.95</text><text x="2131.3" y="1480.7" font-size="23.55" textLength="64.6" lengthAdjust="spacingAndGlyphs" text-anchor="middle">-2230</text><text x="2262.2" y="1480.7" font-size="23.55" textLength="50.4" lengthAdjust="spacingAndGlyphs" text-anchor="middle">-219</text><text x="1450.6" y="1509.6" font-size="23.55" textLength="85.5" lengthAdjust="spacingAndGlyphs">Max (V)</text><text x="1609.2" y="1509.6" font-size="23.55" textLength="14.1" lengthAdjust="spacingAndGlyphs" text-anchor="middle">0</text><text x="1739.3" y="1509.6" font-size="23.55" textLength="49.5" lengthAdjust="spacingAndGlyphs" text-anchor="middle">0.04</text><text x="1869.4" y="1509.6" font-size="23.55" textLength="49.5" lengthAdjust="spacingAndGlyphs" text-anchor="middle">9.94</text><text x="2000.8" y="1509.6" font-size="23.55" textLength="49.5" lengthAdjust="spacingAndGlyphs" text-anchor="middle">0.02</text><text x="2131.3" y="1509.6" font-size="23.55" textLength="22.2" lengthAdjust="spacingAndGlyphs" text-anchor="middle">-2</text><text x="2262.2" y="1509.6" font-size="23.55" textLength="14.1" lengthAdjust="spacingAndGlyphs" text-anchor="middle">0</text><text x="1450.6" y="1538.9" font-size="23.55" textLength="80.3" lengthAdjust="spacingAndGlyphs">Ave (V)</text><text x="1609.2" y="1538.9" font-size="23.55" textLength="50.4" lengthAdjust="spacingAndGlyphs" text-anchor="middle">-164</text><text x="1739.3" y="1538.9" font-size="23.55" textLength="49.5" lengthAdjust="spacingAndGlyphs" text-anchor="middle">0.01</text><text x="1869.4" y="1538.9" font-size="23.55" textLength="57.5" lengthAdjust="spacingAndGlyphs" text-anchor="middle">-0.01</text><text x="2000.8" y="1538.9" font-size="23.55" textLength="57.5" lengthAdjust="spacingAndGlyphs" text-anchor="middle">-0.00</text><text x="2131.3" y="1538.9" font-size="23.55" textLength="64.6" lengthAdjust="spacingAndGlyphs" text-anchor="middle">-1991</text><text x="2262.2" y="1538.9" font-size="23.55" textLength="50.4" lengthAdjust="spacingAndGlyphs" text-anchor="middle">-178</text><text x="1447.7" y="1579.7" font-size="29.43" textLength="508.8" lengthAdjust="spacingAndGlyphs">Produced by irm_summary version 5</text><text x="1200.0" y="62.1" font-size="64.75" textLength="763.4" lengthAdjust="spacingAndGlyphs" text-anchor="middle">e-POP IRM Summary Plot</text><text x="1200.0" y="128.4" font-size="58.87" textLength="475.7" lengthAdjust="spacingAndGlyphs" text-anchor="middle">January 16, 2016</text>
<defs><clipPath id="mapclip"><rect x="1433.0" y="794.0" width="945.0" height="472.0" rx="236.0" ry="236.0"/></clipPath><clipPath id="landclip"><path d="M1533.8 858.2L1546.3 850.4L1555.8 847.9L1565.3 845.5L1574.7 843L1579.4 843.8L1584.1 844.5L1588.8 845.3L1593.5 846L1598.3 846.8L1603.1 847.5L1608.9 847.3L1614.6 847.1L1620.4 846.9L1626.2 846.7L1631.9 846.4L1637.2 847.1L1642.6 847.8L1647.9 848.4L1653.3 849.1L1659.2 849.9L1665 850.8L1670.9 851.7L1677.4 851.7L1683.9 851.7L1690.4 851.7L1697 851.7L1708.1 841.2L1711.5 849.1L1717.3 848.4L1723.1 847.8L1730.2 850.4L1724.7 856.9L1717.9 859.6L1711 862.2L1702.7 865.5L1694.3 868.7L1687.4 876.1L1691.3 880.5L1698.6 882.8L1705.9 885L1710.9 891L1715.6 895L1720 888.4L1726.2 880.5L1726.8 872.7L1730.6 866.1L1740.2 867.4L1746.7 871.4L1753 876.6L1758 871.9L1762 881.8L1770.5 889.7L1772.7 893.6L1763.7 898.9L1756.5 898.6L1749.4 898.4L1741.4 901.5L1734.1 906.8L1745 901.5L1748.9 905.4L1748.1 909.4L1756.4 910.7L1758.4 906.8L1759.1 909.4L1749.8 913L1743 915.9L1743.9 912L1741.4 912L1733.3 915.4L1730.6 919.9L1732.2 920.7L1721.6 923.8L1716.6 930.4L1714.8 933L1715.2 937.7L1709.6 940.8L1704.1 943.5L1699.6 947.4L1698.2 951.3L1700.3 959.2L1699.2 963.7L1695.8 963.9L1693.7 957.4L1693.6 952.6L1690 951.3L1686.3 950.5L1678.6 950.8L1676.9 953.4L1673.1 953.2L1665.6 952.6L1657.2 956.6L1654.8 963.1L1652.8 971.5L1656.3 980.2L1660 982.3L1667.9 981.5L1671.2 974.9L1680.4 973.6L1678.3 981.5L1675 988L1681.5 988.6L1688.4 990.7L1687.1 1001.2L1690.8 1006.4L1697.4 1005.1L1703.1 1007.2L1701.3 1011.1L1695.8 1010.9L1692 1009.5L1688.1 1008.2L1683.1 1003.8L1681.1 1001.2L1677 995.9L1666.8 993.3L1660.8 987.5L1654.1 988.8L1647.9 986.5L1640.5 982.8L1632 977.6L1632.8 972.3L1629.7 967.1L1624.2 961.8L1618.3 952.6L1614.1 946.9L1613.5 951.3L1617.2 957.9L1620.9 965.8L1622.3 969.7L1617.2 965L1612.3 957.1L1610.9 951.9L1608.5 944.8L1606 940.8L1601.1 939.3L1599.2 933.5L1598.8 930.9L1597.2 924.3L1599 917.2L1603.1 908.9L1603.8 903.1L1608.6 901.5L1605.6 897.6L1600.9 895L1599.1 887.1L1597.4 881.8L1595.1 877.9L1590.2 876.6L1585.1 873.2L1575.6 872.7L1569.6 870L1560 870.6L1557.1 874.5L1549.8 876.6L1538.8 880.5L1529 884.5L1520.7 886.3L1528.8 883.2L1537.4 879.2L1542.7 875.3L1533.5 875.3L1533.9 871.9L1529.7 868.7L1535.9 864.3L1544.9 863L1546.2 860.3L1540.5 860.5L1534.8 860.6ZM1756.1 867.4L1747.5 866.1L1740.4 861.4L1731.7 860.9L1737.9 856.9L1745.1 855.6L1747.3 850.9L1742.7 849.3L1738.1 847.8L1730.2 846.4L1725.1 846.1L1720 845.7L1716.7 842.5L1721.3 837.3L1729.9 836.7L1737 838.6L1738 840.4L1745 839.1L1749.7 842L1755 843.8L1760.2 846.4L1760.5 850.4L1768.1 853L1770.6 855.1L1763.4 859.6L1759.7 863.5ZM1685.7 849.1L1678.9 849.5L1672.2 849.9L1666.2 849.2L1660.2 848.5L1655 845.7L1657.3 840.4L1668 837.8L1674.4 838.2L1680.8 838.6L1685.6 840.4L1690.3 842.5L1689.6 846.4ZM1643 841.2L1645.3 843.3L1652.6 842.2L1661.1 838.6L1667.3 835.2L1662.5 834.9L1657.6 834.6L1648.6 836.5ZM1725.1 829.4L1730.1 829.5L1735 829.7L1739.9 829.8L1744.8 829.9L1753.6 826L1763.8 822.8L1770.6 820.7L1777.3 818.5L1784 816.3L1791.6 813.7L1787.1 813.1L1782.7 812.6L1778.3 812.1L1773.7 812.2L1769.1 812.2L1764.5 812.3L1759.9 812.4L1754.6 813L1749.4 813.7L1744 814.3L1738.7 815L1730.8 818.9L1734.7 822.8L1733.3 826.8ZM1742.5 833.3L1736.9 834L1731.3 834.6L1724.4 834.4L1717.4 834.1L1712 830.7L1721.8 828.6L1728.3 829.3L1734.8 829.9L1739.3 830.6L1743.9 831.2ZM1719.1 824.9L1726.3 824.5L1733.5 824.2L1739.5 819.7L1735.1 818.4L1730.8 817.1L1721.8 820.2ZM1667.1 833.3L1673.9 833.6L1680.8 833.9L1690.6 832L1689.1 829.4L1681.8 829.7L1674.5 829.9ZM1705 841.2L1710.7 840.5L1716.3 839.9L1720.1 836L1715 836L1709.8 836ZM1690.2 841.2L1695.5 841.9L1700.9 842.5L1705.7 837.3L1697.1 836.5ZM1710.4 863.5L1716 863.5L1721.6 863.5L1726.8 859.6L1719.2 856.9L1713.8 858.8ZM1761.6 905.2L1769.2 907.3L1776.4 907.8L1777.7 904.9L1776.5 900.7L1772.1 898.9L1772.9 895L1769 896.3L1765.8 900.2L1761.8 904.1ZM1851.3 858.2L1856 855.9L1865.9 856.4L1873.6 856.1L1875.5 859.6L1872 861.4L1864 863.8L1855.1 862.7L1856.6 860.1L1852.2 859.6ZM1685.8 972.3L1693.9 969.2L1701.4 971L1708.8 974.9L1713.2 977L1704.6 977.8L1703.5 975.7L1697.4 972.3L1690.9 972.3ZM1712 981.5L1716.3 977.6L1724 978.1L1727.9 981.2L1721 982.8L1715.9 982.3ZM1702.1 981.8L1707.3 982.3L1705.4 983.3L1702 982.8ZM1731 981.5L1735.1 981.8L1734.5 982.8L1730.9 982.8ZM1703.1 1007.2L1708 1001.9L1714.7 999.8L1718.7 997.5L1718.5 1001.7L1722.5 999.3L1727.6 1002.2L1736.7 1003L1743.3 1001.9L1748.4 1007.7L1754.7 1014.3L1763.9 1014.8L1770.4 1018.5L1774.3 1025.5L1774.2 1030L1779.5 1031.8L1788.7 1036.6L1797.9 1037.6L1804.5 1040L1812.9 1043.6L1814.3 1048.9L1813.1 1054.9L1808.8 1060.2L1805 1064.1L1804 1073.3L1802.5 1081.1L1799.5 1087.7L1794.5 1090.3L1786.9 1092.9L1780.9 1097.7L1781.1 1103.4L1776.9 1110L1772.8 1114.7L1770.3 1119.2L1764.2 1121.3L1758.1 1119.2L1762.2 1125.2L1760.4 1130.2L1750.8 1132.3L1750.9 1137.5L1744.2 1137.5L1747.6 1142L1745.1 1148L1740.8 1150.6L1745.5 1155.3L1742 1161.1L1740.5 1166.4L1743 1167.7L1743.7 1171.6L1752 1173.7L1746 1175.5L1737 1172.9L1729.5 1167.7L1725.2 1161.1L1721.9 1153.2L1724.9 1145.4L1722.7 1138.8L1722.1 1129.6L1722.7 1121.8L1723.6 1111.3L1722.8 1102.1L1724.2 1091.6L1723.3 1079.8L1720.1 1075.9L1711.5 1071.4L1706.4 1066.2L1703.5 1061.5L1698.6 1051.5L1693.1 1045.7L1692.5 1041.3L1696.1 1036.6L1693.4 1032.6L1695.5 1028.7L1698.7 1025.5L1702.2 1019.5L1702.9 1012.4L1701.3 1011.1ZM1890.9 936.1L1900.5 937.7L1908 934.3L1918.1 933.5L1930.1 932.2L1933.1 933.5L1930.7 939.5L1934.6 942.9L1944.3 945.3L1953.9 950.5L1956.8 945.3L1963.8 944.3L1970.3 947.1L1979.3 949L1987.7 948.2L1988.4 951.3L1992.1 957.9L1997 967.1L2001.8 974.9L2002.6 981.5L2007.6 989.4L2013 994.6L2018.4 997.2L2018.7 999.8L2023.2 1002.5L2031 1000.6L2039.3 999.1L2038.5 1005.1L2034 1014.3L2028.8 1022.1L2021 1027.4L2014.4 1034.7L2009.1 1041.8L2007.7 1048.4L2011.4 1057.5L2011.3 1069.3L2001.7 1076.7L1996.2 1082.4L1997 1092.9L1989.8 1097.7L1989.1 1104.7L1983.1 1111.3L1975.1 1117.8L1970 1119.2L1961.1 1119.7L1956 1121.3L1952 1119.7L1951.2 1113.9L1947.7 1105L1944 1098.2L1943 1089L1939.8 1082.4L1936.7 1075.9L1938.7 1069.3L1940.8 1062.8L1939.5 1053.6L1937.5 1045.7L1930.4 1035.2L1929.1 1027.9L1931 1020.8L1927.8 1018.2L1921.2 1018.7L1917.3 1013.5L1908.6 1014.3L1900.3 1017.4L1892.4 1016.6L1885.8 1018.5L1880.6 1014.8L1875.4 1011.6L1870.7 1006.4L1866.3 1001.2L1861.6 997.5L1859.9 991.5L1863.1 985.4L1863.5 978.9L1861.5 974.9L1864.2 967.9L1868.2 961.8L1872.2 957.1L1880 952.6L1880.6 947.4L1884 942.7L1889.1 940.1ZM2034.3 1061.5L2036.6 1070.6L2034.2 1075.9L2029.6 1087.7L2026.4 1095.6L2021.2 1096.9L2018.2 1091.6L2020.3 1082.4L2020 1074.6L2026.7 1070.6L2030.8 1065.4ZM1883.3 917.2L1885.8 915.4L1895.7 916.2L1901.3 916.2L1902.6 909.4L1899.4 906L1894.1 903.3L1901.6 902.3L1901.9 899.7L1906 900.2L1909.3 896.8L1913.9 895.2L1916.7 891L1922.1 889.7L1926.1 888.4L1924.7 884.5L1924.6 880.5L1929.9 878.7L1929.6 883.2L1931 887.6L1933.8 887.9L1938.6 888.7L1949.1 886.6L1952.2 887.4L1954.8 885L1954.4 880.5L1957.7 878.7L1962 880L1959.6 874.8L1969.8 873.7L1974.2 872.7L1964.9 871.6L1958.2 872.9L1954.1 870.8L1953.9 864.8L1960.9 859L1958.5 857.5L1954.1 858L1952.8 861.4L1947.2 865.3L1944.7 870L1948.6 872.9L1943.8 879.2L1942.9 882.6L1939 884.5L1935.5 884.5L1934.7 881.8L1931.4 876.6L1929.6 874.5L1924 877.6L1918.7 876.1L1916.9 870L1919 866.1L1924.5 863L1930 860.3L1934.1 855.6L1938 850.9L1945.1 847L1954.5 845.1L1960.5 843.6L1967.1 844.3L1971.6 845.7L1974.1 847.2L1983 848.5L1988.8 850.5L1994.8 852.5L1995.6 855.6L1990.4 856.9L1981.3 855.6L1977.9 855.1L1983.6 861.4L1990.4 862.2L1995.7 860.6L1993.7 856.9L2002.3 856.1L2000.9 850.9L2005.4 851.7L2008.5 854.8L2015 852.9L2021.4 850.9L2028.7 850.1L2035.1 847.2L2045.6 849.1L2051.3 849.9L2046.8 843.3L2048.3 839.1L2056.7 839.4L2059.8 843.8L2061.3 850.4L2066.6 854.8L2068 853L2062.6 846.4L2062.3 839.9L2068.7 840.2L2072.1 837.3L2077.9 836.6L2083.6 836L2082.4 832.8L2087.7 831.8L2092.9 830.7L2098.4 830.1L2103.9 829.4L2107.7 827.8L2111.5 826.3L2119.4 828.9L2124.9 829.4L2130.5 829.9L2139.3 836L2132 836L2138.9 836.7L2144.9 837L2150.8 837.3L2156.3 837.7L2161.9 838.1L2171.2 838.1L2179.4 843.3L2186.1 842.5L2191.4 842.5L2196.6 842.5L2197.6 839.4L2204.4 839.9L2211.2 840.4L2221.7 842.2L2230 844.1L2235.2 844L2240.3 843.8L2249.4 847.2L2256.9 847.2L2264.6 846.4L2273 849.1L2271 846.4L2276.7 846.7L2282.3 847L2293.4 849.1L2305.2 859.6L2300.9 860.9L2310.2 866.1L2305.2 867.2L2300.1 868.2L2296.1 872.7L2285.8 872.7L2282.8 873.2L2283 877.9L2287.2 882.6L2286 885.8L2284.9 890.5L2283.3 893.6L2280.6 896.3L2275 891L2269.6 883.2L2268.8 878.4L2271 871.4L2275.6 868.7L2276.8 866.1L2268.4 868.2L2260.9 868.7L2262 874.5L2253.2 875L2247.2 874.8L2241.3 874.5L2234.4 874.5L2228.1 881.8L2223.9 886.6L2230.6 888.9L2238.9 891L2242.3 893.1L2243.2 898.9L2245.2 903.6L2242.9 908.1L2239.2 913.3L2234.1 917.8L2230.2 916.7L2228.5 919.1L2226.8 921.2L2222.9 925.6L2230.2 933L2231.3 937.4L2225 939.8L2222.5 933.5L2222.8 931.1L2217.9 929L2217.6 926.2L2214.8 925.1L2208.9 927.7L2207.6 923L2202.3 927.2L2199.4 928.3L2203.2 931.7L2212.7 932.5L2208.1 935.6L2206.3 938.2L2211.9 944.8L2215.4 948.7L2216.6 952.6L2214.2 957.9L2212.8 963.1L2208.4 967.6L2200.8 971.3L2192.7 973.9L2191.3 976.8L2186.1 973.1L2181.9 976.2L2180.1 980.2L2183.9 985.9L2188.8 989.9L2191 997.2L2186.2 1002.5L2180.5 1007.2L2180.2 1003L2174.9 1001.2L2172.8 998L2168.9 994.9L2166.8 998.5L2165.4 1005.1L2168.9 1011.1L2173.7 1013.7L2176.8 1018.7L2179 1026.3L2176.9 1026.1L2171.3 1022.1L2168.5 1015.6L2163 1008.5L2163.4 1002.5L2162.1 994.6L2159.5 986.7L2154.2 988.6L2151 987.5L2150.3 980.7L2144.4 974.9L2142.7 971.3L2139.4 971.5L2133.9 973.1L2130.6 974.1L2129.7 977L2125.5 979.7L2119.4 986.2L2114.7 988.8L2114.9 995.4L2114.3 1003L2110.3 1006.7L2108.5 1008.8L2105.2 1004.3L2100.8 996.2L2096.9 988L2094.4 980.2L2093.7 974.4L2088.1 975.5L2083.8 971.8L2087 970L2081.4 967.9L2077.9 964.7L2065.8 963.9L2054.6 962.9L2051.7 959.2L2045.4 960.2L2037.4 956.8L2033.5 951.3L2029.6 950.8L2028.8 953.2L2033.8 960L2035.9 963.1L2038.1 962.1L2037.6 966L2044.6 966.5L2049.6 961.8L2051.3 965.8L2056.6 968.1L2060 971L2057.1 976.5L2055.3 980.2L2049 984.1L2041.4 987.5L2032.6 993.3L2023 996.4L2018.6 996.7L2016.8 991.2L2016.9 986.7L2011.3 978.9L2006.9 973.6L2004.8 967.6L1999.8 961.8L1995.1 956.6L1994.6 952.6L1993.3 957.1L1990.4 954.5L1988.6 951.3L1987.7 948.2L1992.5 947.9L1994.2 943.5L1996.2 936.9L1996.4 933.8L1991 934.8L1987.2 935.3L1982.3 933.5L1978.4 934.3L1974 933L1971.3 929.6L1972.3 926.4L1970.7 924.8L1977.4 922.2L1983.1 922L1988.4 919.9L1992.1 919.9L1996.7 921.7L2003.5 922.2L2008.3 921.2L2007.9 918L2003.2 915.7L1996.8 911.2L1998.7 908.9L2001 906.2L1995.5 906.8L1991.3 908.6L1991.1 910.7L1994.8 911.2L1992 912.3L1988.2 913.6L1985 911.2L1987.2 909.1L1982.9 907.8L1980.3 908.1L1978.2 911.5L1975.8 914.6L1974.6 918.6L1975.4 921.2L1977.4 921.8L1973.8 923L1970.6 924.3L1970 922.8L1965.1 923L1964.7 925.1L1962.1 923.8L1963.4 927.2L1965.6 930.4L1963.1 931.7L1963.8 934.3L1960 933.5L1958.5 929.6L1955.3 925.9L1953.6 921.2L1952.4 919.1L1947.4 916.7L1942.8 913.8L1939 910.4L1935.8 911.2L1936 914.1L1939 915.9L1944.6 919.9L1945.1 920.4L1951.5 924.3L1947.7 923.8L1946.8 925.9L1948.2 927.7L1945.5 930.4L1944.8 925.6L1941.5 923.3L1935.9 920.4L1931.4 917.5L1930.1 914.6L1927.1 913.6L1923.9 915.1L1920.8 917L1916.6 916.2L1913.1 917L1913.4 920.1L1907.5 922.5L1904.8 926.4L1906 928.5L1903.7 931.4L1900 933.5L1894.2 933.8L1891.9 935.3L1889.7 934L1886.9 932.5L1883.2 933L1883.8 929L1881.8 928.3L1883.7 922.5ZM1517.6 849.1L1522.6 852.2L1526.9 853.3L1531.2 854.3L1531.3 856.9L1521.2 860.9L1516.1 858.2L1512.5 856.4L1505.8 859.6ZM1891.8 898.9L1897.1 898.1L1903.1 897.1L1908.8 895.7L1909.5 891.8L1906.2 891L1905 887.9L1902 885.8L1900.8 883.2L1900.9 879L1897.4 878.7L1898.6 876.3L1894 876.3L1892 879.2L1892.6 883.2L1894.2 886L1897.7 886.3L1898.4 890L1894.8 890.2L1895.3 893.1L1893.1 894.2L1897.6 895.2L1895.2 896.3ZM1881.6 894.7L1890.5 893.1L1891.3 889.7L1892.3 886.8L1890.2 885.3L1886.2 885.3L1881.9 887.9L1883 890.5L1881.7 893.1ZM1925.7 821.3L1933.2 826.8L1939.5 828.9L1946.7 824.7L1951.9 822.2L1957 819.7L1950.2 819.2L1943.4 818.6L1938.9 819.6L1934.2 820.5ZM2014.1 842.5L2022.4 844.6L2027.3 843.8L2021.4 837.3L2025.4 834.6L2029.1 832L2033.6 830.9L2038 829.7L2042.3 828.6L2037 828.1L2032.2 829L2027.3 829.8L2022.4 830.7L2016.7 836L2015.2 839.9ZM2089.9 822.8L2096.1 824.2L2102.2 825.5L2105.8 824.2L2109.3 822.8L2101.7 820.2L2094 817.6L2090 818.3L2085.9 818.9ZM2183.2 832L2189.1 832.5L2195.1 832.9L2201 833.3L2205.6 832.9L2210.2 832.5L2201.9 831.6L2193.7 830.7L2188.7 830.7L2183.6 830.7ZM1995.2 819.7L2000.4 819.9L2005.6 820L2010.8 820.2L2016.8 819.2L2022.7 818.1L2013.6 815.8L2009 816.4L2004.4 817L1999.7 817.6ZM2240.5 887.6L2246.3 892.3L2249.7 898.9L2254.2 901.5L2253.2 906.8L2253.3 909.4L2250.2 905.4L2246.8 898.9L2242.5 892.3ZM2252.3 921.2L2254.9 918.6L2259.7 919.9L2263.9 916.5L2260.1 914.6L2252.3 911L2253.5 916.5L2251.4 917.2ZM2255.7 921.7L2259.3 926.4L2258.8 931.7L2259.9 936.4L2257.3 938.2L2251.8 939.3L2249.2 942.2L2244.8 942.7L2242.1 944L2240.5 947.4L2238.3 948.7L2236.1 946.1L2234 942.9L2236.2 941.1L2239.3 937.2L2244.2 936.6L2247.6 935.6L2249 932.2L2252.6 931.9L2254.1 929L2253.9 925.1L2253.3 922.5ZM2216.8 963.9L2219.2 964.4L2218.9 968.4L2217.8 972.3L2215.4 969.2L2216.1 965.8ZM2187.5 979.4L2191.1 977.3L2193.3 978.3L2191.9 981.5L2188.6 982ZM2114.9 1004.6L2118.2 1007.7L2119.9 1011.6L2117.1 1014.3L2114.7 1011.6L2114.5 1006.9ZM2218.4 981.5L2222.9 981.8L2223 986.7L2222.1 989.9L2225.1 993.3L2229.2 995.4L2229.4 997L2225.7 994.3L2221.3 994.1L2219.1 991.2L2217.6 987.3L2218.5 984.1ZM2225.3 1011.6L2228.9 1007.4L2233.5 1004.6L2236.9 1009L2236.4 1013.2L2234.6 1015.1L2230.6 1013.5L2228.3 1010.3ZM2224.4 999.1L2228.5 1001.2L2233.4 997.7L2233.9 1003L2230 1004.3L2226.1 1004.3L2224.6 1001.9ZM2212.7 1008L2218.1 1001.7L2218.5 1000.4L2214.4 1005.6ZM2191.6 1026.1L2193.2 1024.8L2197.6 1023.4L2202 1021.6L2205.9 1017.7L2211.4 1011.9L2214.1 1013.5L2217.6 1016.4L2215.1 1019L2214.4 1023.4L2217.3 1027.4L2213.9 1028.7L2213.9 1032.6L2211.3 1036L2210.4 1040.5L2205.9 1040.5L2203.3 1038.4L2198.9 1038.9L2194.7 1037.3L2194 1033.4L2191.6 1030ZM2155.4 1015.3L2161.2 1016.4L2168.7 1022.9L2173.2 1026.6L2177.7 1032.1L2179.8 1036L2183.7 1037.9L2182.9 1045.2L2179.5 1045.2L2173.9 1040.5L2169.3 1033.9L2165.4 1029.2L2161.4 1024.2L2156 1018.2ZM2181.3 1047.8L2184.8 1045.7L2189.9 1047.6L2196 1046.8L2200.9 1048.1L2205.5 1050.2L2204.8 1052.8L2196.3 1051.8L2188.5 1050.5L2184.3 1049.4ZM2207.3 1051.5L2217.2 1051.8L2217.1 1053.3L2211.3 1053.6L2207.2 1052.8ZM2219.6 1052L2227.7 1051.8L2227.1 1053.3L2219.7 1053.3ZM2228.6 1057L2232.8 1053.6L2238.9 1052L2235.3 1054.9L2229.9 1057ZM2217 1054.9L2221.6 1056.2L2219.5 1057ZM2218.6 1044.7L2219.3 1038.9L2217.5 1036.8L2220.2 1029.5L2222.8 1026.6L2231 1027.4L2234.1 1025.8L2231.8 1029.2L2222.3 1028.7L2221.3 1032.4L2229.4 1032.1L2224.9 1035L2227.9 1041.3L2228.6 1043.9L2225.5 1043.1L2224.3 1038.4L2222.8 1037.1L2221.3 1044.4ZM2249.4 1032.1L2257.2 1032.1L2259.8 1038.7L2267.2 1033.9L2275.5 1036.8L2284.6 1040.2L2288.4 1044.4L2293 1045.7L2290.8 1047.8L2293.7 1051.5L2300 1057L2292.7 1056.7L2288 1051.5L2282.8 1050.2L2279.9 1054.1L2274.7 1053.9L2270.4 1051L2267 1051.8L2268.5 1047.8L2266.9 1043.9L2261 1041.5L2254.5 1040.5L2254 1037.3L2256.7 1036L2251.9 1035.8L2249.4 1033.7ZM2294.9 1044.7L2300.2 1044.4L2304.8 1041L2304.1 1044.2L2298.8 1046.5ZM2240.4 1024.8L2243.1 1027.4L2241.5 1031.8L2240.2 1028.7ZM2241.4 1037.9L2248.7 1038.4L2245.3 1039.2ZM2198.9 1087.7L2198.9 1098.2L2198.7 1108.7L2199.3 1113.9L2196 1119.9L2203.1 1121.8L2208.9 1118.9L2217.7 1118.9L2225.2 1114.7L2233.3 1112.9L2239 1112.6L2245.2 1116L2247.4 1121.3L2249.5 1118.4L2254.5 1116L2252.1 1122.3L2254.2 1123.4L2256 1127L2258.2 1129.9L2263.8 1131.7L2268.1 1130.2L2270.6 1132.3L2276 1129.1L2281.5 1127.8L2285.8 1121.8L2288.8 1117.3L2293.9 1112.6L2298.3 1104.7L2298.9 1096.9L2295 1091.6L2291.8 1088.5L2290.4 1082.4L2285.2 1079.8L2285.2 1075.1L2284.2 1069.3L2280.3 1067.5L2280 1061.5L2278.2 1058.1L2275.5 1064.1L2274.2 1070.6L2271.6 1075.9L2267.7 1075.9L2263.6 1072L2258.7 1069.3L2260 1065.4L2262.9 1062L2258.3 1061.5L2251.9 1059.6L2247.8 1062L2243.6 1068.8L2240 1068.8L2236.9 1066.2L2232.8 1068L2228.3 1072.7L2223.5 1075.9L2222.3 1078.5L2216.6 1081.9L2208.5 1084L2203 1086.4ZM2264.7 1137L2268.8 1137.8L2273.3 1137.2L2270.4 1142.8L2266 1144.3L2264.3 1141.4ZM2341.5 1120.5L2343.9 1124.4L2346.2 1126.2L2346.4 1128.6L2352 1128.9L2347.6 1133.1L2344.8 1136.2L2339.4 1139.1L2339.8 1136.2L2338.8 1133.1L2342.6 1129.6L2343.4 1125.7L2341.8 1121.8ZM2334.5 1136.5L2337.4 1138L2333.9 1141.4L2330.4 1144.9L2325.5 1146.7L2321.9 1150.6L2315.9 1152.2L2311.9 1150.6L2317.9 1146.2L2325.9 1142.8L2332.2 1137.5Z"/></clipPath><filter id="bl8" x="-50%" y="-50%" width="200%" height="200%"><feGaussianBlur stdDeviation="8"/></filter><filter id="bl4" x="-50%" y="-50%" width="200%" height="200%"><feGaussianBlur stdDeviation="4"/></filter><filter id="bl14" x="-50%" y="-50%" width="200%" height="200%"><feGaussianBlur stdDeviation="14"/></filter></defs><g clip-path="url(#mapclip)"><rect x="1433.0" y="794.0" width="945.0" height="472.0" fill="#78add3"/><g filter="url(#bl14)"><ellipse cx="1516.7" cy="977.6" rx="103.7" ry="65.6" fill="#6b9fca" opacity="0.8"/><ellipse cx="1574.0" cy="1108.7" rx="114.7" ry="57.7" fill="#6b9fca" opacity="0.8"/><ellipse cx="1777.5" cy="956.6" rx="35.8" ry="26.2" fill="#6b9fca" opacity="0.8"/><ellipse cx="1841.2" cy="1095.6" rx="30.9" ry="47.2" fill="#6b9fca" opacity="0.8"/><ellipse cx="2111.4" cy="1095.6" rx="51.5" ry="39.3" fill="#6b9fca" opacity="0.8"/><ellipse cx="2294.3" cy="977.6" rx="57.0" ry="36.7" fill="#6b9fca" opacity="0.8"/><ellipse cx="2351.4" cy="1043.1" rx="52.5" ry="39.3" fill="#6b9fca" opacity="0.8"/><ellipse cx="1819.8" cy="912.0" rx="24.5" ry="15.7" fill="#6b9fca" opacity="0.8"/><ellipse cx="2049.7" cy="1161.1" rx="120.2" ry="21.0" fill="#6b9fca" opacity="0.8"/><ellipse cx="1623.3" cy="1174.2" rx="117.6" ry="21.0" fill="#6b9fca" opacity="0.8"/></g><path d="M1533.8 858.2L1546.3 850.4L1555.8 847.9L1565.3 845.5L1574.7 843L1579.4 843.8L1584.1 844.5L1588.8 845.3L1593.5 846L1598.3 846.8L1603.1 847.5L1608.9 847.3L1614.6 847.1L1620.4 846.9L1626.2 846.7L1631.9 846.4L1637.2 847.1L1642.6 847.8L1647.9 848.4L1653.3 849.1L1659.2 849.9L1665 850.8L1670.9 851.7L1677.4 851.7L1683.9 851.7L1690.4 851.7L1697 851.7L1708.1 841.2L1711.5 849.1L1717.3 848.4L1723.1 847.8L1730.2 850.4L1724.7 856.9L1717.9 859.6L1711 862.2L1702.7 865.5L1694.3 868.7L1687.4 876.1L1691.3 880.5L1698.6 882.8L1705.9 885L1710.9 891L1715.6 895L1720 888.4L1726.2 880.5L1726.8 872.7L1730.6 866.1L1740.2 867.4L1746.7 871.4L1753 876.6L1758 871.9L1762 881.8L1770.5 889.7L1772.7 893.6L1763.7 898.9L1756.5 898.6L1749.4 898.4L1741.4 901.5L1734.1 906.8L1745 901.5L1748.9 905.4L1748.1 909.4L1756.4 910.7L1758.4 906.8L1759.1 909.4L1749.8 913L1743 915.9L1743.9 912L1741.4 912L1733.3 915.4L1730.6 919.9L1732.2 920.7L1721.6 923.8L1716.6 930.4L1714.8 933L1715.2 937.7L1709.6 940.8L1704.1 943.5L1699.6 947.4L1698.2 951.3L1700.3 959.2L1699.2 963.7L1695.8 963.9L1693.7 957.4L1693.6 952.6L1690 951.3L1686.3 950.5L1678.6 950.8L1676.9 953.4L1673.1 953.2L1665.6 952.6L1657.2 956.6L1654.8 963.1L1652.8 971.5L1656.3 980.2L1660 982.3L1667.9 981.5L1671.2 974.9L1680.4 973.6L1678.3 981.5L1675 988L1681.5 988.6L1688.4 990.7L1687.1 1001.2L1690.8 1006.4L1697.4 1005.1L1703.1 1007.2L1701.3 1011.1L1695.8 1010.9L1692 1009.5L1688.1 1008.2L1683.1 1003.8L1681.1 1001.2L1677 995.9L1666.8 993.3L1660.8 987.5L1654.1 988.8L1647.9 986.5L1640.5 982.8L1632 977.6L1632.8 972.3L1629.7 967.1L1624.2 961.8L1618.3 952.6L1614.1 946.9L1613.5 951.3L1617.2 957.9L1620.9 965.8L1622.3 969.7L1617.2 965L1612.3 957.1L1610.9 951.9L1608.5 944.8L1606 940.8L1601.1 939.3L1599.2 933.5L1598.8 930.9L1597.2 924.3L1599 917.2L1603.1 908.9L1603.8 903.1L1608.6 901.5L1605.6 897.6L1600.9 895L1599.1 887.1L1597.4 881.8L1595.1 877.9L1590.2 876.6L1585.1 873.2L1575.6 872.7L1569.6 870L1560 870.6L1557.1 874.5L1549.8 876.6L1538.8 880.5L1529 884.5L1520.7 886.3L1528.8 883.2L1537.4 879.2L1542.7 875.3L1533.5 875.3L1533.9 871.9L1529.7 868.7L1535.9 864.3L1544.9 863L1546.2 860.3L1540.5 860.5L1534.8 860.6ZM1756.1 867.4L1747.5 866.1L1740.4 861.4L1731.7 860.9L1737.9 856.9L1745.1 855.6L1747.3 850.9L1742.7 849.3L1738.1 847.8L1730.2 846.4L1725.1 846.1L1720 845.7L1716.7 842.5L1721.3 837.3L1729.9 836.7L1737 838.6L1738 840.4L1745 839.1L1749.7 842L1755 843.8L1760.2 846.4L1760.5 850.4L1768.1 853L1770.6 855.1L1763.4 859.6L1759.7 863.5ZM1685.7 849.1L1678.9 849.5L1672.2 849.9L1666.2 849.2L1660.2 848.5L1655 845.7L1657.3 840.4L1668 837.8L1674.4 838.2L1680.8 838.6L1685.6 840.4L1690.3 842.5L1689.6 846.4ZM1643 841.2L1645.3 843.3L1652.6 842.2L1661.1 838.6L1667.3 835.2L1662.5 834.9L1657.6 834.6L1648.6 836.5ZM1725.1 829.4L1730.1 829.5L1735 829.7L1739.9 829.8L1744.8 829.9L1753.6 826L1763.8 822.8L1770.6 820.7L1777.3 818.5L1784 816.3L1791.6 813.7L1787.1 813.1L1782.7 812.6L1778.3 812.1L1773.7 812.2L1769.1 812.2L1764.5 812.3L1759.9 812.4L1754.6 813L1749.4 813.7L1744 814.3L1738.7 815L1730.8 818.9L1734.7 822.8L1733.3 826.8ZM1742.5 833.3L1736.9 834L1731.3 834.6L1724.4 834.4L1717.4 834.1L1712 830.7L1721.8 828.6L1728.3 829.3L1734.8 829.9L1739.3 830.6L1743.9 831.2ZM1719.1 824.9L1726.3 824.5L1733.5 824.2L1739.5 819.7L1735.1 818.4L1730.8 817.1L1721.8 820.2ZM1667.1 833.3L1673.9 833.6L1680.8 833.9L1690.6 832L1689.1 829.4L1681.8 829.7L1674.5 829.9ZM1705 841.2L1710.7 840.5L1716.3 839.9L1720.1 836L1715 836L1709.8 836ZM1690.2 841.2L1695.5 841.9L1700.9 842.5L1705.7 837.3L1697.1 836.5ZM1710.4 863.5L1716 863.5L1721.6 863.5L1726.8 859.6L1719.2 856.9L1713.8 858.8ZM1761.6 905.2L1769.2 907.3L1776.4 907.8L1777.7 904.9L1776.5 900.7L1772.1 898.9L1772.9 895L1769 896.3L1765.8 900.2L1761.8 904.1ZM1851.3 858.2L1856 855.9L1865.9 856.4L1873.6 856.1L1875.5 859.6L1872 861.4L1864 863.8L1855.1 862.7L1856.6 860.1L1852.2 859.6ZM1685.8 972.3L1693.9 969.2L1701.4 971L1708.8 974.9L1713.2 977L1704.6 977.8L1703.5 975.7L1697.4 972.3L1690.9 972.3ZM1712 981.5L1716.3 977.6L1724 978.1L1727.9 981.2L1721 982.8L1715.9 982.3ZM1702.1 981.8L1707.3 982.3L1705.4 983.3L1702 982.8ZM1731 981.5L1735.1 981.8L1734.5 982.8L1730.9 982.8ZM1703.1 1007.2L1708 1001.9L1714.7 999.8L1718.7 997.5L1718.5 1001.7L1722.5 999.3L1727.6 1002.2L1736.7 1003L1743.3 1001.9L1748.4 1007.7L1754.7 1014.3L1763.9 1014.8L1770.4 1018.5L1774.3 1025.5L1774.2 1030L1779.5 1031.8L1788.7 1036.6L1797.9 1037.6L1804.5 1040L1812.9 1043.6L1814.3 1048.9L1813.1 1054.9L1808.8 1060.2L1805 1064.1L1804 1073.3L1802.5 1081.1L1799.5 1087.7L1794.5 1090.3L1786.9 1092.9L1780.9 1097.7L1781.1 1103.4L1776.9 1110L1772.8 1114.7L1770.3 1119.2L1764.2 1121.3L1758.1 1119.2L1762.2 1125.2L1760.4 1130.2L1750.8 1132.3L1750.9 1137.5L1744.2 1137.5L1747.6 1142L1745.1 1148L1740.8 1150.6L1745.5 1155.3L1742 1161.1L1740.5 1166.4L1743 1167.7L1743.7 1171.6L1752 1173.7L1746 1175.5L1737 1172.9L1729.5 1167.7L1725.2 1161.1L1721.9 1153.2L1724.9 1145.4L1722.7 1138.8L1722.1 1129.6L1722.7 1121.8L1723.6 1111.3L1722.8 1102.1L1724.2 1091.6L1723.3 1079.8L1720.1 1075.9L1711.5 1071.4L1706.4 1066.2L1703.5 1061.5L1698.6 1051.5L1693.1 1045.7L1692.5 1041.3L1696.1 1036.6L1693.4 1032.6L1695.5 1028.7L1698.7 1025.5L1702.2 1019.5L1702.9 1012.4L1701.3 1011.1ZM1890.9 936.1L1900.5 937.7L1908 934.3L1918.1 933.5L1930.1 932.2L1933.1 933.5L1930.7 939.5L1934.6 942.9L1944.3 945.3L1953.9 950.5L1956.8 945.3L1963.8 944.3L1970.3 947.1L1979.3 949L1987.7 948.2L1988.4 951.3L1992.1 957.9L1997 967.1L2001.8 974.9L2002.6 981.5L2007.6 989.4L2013 994.6L2018.4 997.2L2018.7 999.8L2023.2 1002.5L2031 1000.6L2039.3 999.1L2038.5 1005.1L2034 1014.3L2028.8 1022.1L2021 1027.4L2014.4 1034.7L2009.1 1041.8L2007.7 1048.4L2011.4 1057.5L2011.3 1069.3L2001.7 1076.7L1996.2 1082.4L1997 1092.9L1989.8 1097.7L1989.1 1104.7L1983.1 1111.3L1975.1 1117.8L1970 1119.2L1961.1 1119.7L1956 1121.3L1952 1119.7L1951.2 1113.9L1947.7 1105L1944 1098.2L1943 1089L1939.8 1082.4L1936.7 1075.9L1938.7 1069.3L1940.8 1062.8L1939.5 1053.6L1937.5 1045.7L1930.4 1035.2L1929.1 1027.9L1931 1020.8L1927.8 1018.2L1921.2 1018.7L1917.3 1013.5L1908.6 1014.3L1900.3 1017.4L1892.4 1016.6L1885.8 1018.5L1880.6 1014.8L1875.4 1011.6L1870.7 1006.4L1866.3 1001.2L1861.6 997.5L1859.9 991.5L1863.1 985.4L1863.5 978.9L1861.5 974.9L1864.2 967.9L1868.2 961.8L1872.2 957.1L1880 952.6L1880.6 947.4L1884 942.7L1889.1 940.1ZM2034.3 1061.5L2036.6 1070.6L2034.2 1075.9L2029.6 1087.7L2026.4 1095.6L2021.2 1096.9L2018.2 1091.6L2020.3 1082.4L2020 1074.6L2026.7 1070.6L2030.8 1065.4ZM1883.3 917.2L1885.8 915.4L1895.7 916.2L1901.3 916.2L1902.6 909.4L1899.4 906L1894.1 903.3L1901.6 902.3L1901.9 899.7L1906 900.2L1909.3 896.8L1913.9 895.2L1916.7 891L1922.1 889.7L1926.1 888.4L1924.7 884.5L1924.6 880.5L1929.9 878.7L1929.6 883.2L1931 887.6L1933.8 887.9L1938.6 888.7L1949.1 886.6L1952.2 887.4L1954.8 885L1954.4 880.5L1957.7 878.7L1962 880L1959.6 874.8L1969.8 873.7L1974.2 872.7L1964.9 871.6L1958.2 872.9L1954.1 870.8L1953.9 864.8L1960.9 859L1958.5 857.5L1954.1 858L1952.8 861.4L1947.2 865.3L1944.7 870L1948.6 872.9L1943.8 879.2L1942.9 882.6L1939 884.5L1935.5 884.5L1934.7 881.8L1931.4 876.6L1929.6 874.5L1924 877.6L1918.7 876.1L1916.9 870L1919 866.1L1924.5 863L1930 860.3L1934.1 855.6L1938 850.9L1945.1 847L1954.5 845.1L1960.5 843.6L1967.1 844.3L1971.6 845.7L1974.1 847.2L1983 848.5L1988.8 850.5L1994.8 852.5L1995.6 855.6L1990.4 856.9L1981.3 855.6L1977.9 855.1L1983.6 861.4L1990.4 862.2L1995.7 860.6L1993.7 856.9L2002.3 856.1L2000.9 850.9L2005.4 851.7L2008.5 854.8L2015 852.9L2021.4 850.9L2028.7 850.1L2035.1 847.2L2045.6 849.1L2051.3 849.9L2046.8 843.3L2048.3 839.1L2056.7 839.4L2059.8 843.8L2061.3 850.4L2066.6 854.8L2068 853L2062.6 846.4L2062.3 839.9L2068.7 840.2L2072.1 837.3L2077.9 836.6L2083.6 836L2082.4 832.8L2087.7 831.8L2092.9 830.7L2098.4 830.1L2103.9 829.4L2107.7 827.8L2111.5 826.3L2119.4 828.9L2124.9 829.4L2130.5 829.9L2139.3 836L2132 836L2138.9 836.7L2144.9 837L2150.8 837.3L2156.3 837.7L2161.9 838.1L2171.2 838.1L2179.4 843.3L2186.1 842.5L2191.4 842.5L2196.6 842.5L2197.6 839.4L2204.4 839.9L2211.2 840.4L2221.7 842.2L2230 844.1L2235.2 844L2240.3 843.8L2249.4 847.2L2256.9 847.2L2264.6 846.4L2273 849.1L2271 846.4L2276.7 846.7L2282.3 847L2293.4 849.1L2305.2 859.6L2300.9 860.9L2310.2 866.1L2305.2 867.2L2300.1 868.2L2296.1 872.7L2285.8 872.7L2282.8 873.2L2283 877.9L2287.2 882.6L2286 885.8L2284.9 890.5L2283.3 893.6L2280.6 896.3L2275 891L2269.6 883.2L2268.8 878.4L2271 871.4L2275.6 868.7L2276.8 866.1L2268.4 868.2L2260.9 868.7L2262 874.5L2253.2 875L2247.2 874.8L2241.3 874.5L2234.4 874.5L2228.1 881.8L2223.9 886.6L2230.6 888.9L2238.9 891L2242.3 893.1L2243.2 898.9L2245.2 903.6L2242.9 908.1L2239.2 913.3L2234.1 917.8L2230.2 916.7L2228.5 919.1L2226.8 921.2L2222.9 925.6L2230.2 933L2231.3 937.4L2225 939.8L2222.5 933.5L2222.8 931.1L2217.9 929L2217.6 926.2L2214.8 925.1L2208.9 927.7L2207.6 923L2202.3 927.2L2199.4 928.3L2203.2 931.7L2212.7 932.5L2208.1 935.6L2206.3 938.2L2211.9 944.8L2215.4 948.7L2216.6 952.6L2214.2 957.9L2212.8 963.1L2208.4 967.6L2200.8 971.3L2192.7 973.9L2191.3 976.8L2186.1 973.1L2181.9 976.2L2180.1 980.2L2183.9 985.9L2188.8 989.9L2191 997.2L2186.2 1002.5L2180.5 1007.2L2180.2 1003L2174.9 1001.2L2172.8 998L2168.9 994.9L2166.8 998.5L2165.4 1005.1L2168.9 1011.1L2173.7 1013.7L2176.8 1018.7L2179 1026.3L2176.9 1026.1L2171.3 1022.1L2168.5 1015.6L2163 1008.5L2163.4 1002.5L2162.1 994.6L2159.5 986.7L2154.2 988.6L2151 987.5L2150.3 980.7L2144.4 974.9L2142.7 971.3L2139.4 971.5L2133.9 973.1L2130.6 974.1L2129.7 977L2125.5 979.7L2119.4 986.2L2114.7 988.8L2114.9 995.4L2114.3 1003L2110.3 1006.7L2108.5 1008.8L2105.2 1004.3L2100.8 996.2L2096.9 988L2094.4 980.2L2093.7 974.4L2088.1 975.5L2083.8 971.8L2087 970L2081.4 967.9L2077.9 964.7L2065.8 963.9L2054.6 962.9L2051.7 959.2L2045.4 960.2L2037.4 956.8L2033.5 951.3L2029.6 950.8L2028.8 953.2L2033.8 960L2035.9 963.1L2038.1 962.1L2037.6 966L2044.6 966.5L2049.6 961.8L2051.3 965.8L2056.6 968.1L2060 971L2057.1 976.5L2055.3 980.2L2049 984.1L2041.4 987.5L2032.6 993.3L2023 996.4L2018.6 996.7L2016.8 991.2L2016.9 986.7L2011.3 978.9L2006.9 973.6L2004.8 967.6L1999.8 961.8L1995.1 956.6L1994.6 952.6L1993.3 957.1L1990.4 954.5L1988.6 951.3L1987.7 948.2L1992.5 947.9L1994.2 943.5L1996.2 936.9L1996.4 933.8L1991 934.8L1987.2 935.3L1982.3 933.5L1978.4 934.3L1974 933L1971.3 929.6L1972.3 926.4L1970.7 924.8L1977.4 922.2L1983.1 922L1988.4 919.9L1992.1 919.9L1996.7 921.7L2003.5 922.2L2008.3 921.2L2007.9 918L2003.2 915.7L1996.8 911.2L1998.7 908.9L2001 906.2L1995.5 906.8L1991.3 908.6L1991.1 910.7L1994.8 911.2L1992 912.3L1988.2 913.6L1985 911.2L1987.2 909.1L1982.9 907.8L1980.3 908.1L1978.2 911.5L1975.8 914.6L1974.6 918.6L1975.4 921.2L1977.4 921.8L1973.8 923L1970.6 924.3L1970 922.8L1965.1 923L1964.7 925.1L1962.1 923.8L1963.4 927.2L1965.6 930.4L1963.1 931.7L1963.8 934.3L1960 933.5L1958.5 929.6L1955.3 925.9L1953.6 921.2L1952.4 919.1L1947.4 916.7L1942.8 913.8L1939 910.4L1935.8 911.2L1936 914.1L1939 915.9L1944.6 919.9L1945.1 920.4L1951.5 924.3L1947.7 923.8L1946.8 925.9L1948.2 927.7L1945.5 930.4L1944.8 925.6L1941.5 923.3L1935.9 920.4L1931.4 917.5L1930.1 914.6L1927.1 913.6L1923.9 915.1L1920.8 917L1916.6 916.2L1913.1 917L1913.4 920.1L1907.5 922.5L1904.8 926.4L1906 928.5L1903.7 931.4L1900 933.5L1894.2 933.8L1891.9 935.3L1889.7 934L1886.9 932.5L1883.2 933L1883.8 929L1881.8 928.3L1883.7 922.5ZM1517.6 849.1L1522.6 852.2L1526.9 853.3L1531.2 854.3L1531.3 856.9L1521.2 860.9L1516.1 858.2L1512.5 856.4L1505.8 859.6ZM1891.8 898.9L1897.1 898.1L1903.1 897.1L1908.8 895.7L1909.5 891.8L1906.2 891L1905 887.9L1902 885.8L1900.8 883.2L1900.9 879L1897.4 878.7L1898.6 876.3L1894 876.3L1892 879.2L1892.6 883.2L1894.2 886L1897.7 886.3L1898.4 890L1894.8 890.2L1895.3 893.1L1893.1 894.2L1897.6 895.2L1895.2 896.3ZM1881.6 894.7L1890.5 893.1L1891.3 889.7L1892.3 886.8L1890.2 885.3L1886.2 885.3L1881.9 887.9L1883 890.5L1881.7 893.1ZM1925.7 821.3L1933.2 826.8L1939.5 828.9L1946.7 824.7L1951.9 822.2L1957 819.7L1950.2 819.2L1943.4 818.6L1938.9 819.6L1934.2 820.5ZM2014.1 842.5L2022.4 844.6L2027.3 843.8L2021.4 837.3L2025.4 834.6L2029.1 832L2033.6 830.9L2038 829.7L2042.3 828.6L2037 828.1L2032.2 829L2027.3 829.8L2022.4 830.7L2016.7 836L2015.2 839.9ZM2089.9 822.8L2096.1 824.2L2102.2 825.5L2105.8 824.2L2109.3 822.8L2101.7 820.2L2094 817.6L2090 818.3L2085.9 818.9ZM2183.2 832L2189.1 832.5L2195.1 832.9L2201 833.3L2205.6 832.9L2210.2 832.5L2201.9 831.6L2193.7 830.7L2188.7 830.7L2183.6 830.7ZM1995.2 819.7L2000.4 819.9L2005.6 820L2010.8 820.2L2016.8 819.2L2022.7 818.1L2013.6 815.8L2009 816.4L2004.4 817L1999.7 817.6ZM2240.5 887.6L2246.3 892.3L2249.7 898.9L2254.2 901.5L2253.2 906.8L2253.3 909.4L2250.2 905.4L2246.8 898.9L2242.5 892.3ZM2252.3 921.2L2254.9 918.6L2259.7 919.9L2263.9 916.5L2260.1 914.6L2252.3 911L2253.5 916.5L2251.4 917.2ZM2255.7 921.7L2259.3 926.4L2258.8 931.7L2259.9 936.4L2257.3 938.2L2251.8 939.3L2249.2 942.2L2244.8 942.7L2242.1 944L2240.5 947.4L2238.3 948.7L2236.1 946.1L2234 942.9L2236.2 941.1L2239.3 937.2L2244.2 936.6L2247.6 935.6L2249 932.2L2252.6 931.9L2254.1 929L2253.9 925.1L2253.3 922.5ZM2216.8 963.9L2219.2 964.4L2218.9 968.4L2217.8 972.3L2215.4 969.2L2216.1 965.8ZM2187.5 979.4L2191.1 977.3L2193.3 978.3L2191.9 981.5L2188.6 982ZM2114.9 1004.6L2118.2 1007.7L2119.9 1011.6L2117.1 1014.3L2114.7 1011.6L2114.5 1006.9ZM2218.4 981.5L2222.9 981.8L2223 986.7L2222.1 989.9L2225.1 993.3L2229.2 995.4L2229.4 997L2225.7 994.3L2221.3 994.1L2219.1 991.2L2217.6 987.3L2218.5 984.1ZM2225.3 1011.6L2228.9 1007.4L2233.5 1004.6L2236.9 1009L2236.4 1013.2L2234.6 1015.1L2230.6 1013.5L2228.3 1010.3ZM2224.4 999.1L2228.5 1001.2L2233.4 997.7L2233.9 1003L2230 1004.3L2226.1 1004.3L2224.6 1001.9ZM2212.7 1008L2218.1 1001.7L2218.5 1000.4L2214.4 1005.6ZM2191.6 1026.1L2193.2 1024.8L2197.6 1023.4L2202 1021.6L2205.9 1017.7L2211.4 1011.9L2214.1 1013.5L2217.6 1016.4L2215.1 1019L2214.4 1023.4L2217.3 1027.4L2213.9 1028.7L2213.9 1032.6L2211.3 1036L2210.4 1040.5L2205.9 1040.5L2203.3 1038.4L2198.9 1038.9L2194.7 1037.3L2194 1033.4L2191.6 1030ZM2155.4 1015.3L2161.2 1016.4L2168.7 1022.9L2173.2 1026.6L2177.7 1032.1L2179.8 1036L2183.7 1037.9L2182.9 1045.2L2179.5 1045.2L2173.9 1040.5L2169.3 1033.9L2165.4 1029.2L2161.4 1024.2L2156 1018.2ZM2181.3 1047.8L2184.8 1045.7L2189.9 1047.6L2196 1046.8L2200.9 1048.1L2205.5 1050.2L2204.8 1052.8L2196.3 1051.8L2188.5 1050.5L2184.3 1049.4ZM2207.3 1051.5L2217.2 1051.8L2217.1 1053.3L2211.3 1053.6L2207.2 1052.8ZM2219.6 1052L2227.7 1051.8L2227.1 1053.3L2219.7 1053.3ZM2228.6 1057L2232.8 1053.6L2238.9 1052L2235.3 1054.9L2229.9 1057ZM2217 1054.9L2221.6 1056.2L2219.5 1057ZM2218.6 1044.7L2219.3 1038.9L2217.5 1036.8L2220.2 1029.5L2222.8 1026.6L2231 1027.4L2234.1 1025.8L2231.8 1029.2L2222.3 1028.7L2221.3 1032.4L2229.4 1032.1L2224.9 1035L2227.9 1041.3L2228.6 1043.9L2225.5 1043.1L2224.3 1038.4L2222.8 1037.1L2221.3 1044.4ZM2249.4 1032.1L2257.2 1032.1L2259.8 1038.7L2267.2 1033.9L2275.5 1036.8L2284.6 1040.2L2288.4 1044.4L2293 1045.7L2290.8 1047.8L2293.7 1051.5L2300 1057L2292.7 1056.7L2288 1051.5L2282.8 1050.2L2279.9 1054.1L2274.7 1053.9L2270.4 1051L2267 1051.8L2268.5 1047.8L2266.9 1043.9L2261 1041.5L2254.5 1040.5L2254 1037.3L2256.7 1036L2251.9 1035.8L2249.4 1033.7ZM2294.9 1044.7L2300.2 1044.4L2304.8 1041L2304.1 1044.2L2298.8 1046.5ZM2240.4 1024.8L2243.1 1027.4L2241.5 1031.8L2240.2 1028.7ZM2241.4 1037.9L2248.7 1038.4L2245.3 1039.2ZM2198.9 1087.7L2198.9 1098.2L2198.7 1108.7L2199.3 1113.9L2196 1119.9L2203.1 1121.8L2208.9 1118.9L2217.7 1118.9L2225.2 1114.7L2233.3 1112.9L2239 1112.6L2245.2 1116L2247.4 1121.3L2249.5 1118.4L2254.5 1116L2252.1 1122.3L2254.2 1123.4L2256 1127L2258.2 1129.9L2263.8 1131.7L2268.1 1130.2L2270.6 1132.3L2276 1129.1L2281.5 1127.8L2285.8 1121.8L2288.8 1117.3L2293.9 1112.6L2298.3 1104.7L2298.9 1096.9L2295 1091.6L2291.8 1088.5L2290.4 1082.4L2285.2 1079.8L2285.2 1075.1L2284.2 1069.3L2280.3 1067.5L2280 1061.5L2278.2 1058.1L2275.5 1064.1L2274.2 1070.6L2271.6 1075.9L2267.7 1075.9L2263.6 1072L2258.7 1069.3L2260 1065.4L2262.9 1062L2258.3 1061.5L2251.9 1059.6L2247.8 1062L2243.6 1068.8L2240 1068.8L2236.9 1066.2L2232.8 1068L2228.3 1072.7L2223.5 1075.9L2222.3 1078.5L2216.6 1081.9L2208.5 1084L2203 1086.4ZM2264.7 1137L2268.8 1137.8L2273.3 1137.2L2270.4 1142.8L2266 1144.3L2264.3 1141.4ZM2341.5 1120.5L2343.9 1124.4L2346.2 1126.2L2346.4 1128.6L2352 1128.9L2347.6 1133.1L2344.8 1136.2L2339.4 1139.1L2339.8 1136.2L2338.8 1133.1L2342.6 1129.6L2343.4 1125.7L2341.8 1121.8ZM2334.5 1136.5L2337.4 1138L2333.9 1141.4L2330.4 1144.9L2325.5 1146.7L2321.9 1150.6L2315.9 1152.2L2311.9 1150.6L2317.9 1146.2L2325.9 1142.8L2332.2 1137.5Z" fill="none" stroke="#8cbcdd" stroke-width="9" filter="url(#bl4)" opacity="0.8"/><path d="M1533.8 858.2L1546.3 850.4L1555.8 847.9L1565.3 845.5L1574.7 843L1579.4 843.8L1584.1 844.5L1588.8 845.3L1593.5 846L1598.3 846.8L1603.1 847.5L1608.9 847.3L1614.6 847.1L1620.4 846.9L1626.2 846.7L1631.9 846.4L1637.2 847.1L1642.6 847.8L1647.9 848.4L1653.3 849.1L1659.2 849.9L1665 850.8L1670.9 851.7L1677.4 851.7L1683.9 851.7L1690.4 851.7L1697 851.7L1708.1 841.2L1711.5 849.1L1717.3 848.4L1723.1 847.8L1730.2 850.4L1724.7 856.9L1717.9 859.6L1711 862.2L1702.7 865.5L1694.3 868.7L1687.4 876.1L1691.3 880.5L1698.6 882.8L1705.9 885L1710.9 891L1715.6 895L1720 888.4L1726.2 880.5L1726.8 872.7L1730.6 866.1L1740.2 867.4L1746.7 871.4L1753 876.6L1758 871.9L1762 881.8L1770.5 889.7L1772.7 893.6L1763.7 898.9L1756.5 898.6L1749.4 898.4L1741.4 901.5L1734.1 906.8L1745 901.5L1748.9 905.4L1748.1 909.4L1756.4 910.7L1758.4 906.8L1759.1 909.4L1749.8 913L1743 915.9L1743.9 912L1741.4 912L1733.3 915.4L1730.6 919.9L1732.2 920.7L1721.6 923.8L1716.6 930.4L1714.8 933L1715.2 937.7L1709.6 940.8L1704.1 943.5L1699.6 947.4L1698.2 951.3L1700.3 959.2L1699.2 963.7L1695.8 963.9L1693.7 957.4L1693.6 952.6L1690 951.3L1686.3 950.5L1678.6 950.8L1676.9 953.4L1673.1 953.2L1665.6 952.6L1657.2 956.6L1654.8 963.1L1652.8 971.5L1656.3 980.2L1660 982.3L1667.9 981.5L1671.2 974.9L1680.4 973.6L1678.3 981.5L1675 988L1681.5 988.6L1688.4 990.7L1687.1 1001.2L1690.8 1006.4L1697.4 1005.1L1703.1 1007.2L1701.3 1011.1L1695.8 1010.9L1692 1009.5L1688.1 1008.2L1683.1 1003.8L1681.1 1001.2L1677 995.9L1666.8 993.3L1660.8 987.5L1654.1 988.8L1647.9 986.5L1640.5 982.8L1632 977.6L1632.8 972.3L1629.7 967.1L1624.2 961.8L1618.3 952.6L1614.1 946.9L1613.5 951.3L1617.2 957.9L1620.9 965.8L1622.3 969.7L1617.2 965L1612.3 957.1L1610.9 951.9L1608.5 944.8L1606 940.8L1601.1 939.3L1599.2 933.5L1598.8 930.9L1597.2 924.3L1599 917.2L1603.1 908.9L1603.8 903.1L1608.6 901.5L1605.6 897.6L1600.9 895L1599.1 887.1L1597.4 881.8L1595.1 877.9L1590.2 876.6L1585.1 873.2L1575.6 872.7L1569.6 870L1560 870.6L1557.1 874.5L1549.8 876.6L1538.8 880.5L1529 884.5L1520.7 886.3L1528.8 883.2L1537.4 879.2L1542.7 875.3L1533.5 875.3L1533.9 871.9L1529.7 868.7L1535.9 864.3L1544.9 863L1546.2 860.3L1540.5 860.5L1534.8 860.6ZM1756.1 867.4L1747.5 866.1L1740.4 861.4L1731.7 860.9L1737.9 856.9L1745.1 855.6L1747.3 850.9L1742.7 849.3L1738.1 847.8L1730.2 846.4L1725.1 846.1L1720 845.7L1716.7 842.5L1721.3 837.3L1729.9 836.7L1737 838.6L1738 840.4L1745 839.1L1749.7 842L1755 843.8L1760.2 846.4L1760.5 850.4L1768.1 853L1770.6 855.1L1763.4 859.6L1759.7 863.5ZM1685.7 849.1L1678.9 849.5L1672.2 849.9L1666.2 849.2L1660.2 848.5L1655 845.7L1657.3 840.4L1668 837.8L1674.4 838.2L1680.8 838.6L1685.6 840.4L1690.3 842.5L1689.6 846.4ZM1643 841.2L1645.3 843.3L1652.6 842.2L1661.1 838.6L1667.3 835.2L1662.5 834.9L1657.6 834.6L1648.6 836.5ZM1725.1 829.4L1730.1 829.5L1735 829.7L1739.9 829.8L1744.8 829.9L1753.6 826L1763.8 822.8L1770.6 820.7L1777.3 818.5L1784 816.3L1791.6 813.7L1787.1 813.1L1782.7 812.6L1778.3 812.1L1773.7 812.2L1769.1 812.2L1764.5 812.3L1759.9 812.4L1754.6 813L1749.4 813.7L1744 814.3L1738.7 815L1730.8 818.9L1734.7 822.8L1733.3 826.8ZM1742.5 833.3L1736.9 834L1731.3 834.6L1724.4 834.4L1717.4 834.1L1712 830.7L1721.8 828.6L1728.3 829.3L1734.8 829.9L1739.3 830.6L1743.9 831.2ZM1719.1 824.9L1726.3 824.5L1733.5 824.2L1739.5 819.7L1735.1 818.4L1730.8 817.1L1721.8 820.2ZM1667.1 833.3L1673.9 833.6L1680.8 833.9L1690.6 832L1689.1 829.4L1681.8 829.7L1674.5 829.9ZM1705 841.2L1710.7 840.5L1716.3 839.9L1720.1 836L1715 836L1709.8 836ZM1690.2 841.2L1695.5 841.9L1700.9 842.5L1705.7 837.3L1697.1 836.5ZM1710.4 863.5L1716 863.5L1721.6 863.5L1726.8 859.6L1719.2 856.9L1713.8 858.8ZM1761.6 905.2L1769.2 907.3L1776.4 907.8L1777.7 904.9L1776.5 900.7L1772.1 898.9L1772.9 895L1769 896.3L1765.8 900.2L1761.8 904.1ZM1851.3 858.2L1856 855.9L1865.9 856.4L1873.6 856.1L1875.5 859.6L1872 861.4L1864 863.8L1855.1 862.7L1856.6 860.1L1852.2 859.6ZM1685.8 972.3L1693.9 969.2L1701.4 971L1708.8 974.9L1713.2 977L1704.6 977.8L1703.5 975.7L1697.4 972.3L1690.9 972.3ZM1712 981.5L1716.3 977.6L1724 978.1L1727.9 981.2L1721 982.8L1715.9 982.3ZM1702.1 981.8L1707.3 982.3L1705.4 983.3L1702 982.8ZM1731 981.5L1735.1 981.8L1734.5 982.8L1730.9 982.8ZM1703.1 1007.2L1708 1001.9L1714.7 999.8L1718.7 997.5L1718.5 1001.7L1722.5 999.3L1727.6 1002.2L1736.7 1003L1743.3 1001.9L1748.4 1007.7L1754.7 1014.3L1763.9 1014.8L1770.4 1018.5L1774.3 1025.5L1774.2 1030L1779.5 1031.8L1788.7 1036.6L1797.9 1037.6L1804.5 1040L1812.9 1043.6L1814.3 1048.9L1813.1 1054.9L1808.8 1060.2L1805 1064.1L1804 1073.3L1802.5 1081.1L1799.5 1087.7L1794.5 1090.3L1786.9 1092.9L1780.9 1097.7L1781.1 1103.4L1776.9 1110L1772.8 1114.7L1770.3 1119.2L1764.2 1121.3L1758.1 1119.2L1762.2 1125.2L1760.4 1130.2L1750.8 1132.3L1750.9 1137.5L1744.2 1137.5L1747.6 1142L1745.1 1148L1740.8 1150.6L1745.5 1155.3L1742 1161.1L1740.5 1166.4L1743 1167.7L1743.7 1171.6L1752 1173.7L1746 1175.5L1737 1172.9L1729.5 1167.7L1725.2 1161.1L1721.9 1153.2L1724.9 1145.4L1722.7 1138.8L1722.1 1129.6L1722.7 1121.8L1723.6 1111.3L1722.8 1102.1L1724.2 1091.6L1723.3 1079.8L1720.1 1075.9L1711.5 1071.4L1706.4 1066.2L1703.5 1061.5L1698.6 1051.5L1693.1 1045.7L1692.5 1041.3L1696.1 1036.6L1693.4 1032.6L1695.5 1028.7L1698.7 1025.5L1702.2 1019.5L1702.9 1012.4L1701.3 1011.1ZM1890.9 936.1L1900.5 937.7L1908 934.3L1918.1 933.5L1930.1 932.2L1933.1 933.5L1930.7 939.5L1934.6 942.9L1944.3 945.3L1953.9 950.5L1956.8 945.3L1963.8 944.3L1970.3 947.1L1979.3 949L1987.7 948.2L1988.4 951.3L1992.1 957.9L1997 967.1L2001.8 974.9L2002.6 981.5L2007.6 989.4L2013 994.6L2018.4 997.2L2018.7 999.8L2023.2 1002.5L2031 1000.6L2039.3 999.1L2038.5 1005.1L2034 1014.3L2028.8 1022.1L2021 1027.4L2014.4 1034.7L2009.1 1041.8L2007.7 1048.4L2011.4 1057.5L2011.3 1069.3L2001.7 1076.7L1996.2 1082.4L1997 1092.9L1989.8 1097.7L1989.1 1104.7L1983.1 1111.3L1975.1 1117.8L1970 1119.2L1961.1 1119.7L1956 1121.3L1952 1119.7L1951.2 1113.9L1947.7 1105L1944 1098.2L1943 1089L1939.8 1082.4L1936.7 1075.9L1938.7 1069.3L1940.8 1062.8L1939.5 1053.6L1937.5 1045.7L1930.4 1035.2L1929.1 1027.9L1931 1020.8L1927.8 1018.2L1921.2 1018.7L1917.3 1013.5L1908.6 1014.3L1900.3 1017.4L1892.4 1016.6L1885.8 1018.5L1880.6 1014.8L1875.4 1011.6L1870.7 1006.4L1866.3 1001.2L1861.6 997.5L1859.9 991.5L1863.1 985.4L1863.5 978.9L1861.5 974.9L1864.2 967.9L1868.2 961.8L1872.2 957.1L1880 952.6L1880.6 947.4L1884 942.7L1889.1 940.1ZM2034.3 1061.5L2036.6 1070.6L2034.2 1075.9L2029.6 1087.7L2026.4 1095.6L2021.2 1096.9L2018.2 1091.6L2020.3 1082.4L2020 1074.6L2026.7 1070.6L2030.8 1065.4ZM1883.3 917.2L1885.8 915.4L1895.7 916.2L1901.3 916.2L1902.6 909.4L1899.4 906L1894.1 903.3L1901.6 902.3L1901.9 899.7L1906 900.2L1909.3 896.8L1913.9 895.2L1916.7 891L1922.1 889.7L1926.1 888.4L1924.7 884.5L1924.6 880.5L1929.9 878.7L1929.6 883.2L1931 887.6L1933.8 887.9L1938.6 888.7L1949.1 886.6L1952.2 887.4L1954.8 885L1954.4 880.5L1957.7 878.7L1962 880L1959.6 874.8L1969.8 873.7L1974.2 872.7L1964.9 871.6L1958.2 872.9L1954.1 870.8L1953.9 864.8L1960.9 859L1958.5 857.5L1954.1 858L1952.8 861.4L1947.2 865.3L1944.7 870L1948.6 872.9L1943.8 879.2L1942.9 882.6L1939 884.5L1935.5 884.5L1934.7 881.8L1931.4 876.6L1929.6 874.5L1924 877.6L1918.7 876.1L1916.9 870L1919 866.1L1924.5 863L1930 860.3L1934.1 855.6L1938 850.9L1945.1 847L1954.5 845.1L1960.5 843.6L1967.1 844.3L1971.6 845.7L1974.1 847.2L1983 848.5L1988.8 850.5L1994.8 852.5L1995.6 855.6L1990.4 856.9L1981.3 855.6L1977.9 855.1L1983.6 861.4L1990.4 862.2L1995.7 860.6L1993.7 856.9L2002.3 856.1L2000.9 850.9L2005.4 851.7L2008.5 854.8L2015 852.9L2021.4 850.9L2028.7 850.1L2035.1 847.2L2045.6 849.1L2051.3 849.9L2046.8 843.3L2048.3 839.1L2056.7 839.4L2059.8 843.8L2061.3 850.4L2066.6 854.8L2068 853L2062.6 846.4L2062.3 839.9L2068.7 840.2L2072.1 837.3L2077.9 836.6L2083.6 836L2082.4 832.8L2087.7 831.8L2092.9 830.7L2098.4 830.1L2103.9 829.4L2107.7 827.8L2111.5 826.3L2119.4 828.9L2124.9 829.4L2130.5 829.9L2139.3 836L2132 836L2138.9 836.7L2144.9 837L2150.8 837.3L2156.3 837.7L2161.9 838.1L2171.2 838.1L2179.4 843.3L2186.1 842.5L2191.4 842.5L2196.6 842.5L2197.6 839.4L2204.4 839.9L2211.2 840.4L2221.7 842.2L2230 844.1L2235.2 844L2240.3 843.8L2249.4 847.2L2256.9 847.2L2264.6 846.4L2273 849.1L2271 846.4L2276.7 846.7L2282.3 847L2293.4 849.1L2305.2 859.6L2300.9 860.9L2310.2 866.1L2305.2 867.2L2300.1 868.2L2296.1 872.7L2285.8 872.7L2282.8 873.2L2283 877.9L2287.2 882.6L2286 885.8L2284.9 890.5L2283.3 893.6L2280.6 896.3L2275 891L2269.6 883.2L2268.8 878.4L2271 871.4L2275.6 868.7L2276.8 866.1L2268.4 868.2L2260.9 868.7L2262 874.5L2253.2 875L2247.2 874.8L2241.3 874.5L2234.4 874.5L2228.1 881.8L2223.9 886.6L2230.6 888.9L2238.9 891L2242.3 893.1L2243.2 898.9L2245.2 903.6L2242.9 908.1L2239.2 913.3L2234.1 917.8L2230.2 916.7L2228.5 919.1L2226.8 921.2L2222.9 925.6L2230.2 933L2231.3 937.4L2225 939.8L2222.5 933.5L2222.8 931.1L2217.9 929L2217.6 926.2L2214.8 925.1L2208.9 927.7L2207.6 923L2202.3 927.2L2199.4 928.3L2203.2 931.7L2212.7 932.5L2208.1 935.6L2206.3 938.2L2211.9 944.8L2215.4 948.7L2216.6 952.6L2214.2 957.9L2212.8 963.1L2208.4 967.6L2200.8 971.3L2192.7 973.9L2191.3 976.8L2186.1 973.1L2181.9 976.2L2180.1 980.2L2183.9 985.9L2188.8 989.9L2191 997.2L2186.2 1002.5L2180.5 1007.2L2180.2 1003L2174.9 1001.2L2172.8 998L2168.9 994.9L2166.8 998.5L2165.4 1005.1L2168.9 1011.1L2173.7 1013.7L2176.8 1018.7L2179 1026.3L2176.9 1026.1L2171.3 1022.1L2168.5 1015.6L2163 1008.5L2163.4 1002.5L2162.1 994.6L2159.5 986.7L2154.2 988.6L2151 987.5L2150.3 980.7L2144.4 974.9L2142.7 971.3L2139.4 971.5L2133.9 973.1L2130.6 974.1L2129.7 977L2125.5 979.7L2119.4 986.2L2114.7 988.8L2114.9 995.4L2114.3 1003L2110.3 1006.7L2108.5 1008.8L2105.2 1004.3L2100.8 996.2L2096.9 988L2094.4 980.2L2093.7 974.4L2088.1 975.5L2083.8 971.8L2087 970L2081.4 967.9L2077.9 964.7L2065.8 963.9L2054.6 962.9L2051.7 959.2L2045.4 960.2L2037.4 956.8L2033.5 951.3L2029.6 950.8L2028.8 953.2L2033.8 960L2035.9 963.1L2038.1 962.1L2037.6 966L2044.6 966.5L2049.6 961.8L2051.3 965.8L2056.6 968.1L2060 971L2057.1 976.5L2055.3 980.2L2049 984.1L2041.4 987.5L2032.6 993.3L2023 996.4L2018.6 996.7L2016.8 991.2L2016.9 986.7L2011.3 978.9L2006.9 973.6L2004.8 967.6L1999.8 961.8L1995.1 956.6L1994.6 952.6L1993.3 957.1L1990.4 954.5L1988.6 951.3L1987.7 948.2L1992.5 947.9L1994.2 943.5L1996.2 936.9L1996.4 933.8L1991 934.8L1987.2 935.3L1982.3 933.5L1978.4 934.3L1974 933L1971.3 929.6L1972.3 926.4L1970.7 924.8L1977.4 922.2L1983.1 922L1988.4 919.9L1992.1 919.9L1996.7 921.7L2003.5 922.2L2008.3 921.2L2007.9 918L2003.2 915.7L1996.8 911.2L1998.7 908.9L2001 906.2L1995.5 906.8L1991.3 908.6L1991.1 910.7L1994.8 911.2L1992 912.3L1988.2 913.6L1985 911.2L1987.2 909.1L1982.9 907.8L1980.3 908.1L1978.2 911.5L1975.8 914.6L1974.6 918.6L1975.4 921.2L1977.4 921.8L1973.8 923L1970.6 924.3L1970 922.8L1965.1 923L1964.7 925.1L1962.1 923.8L1963.4 927.2L1965.6 930.4L1963.1 931.7L1963.8 934.3L1960 933.5L1958.5 929.6L1955.3 925.9L1953.6 921.2L1952.4 919.1L1947.4 916.7L1942.8 913.8L1939 910.4L1935.8 911.2L1936 914.1L1939 915.9L1944.6 919.9L1945.1 920.4L1951.5 924.3L1947.7 923.8L1946.8 925.9L1948.2 927.7L1945.5 930.4L1944.8 925.6L1941.5 923.3L1935.9 920.4L1931.4 917.5L1930.1 914.6L1927.1 913.6L1923.9 915.1L1920.8 917L1916.6 916.2L1913.1 917L1913.4 920.1L1907.5 922.5L1904.8 926.4L1906 928.5L1903.7 931.4L1900 933.5L1894.2 933.8L1891.9 935.3L1889.7 934L1886.9 932.5L1883.2 933L1883.8 929L1881.8 928.3L1883.7 922.5ZM1517.6 849.1L1522.6 852.2L1526.9 853.3L1531.2 854.3L1531.3 856.9L1521.2 860.9L1516.1 858.2L1512.5 856.4L1505.8 859.6ZM1891.8 898.9L1897.1 898.1L1903.1 897.1L1908.8 895.7L1909.5 891.8L1906.2 891L1905 887.9L1902 885.8L1900.8 883.2L1900.9 879L1897.4 878.7L1898.6 876.3L1894 876.3L1892 879.2L1892.6 883.2L1894.2 886L1897.7 886.3L1898.4 890L1894.8 890.2L1895.3 893.1L1893.1 894.2L1897.6 895.2L1895.2 896.3ZM1881.6 894.7L1890.5 893.1L1891.3 889.7L1892.3 886.8L1890.2 885.3L1886.2 885.3L1881.9 887.9L1883 890.5L1881.7 893.1ZM1925.7 821.3L1933.2 826.8L1939.5 828.9L1946.7 824.7L1951.9 822.2L1957 819.7L1950.2 819.2L1943.4 818.6L1938.9 819.6L1934.2 820.5ZM2014.1 842.5L2022.4 844.6L2027.3 843.8L2021.4 837.3L2025.4 834.6L2029.1 832L2033.6 830.9L2038 829.7L2042.3 828.6L2037 828.1L2032.2 829L2027.3 829.8L2022.4 830.7L2016.7 836L2015.2 839.9ZM2089.9 822.8L2096.1 824.2L2102.2 825.5L2105.8 824.2L2109.3 822.8L2101.7 820.2L2094 817.6L2090 818.3L2085.9 818.9ZM2183.2 832L2189.1 832.5L2195.1 832.9L2201 833.3L2205.6 832.9L2210.2 832.5L2201.9 831.6L2193.7 830.7L2188.7 830.7L2183.6 830.7ZM1995.2 819.7L2000.4 819.9L2005.6 820L2010.8 820.2L2016.8 819.2L2022.7 818.1L2013.6 815.8L2009 816.4L2004.4 817L1999.7 817.6ZM2240.5 887.6L2246.3 892.3L2249.7 898.9L2254.2 901.5L2253.2 906.8L2253.3 909.4L2250.2 905.4L2246.8 898.9L2242.5 892.3ZM2252.3 921.2L2254.9 918.6L2259.7 919.9L2263.9 916.5L2260.1 914.6L2252.3 911L2253.5 916.5L2251.4 917.2ZM2255.7 921.7L2259.3 926.4L2258.8 931.7L2259.9 936.4L2257.3 938.2L2251.8 939.3L2249.2 942.2L2244.8 942.7L2242.1 944L2240.5 947.4L2238.3 948.7L2236.1 946.1L2234 942.9L2236.2 941.1L2239.3 937.2L2244.2 936.6L2247.6 935.6L2249 932.2L2252.6 931.9L2254.1 929L2253.9 925.1L2253.3 922.5ZM2216.8 963.9L2219.2 964.4L2218.9 968.4L2217.8 972.3L2215.4 969.2L2216.1 965.8ZM2187.5 979.4L2191.1 977.3L2193.3 978.3L2191.9 981.5L2188.6 982ZM2114.9 1004.6L2118.2 1007.7L2119.9 1011.6L2117.1 1014.3L2114.7 1011.6L2114.5 1006.9ZM2218.4 981.5L2222.9 981.8L2223 986.7L2222.1 989.9L2225.1 993.3L2229.2 995.4L2229.4 997L2225.7 994.3L2221.3 994.1L2219.1 991.2L2217.6 987.3L2218.5 984.1ZM2225.3 1011.6L2228.9 1007.4L2233.5 1004.6L2236.9 1009L2236.4 1013.2L2234.6 1015.1L2230.6 1013.5L2228.3 1010.3ZM2224.4 999.1L2228.5 1001.2L2233.4 997.7L2233.9 1003L2230 1004.3L2226.1 1004.3L2224.6 1001.9ZM2212.7 1008L2218.1 1001.7L2218.5 1000.4L2214.4 1005.6ZM2191.6 1026.1L2193.2 1024.8L2197.6 1023.4L2202 1021.6L2205.9 1017.7L2211.4 1011.9L2214.1 1013.5L2217.6 1016.4L2215.1 1019L2214.4 1023.4L2217.3 1027.4L2213.9 1028.7L2213.9 1032.6L2211.3 1036L2210.4 1040.5L2205.9 1040.5L2203.3 1038.4L2198.9 1038.9L2194.7 1037.3L2194 1033.4L2191.6 1030ZM2155.4 1015.3L2161.2 1016.4L2168.7 1022.9L2173.2 1026.6L2177.7 1032.1L2179.8 1036L2183.7 1037.9L2182.9 1045.2L2179.5 1045.2L2173.9 1040.5L2169.3 1033.9L2165.4 1029.2L2161.4 1024.2L2156 1018.2ZM2181.3 1047.8L2184.8 1045.7L2189.9 1047.6L2196 1046.8L2200.9 1048.1L2205.5 1050.2L2204.8 1052.8L2196.3 1051.8L2188.5 1050.5L2184.3 1049.4ZM2207.3 1051.5L2217.2 1051.8L2217.1 1053.3L2211.3 1053.6L2207.2 1052.8ZM2219.6 1052L2227.7 1051.8L2227.1 1053.3L2219.7 1053.3ZM2228.6 1057L2232.8 1053.6L2238.9 1052L2235.3 1054.9L2229.9 1057ZM2217 1054.9L2221.6 1056.2L2219.5 1057ZM2218.6 1044.7L2219.3 1038.9L2217.5 1036.8L2220.2 1029.5L2222.8 1026.6L2231 1027.4L2234.1 1025.8L2231.8 1029.2L2222.3 1028.7L2221.3 1032.4L2229.4 1032.1L2224.9 1035L2227.9 1041.3L2228.6 1043.9L2225.5 1043.1L2224.3 1038.4L2222.8 1037.1L2221.3 1044.4ZM2249.4 1032.1L2257.2 1032.1L2259.8 1038.7L2267.2 1033.9L2275.5 1036.8L2284.6 1040.2L2288.4 1044.4L2293 1045.7L2290.8 1047.8L2293.7 1051.5L2300 1057L2292.7 1056.7L2288 1051.5L2282.8 1050.2L2279.9 1054.1L2274.7 1053.9L2270.4 1051L2267 1051.8L2268.5 1047.8L2266.9 1043.9L2261 1041.5L2254.5 1040.5L2254 1037.3L2256.7 1036L2251.9 1035.8L2249.4 1033.7ZM2294.9 1044.7L2300.2 1044.4L2304.8 1041L2304.1 1044.2L2298.8 1046.5ZM2240.4 1024.8L2243.1 1027.4L2241.5 1031.8L2240.2 1028.7ZM2241.4 1037.9L2248.7 1038.4L2245.3 1039.2ZM2198.9 1087.7L2198.9 1098.2L2198.7 1108.7L2199.3 1113.9L2196 1119.9L2203.1 1121.8L2208.9 1118.9L2217.7 1118.9L2225.2 1114.7L2233.3 1112.9L2239 1112.6L2245.2 1116L2247.4 1121.3L2249.5 1118.4L2254.5 1116L2252.1 1122.3L2254.2 1123.4L2256 1127L2258.2 1129.9L2263.8 1131.7L2268.1 1130.2L2270.6 1132.3L2276 1129.1L2281.5 1127.8L2285.8 1121.8L2288.8 1117.3L2293.9 1112.6L2298.3 1104.7L2298.9 1096.9L2295 1091.6L2291.8 1088.5L2290.4 1082.4L2285.2 1079.8L2285.2 1075.1L2284.2 1069.3L2280.3 1067.5L2280 1061.5L2278.2 1058.1L2275.5 1064.1L2274.2 1070.6L2271.6 1075.9L2267.7 1075.9L2263.6 1072L2258.7 1069.3L2260 1065.4L2262.9 1062L2258.3 1061.5L2251.9 1059.6L2247.8 1062L2243.6 1068.8L2240 1068.8L2236.9 1066.2L2232.8 1068L2228.3 1072.7L2223.5 1075.9L2222.3 1078.5L2216.6 1081.9L2208.5 1084L2203 1086.4ZM2264.7 1137L2268.8 1137.8L2273.3 1137.2L2270.4 1142.8L2266 1144.3L2264.3 1141.4ZM2341.5 1120.5L2343.9 1124.4L2346.2 1126.2L2346.4 1128.6L2352 1128.9L2347.6 1133.1L2344.8 1136.2L2339.4 1139.1L2339.8 1136.2L2338.8 1133.1L2342.6 1129.6L2343.4 1125.7L2341.8 1121.8ZM2334.5 1136.5L2337.4 1138L2333.9 1141.4L2330.4 1144.9L2325.5 1146.7L2321.9 1150.6L2315.9 1152.2L2311.9 1150.6L2317.9 1146.2L2325.9 1142.8L2332.2 1137.5Z" fill="#e4e6ad"/><g clip-path="url(#landclip)"><g filter="url(#bl8)"><ellipse cx="1671.5" cy="883.2" rx="79.6" ry="18.4" fill="#b6d0a4" opacity="0.95"/><ellipse cx="1614.5" cy="880.5" rx="18.6" ry="21.0" fill="#b6d0a4" opacity="0.95"/><ellipse cx="1733.1" cy="896.3" rx="21.5" ry="13.1" fill="#b6d0a4" opacity="0.95"/><ellipse cx="2123.1" cy="872.7" rx="142.0" ry="18.4" fill="#b6d0a4" opacity="0.95"/><ellipse cx="1962.1" cy="867.4" rx="27.2" ry="15.7" fill="#b6d0a4" opacity="0.95"/><ellipse cx="1998.1" cy="877.9" rx="46.3" ry="14.4" fill="#b6d0a4" opacity="0.95"/><ellipse cx="2211.2" cy="885.8" rx="37.6" ry="21.0" fill="#b6d0a4" opacity="0.95"/><ellipse cx="1570.2" cy="862.2" rx="24.6" ry="9.2" fill="#b6d0a4" opacity="0.95"/><ellipse cx="2267.7" cy="867.4" rx="22.6" ry="10.5" fill="#b6d0a4" opacity="0.95"/><ellipse cx="1691.8" cy="846.4" rx="117.6" ry="14.4" fill="#dedfd3" opacity="1"/><ellipse cx="1579.2" cy="847.8" rx="34.3" ry="7.9" fill="#dedfd3" opacity="1"/><ellipse cx="2115.5" cy="841.2" rx="157.5" ry="13.1" fill="#dedfd3" opacity="1"/><ellipse cx="1744.2" cy="875.3" rx="16.1" ry="9.2" fill="#dedfd3" opacity="1"/><ellipse cx="1952.5" cy="846.4" rx="21.4" ry="5.2" fill="#dedfd3" opacity="1"/><ellipse cx="2283.4" cy="855.6" rx="26.4" ry="9.2" fill="#dedfd3" opacity="1"/><ellipse cx="1538.8" cy="867.4" rx="13.6" ry="10.5" fill="#dedfd3" opacity="1"/><ellipse cx="1599.9" cy="867.4" rx="13.6" ry="10.5" fill="#dedfd3" opacity="1"/><ellipse cx="1699.8" cy="933.0" rx="17.6" ry="18.4" fill="#cbdca4" opacity="0.8"/><ellipse cx="1929.6" cy="901.5" rx="33.8" ry="13.1" fill="#cbdca4" opacity="0.8"/><ellipse cx="1605.3" cy="909.4" rx="7.3" ry="15.7" fill="#cbdca4" opacity="0.8"/><ellipse cx="2211.6" cy="912.0" rx="19.6" ry="13.1" fill="#cbdca4" opacity="0.8"/><ellipse cx="1977.0" cy="893.6" rx="33.4" ry="10.5" fill="#cbdca4" opacity="0.8"/><ellipse cx="1742.8" cy="1037.9" rx="36.7" ry="23.6" fill="#b4cd9c" opacity="0.9"/><ellipse cx="1769.6" cy="1061.5" rx="18.3" ry="13.1" fill="#b4cd9c" opacity="0.9"/><ellipse cx="1963.2" cy="1030.0" rx="26.2" ry="15.7" fill="#b4cd9c" opacity="0.9"/><ellipse cx="1884.5" cy="1013.0" rx="21.0" ry="6.0" fill="#b4cd9c" opacity="0.9"/><ellipse cx="2168.2" cy="985.4" rx="15.6" ry="21.0" fill="#b4cd9c" opacity="0.9"/><ellipse cx="2189.0" cy="1030.0" rx="47.2" ry="15.7" fill="#b4cd9c" opacity="0.9"/><ellipse cx="2272.7" cy="1043.1" rx="26.2" ry="10.5" fill="#b4cd9c" opacity="0.9"/><ellipse cx="1678.5" cy="993.3" rx="15.7" ry="10.5" fill="#b4cd9c" opacity="0.9"/><ellipse cx="1708.8" cy="1016.9" rx="10.5" ry="15.7" fill="#b4cd9c" opacity="0.9"/><ellipse cx="2027.6" cy="1077.2" rx="5.2" ry="15.7" fill="#b4cd9c" opacity="0.9"/><ellipse cx="2142.6" cy="967.1" rx="12.9" ry="10.5" fill="#b4cd9c" opacity="0.9"/><ellipse cx="1997.2" cy="1051.0" rx="10.5" ry="18.4" fill="#b4cd9c" opacity="0.9"/><ellipse cx="2224.3" cy="998.5" rx="10.5" ry="18.4" fill="#b4cd9c" opacity="0.9"/><ellipse cx="1931.3" cy="967.1" rx="87.6" ry="24.9" fill="#efe0c0" opacity="0.97"/><ellipse cx="1892.6" cy="972.3" rx="31.0" ry="21.0" fill="#efe0c0" opacity="0.97"/><ellipse cx="1983.1" cy="972.3" rx="23.3" ry="23.6" fill="#efe0c0" opacity="0.97"/><ellipse cx="2024.2" cy="969.7" rx="28.4" ry="26.2" fill="#efe0c0" opacity="0.97"/><ellipse cx="2050.5" cy="948.7" rx="28.0" ry="18.4" fill="#efe0c0" opacity="0.97"/><ellipse cx="2061.3" cy="919.9" rx="42.0" ry="15.7" fill="#efe0c0" opacity="0.97"/><ellipse cx="2116.4" cy="922.5" rx="27.3" ry="11.8" fill="#efe0c0" opacity="0.97"/><ellipse cx="2160.3" cy="919.9" rx="32.2" ry="13.1" fill="#efe0c0" opacity="0.97"/><ellipse cx="2247.8" cy="1095.6" rx="46.3" ry="26.2" fill="#efe0c0" opacity="0.97"/><ellipse cx="1625.6" cy="938.2" rx="20.2" ry="18.4" fill="#efe0c0" opacity="0.97"/><ellipse cx="1636.2" cy="959.2" rx="10.3" ry="13.1" fill="#efe0c0" opacity="0.97"/><ellipse cx="1951.9" cy="1092.9" rx="15.5" ry="21.0" fill="#efe0c0" opacity="0.97"/><ellipse cx="2026.1" cy="1011.6" rx="13.1" ry="15.7" fill="#efe0c0" opacity="0.97"/><ellipse cx="1733.8" cy="1134.9" rx="6.2" ry="34.1" fill="#efe0c0" opacity="0.97"/><ellipse cx="1724.5" cy="1087.7" rx="3.9" ry="18.4" fill="#efe0c0" opacity="0.97"/><ellipse cx="2007.1" cy="946.1" rx="17.8" ry="13.1" fill="#efe0c0" opacity="0.97"/><ellipse cx="2084.7" cy="956.6" rx="7.7" ry="7.9" fill="#efe0c0" opacity="0.97"/><ellipse cx="2225.5" cy="1103.4" rx="15.4" ry="13.1" fill="#efe0c0" opacity="0.97"/><ellipse cx="1910.7" cy="969.7" rx="41.3" ry="13.1" fill="#eccbb0" opacity="0.55"/><ellipse cx="1970.3" cy="977.6" rx="20.7" ry="13.1" fill="#eccbb0" opacity="0.55"/><ellipse cx="2243.1" cy="1092.9" rx="33.5" ry="17.0" fill="#eccbb0" opacity="0.55"/><ellipse cx="2034.8" cy="972.3" rx="15.5" ry="13.1" fill="#eccbb0" opacity="0.55"/><ellipse cx="1630.3" cy="930.4" rx="10.0" ry="10.5" fill="#eccbb0" opacity="0.55"/><ellipse cx="2057.9" cy="946.1" rx="15.2" ry="10.5" fill="#eccbb0" opacity="0.55"/><ellipse cx="1949.3" cy="1092.9" rx="7.7" ry="15.7" fill="#eccbb0" opacity="0.55"/><ellipse cx="2131.0" cy="943.5" rx="32.9" ry="13.1" fill="#c5c9c9" opacity="1"/><ellipse cx="2096.2" cy="933.0" rx="10.0" ry="7.9" fill="#c5c9c9" opacity="1"/><ellipse cx="2133.8" cy="944.8" rx="22.8" ry="7.9" fill="#c5c9c9" opacity="1"/><ellipse cx="1721.7" cy="1069.3" rx="4.2" ry="47.2" fill="#c9c9be" opacity="0.85"/><ellipse cx="1724.9" cy="1140.1" rx="3.0" ry="21.0" fill="#c9c9be" opacity="0.85"/><ellipse cx="1623.8" cy="912.0" rx="9.8" ry="23.6" fill="#d9d4bc" opacity="0.7"/><ellipse cx="1616.0" cy="877.9" rx="9.3" ry="21.0" fill="#d9d4bc" opacity="0.7"/></g></g><path d="M1762.3 824.9L1769.3 821.9L1776.3 818.9L1782.4 817.6L1788.4 816.3L1794.3 815L1799.2 814.5L1804.2 814.1L1809.1 813.7L1813.9 813.2L1818.8 812.8L1823.6 812.4L1828.3 812.1L1832.9 811.9L1837.6 811.7L1842.2 811.5L1846.8 811.3L1851.4 811L1855.6 812L1859.8 813L1864.1 814L1868.4 815L1873.3 815.4L1878.2 815.9L1883.1 816.3L1877 818.9L1870.8 821.5L1868.6 828.1L1864.7 833.3L1859.5 839.9L1857.6 845.1L1849.2 850.4L1842.6 851L1836 851.7L1829.9 854.6L1823.8 857.5L1815.3 860.9L1807 872.7L1802.4 872.7L1796.2 870L1791.5 862.2L1788.4 854.3L1789.6 847.8L1796.5 846.4L1790 843.8L1789.6 837.3L1787.2 831.5L1782.3 831.2L1777.4 831L1772.5 830.7L1768.6 828.7L1764.9 826.8ZM1551.4 1234.5L1556.3 1234.5L1561.2 1234.5L1566.1 1234.5L1571.1 1234.5L1576 1234.5L1580.9 1234.5L1585.8 1234.5L1590.7 1234.5L1594.2 1233.5L1597.7 1232.6L1601.3 1231.6L1604.9 1230.6L1608.6 1229.6L1612.4 1228.6L1616.3 1227.7L1620.2 1226.7L1624.7 1226.2L1629.3 1225.7L1634 1225.3L1638.6 1224.8L1643.5 1224.6L1648.5 1224.4L1653.4 1224.2L1658.4 1224L1663.8 1224.4L1669.3 1224.7L1674.7 1225L1680.1 1225.4L1684.4 1224.4L1688.7 1223.4L1693.1 1222.4L1697.5 1221.4L1702.7 1221.4L1707.9 1221.4L1713.1 1221.4L1718.3 1221.4L1723.7 1221.8L1729.1 1222.1L1734.5 1222.4L1739.9 1222.7L1743.9 1220.8L1748 1218.8L1751.2 1214.9L1754.6 1210.9L1760 1203.1L1764.5 1200.4L1769.1 1197.8L1777.5 1196L1774.5 1200.4L1770.8 1208.3L1777.4 1218.8L1783.2 1226.7L1779.5 1229.3L1776 1231.9L1781.4 1232.6L1786.7 1233.2L1792 1233.9L1797.3 1234.5L1802.2 1234.5L1807.1 1234.5L1812.1 1234.5L1817 1234.5L1821.9 1234.5L1826.8 1234.5L1831.7 1234.5L1836.6 1234.5L1842.8 1231.9L1849.1 1229.3L1854 1227.1L1859 1224.9L1864.1 1222.7L1869.4 1221L1874.7 1219.2L1880.2 1217.5L1886.4 1216.5L1892.8 1215.5L1899.1 1214.5L1905.5 1213.6L1910.8 1213.6L1916.2 1213.6L1921.5 1213.6L1926.9 1213.6L1932.2 1213.6L1937.6 1213.6L1942.9 1213.6L1948.2 1213.6L1953.6 1213.2L1959 1212.9L1964.5 1212.6L1969.9 1212.2L1975.4 1211.6L1980.9 1210.9L1986.5 1210.3L1992.1 1209.6L1997.7 1208.6L2003.4 1207.7L2009.2 1206.7L2014.9 1205.7L2020.8 1204.4L2026.8 1203.1L2031.7 1204.8L2036.5 1206.5L2041.7 1207.3L2046.8 1208L2051.9 1208.8L2057 1209.6L2061.8 1210.9L2066.5 1212.2L2073.2 1209.6L2080 1207L2085.7 1206.3L2091.6 1205.7L2097.4 1205L2103.2 1204.4L2108.9 1204L2114.6 1203.7L2120.3 1203.4L2126 1203.1L2131.4 1203.2L2136.8 1203.3L2142.3 1203.5L2147.7 1203.6L2153 1203.9L2158.2 1204.2L2163.5 1204.6L2168.7 1204.9L2174.6 1204.4L2180.4 1204L2186.3 1203.5L2192.1 1203.1L2197.3 1203.5L2202.4 1204L2207.5 1204.4L2212.6 1204.9L2217.1 1206.1L2221.5 1207.3L2225.8 1208.4L2230.1 1209.6L2234.5 1210.6L2238.9 1211.6L2243.2 1212.6L2247.5 1213.6L2251.4 1214.9L2255.1 1216.2L2258.9 1217.5L2262.5 1218.8L2252.2 1222.7L2241.8 1226.7L2228.2 1233.2L2234.1 1233.9L2239.9 1234.5L2244.9 1234.5L2249.8 1234.5L2254.7 1234.5L2259.6 1234.5L2244.7 1242.4L2226.6 1250.3L2202.2 1258.1L2141.8 1266L2138.5 1266L2135.2 1266L2131.9 1266L2128.6 1266L2125.3 1266L2122.1 1266L2118.8 1266L2115.5 1266L2112.2 1266L2108.9 1266L2105.7 1266L2102.4 1266L2099.1 1266L2095.8 1266L2092.5 1266L2089.2 1266L2086 1266L2082.7 1266L2079.4 1266L2076.1 1266L2072.8 1266L2069.6 1266L2066.3 1266L2063 1266L2059.7 1266L2056.4 1266L2053.2 1266L2049.9 1266L2046.6 1266L2043.3 1266L2040 1266L2036.8 1266L2033.5 1266L2030.2 1266L2026.9 1266L2023.6 1266L2020.3 1266L2017.1 1266L2013.8 1266L2010.5 1266L2007.2 1266L2003.9 1266L2000.7 1266L1997.4 1266L1994.1 1266L1990.8 1266L1987.5 1266L1984.2 1266L1981 1266L1977.7 1266L1974.4 1266L1971.1 1266L1967.8 1266L1964.6 1266L1961.3 1266L1958 1266L1954.7 1266L1951.4 1266L1948.2 1266L1944.9 1266L1941.6 1266L1938.3 1266L1935 1266L1931.8 1266L1928.5 1266L1925.2 1266L1921.9 1266L1918.6 1266L1915.3 1266L1912.1 1266L1908.8 1266L1905.5 1266L1902.2 1266L1898.9 1266L1895.7 1266L1892.4 1266L1889.1 1266L1885.8 1266L1882.5 1266L1879.2 1266L1876 1266L1872.7 1266L1869.4 1266L1866.1 1266L1862.8 1266L1859.6 1266L1856.3 1266L1853 1266L1849.7 1266L1846.4 1266L1843.2 1266L1839.9 1266L1836.6 1266L1833.3 1266L1830 1266L1826.8 1266L1823.5 1266L1820.2 1266L1816.9 1266L1813.6 1266L1810.3 1266L1807.1 1266L1803.8 1266L1800.5 1266L1797.2 1266L1793.9 1266L1790.7 1266L1787.4 1266L1784.1 1266L1780.8 1266L1777.5 1266L1774.2 1266L1771 1266L1767.7 1266L1764.4 1266L1761.1 1266L1757.8 1266L1754.6 1266L1751.3 1266L1748 1266L1744.7 1266L1741.4 1266L1738.2 1266L1734.9 1266L1731.6 1266L1728.3 1266L1725 1266L1721.8 1266L1718.5 1266L1715.2 1266L1711.9 1266L1708.6 1266L1705.3 1266L1702.1 1266L1698.8 1266L1695.5 1266L1692.2 1266L1688.9 1266L1685.7 1266L1682.4 1266L1679.1 1266L1675.8 1266L1672.5 1266L1669.2 1266L1608.8 1258.1L1584.4 1250.3L1566.3 1242.4Z" fill="#f1f3f8"/><path d="M1762.3 824.9L1769.3 821.9L1776.3 818.9L1782.4 817.6L1788.4 816.3L1794.3 815L1799.2 814.5L1804.2 814.1L1809.1 813.7L1813.9 813.2L1818.8 812.8L1823.6 812.4L1828.3 812.1L1832.9 811.9L1837.6 811.7L1842.2 811.5L1846.8 811.3L1851.4 811L1855.6 812L1859.8 813L1864.1 814L1868.4 815L1873.3 815.4L1878.2 815.9L1883.1 816.3L1877 818.9L1870.8 821.5L1868.6 828.1L1864.7 833.3L1859.5 839.9L1857.6 845.1L1849.2 850.4L1842.6 851L1836 851.7L1829.9 854.6L1823.8 857.5L1815.3 860.9L1807 872.7L1802.4 872.7L1796.2 870L1791.5 862.2L1788.4 854.3L1789.6 847.8L1796.5 846.4L1790 843.8L1789.6 837.3L1787.2 831.5L1782.3 831.2L1777.4 831L1772.5 830.7L1768.6 828.7L1764.9 826.8Z" fill="none" stroke="#dcdfe6" stroke-width="3" opacity="0.7"/><path d="M1725.1 829.4L1730.1 829.5L1735 829.7L1739.9 829.8L1744.8 829.9L1753.6 826L1763.8 822.8L1770.6 820.7L1777.3 818.5L1784 816.3L1791.6 813.7L1787.1 813.1L1782.7 812.6L1778.3 812.1L1773.7 812.2L1769.1 812.2L1764.5 812.3L1759.9 812.4L1754.6 813L1749.4 813.7L1744 814.3L1738.7 815L1730.8 818.9L1734.7 822.8L1733.3 826.8ZM1719.1 824.9L1726.3 824.5L1733.5 824.2L1739.5 819.7L1735.1 818.4L1730.8 817.1L1721.8 820.2ZM1742.5 833.3L1736.9 834L1731.3 834.6L1724.4 834.4L1717.4 834.1L1712 830.7L1721.8 828.6L1728.3 829.3L1734.8 829.9L1739.3 830.6L1743.9 831.2ZM1925.7 821.3L1933.2 826.8L1939.5 828.9L1946.7 824.7L1951.9 822.2L1957 819.7L1950.2 819.2L1943.4 818.6L1938.9 819.6L1934.2 820.5ZM2014.1 842.5L2022.4 844.6L2027.3 843.8L2021.4 837.3L2025.4 834.6L2029.1 832L2033.6 830.9L2038 829.7L2042.3 828.6L2037 828.1L2032.2 829L2027.3 829.8L2022.4 830.7L2016.7 836L2015.2 839.9ZM2089.9 822.8L2096.1 824.2L2102.2 825.5L2105.8 824.2L2109.3 822.8L2101.7 820.2L2094 817.6L2090 818.3L2085.9 818.9ZM1995.2 819.7L2000.4 819.9L2005.6 820L2010.8 820.2L2016.8 819.2L2022.7 818.1L2013.6 815.8L2009 816.4L2004.4 817L1999.7 817.6ZM1756.1 867.4L1747.5 866.1L1740.4 861.4L1731.7 860.9L1737.9 856.9L1745.1 855.6L1747.3 850.9L1742.7 849.3L1738.1 847.8L1730.2 846.4L1725.1 846.1L1720 845.7L1716.7 842.5L1721.3 837.3L1729.9 836.7L1737 838.6L1738 840.4L1745 839.1L1749.7 842L1755 843.8L1760.2 846.4L1760.5 850.4L1768.1 853L1770.6 855.1L1763.4 859.6L1759.7 863.5ZM1667.1 833.3L1673.9 833.6L1680.8 833.9L1690.6 832L1689.1 829.4L1681.8 829.7L1674.5 829.9ZM1643 841.2L1645.3 843.3L1652.6 842.2L1661.1 838.6L1667.3 835.2L1662.5 834.9L1657.6 834.6L1648.6 836.5ZM1685.7 849.1L1678.9 849.5L1672.2 849.9L1666.2 849.2L1660.2 848.5L1655 845.7L1657.3 840.4L1668 837.8L1674.4 838.2L1680.8 838.6L1685.6 840.4L1690.3 842.5L1689.6 846.4ZM1705 841.2L1710.7 840.5L1716.3 839.9L1720.1 836L1715 836L1709.8 836ZM1690.2 841.2L1695.5 841.9L1700.9 842.5L1705.7 837.3L1697.1 836.5ZM2183.2 832L2189.1 832.5L2195.1 832.9L2201 833.3L2205.6 832.9L2210.2 832.5L2201.9 831.6L2193.7 830.7L2188.7 830.7L2183.6 830.7Z" fill="#e4e4da"/><path d="M2021.6 910.7L2027.2 907.3L2034.6 908.1L2035.3 912L2030.6 913.3L2030 917.2L2036.1 919.9L2039.2 923.8L2039 927.7L2041 933L2033.6 933.8L2028.2 931.4L2028.7 925.1L2022.6 917.2L2020.7 912.8Z" fill="#7db1d6"/></g><rect x="1433.0" y="794.0" width="945.0" height="472.0" rx="236.0" ry="236.0" fill="none" stroke="#000" stroke-width="2.9"/><line x1="1919.7" y1="905.6" x2="1927.6" y2="879.2" stroke="#33ff00" stroke-width="3.6" stroke-linecap="round"/><text x="1938.5" y="873.2" font-size="29.43" textLength="170.9" lengthAdjust="spacingAndGlyphs">05:16:16 UT</text><text x="1931.4" y="926.3" font-size="29.43" textLength="170.9" lengthAdjust="spacingAndGlyphs">05:13:20 UT</text>
<polygon points="182.9,72.2 224.5,0.5 306.8,0.5 348.9,72.2 306.8,144.4 224.5,144.4" fill="#fff" stroke="#b5dfe6" stroke-width="1.1"/><defs><clipPath id="hexc"><polygon points="192.2,72.2 228.6,9.1 302.6,9.1 338.8,72.2 302.6,135.3 228.6,135.3"/></clipPath><linearGradient id="earthg" x1="0" y1="0" x2="0.3" y2="1"><stop offset="0" stop-color="#d4eafa"/><stop offset="0.25" stop-color="#9cc6ee"/><stop offset="0.6" stop-color="#79abe2"/><stop offset="1" stop-color="#5f95d6"/></linearGradient><filter id="bl2" x="-50%" y="-50%" width="200%" height="200%"><feGaussianBlur stdDeviation="2"/></filter><filter id="bl1" x="-50%" y="-50%" width="200%" height="200%"><feGaussianBlur stdDeviation="1"/></filter></defs><g clip-path="url(#hexc)"><rect x="185" y="5" width="160" height="135" fill="#05070c"/><path d="M188 103 Q 262 80 345 67" fill="none" stroke="#1fae5e" stroke-width="11" filter="url(#bl2)"/><path d="M188 99 Q 262 76 345 63" fill="none" stroke="#0a3a24" stroke-width="5" filter="url(#bl2)"/><path d="M186 110 Q 262 84 346 73 L346 145 L186 145Z" fill="url(#earthg)"/><path d="M190 109 Q 262 85 346 74" fill="none" stroke="#dff0fb" stroke-width="3" filter="url(#bl1)"/><g filter="url(#bl2)" fill="#f4f9fd" opacity="0.95"><ellipse cx="245" cy="108" rx="22" ry="5" transform="rotate(-15 245 108)"/><ellipse cx="290" cy="98" rx="20" ry="4" transform="rotate(-12 290 98)"/><ellipse cx="262" cy="120" rx="18" ry="4" transform="rotate(-12 262 120)"/><ellipse cx="228" cy="122" rx="10" ry="4"/><ellipse cx="315" cy="92" rx="10" ry="3"/></g><polygon points="319.5,105.5 327,101 306.5,132 294,119.6" fill="#2f62b8"/><path d="M222 131 Q 262 126 283 119.5 Q 293 116.5 297 120.5 L 307 132 L 302 140 L 226 140 Z" fill="#fff"/><line x1="276" y1="65" x2="305.5" y2="107" stroke="#fff" stroke-width="1.6" opacity="0.85"/><g stroke-linecap="round"><line x1="245.6" y1="31.6" x2="241.7" y2="13.4" stroke="#6a6a60" stroke-width="0.6"/><line x1="265.6" y1="36.3" x2="279" y2="28.7" stroke="#6a6a60" stroke-width="0.6"/><line x1="238.9" y1="53.6" x2="219.7" y2="59.3" stroke="#77705a" stroke-width="0.7"/><line x1="221" y1="60.3" x2="239" y2="63.3" stroke="#e0a040" stroke-width="1.6"/><line x1="254.2" y1="74.6" x2="243.6" y2="89.9" stroke="#b07830" stroke-width="1.1"/><line x1="262" y1="74" x2="263.5" y2="84" stroke="#b07830" stroke-width="0.9"/></g><polygon points="247.5,34 278.1,45.9 282.4,55.5 265.6,53.6 249.4,41.1" fill="#2763b3"/><polygon points="249.4,41.1 265.6,53.6 259.4,72.7 238.4,61.2" fill="#3f8be0"/><polygon points="265.6,53.6 282.4,55.5 275.2,68.9 259.4,72.7" fill="#c59a4c"/><polygon points="268,57 279,58.3 275.5,64 267,63" fill="#3a2a18"/><polygon points="264.5,63.5 272,63 269.5,69.5 262.5,70.8" fill="#bfe0f6"/><polyline points="247.5,34 249.4,41.1 238.4,61.2" fill="none" stroke="#e0a850" stroke-width="1.2"/><polygon points="253,73 266,71.5 265,79 257,80" fill="#5a4a38"/><circle cx="232.2" cy="27.7" r="1.3" fill="#a8a0e8"/><circle cx="202" cy="66.5" r="1" fill="#9890d8"/><circle cx="296" cy="24" r="0.5" fill="#ddd"/><circle cx="305" cy="47" r="0.5" fill="#ccc"/><circle cx="270" cy="18" r="0.4" fill="#ccc"/><circle cx="265.6" cy="116.7" r="6.6" fill="#1c62b8"/><path d="M261.5 118.5 L265.6 111.5 L269.7 118.5" fill="none" stroke="#dfeaf6" stroke-width="0.8"/><circle cx="265.6" cy="117.6" r="1" fill="#e03030"/><rect x="261.6" y="119.6" width="8" height="1.6" fill="#dfeaf6"/></g><text x="236" y="133.4" font-size="6.8" font-weight="bold" font-style="italic" textLength="58.8" lengthAdjust="spacingAndGlyphs" fill="#35a6e0">CASSIOPE</text><defs><clipPath id="esac"><circle cx="2084.3" cy="64.7" r="50.6"/></clipPath><clipPath id="esae1"><ellipse cx="2107.1" cy="60.9" rx="12.3" ry="13.3"/></clipPath><clipPath id="esae2"><ellipse cx="2114.5" cy="70.5" rx="19.9" ry="16.6"/></clipPath><clipPath id="esae1b"><rect x="2090" y="40" width="50" height="20.9"/></clipPath><clipPath id="esae2b"><rect x="2090" y="70.5" width="50" height="30"/></clipPath></defs><g clip-path="url(#esac)"><g fill="none" stroke="#4b82c6" stroke-width="1.8"><circle cx="2111.2" cy="20.7" r="8.00"/><circle cx="2111.2" cy="20.7" r="11.30"/><circle cx="2111.2" cy="20.7" r="14.60"/><circle cx="2111.2" cy="20.7" r="17.90"/><circle cx="2111.2" cy="20.7" r="21.20"/><circle cx="2111.2" cy="20.7" r="24.50"/><circle cx="2111.2" cy="20.7" r="27.80"/><circle cx="2111.2" cy="20.7" r="31.10"/><circle cx="2111.2" cy="20.7" r="34.40"/><circle cx="2111.2" cy="20.7" r="37.70"/><circle cx="2111.2" cy="20.7" r="41.00"/><circle cx="2111.2" cy="20.7" r="44.30"/><circle cx="2111.2" cy="20.7" r="47.60"/><circle cx="2111.2" cy="20.7" r="50.90"/><circle cx="2111.2" cy="20.7" r="54.20"/><circle cx="2111.2" cy="20.7" r="57.50"/><circle cx="2111.2" cy="20.7" r="60.80"/><circle cx="2111.2" cy="20.7" r="64.10"/><circle cx="2111.2" cy="20.7" r="67.40"/><circle cx="2111.2" cy="20.7" r="70.70"/><circle cx="2111.2" cy="20.7" r="74.00"/><circle cx="2111.2" cy="20.7" r="77.30"/><circle cx="2111.2" cy="20.7" r="80.60"/><circle cx="2111.2" cy="20.7" r="83.90"/><circle cx="2111.2" cy="20.7" r="87.20"/><circle cx="2111.2" cy="20.7" r="90.50"/><circle cx="2111.2" cy="20.7" r="93.80"/><circle cx="2111.2" cy="20.7" r="97.10"/><circle cx="2111.2" cy="20.7" r="100.40"/><circle cx="2111.2" cy="20.7" r="103.70"/><circle cx="2111.2" cy="20.7" r="107.00"/><circle cx="2111.2" cy="20.7" r="110.30"/><circle cx="2111.2" cy="20.7" r="113.60"/><circle cx="2111.2" cy="20.7" r="116.90"/><circle cx="2111.2" cy="20.7" r="120.20"/><circle cx="2111.2" cy="20.7" r="123.50"/></g><circle cx="2106.2" cy="67.2" r="26.5" fill="#fff"/><polygon points="2100,94 2123,97.5 2108,112 2140,116 2140,80 2131,80" fill="#fff"/><g clip-path="url(#esae1)"><g clip-path="url(#esae1b)"><path d="M2090 40.8Q2112 38.8 2137 40.8M2090 44.1Q2112 42.1 2137 44.1M2090 47.4Q2112 45.4 2137 47.4M2090 50.7Q2112 48.7 2137 50.7M2090 54.0Q2112 52.0 2137 54.0M2090 57.3Q2112 55.3 2137 57.3M2090 60.6Q2112 58.6 2137 60.6M2090 63.9Q2112 61.9 2137 63.9M2090 67.2Q2112 65.2 2137 67.2M2090 70.5Q2112 68.5 2137 70.5M2090 73.8Q2112 71.8 2137 73.8M2090 77.1Q2112 75.1 2137 77.1M2090 80.4Q2112 78.4 2137 80.4M2090 83.7Q2112 81.7 2137 83.7M2090 87.0Q2112 85.0 2137 87.0M2090 90.3Q2112 88.3 2137 90.3" stroke="#4b82c6" stroke-width="1.8" fill="none"/></g></g><g clip-path="url(#esae2)"><g clip-path="url(#esae2b)"><path d="M2090 40.8Q2112 38.8 2137 40.8M2090 44.1Q2112 42.1 2137 44.1M2090 47.4Q2112 45.4 2137 47.4M2090 50.7Q2112 48.7 2137 50.7M2090 54.0Q2112 52.0 2137 54.0M2090 57.3Q2112 55.3 2137 57.3M2090 60.6Q2112 58.6 2137 60.6M2090 63.9Q2112 61.9 2137 63.9M2090 67.2Q2112 65.2 2137 67.2M2090 70.5Q2112 68.5 2137 70.5M2090 73.8Q2112 71.8 2137 73.8M2090 77.1Q2112 75.1 2137 77.1M2090 80.4Q2112 78.4 2137 80.4M2090 83.7Q2112 81.7 2137 83.7M2090 87.0Q2112 85.0 2137 87.0M2090 90.3Q2112 88.3 2137 90.3" stroke="#4b82c6" stroke-width="1.8" fill="none"/></g></g><circle cx="2056.9" cy="65.5" r="6.2" fill="#fff"/></g><text x="2142" y="93.6" font-size="104" font-weight="bold" textLength="169" lengthAdjust="spacingAndGlyphs" fill="#152a80">esa</text>
</svg>
</body></html>
